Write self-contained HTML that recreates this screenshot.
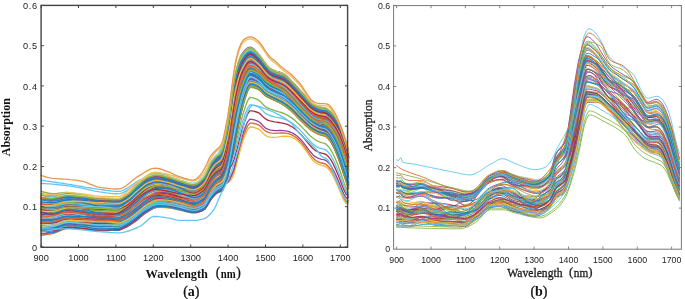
<!DOCTYPE html>
<html><head><meta charset="utf-8">
<style>
html,body{margin:0;padding:0;background:#fff;width:685px;height:299px;overflow:hidden}
svg{display:block}
.sans{font-family:"Liberation Sans",sans-serif}
.serif{font-family:"Liberation Serif",serif}
</style></head>
<body>
<svg width="685" height="299" viewBox="0 0 685 299">
<rect width="685" height="299" fill="#fff"/>
<defs><filter id="bl" x="-2%" y="-2%" width="104%" height="104%"><feGaussianBlur stdDeviation="0.4"/></filter></defs>
<g filter="url(#bl)">
<g fill="none" stroke-width="1.35" stroke-linejoin="round" stroke-linecap="round" opacity="0.88">
<path d="M41.1 180.2l2.2 .3 2.3 .3 2.2 .3 2.3 .4 2.2 .3 2.3 .3 2.2 .4 2.3 .3 2.2 .3 2.2 .4 2.3 .3 2.2 .4 2.3 .3 2.2 .4 2.3 .4 2.2 .4 2.2 .4 2.3 .4 2.2 .4 2.3 .4 2.2 .3 2.3 .4 2.2 .4 2.3 .3 2.2 .4 2.2 .3 2.3 .3 2.2 .3 2.3 .3 2.2 .3 2.3 .3 2.2 .3 2.3 .1 2.2 .1 2.2-.1 2.3-.5 2.2-.9 2.3-1.2 2.2-1.4 2.3-1.5 2.2-1.6 2.2-1.5 2.3-1.3 2.2-1.2 2.3-1.3 2.2-1.4 2.3-1.4 2.2-1.3 2.3-1 2.2-.7 2.2-.2 2.3 .2 2.2 .3 2.3 .5 2.2 .7 2.3 .8 2.2 .8 2.3 .9 2.2 .8 2.2 .9 2.3 .7 2.2 .7 2.3 .6 2.2 .7 2.3 .7 2.2 .6 2.2 .4 2.3 .2 2.2-.5 2.3-1.3 2.2-1.8 2.3-2.2 2.2-2.3 2.3-2.5 2.2-3.2 2.2-3.7 2.3-4 2.2-4.1 2.3-4.1 2.2-4 2.3-4.1 2.2-4.7 2.3-5.4 2.2-6.5 2.2-10.7 2.3-14 2.2-13.8 2.3-10.5 2.2-5.6 2.3-4.7 2.2-3.9 2.2-2.8 2.3-1.2 2.2 .2 2.3 .7 2.2 1.2 2.3 1.4 2.2 1.5 2.3 1.6 2.2 1.4 2.2 1.3 2.3 1.4 2.2 1.4 2.3 1.4 2.2 1.5 2.3 1.5 2.2 1.5 2.3 1.6 2.2 1.6 2.2 1.6 2.3 1.7 2.2 1.6 2.3 1.8 2.2 1.7 2.3 1.8 2.2 1.9 2.2 1.9 2.3 2 2.2 2 2.3 2 2.2 2.1 2.3 2.1 2.2 2.1 2.3 2 2.2 2.1 2.2 2 2.3 1.9 2.2 1.9 2.3 2.1 2.2 2.2 2.3 2.7 2.2 3.3 2.3 4 2.2 4.6 2.2 5.1 2.3 6.1 2.2 7.1" stroke="#4DBEEE"/>
<path d="M41.1 183.4l2.2 .1 2.3 .1 2.2 .2 2.3 .1 2.2 .2 2.3 .2 2.2 .2 2.3 .3 2.2 .2 2.2 .3 2.3 .2 2.2 .3 2.3 .3 2.2 .3 2.3 .4 2.2 .5 2.2 .4 2.3 .5 2.2 .5 2.3 .5 2.2 .5 2.3 .5 2.2 .4 2.3 .5 2.2 .3 2.2 .4 2.3 .3 2.2 .3 2.3 .4 2.2 .3 2.3 .3 2.2 .2 2.3 .2 2.2 0 2.2-.1 2.3-.5 2.2-1 2.3-1.3 2.2-1.4 2.3-1.6 2.2-1.6 2.2-1.5 2.3-1.4 2.2-1.2 2.3-1.3 2.2-1.3 2.3-1.3 2.2-1.2 2.3-1 2.2-.6 2.2-.2 2.3 .2 2.2 .3 2.3 .5 2.2 .5 2.3 .7 2.2 .8 2.3 .7 2.2 .8 2.2 .7 2.3 .7 2.2 .6 2.3 .5 2.2 .6 2.3 .7 2.2 .5 2.2 .3 2.3 .2 2.2-.4 2.3-.9 2.2-1.4 2.3-1.7 2.2-1.8 2.3-2.1 2.2-3 2.2-3.5 2.3-4 2.2-4 2.3-4 2.2-4 2.3-4.1 2.2-4.7 2.3-5.5 2.2-6.5 2.2-10.7 2.3-13.9 2.2-13.9 2.3-10.5 2.2-5.5 2.3-4.8 2.2-3.9 2.2-2.8 2.3-1.2 2.2 .2 2.3 .7 2.2 1.2 2.3 1.4 2.2 1.6 2.3 1.5 2.2 1.4 2.2 1.4 2.3 1.3 2.2 1.4 2.3 1.5 2.2 1.4 2.3 1.5 2.2 1.6 2.3 1.5 2.2 1.6 2.2 1.6 2.3 1.7 2.2 1.7 2.3 1.7 2.2 1.7 2.3 1.9 2.2 1.8 2.2 2 2.3 1.9 2.2 2 2.3 2.1 2.2 2 2.3 2.1 2.2 2.1 2.3 2.1 2.2 2 2.2 2.1 2.3 1.9 2.2 1.9 2.3 2 2.2 2.3 2.3 2.6 2.2 3.4 2.3 4.1 2.2 4.6 2.2 4.8 2.3 5.4 2.2 5.9" stroke="#4DBEEE"/>
<path d="M41.1 233.6l2.2-.2 2.3-.3 2.2-.4 2.3-.4 2.2-.4 2.3-.6 2.2-.8 2.3-.9 2.2-.9 2.2-.8 2.3-.6 2.2-.2 2.3 0 2.2 .1 2.3 .2 2.2 .2 2.2 .3 2.3 .2 2.2 .2 2.3 .3 2.2 .3 2.3 .4 2.2 .3 2.3 .3 2.2 .1 2.2 .1 2.3 0 2.2 0 2.3 .1 2.2 0 2.3 0 2.2 .1 2.3 0 2.2 0 2.2-.2 2.3-.9 2.2-1 2.3-1.1 2.2-1.3 2.3-1.4 2.2-1.4 2.2-1.6 2.3-1.7 2.2-1.9 2.3-2 2.2-1.8 2.3-1.6 2.2-1.3 2.3-1.4 2.2-1.3 2.2-.9 2.3-.4 2.2-.1 2.3-.1 2.2 .1 2.3 0 2.2 .2 2.3 .3 2.2 .5 2.2 .5 2.3 .6 2.2 .5 2.3 .6 2.2 .7 2.3 .6 2.2 .6 2.2 .4 2.3 .2 2.2-.2 2.3-.4 2.2-.7 2.3-1 2.2-1.4 2.3-3.2 2.2-4 2.2-3.3 2.3-2.8 2.2-2.3 2.3-1.4 2.2-.9 2.3-1.9 2.2-4.9 2.3-7.6 2.2-10.8 2.2-13.2 2.3-14.4 2.2-13.7 2.3-12.6 2.2-10.5 2.3-8.5 2.2-6.3 2.2-5.4 2.3-3 2.2 .3 2.3 .8 2.2 1.2 2.3 1.4 2.2 2.1 2.3 2.7 2.2 2.2 2.2 1.7 2.3 1.3 2.2 1.1 2.3 1.1 2.2 1 2.3 1 2.2 1.1 2.3 1.3 2.2 1.5 2.2 1.8 2.3 1.9 2.2 2.1 2.3 2.2 2.2 2.3 2.3 2.4 2.2 2.3 2.2 2.2 2.3 2.2 2.2 2.1 2.3 2 2.2 1.6 2.3 1.5 2.2 1.2 2.3 1 2.2 .7 2.2 .5 2.3 .9 2.2 2 2.3 2.8 2.2 3.7 2.3 4.5 2.2 4.9 2.3 5.6 2.2 6.4 2.2 6.7 2.3 7 2.2 7.3" stroke="#7E2F8E"/>
<path d="M41.1 205.7l2.2 .6 2.3 .4 2.2 .3 2.3 .2 2.2 .2 2.3-.1 2.2-.3 2.3-.5 2.2-.5 2.2-.5 2.3-.4 2.2-.1 2.3 0 2.2 .1 2.3 .1 2.2 .1 2.2 .1 2.3 .1 2.2 .1 2.3 .1 2.2 .2 2.3 .2 2.2 .2 2.3 .2 2.2 .2 2.2 .1 2.3 .1 2.2 .1 2.3 .1 2.2 .2 2.3 .2 2.2 .2 2.3 .2 2.2 .2 2.2 0 2.3-.7 2.2-1 2.3-1.3 2.2-1.3 2.3-1.7 2.2-1.9 2.2-2.1 2.3-2 2.2-2 2.3-2 2.2-1.9 2.3-1.5 2.2-1.2 2.3-1.1 2.2-.9 2.2-.6 2.3-.1 2.2 .1 2.3 .3 2.2 .4 2.3 .4 2.2 .5 2.3 .6 2.2 .7 2.2 .9 2.3 .9 2.2 .8 2.3 .8 2.2 1 2.3 .9 2.2 .8 2.2 .6 2.3 .3 2.2-.2 2.3-.9 2.2-1.4 2.3-1.8 2.2-2.3 2.3-4.3 2.2-4.9 2.2-4 2.3-3 2.2-2.5 2.3-1.6 2.2-1.7 2.3-3.5 2.2-6.4 2.3-6.8 2.2-8.3 2.2-10.7 2.3-10.4 2.2-8 2.3-7.7 2.2-7.3 2.3-7.2 2.2-6.2 2.2-5.2 2.3-3 2.2 0 2.3 .8 2.2 1.1 2.3 1.3 2.2 2 2.3 2.6 2.2 2.2 2.2 1.7 2.3 1.4 2.2 1.2 2.3 1.1 2.2 1.2 2.3 1.1 2.2 1.3 2.3 1.4 2.2 1.7 2.2 2 2.3 2.2 2.2 2.3 2.3 2.4 2.2 2.5 2.3 2.5 2.2 2.4 2.2 2.2 2.3 2.2 2.2 2.1 2.3 2 2.2 1.5 2.3 1.3 2.2 1.1 2.3 .8 2.2 .5 2.2 .3 2.3 .6 2.2 1.8 2.3 2.3 2.2 3.3 2.3 4 2.2 4.4 2.3 5.2 2.2 5.9 2.2 6.3 2.3 6.6 2.2 7" stroke="#4DBEEE"/>
<path d="M41.1 229.1l2.2 0 2.3-.1 2.2-.1 2.3-.2 2.2-.3 2.3-.4 2.2-.7 2.3-.7 2.2-.8 2.2-.7 2.3-.5 2.2-.2 2.3 0 2.2 .2 2.3 .1 2.2 .3 2.2 .2 2.3 .2 2.2 .2 2.3 .3 2.2 .3 2.3 .4 2.2 .3 2.3 .2 2.2 .2 2.2 .1 2.3 0 2.2 0 2.3 0 2.2 0 2.3-.1 2.2 0 2.3-.1 2.2-.1 2.2-.3 2.3-.9 2.2-1.2 2.3-1.2 2.2-1.4 2.3-1.5 2.2-1.5 2.2-1.7 2.3-1.7 2.2-1.9 2.3-1.9 2.2-1.7 2.3-1.5 2.2-1.2 2.3-1.2 2.2-1.1 2.2-.7 2.3-.3 2.2 0 2.3 .1 2.2 .2 2.3 .1 2.2 .2 2.3 .4 2.2 .5 2.2 .5 2.3 .6 2.2 .6 2.3 .5 2.2 .7 2.3 .6 2.2 .6 2.2 .4 2.3 .2 2.2-.2 2.3-.5 2.2-.8 2.3-1.1 2.2-1.5 2.3-3.4 2.2-4 2.2-3.4 2.3-2.7 2.2-2.3 2.3-1.4 2.2-1 2.3-1.8 2.2-4.6 2.3-6.6 2.2-9.3 2.2-11.3 2.3-12.2 2.2-11.9 2.3-11.3 2.2-10 2.3-9 2.2-6.9 2.2-6.1 2.3-3.4 2.2 0 2.3 .6 2.2 .9 2.3 1.1 2.2 1.8 2.3 2.6 2.2 2 2.2 1.5 2.3 1.2 2.2 1 2.3 1.1 2.2 1.1 2.3 1.1 2.2 1.2 2.3 1.4 2.2 1.5 2.2 1.8 2.3 1.9 2.2 2 2.3 2.2 2.2 2.4 2.3 2.3 2.2 2.3 2.2 2.2 2.3 2.1 2.2 2.1 2.3 1.9 2.2 1.7 2.3 1.4 2.2 1.2 2.3 1 2.2 .7 2.2 .5 2.3 .9 2.2 2.1 2.3 2.8 2.2 3.8 2.3 4.7 2.2 5.1 2.3 5.8 2.2 6.6 2.2 6.6 2.3 6.9 2.2 7.1" stroke="#D95319"/>
<path d="M41.1 213.9l2.2-.1 2.3-.1 2.2-.2 2.3-.2 2.2-.2 2.3-.5 2.2-.6 2.3-.7 2.2-.8 2.2-.6 2.3-.5 2.2-.2 2.3 .1 2.2 .3 2.3 .4 2.2 .5 2.2 .5 2.3 .6 2.2 .6 2.3 .6 2.2 .7 2.3 .6 2.2 .7 2.3 .5 2.2 .3 2.2 .2 2.3 0 2.2 0 2.3-.1 2.2-.1 2.3-.2 2.2-.2 2.3-.3 2.2-.2 2.2-.5 2.3-1.2 2.2-1.5 2.3-1.5 2.2-1.6 2.3-1.9 2.2-1.9 2.2-2 2.3-1.9 2.2-1.9 2.3-1.9 2.2-1.7 2.3-1.4 2.2-1 2.3-1 2.2-.8 2.2-.4 2.3-.1 2.2 .3 2.3 .3 2.2 .5 2.3 .4 2.2 .4 2.3 .6 2.2 .6 2.2 .8 2.3 .7 2.2 .7 2.3 .7 2.2 .7 2.3 .7 2.2 .7 2.2 .4 2.3 .2 2.2-.3 2.3-.8 2.2-1.3 2.3-1.6 2.2-2.1 2.3-4.2 2.2-4.9 2.2-3.9 2.3-3.1 2.2-2.7 2.3-1.8 2.2-1.6 2.3-4.1 2.2-8.5 2.3-10.9 2.2-14 2.2-18.1 2.3-18.5 2.2-13.7 2.3-11 2.2-7.6 2.3-4.6 2.2-3.2 2.2-2.5 2.3-1.2 2.2 .5 2.3 1.5 2.2 2.2 2.3 2.2 2.2 2.7 2.3 3.2 2.2 2.8 2.2 2.6 2.3 2 2.2 1.2 2.3 1 2.2 .8 2.3 .7 2.2 .7 2.3 .9 2.2 1.4 2.2 2 2.3 2.2 2.2 2.3 2.3 2.3 2.2 2.4 2.3 2.5 2.2 2.5 2.2 2.4 2.3 2.5 2.2 2.5 2.3 2.2 2.2 1.8 2.3 1.4 2.2 1.2 2.3 .9 2.2 .5 2.2 .3 2.3 .7 2.2 1.6 2.3 2.1 2.2 2.8 2.3 3.3 2.2 3.6 2.3 4.3 2.2 5.4 2.2 6.7 2.3 7.4 2.2 8.4" stroke="#EDB120"/>
<path d="M41.1 211.1l2.2 .2 2.3 .1 2.2 0 2.3-.1 2.2-.1 2.3-.3 2.2-.6 2.3-.6 2.2-.7 2.2-.6 2.3-.5 2.2-.2 2.3 .1 2.2 .1 2.3 .2 2.2 .2 2.2 .2 2.3 .2 2.2 .3 2.3 .2 2.2 .4 2.3 .3 2.2 .3 2.3 .3 2.2 .1 2.2 .1 2.3 0 2.2-.1 2.3 0 2.2-.1 2.3-.1 2.2-.2 2.3-.1 2.2-.2 2.2-.4 2.3-1.1 2.2-1.4 2.3-1.5 2.2-1.6 2.3-1.9 2.2-2 2.2-2 2.3-2 2.2-1.9 2.3-1.9 2.2-1.7 2.3-1.4 2.2-1 2.3-1 2.2-.7 2.2-.4 2.3-.1 2.2 .3 2.3 .4 2.2 .4 2.3 .5 2.2 .4 2.3 .6 2.2 .6 2.2 .7 2.3 .6 2.2 .6 2.3 .6 2.2 .6 2.3 .6 2.2 .6 2.2 .3 2.3 .1 2.2-.4 2.3-1 2.2-1.4 2.3-1.8 2.2-2.2 2.3-4.2 2.2-4.8 2.2-3.8 2.3-2.9 2.2-2.3 2.3-1.5 2.2-1.4 2.3-3.6 2.2-7 2.3-8.1 2.2-10.2 2.2-13.2 2.3-13 2.2-9.7 2.3-8.6 2.2-7.2 2.3-6 2.2-4.9 2.2-4 2.3-2.2 2.2 .4 2.3 1.3 2.2 1.6 2.3 1.8 2.2 2.4 2.3 2.9 2.2 2.5 2.2 2.1 2.3 1.6 2.2 1.2 2.3 .9 2.2 .9 2.3 .8 2.2 .9 2.3 1 2.2 1.4 2.2 1.7 2.3 1.9 2.2 2.1 2.3 2.2 2.2 2.2 2.3 2.4 2.2 2.3 2.2 2.3 2.3 2.3 2.2 2.2 2.3 2.1 2.2 1.6 2.3 1.4 2.2 1.1 2.3 .9 2.2 .5 2.2 .4 2.3 .7 2.2 1.8 2.3 2.4 2.2 3.2 2.3 3.8 2.2 4.3 2.3 5 2.2 5.8 2.2 6.6 2.3 7.1 2.2 7.7" stroke="#D95319"/>
<path d="M41.1 203.4l2.2 .4 2.3 .3 2.2 .2 2.3 .1 2.2 0 2.3-.1 2.2-.4 2.3-.5 2.2-.6 2.2-.5 2.3-.4 2.2-.2 2.3 0 2.2 .1 2.3 .1 2.2 .2 2.2 .2 2.3 .1 2.2 .2 2.3 .2 2.2 .3 2.3 .3 2.2 .3 2.3 .3 2.2 .2 2.2 .1 2.3 0 2.2 .1 2.3 .1 2.2 .1 2.3 .1 2.2 .1 2.3 .1 2.2 .1 2.2-.1 2.3-.8 2.2-1.3 2.3-1.3 2.2-1.5 2.3-1.8 2.2-2.1 2.2-2.1 2.3-2.1 2.2-2.1 2.3-2 2.2-2 2.3-1.6 2.2-1.2 2.3-1.1 2.2-.9 2.2-.6 2.3-.1 2.2 .1 2.3 .3 2.2 .4 2.3 .5 2.2 .5 2.3 .6 2.2 .8 2.2 .8 2.3 .8 2.2 .8 2.3 .7 2.2 .9 2.3 .9 2.2 .7 2.2 .5 2.3 .3 2.2-.3 2.3-1 2.2-1.6 2.3-1.9 2.2-2.4 2.3-4.4 2.2-5 2.2-4 2.3-2.9 2.2-2.4 2.3-1.5 2.2-1.7 2.3-4.2 2.2-8.3 2.3-9.6 2.2-11.7 2.2-15.4 2.3-15.1 2.2-10.1 2.3-8.5 2.2-6.4 2.3-4.7 2.2-3.9 2.2-3.1 2.3-1.6 2.2 .3 2.3 1.2 2.2 1.8 2.3 1.9 2.2 2.5 2.3 2.9 2.2 2.6 2.2 2.3 2.3 1.8 2.2 1.2 2.3 .9 2.2 .8 2.3 .8 2.2 .7 2.3 1 2.2 1.4 2.2 1.9 2.3 2.2 2.2 2.3 2.3 2.3 2.2 2.4 2.3 2.5 2.2 2.5 2.2 2.3 2.3 2.5 2.2 2.5 2.3 2.2 2.2 1.8 2.3 1.5 2.2 1.2 2.3 1 2.2 .6 2.2 .5 2.3 .8 2.2 1.8 2.3 2.3 2.2 3 2.3 3.6 2.2 3.9 2.3 4.6 2.2 5.7 2.2 6.8 2.3 7.5 2.2 8.3" stroke="#77AC30"/>
<path d="M41.1 199.6l2.2 .4 2.3 .3 2.2 .2 2.3 .1 2.2 .1 2.3-.2 2.2-.3 2.3-.5 2.2-.5 2.2-.5 2.3-.3 2.2-.1 2.3 .1 2.2 .1 2.3 .3 2.2 .3 2.2 .3 2.3 .3 2.2 .3 2.3 .4 2.2 .4 2.3 .4 2.2 .4 2.3 .4 2.2 .3 2.2 .2 2.3 .1 2.2 .1 2.3 0 2.2 .1 2.3-.1 2.2 0 2.3-.1 2.2 0 2.2-.3 2.3-1 2.2-1.4 2.3-1.5 2.2-1.6 2.3-1.9 2.2-2.2 2.2-2.2 2.3-2.1 2.2-2 2.3-1.9 2.2-1.8 2.3-1.5 2.2-1 2.3-.8 2.2-.7 2.2-.4 2.3 .1 2.2 .3 2.3 .4 2.2 .6 2.3 .6 2.2 .5 2.3 .6 2.2 .8 2.2 .8 2.3 .7 2.2 .7 2.3 .7 2.2 .8 2.3 .8 2.2 .6 2.2 .5 2.3 .1 2.2-.4 2.3-1.1 2.2-1.7 2.3-2 2.2-2.6 2.3-4.6 2.2-5.2 2.2-4.1 2.3-3.1 2.2-2.4 2.3-1.7 2.2-1.8 2.3-4.6 2.2-8.8 2.3-10 2.2-12.1 2.2-16 2.3-15.5 2.2-10.2 2.3-8.2 2.2-6 2.3-4.1 2.2-3.5 2.2-2.6 2.3-1.2 2.2 .4 2.3 1.6 2.2 2.1 2.3 2.2 2.2 2.6 2.3 3.2 2.2 2.8 2.2 2.5 2.3 2 2.2 1.2 2.3 1 2.2 .8 2.3 .8 2.2 .8 2.3 .9 2.2 1.4 2.2 2 2.3 2.2 2.2 2.4 2.3 2.3 2.2 2.4 2.3 2.5 2.2 2.5 2.2 2.4 2.3 2.5 2.2 2.4 2.3 2.3 2.2 1.7 2.3 1.4 2.2 1.2 2.3 .8 2.2 .5 2.2 .4 2.3 .6 2.2 1.6 2.3 2.1 2.2 2.8 2.3 3.3 2.2 3.7 2.3 4.3 2.2 5.4 2.2 6.6 2.3 7.4 2.2 8.3" stroke="#EDB120"/>
<path d="M41.1 203l2.2 .3 2.3 .2 2.2 .1 2.3 0 2.2-.1 2.3-.3 2.2-.5 2.3-.6 2.2-.6 2.2-.6 2.3-.5 2.2-.2 2.3-.1 2.2 0 2.3 0 2.2 0 2.2 .1 2.3 0 2.2 0 2.3 .1 2.2 .1 2.3 .1 2.2 .2 2.3 .1 2.2 .1 2.2 .1 2.3 0 2.2 0 2.3 .1 2.2 .1 2.3 .1 2.2 .1 2.3 .1 2.2 .1 2.2-.1 2.3-.8 2.2-1.2 2.3-1.4 2.2-1.5 2.3-1.8 2.2-2.2 2.2-2.2 2.3-2.1 2.2-2 2.3-2 2.2-1.9 2.3-1.5 2.2-1 2.3-1 2.2-.7 2.2-.5 2.3 0 2.2 .2 2.3 .4 2.2 .5 2.3 .6 2.2 .5 2.3 .7 2.2 .7 2.2 .8 2.3 .8 2.2 .7 2.3 .7 2.2 .8 2.3 .8 2.2 .7 2.2 .4 2.3 .2 2.2-.4 2.3-1.1 2.2-1.7 2.3-2 2.2-2.6 2.3-4.6 2.2-5.2 2.2-4.1 2.3-3 2.2-2.4 2.3-1.6 2.2-1.8 2.3-4.4 2.2-8.5 2.3-9.5 2.2-11.3 2.2-15.1 2.3-14.5 2.2-9.4 2.3-7.8 2.2-6.1 2.3-4.5 2.2-3.8 2.2-3 2.3-1.6 2.2 .4 2.3 1.4 2.2 1.9 2.3 2.1 2.2 2.5 2.3 3.1 2.2 2.7 2.2 2.3 2.3 2 2.2 1.2 2.3 .9 2.2 .8 2.3 .7 2.2 .8 2.3 .8 2.2 1.4 2.2 1.9 2.3 2.1 2.2 2.2 2.3 2.2 2.2 2.3 2.3 2.5 2.2 2.4 2.2 2.4 2.3 2.5 2.2 2.4 2.3 2.3 2.2 1.7 2.3 1.5 2.2 1.3 2.3 1 2.2 .6 2.2 .5 2.3 .9 2.2 1.8 2.3 2.3 2.2 3 2.3 3.7 2.2 4 2.3 4.7 2.2 5.7 2.2 6.8 2.3 7.6 2.2 8.4" stroke="#D95319"/>
<path d="M41.1 202.3l2.2 .3 2.3 .2 2.2 .1 2.3 0 2.2-.1 2.3-.3 2.2-.4 2.3-.6 2.2-.6 2.2-.6 2.3-.4 2.2-.2 2.3 0 2.2 .1 2.3 .2 2.2 .2 2.2 .3 2.3 .2 2.2 .2 2.3 .3 2.2 .4 2.3 .3 2.2 .4 2.3 .3 2.2 .2 2.2 .1 2.3 .1 2.2 0 2.3 0 2.2-.1 2.3 0 2.2-.1 2.3 0 2.2-.1 2.2-.3 2.3-1 2.2-1.5 2.3-1.5 2.2-1.6 2.3-2 2.2-2.2 2.2-2.2 2.3-2.1 2.2-1.9 2.3-2 2.2-1.9 2.3-1.5 2.2-1 2.3-1 2.2-.7 2.2-.4 2.3 0 2.2 .2 2.3 .4 2.2 .5 2.3 .6 2.2 .5 2.3 .7 2.2 .8 2.2 .8 2.3 .8 2.2 .8 2.3 .8 2.2 .8 2.3 .9 2.2 .7 2.2 .5 2.3 .3 2.2-.4 2.3-1.1 2.2-1.6 2.3-2 2.2-2.5 2.3-4.5 2.2-5.2 2.2-4 2.3-3 2.2-2.4 2.3-1.6 2.2-1.7 2.3-4.6 2.2-9 2.3-10.3 2.2-12.7 2.2-16.8 2.3-16.4 2.2-10.7 2.3-8.5 2.2-6.1 2.3-3.9 2.2-3.1 2.2-2.4 2.3-1.2 2.2 .4 2.3 1.5 2.2 2.1 2.3 2.2 2.2 2.6 2.3 3.1 2.2 2.8 2.2 2.5 2.3 2.1 2.2 1.2 2.3 .9 2.2 .8 2.3 .7 2.2 .7 2.3 .9 2.2 1.4 2.2 2 2.3 2.3 2.2 2.3 2.3 2.3 2.2 2.5 2.3 2.5 2.2 2.5 2.2 2.4 2.3 2.6 2.2 2.5 2.3 2.3 2.2 1.8 2.3 1.4 2.2 1.3 2.3 .9 2.2 .6 2.2 .4 2.3 .8 2.2 1.6 2.3 2.2 2.2 2.8 2.3 3.3 2.2 3.6 2.3 4.3 2.2 5.5 2.2 6.7 2.3 7.6 2.2 8.5" stroke="#A2142F"/>
<path d="M41.1 216.5l2.2 .4 2.3 .3 2.2 .3 2.3 .1 2.2 .1 2.3-.2 2.2-.4 2.3-.5 2.2-.6 2.2-.5 2.3-.4 2.2-.1 2.3 .1 2.2 0 2.3 .2 2.2 .1 2.2 0 2.3 .1 2.2 .1 2.3 .1 2.2 .2 2.3 .2 2.2 .2 2.3 .2 2.2 .2 2.2 .1 2.3 .1 2.2 .2 2.3 .1 2.2 .2 2.3 .1 2.2 .2 2.3 .2 2.2 .2 2.2 0 2.3-.7 2.2-1 2.3-1.1 2.2-1.2 2.3-1.5 2.2-1.7 2.2-1.8 2.3-2 2.2-1.9 2.3-1.9 2.2-1.9 2.3-1.5 2.2-1.3 2.3-1.2 2.2-1 2.2-.7 2.3-.3 2.2 .1 2.3 .1 2.2 .3 2.3 .2 2.2 .4 2.3 .4 2.2 .7 2.2 .7 2.3 .8 2.2 .7 2.3 .7 2.2 .9 2.3 .8 2.2 .7 2.2 .6 2.3 .2 2.2-.1 2.3-.7 2.2-1.1 2.3-1.4 2.2-1.9 2.3-3.8 2.2-4.5 2.2-3.7 2.3-2.8 2.2-2.4 2.3-1.5 2.2-1.3 2.3-2.7 2.2-5.5 2.3-6.8 2.2-8.9 2.2-11.1 2.3-11.3 2.2-10 2.3-9.6 2.2-8.9 2.3-8.2 2.2-6.6 2.2-5.7 2.3-3.3 2.2 0 2.3 .6 2.2 .9 2.3 1.1 2.2 1.9 2.3 2.5 2.2 2.1 2.2 1.5 2.3 1.3 2.2 1.1 2.3 1.1 2.2 1.1 2.3 1 2.2 1.2 2.3 1.3 2.2 1.5 2.2 1.8 2.3 1.9 2.2 2.1 2.3 2.3 2.2 2.3 2.3 2.4 2.2 2.3 2.2 2.2 2.3 2.2 2.2 2.2 2.3 2 2.2 1.7 2.3 1.4 2.2 1.2 2.3 1.1 2.2 .6 2.2 .6 2.3 .9 2.2 2.1 2.3 2.7 2.2 3.8 2.3 4.5 2.2 5 2.3 5.7 2.2 6.5 2.2 6.7 2.3 6.9 2.2 7.3" stroke="#4DBEEE"/>
<path d="M41.1 217.7l2.2 .2 2.3 .2 2.2 0 2.3 0 2.2-.1 2.3-.3 2.2-.5 2.3-.7 2.2-.7 2.2-.6 2.3-.5 2.2-.2 2.3 0 2.2 0 2.3 0 2.2 .1 2.2 0 2.3 0 2.2 0 2.3 0 2.2 .1 2.3 .2 2.2 .1 2.3 0 2.2 .1 2.2 0 2.3-.1 2.2-.1 2.3 0 2.2-.1 2.3 0 2.2-.1 2.3-.1 2.2-.1 2.2-.3 2.3-.9 2.2-1.3 2.3-1.4 2.2-1.5 2.3-1.7 2.2-1.9 2.2-1.9 2.3-1.9 2.2-1.9 2.3-2 2.2-1.7 2.3-1.5 2.2-1.1 2.3-1.1 2.2-.8 2.2-.6 2.3-.1 2.2 .1 2.3 .3 2.2 .4 2.3 .3 2.2 .4 2.3 .5 2.2 .6 2.2 .7 2.3 .7 2.2 .6 2.3 .6 2.2 .7 2.3 .7 2.2 .6 2.2 .5 2.3 .1 2.2-.3 2.3-.9 2.2-1.2 2.3-1.6 2.2-2 2.3-3.9 2.2-4.5 2.2-3.7 2.3-2.7 2.2-2.2 2.3-1.3 2.2-1.2 2.3-3 2.2-6.5 2.3-7.9 2.2-10.3 2.2-13.1 2.3-13.4 2.2-10.6 2.3-9.6 2.2-8.1 2.3-6.8 2.2-5.5 2.2-4.6 2.3-2.6 2.2 .1 2.3 .8 2.2 1.3 2.3 1.5 2.2 2 2.3 2.8 2.2 2.3 2.2 1.8 2.3 1.6 2.2 1.1 2.3 1.1 2.2 1 2.3 .9 2.2 1 2.3 1.2 2.2 1.5 2.2 1.9 2.3 2 2.2 2.2 2.3 2.2 2.2 2.4 2.3 2.4 2.2 2.4 2.2 2.3 2.3 2.2 2.2 2.3 2.3 1.9 2.2 1.6 2.3 1.3 2.2 1.1 2.3 .7 2.2 .5 2.2 .2 2.3 .6 2.2 1.7 2.3 2.3 2.2 3.1 2.3 3.8 2.2 4.2 2.3 5 2.2 5.8 2.2 6.4 2.3 6.8 2.2 7.5" stroke="#77AC30"/>
<path d="M41.1 220.2l2.2 .1 2.3 .1 2.2-.1 2.3-.1 2.2-.1 2.3-.4 2.2-.5 2.3-.7 2.2-.8 2.2-.6 2.3-.5 2.2-.2 2.3 .1 2.2 .1 2.3 .2 2.2 .2 2.2 .3 2.3 .2 2.2 .2 2.3 .3 2.2 .3 2.3 .4 2.2 .3 2.3 .2 2.2 .2 2.2 0 2.3 0 2.2-.1 2.3 0 2.2-.1 2.3-.1 2.2-.1 2.3-.1 2.2-.1 2.2-.4 2.3-1 2.2-1.3 2.3-1.4 2.2-1.4 2.3-1.7 2.2-1.8 2.2-1.9 2.3-1.8 2.2-1.9 2.3-1.9 2.2-1.7 2.3-1.4 2.2-1.1 2.3-1 2.2-.9 2.2-.6 2.3-.1 2.2 .2 2.3 .3 2.2 .3 2.3 .3 2.2 .3 2.3 .5 2.2 .6 2.2 .7 2.3 .6 2.2 .6 2.3 .6 2.2 .7 2.3 .7 2.2 .6 2.2 .4 2.3 .2 2.2-.3 2.3-.7 2.2-1.1 2.3-1.4 2.2-1.9 2.3-3.9 2.2-4.5 2.2-3.7 2.3-2.9 2.2-2.4 2.3-1.5 2.2-1.4 2.3-2.9 2.2-6.5 2.3-8.3 2.2-11 2.2-13.8 2.3-14.4 2.2-11.8 2.3-10.5 2.2-8.5 2.3-6.9 2.2-5.2 2.2-4.4 2.3-2.4 2.2 .4 2.3 1.1 2.2 1.6 2.3 1.7 2.2 2.3 2.3 2.9 2.2 2.4 2.2 2 2.3 1.5 2.2 1.1 2.3 1 2.2 .8 2.3 .8 2.2 .8 2.3 1 2.2 1.3 2.2 1.6 2.3 1.9 2.2 1.9 2.3 2.1 2.2 2.2 2.3 2.4 2.2 2.3 2.2 2.2 2.3 2.3 2.2 2.3 2.3 2 2.2 1.7 2.3 1.4 2.2 1.2 2.3 1 2.2 .6 2.2 .5 2.3 .9 2.2 1.9 2.3 2.5 2.2 3.5 2.3 4.1 2.2 4.6 2.3 5.3 2.2 6.2 2.2 6.8 2.3 7.3 2.2 7.9" stroke="#EDB120"/>
<path d="M41.1 209.2l2.2 .3 2.3 .2 2.2 .1 2.3 .1 2.2 0 2.3-.2 2.2-.4 2.3-.6 2.2-.5 2.2-.5 2.3-.3 2.2-.1 2.3 .1 2.2 .2 2.3 .3 2.2 .4 2.2 .3 2.3 .4 2.2 .3 2.3 .4 2.2 .5 2.3 .5 2.2 .4 2.3 .4 2.2 .3 2.2 .3 2.3 .1 2.2 .1 2.3 .1 2.2 0 2.3 .1 2.2 0 2.3 0 2.2 0 2.2-.3 2.3-.9 2.2-1.2 2.3-1.4 2.2-1.4 2.3-1.8 2.2-1.9 2.2-2 2.3-2 2.2-2 2.3-2 2.2-1.9 2.3-1.5 2.2-1.2 2.3-1.1 2.2-1 2.2-.6 2.3-.2 2.2 .1 2.3 .3 2.2 .3 2.3 .4 2.2 .4 2.3 .6 2.2 .6 2.2 .7 2.3 .8 2.2 .7 2.3 .6 2.2 .8 2.3 .8 2.2 .6 2.2 .5 2.3 .2 2.2-.3 2.3-.9 2.2-1.4 2.3-1.7 2.2-2.2 2.3-4.1 2.2-4.9 2.2-3.9 2.3-2.9 2.2-2.5 2.3-1.7 2.2-1.5 2.3-3.9 2.2-8 2.3-9.9 2.2-12.6 2.2-16.3 2.3-16.5 2.2-12.1 2.3-10.1 2.2-7.4 2.3-5.1 2.2-3.9 2.2-3.1 2.3-1.6 2.2 .4 2.3 1.3 2.2 1.9 2.3 2.1 2.2 2.5 2.3 3 2.2 2.7 2.2 2.4 2.3 1.9 2.2 1.3 2.3 1 2.2 1 2.3 1 2.2 .9 2.3 1.2 2.2 1.6 2.2 2.1 2.3 2.4 2.2 2.4 2.3 2.4 2.2 2.5 2.3 2.6 2.2 2.5 2.2 2.4 2.3 2.4 2.2 2.4 2.3 2.1 2.2 1.7 2.3 1.3 2.2 1.1 2.3 .7 2.2 .4 2.2 .2 2.3 .6 2.2 1.4 2.3 2 2.2 2.7 2.3 3.3 2.2 3.6 2.3 4.2 2.2 5.3 2.2 6.4 2.3 7 2.2 7.8" stroke="#EDB120"/>
<path d="M41.1 210.9l2.2 .2 2.3 0 2.2 0 2.3-.1 2.2-.1 2.3-.4 2.2-.5 2.3-.7 2.2-.7 2.2-.6 2.3-.5 2.2-.2 2.3 0 2.2 .1 2.3 .2 2.2 .2 2.2 .2 2.3 .2 2.2 .2 2.3 .3 2.2 .3 2.3 .4 2.2 .3 2.3 .3 2.2 .2 2.2 .1 2.3 .1 2.2 .1 2.3 .1 2.2 .2 2.3 .1 2.2 .2 2.3 .2 2.2 .2 2.2 0 2.3-.8 2.2-1 2.3-1.3 2.2-1.3 2.3-1.7 2.2-1.9 2.2-2 2.3-2.1 2.2-2 2.3-2.1 2.2-2 2.3-1.7 2.2-1.3 2.3-1.3 2.2-1.1 2.2-.8 2.3-.3 2.2 0 2.3 .2 2.2 .2 2.3 .4 2.2 .4 2.3 .5 2.2 .7 2.2 .7 2.3 .7 2.2 .6 2.3 .7 2.2 .7 2.3 .7 2.2 .6 2.2 .5 2.3 .1 2.2-.3 2.3-1 2.2-1.4 2.3-1.7 2.2-2.2 2.3-4.2 2.2-4.8 2.2-3.9 2.3-2.8 2.2-2.4 2.3-1.5 2.2-1.5 2.3-3.5 2.2-7.2 2.3-8.5 2.2-10.7 2.2-13.8 2.3-13.7 2.2-10.3 2.3-8.9 2.2-7.3 2.3-5.9 2.2-4.8 2.2-3.9 2.3-2.2 2.2 .4 2.3 1.1 2.2 1.7 2.3 1.7 2.2 2.4 2.3 2.9 2.2 2.5 2.2 2.1 2.3 1.6 2.2 1.2 2.3 1 2.2 1 2.3 .9 2.2 .9 2.3 1.2 2.2 1.5 2.2 1.9 2.3 2.1 2.2 2.2 2.3 2.3 2.2 2.4 2.3 2.4 2.2 2.5 2.2 2.3 2.3 2.3 2.2 2.4 2.3 2.1 2.2 1.7 2.3 1.4 2.2 1.2 2.3 1 2.2 .6 2.2 .4 2.3 .8 2.2 1.8 2.3 2.5 2.2 3.2 2.3 3.8 2.2 4.3 2.3 4.9 2.2 5.9 2.2 6.7 2.3 7.2 2.2 7.8" stroke="#7E2F8E"/>
<path d="M41.1 221.3l2.2 .1 2.3 .1 2.2 0 2.3-.1 2.2-.1 2.3-.3 2.2-.6 2.3-.7 2.2-.7 2.2-.6 2.3-.4 2.2-.1 2.3 .1 2.2 .1 2.3 .3 2.2 .2 2.2 .3 2.3 .2 2.2 .3 2.3 .3 2.2 .3 2.3 .4 2.2 .3 2.3 .3 2.2 .3 2.2 .1 2.3 .1 2.2 .1 2.3 .1 2.2 0 2.3 .1 2.2 0 2.3 .1 2.2 0 2.2-.1 2.3-.9 2.2-1.1 2.3-1.2 2.2-1.3 2.3-1.5 2.2-1.7 2.2-1.7 2.3-1.9 2.2-1.9 2.3-2 2.2-1.8 2.3-1.6 2.2-1.3 2.3-1.2 2.2-1.1 2.2-.8 2.3-.3 2.2-.1 2.3 .1 2.2 .2 2.3 .2 2.2 .3 2.3 .4 2.2 .5 2.2 .7 2.3 .6 2.2 .6 2.3 .6 2.2 .6 2.3 .7 2.2 .6 2.2 .4 2.3 .1 2.2-.2 2.3-.7 2.2-1 2.3-1.2 2.2-1.8 2.3-3.6 2.2-4.3 2.2-3.6 2.3-2.7 2.2-2.3 2.3-1.5 2.2-1.1 2.3-2.2 2.2-4.7 2.3-6 2.2-8 2.2-9.9 2.3-10.2 2.2-9.9 2.3-9.7 2.2-9.2 2.3-8.9 2.2-7.2 2.2-6.2 2.3-3.5 2.2 0 2.3 .6 2.2 .9 2.3 1 2.2 1.9 2.3 2.5 2.2 2 2.2 1.4 2.3 1.1 2.2 1.1 2.3 1.1 2.2 1 2.3 1.1 2.2 1.1 2.3 1.3 2.2 1.5 2.2 1.6 2.3 1.8 2.2 2 2.3 2.1 2.2 2.3 2.3 2.3 2.2 2.2 2.2 2.1 2.3 2.2 2.2 2 2.3 2 2.2 1.6 2.3 1.5 2.2 1.3 2.3 1 2.2 .8 2.2 .6 2.3 1 2.2 2.2 2.3 3 2.2 4 2.3 4.9 2.2 5.3 2.3 6.1 2.2 6.7 2.2 6.8 2.3 7 2.2 7.2" stroke="#EDB120"/>
<path d="M41.1 207l2.2 .2 2.3 .2 2.2 0 2.3 0 2.2-.1 2.3-.2 2.2-.5 2.3-.7 2.2-.6 2.2-.6 2.3-.4 2.2-.2 2.3 0 2.2 .1 2.3 .2 2.2 .2 2.2 .2 2.3 .2 2.2 .2 2.3 .3 2.2 .3 2.3 .3 2.2 .4 2.3 .2 2.2 .2 2.2 .2 2.3 0 2.2 0 2.3 0 2.2 0 2.3 0 2.2 0 2.3 0 2.2 0 2.2-.2 2.3-1 2.2-1.3 2.3-1.4 2.2-1.5 2.3-1.8 2.2-2.1 2.2-2 2.3-2.1 2.2-1.8 2.3-2 2.2-1.7 2.3-1.4 2.2-1 2.3-.9 2.2-.7 2.2-.4 2.3 .1 2.2 .3 2.3 .4 2.2 .5 2.3 .5 2.2 .4 2.3 .6 2.2 .7 2.2 .7 2.3 .7 2.2 .7 2.3 .6 2.2 .7 2.3 .7 2.2 .6 2.2 .5 2.3 .1 2.2-.4 2.3-1.1 2.2-1.5 2.3-1.9 2.2-2.3 2.3-4.4 2.2-5 2.2-4 2.3-3 2.2-2.5 2.3-1.6 2.2-1.7 2.3-4.2 2.2-8.6 2.3-10.4 2.2-12.9 2.2-17 2.3-16.9 2.2-11.8 2.3-9.5 2.2-6.8 2.3-4.4 2.2-3.4 2.2-2.6 2.3-1.3 2.2 .5 2.3 1.5 2.2 2 2.3 2.2 2.2 2.6 2.3 3.2 2.2 2.7 2.2 2.6 2.3 2 2.2 1.2 2.3 1 2.2 .9 2.3 .8 2.2 .8 2.3 1 2.2 1.6 2.2 2 2.3 2.3 2.2 2.4 2.3 2.4 2.2 2.4 2.3 2.6 2.2 2.5 2.2 2.4 2.3 2.6 2.2 2.5 2.3 2.2 2.2 1.7 2.3 1.4 2.2 1.2 2.3 .9 2.2 .5 2.2 .4 2.3 .6 2.2 1.6 2.3 2.1 2.2 2.7 2.3 3.3 2.2 3.6 2.3 4.3 2.2 5.3 2.2 6.6 2.3 7.4 2.2 8.2" stroke="#77AC30"/>
<path d="M41.1 222.9l2.2 0 2.3-.1 2.2-.2 2.3-.2 2.2-.3 2.3-.4 2.2-.7 2.3-.8 2.2-.8 2.2-.6 2.3-.5 2.2-.2 2.3 0 2.2 .2 2.3 .2 2.2 .2 2.2 .3 2.3 .2 2.2 .3 2.3 .3 2.2 .3 2.3 .4 2.2 .4 2.3 .3 2.2 .2 2.2 .1 2.3 0 2.2 .1 2.3 0 2.2 0 2.3 0 2.2 0 2.3 0 2.2 0 2.2-.3 2.3-.9 2.2-1.1 2.3-1.2 2.2-1.4 2.3-1.5 2.2-1.6 2.2-1.7 2.3-1.7 2.2-1.8 2.3-1.8 2.2-1.6 2.3-1.3 2.2-1.1 2.3-1 2.2-.9 2.2-.5 2.3-.1 2.2 .2 2.3 .2 2.2 .3 2.3 .3 2.2 .2 2.3 .4 2.2 .4 2.2 .5 2.3 .5 2.2 .4 2.3 .4 2.2 .4 2.3 .5 2.2 .4 2.2 .2 2.3 0 2.2-.4 2.3-.8 2.2-1 2.3-1.3 2.2-1.7 2.3-3.6 2.2-4.3 2.2-3.4 2.3-2.8 2.2-2.2 2.3-1.4 2.2-1.1 2.3-1.7 2.2-3.4 2.3-4.1 2.2-5.6 2.2-6.5 2.3-8.6 2.2-9.7 2.3-10 2.2-9.4 2.3-8.8 2.2-6.8 2.2-5.9 2.3-3.4 2.2 .2 2.3 .6 2.2 .9 2.3 1 2.2 1.9 2.3 2.6 2.2 2 2.2 1.3 2.3 .9 2.2 .8 2.3 .8 2.2 .7 2.3 .7 2.2 .6 2.3 .9 2.2 1 2.2 1.2 2.3 1.3 2.2 1.5 2.3 1.8 2.2 2.1 2.3 2.1 2.2 2.2 2.2 2.3 2.3 2.4 2.2 2.4 2.3 2.2 2.2 1.9 2.3 1.7 2.2 1.3 2.3 1.1 2.2 .7 2.2 .6 2.3 1 2.2 2.2 2.3 2.9 2.2 4 2.3 4.9 2.2 5.3 2.3 6 2.2 6.5 2.2 6.4 2.3 6 2.2 4.9" stroke="#77AC30"/>
<path d="M41.1 207.4l2.2 .3 2.3 .2 2.2 .1 2.3 .1 2.2-.1 2.3-.2 2.2-.4 2.3-.6 2.2-.6 2.2-.6 2.3-.4 2.2-.1 2.3 0 2.2 .1 2.3 .1 2.2 .1 2.2 .2 2.3 .1 2.2 .1 2.3 .2 2.2 .2 2.3 .3 2.2 .3 2.3 .2 2.2 .2 2.2 .2 2.3 .1 2.2 .1 2.3 .1 2.2 .2 2.3 .1 2.2 .2 2.3 .2 2.2 .1 2.2 0 2.3-.8 2.2-1.1 2.3-1.3 2.2-1.3 2.3-1.8 2.2-1.9 2.2-2 2.3-2.1 2.2-1.9 2.3-2 2.2-1.8 2.3-1.6 2.2-1.1 2.3-1 2.2-.9 2.2-.6 2.3-.1 2.2 .1 2.3 .3 2.2 .3 2.3 .4 2.2 .4 2.3 .5 2.2 .5 2.2 .7 2.3 .5 2.2 .5 2.3 .6 2.2 .6 2.3 .5 2.2 .5 2.2 .3 2.3 .1 2.2-.4 2.3-1.1 2.2-1.5 2.3-1.7 2.2-2.3 2.3-4.2 2.2-4.9 2.2-3.9 2.3-2.9 2.2-2.4 2.3-1.5 2.2-1.5 2.3-3.8 2.2-7.7 2.3-9.2 2.2-11.5 2.2-14.9 2.3-14.8 2.2-10.8 2.3-9.1 2.2-7 2.3-5.3 2.2-4.2 2.2-3.3 2.3-1.7 2.2 .5 2.3 1.5 2.2 1.9 2.3 2.1 2.2 2.5 2.3 3.1 2.2 2.7 2.2 2.3 2.3 1.9 2.2 1.2 2.3 1 2.2 .9 2.3 .9 2.2 .9 2.3 1.1 2.2 1.5 2.2 2 2.3 2.2 2.2 2.3 2.3 2.3 2.2 2.4 2.3 2.5 2.2 2.5 2.2 2.4 2.3 2.4 2.2 2.4 2.3 2.2 2.2 1.7 2.3 1.4 2.2 1.3 2.3 .9 2.2 .6 2.2 .4 2.3 .8 2.2 1.8 2.3 2.3 2.2 3 2.3 3.7 2.2 4.1 2.3 4.7 2.2 5.7 2.2 6.7 2.3 7.2 2.2 8.1" stroke="#7E2F8E"/>
<path d="M41.1 198.2l2.2 .3 2.3 .2 2.2 .1 2.3 0 2.2 0 2.3-.3 2.2-.4 2.3-.6 2.2-.6 2.2-.5 2.3-.4 2.2-.2 2.3 0 2.2 .1 2.3 .2 2.2 .2 2.2 .2 2.3 .2 2.2 .2 2.3 .3 2.2 .3 2.3 .4 2.2 .3 2.3 .3 2.2 .2 2.2 .1 2.3 .1 2.2 0 2.3 .1 2.2 0 2.3 .1 2.2 0 2.3 .1 2.2 0 2.2-.2 2.3-.9 2.2-1.3 2.3-1.5 2.2-1.5 2.3-2 2.2-2.2 2.2-2.3 2.3-2.2 2.2-2 2.3-2 2.2-1.9 2.3-1.5 2.2-1.1 2.3-.9 2.2-.8 2.2-.4 2.3 0 2.2 .2 2.3 .5 2.2 .5 2.3 .6 2.2 .6 2.3 .7 2.2 .8 2.2 .9 2.3 .8 2.2 .8 2.3 .8 2.2 .9 2.3 .9 2.2 .7 2.2 .5 2.3 .3 2.2-.4 2.3-1.2 2.2-1.7 2.3-2.2 2.2-2.6 2.3-4.7 2.2-5.4 2.2-4.2 2.3-3 2.2-2.4 2.3-1.7 2.2-1.9 2.3-4.8 2.2-9.3 2.3-10.4 2.2-12.4 2.2-16.6 2.3-16 2.2-10 2.3-7.8 2.2-5.6 2.3-3.6 2.2-3.1 2.2-2.3 2.3-1.1 2.2 .4 2.3 1.5 2.2 2.2 2.3 2.2 2.2 2.7 2.3 3.1 2.2 2.9 2.2 2.6 2.3 2.1 2.2 1.3 2.3 .9 2.2 .9 2.3 .8 2.2 .8 2.3 .9 2.2 1.6 2.2 2 2.3 2.4 2.2 2.4 2.3 2.4 2.2 2.5 2.3 2.5 2.2 2.6 2.2 2.4 2.3 2.6 2.2 2.5 2.3 2.2 2.2 1.7 2.3 1.3 2.2 1.2 2.3 .7 2.2 .4 2.2 .3 2.3 .5 2.2 1.4 2.3 1.9 2.2 2.5 2.3 3 2.2 3.4 2.3 4 2.2 5.1 2.2 6.5 2.3 7.3 2.2 8.2" stroke="#7E2F8E"/>
<path d="M41.1 208.1l2.2 .2 2.3 .2 2.2 .1 2.3 0 2.2 0 2.3-.3 2.2-.5 2.3-.6 2.2-.6 2.2-.6 2.3-.4 2.2-.2 2.3 0 2.2 0 2.3 .1 2.2 .2 2.2 .1 2.3 .2 2.2 .1 2.3 .2 2.2 .3 2.3 .3 2.2 .2 2.3 .3 2.2 .1 2.2 .1 2.3 .1 2.2 0 2.3 .1 2.2 .1 2.3 .1 2.2 .1 2.3 .1 2.2 .1 2.2-.1 2.3-.8 2.2-1.2 2.3-1.3 2.2-1.4 2.3-1.7 2.2-1.9 2.2-2.1 2.3-1.9 2.2-1.9 2.3-1.9 2.2-1.8 2.3-1.4 2.2-1 2.3-.9 2.2-.8 2.2-.5 2.3 0 2.2 .3 2.3 .3 2.2 .5 2.3 .4 2.2 .5 2.3 .5 2.2 .6 2.2 .6 2.3 .6 2.2 .4 2.3 .5 2.2 .5 2.3 .5 2.2 .5 2.2 .2 2.3 0 2.2-.5 2.3-1.1 2.2-1.6 2.3-1.8 2.2-2.3 2.3-4.2 2.2-4.9 2.2-3.9 2.3-2.9 2.2-2.3 2.3-1.5 2.2-1.5 2.3-4.1 2.2-8.4 2.3-10.4 2.2-13 2.2-17.2 2.3-17.2 2.2-12 2.3-9.8 2.2-6.9 2.3-4.4 2.2-3.3 2.2-2.6 2.3-1.3 2.2 .4 2.3 1.4 2.2 2.1 2.3 2.2 2.2 2.6 2.3 3.1 2.2 2.7 2.2 2.5 2.3 2.1 2.2 1.3 2.3 1 2.2 .9 2.3 .9 2.2 .9 2.3 1.1 2.2 1.6 2.2 2.1 2.3 2.4 2.2 2.5 2.3 2.4 2.2 2.5 2.3 2.6 2.2 2.6 2.2 2.4 2.3 2.5 2.2 2.5 2.3 2.1 2.2 1.7 2.3 1.4 2.2 1.1 2.3 .8 2.2 .3 2.2 .3 2.3 .5 2.2 1.5 2.3 1.9 2.2 2.5 2.3 3.1 2.2 3.5 2.3 4 2.2 5.2 2.2 6.3 2.3 7.2 2.2 8.1" stroke="#D95319"/>
<path d="M41.1 199.1l2.2 .4 2.3 .3 2.2 .2 2.3 .1 2.2 0 2.3-.2 2.2-.4 2.3-.5 2.2-.5 2.2-.5 2.3-.4 2.2-.1 2.3 .1 2.2 .1 2.3 .3 2.2 .2 2.2 .3 2.3 .3 2.2 .4 2.3 .3 2.2 .4 2.3 .5 2.2 .4 2.3 .3 2.2 .3 2.2 .2 2.3 .1 2.2 0 2.3 0 2.2 0 2.3 0 2.2 0 2.3-.1 2.2 0 2.2-.3 2.3-1 2.2-1.4 2.3-1.6 2.2-1.6 2.3-2 2.2-2.3 2.2-2.3 2.3-2.2 2.2-2 2.3-2 2.2-1.9 2.3-1.6 2.2-1.1 2.3-.9 2.2-.8 2.2-.4 2.3-.1 2.2 .3 2.3 .4 2.2 .5 2.3 .6 2.2 .5 2.3 .7 2.2 .8 2.2 .8 2.3 .8 2.2 .7 2.3 .7 2.2 .8 2.3 .8 2.2 .7 2.2 .5 2.3 .2 2.2-.4 2.3-1.2 2.2-1.7 2.3-2 2.2-2.6 2.3-4.6 2.2-5.2 2.2-4.1 2.3-2.9 2.2-2.4 2.3-1.6 2.2-1.8 2.3-4.6 2.2-9 2.3-10.2 2.2-12.3 2.2-16.4 2.3-15.8 2.2-10.1 2.3-8.1 2.2-5.8 2.3-3.8 2.2-3.3 2.2-2.4 2.3-1.2 2.2 .4 2.3 1.5 2.2 2.1 2.3 2.2 2.2 2.6 2.3 3.1 2.2 2.8 2.2 2.6 2.3 2 2.2 1.3 2.3 .9 2.2 .8 2.3 .8 2.2 .8 2.3 .9 2.2 1.5 2.2 2 2.3 2.3 2.2 2.4 2.3 2.3 2.2 2.5 2.3 2.5 2.2 2.5 2.2 2.4 2.3 2.6 2.2 2.5 2.3 2.3 2.2 1.7 2.3 1.5 2.2 1.3 2.3 .9 2.2 .5 2.2 .4 2.3 .8 2.2 1.6 2.3 2.1 2.2 2.8 2.3 3.3 2.2 3.6 2.3 4.3 2.2 5.4 2.2 6.6 2.3 7.5 2.2 8.5" stroke="#EDB120"/>
<path d="M41.1 225.9l2.2-.1 2.3-.1 2.2-.2 2.3-.2 2.2-.3 2.3-.5 2.2-.7 2.3-.8 2.2-.8 2.2-.7 2.3-.5 2.2-.2 2.3 .1 2.2 .1 2.3 .2 2.2 .2 2.2 .3 2.3 .2 2.2 .3 2.3 .3 2.2 .3 2.3 .4 2.2 .3 2.3 .3 2.2 .2 2.2 .1 2.3 0 2.2 0 2.3-.1 2.2 0 2.3-.1 2.2-.1 2.3-.1 2.2-.2 2.2-.3 2.3-1 2.2-1.3 2.3-1.3 2.2-1.4 2.3-1.5 2.2-1.7 2.2-1.7 2.3-1.8 2.2-1.8 2.3-1.9 2.2-1.7 2.3-1.4 2.2-1.2 2.3-1.1 2.2-1 2.2-.7 2.3-.2 2.2 .1 2.3 .2 2.2 .2 2.3 .2 2.2 .3 2.3 .4 2.2 .6 2.2 .6 2.3 .6 2.2 .6 2.3 .6 2.2 .7 2.3 .7 2.2 .6 2.2 .4 2.3 .2 2.2-.2 2.3-.6 2.2-.9 2.3-1.2 2.2-1.6 2.3-3.5 2.2-4.2 2.2-3.5 2.3-2.7 2.2-2.3 2.3-1.5 2.2-1 2.3-2.2 2.2-5 2.3-6.8 2.2-9.5 2.2-11.6 2.3-12.4 2.2-11.5 2.3-10.9 2.2-9.7 2.3-8.5 2.2-6.6 2.2-5.8 2.3-3.2 2.2 .1 2.3 .6 2.2 1 2.3 1.2 2.2 1.9 2.3 2.6 2.2 2.1 2.2 1.5 2.3 1.3 2.2 1.1 2.3 1.1 2.2 1.1 2.3 1.1 2.2 1.2 2.3 1.4 2.2 1.5 2.2 1.9 2.3 1.9 2.2 2.1 2.3 2.3 2.2 2.3 2.3 2.4 2.2 2.3 2.2 2.2 2.3 2.2 2.2 2.1 2.3 1.9 2.2 1.6 2.3 1.4 2.2 1.2 2.3 1 2.2 .6 2.2 .5 2.3 .9 2.2 2 2.3 2.7 2.2 3.7 2.3 4.5 2.2 4.8 2.3 5.7 2.2 6.4 2.2 6.6 2.3 6.8 2.2 7.1" stroke="#0072BD"/>
<path d="M41.1 203.4l2.2 .3 2.3 .1 2.2 .1 2.3 0 2.2 0 2.3-.2 2.2-.5 2.3-.5 2.2-.6 2.2-.6 2.3-.3 2.2-.1 2.3 .1 2.2 .2 2.3 .3 2.2 .5 2.2 .4 2.3 .4 2.2 .5 2.3 .5 2.2 .6 2.3 .6 2.2 .5 2.3 .5 2.2 .4 2.2 .2 2.3 .1 2.2 .1 2.3 0 2.2 .1 2.3 0 2.2 0 2.3 0 2.2 0 2.2-.3 2.3-.9 2.2-1.3 2.3-1.4 2.2-1.5 2.3-1.9 2.2-2 2.2-2.2 2.3-2 2.2-1.9 2.3-2 2.2-1.9 2.3-1.5 2.2-1 2.3-1 2.2-.8 2.2-.5 2.3-.1 2.2 .2 2.3 .3 2.2 .5 2.3 .4 2.2 .5 2.3 .5 2.2 .7 2.2 .6 2.3 .7 2.2 .6 2.3 .6 2.2 .6 2.3 .7 2.2 .5 2.2 .4 2.3 0 2.2-.4 2.3-1.1 2.2-1.5 2.3-1.8 2.2-2.4 2.3-4.3 2.2-4.9 2.2-3.8 2.3-2.8 2.2-2.3 2.3-1.5 2.2-1.4 2.3-3.9 2.2-7.8 2.3-9 2.2-11.1 2.2-14.7 2.3-14.4 2.2-10.2 2.3-8.7 2.2-6.9 2.3-5.4 2.2-4.3 2.2-3.6 2.3-2 2.2 .2 2.3 1.1 2.2 1.6 2.3 1.7 2.2 2.3 2.3 2.9 2.2 2.5 2.2 2.2 2.3 1.8 2.2 1.3 2.3 1.1 2.2 1.1 2.3 1.1 2.2 1.1 2.3 1.3 2.2 1.8 2.2 2.2 2.3 2.5 2.2 2.5 2.3 2.5 2.2 2.7 2.3 2.6 2.2 2.5 2.2 2.4 2.3 2.4 2.2 2.3 2.3 2.2 2.2 1.6 2.3 1.4 2.2 1.1 2.3 .9 2.2 .4 2.2 .3 2.3 .6 2.2 1.5 2.3 2.1 2.2 2.8 2.3 3.4 2.2 3.8 2.3 4.4 2.2 5.4 2.2 6.3 2.3 6.9 2.2 7.6" stroke="#EDB120"/>
<path d="M41.1 221.4l2.2-.1 2.3-.1 2.2-.1 2.3-.3 2.2-.2 2.3-.5 2.2-.6 2.3-.8 2.2-.8 2.2-.7 2.3-.5 2.2-.2 2.3 0 2.2 .1 2.3 .2 2.2 .2 2.2 .3 2.3 .2 2.2 .2 2.3 .3 2.2 .4 2.3 .3 2.2 .4 2.3 .2 2.2 .3 2.2 .1 2.3 0 2.2 .1 2.3 .1 2.2 .1 2.3 .2 2.2 .2 2.3 .2 2.2 .2 2.2-.1 2.3-.7 2.2-1 2.3-1.1 2.2-1.2 2.3-1.5 2.2-1.6 2.2-1.8 2.3-1.8 2.2-1.9 2.3-1.9 2.2-1.8 2.3-1.5 2.2-1.2 2.3-1.2 2.2-1 2.2-.7 2.3-.3 2.2 .1 2.3 .1 2.2 .2 2.3 .2 2.2 .3 2.3 .3 2.2 .5 2.2 .5 2.3 .6 2.2 .4 2.3 .5 2.2 .6 2.3 .5 2.2 .5 2.2 .3 2.3 .1 2.2-.3 2.3-.8 2.2-1.1 2.3-1.3 2.2-1.8 2.3-3.6 2.2-4.3 2.2-3.5 2.3-2.8 2.2-2.2 2.3-1.4 2.2-1.1 2.3-2.7 2.2-6.3 2.3-8.6 2.2-11.5 2.2-14.6 2.3-15.3 2.2-12.7 2.3-11.2 2.2-8.8 2.3-6.7 2.2-5 2.2-4.2 2.3-2.3 2.2 .4 2.3 1.2 2.2 1.6 2.3 1.7 2.2 2.3 2.3 2.9 2.2 2.5 2.2 2 2.3 1.6 2.2 1.1 2.3 .8 2.2 .8 2.3 .6 2.2 .7 2.3 .8 2.2 1.1 2.2 1.5 2.3 1.7 2.2 1.8 2.3 2 2.2 2.1 2.3 2.3 2.2 2.3 2.2 2.2 2.3 2.3 2.2 2.3 2.3 2.1 2.2 1.6 2.3 1.4 2.2 1.3 2.3 .9 2.2 .6 2.2 .4 2.3 .9 2.2 1.8 2.3 2.5 2.2 3.4 2.3 4.1 2.2 4.4 2.3 5.2 2.2 6.1 2.2 6.8 2.3 7.4 2.2 7.9" stroke="#4DBEEE"/>
<path d="M41.1 216.8l2.2 .3 2.3 .2 2.2 0 2.3 0 2.2-.1 2.3-.2 2.2-.5 2.3-.7 2.2-.7 2.2-.6 2.3-.4 2.2-.2 2.3 .1 2.2 0 2.3 .1 2.2 .1 2.2 .1 2.3 0 2.2 .1 2.3 .1 2.2 .2 2.3 .1 2.2 .2 2.3 .2 2.2 .1 2.2 .1 2.3 .1 2.2 0 2.3 .1 2.2 .1 2.3 .1 2.2 .2 2.3 .1 2.2 .1 2.2-.1 2.3-.8 2.2-1 2.3-1.2 2.2-1.3 2.3-1.6 2.2-1.8 2.2-1.8 2.3-2 2.2-1.9 2.3-2.1 2.2-1.9 2.3-1.6 2.2-1.3 2.3-1.3 2.2-1.1 2.2-.8 2.3-.3 2.2 0 2.3 .1 2.2 .2 2.3 .3 2.2 .4 2.3 .5 2.2 .7 2.2 .8 2.3 .9 2.2 .8 2.3 .9 2.2 .9 2.3 1 2.2 .8 2.2 .7 2.3 .4 2.2-.1 2.3-.7 2.2-1.1 2.3-1.4 2.2-2 2.3-3.8 2.2-4.6 2.2-3.7 2.3-2.8 2.2-2.4 2.3-1.4 2.2-1.3 2.3-3.2 2.2-6.9 2.3-9.1 2.2-11.8 2.2-15.2 2.3-15.8 2.2-12.5 2.3-10.8 2.2-8.4 2.3-6.3 2.2-4.8 2.2-4 2.3-2.3 2.2 .2 2.3 1 2.2 1.5 2.3 1.6 2.2 2.3 2.3 2.8 2.2 2.4 2.2 2.1 2.3 1.7 2.2 1.2 2.3 1.1 2.2 1 2.3 1 2.2 1.1 2.3 1.2 2.2 1.6 2.2 2.1 2.3 2.2 2.2 2.4 2.3 2.4 2.2 2.5 2.3 2.5 2.2 2.5 2.2 2.3 2.3 2.3 2.2 2.3 2.3 2.1 2.2 1.6 2.3 1.2 2.2 1.1 2.3 .8 2.2 .3 2.2 .3 2.3 .5 2.2 1.5 2.3 2.1 2.2 2.9 2.3 3.5 2.2 3.9 2.3 4.6 2.2 5.5 2.2 6.2 2.3 6.9 2.2 7.5" stroke="#7E2F8E"/>
<path d="M41.1 203.6l2.2 .3 2.3 .3 2.2 .2 2.3 .1 2.2 0 2.3-.2 2.2-.4 2.3-.5 2.2-.6 2.2-.5 2.3-.4 2.2-.1 2.3 0 2.2 .1 2.3 .1 2.2 .2 2.2 .2 2.3 .2 2.2 .1 2.3 .3 2.2 .3 2.3 .3 2.2 .3 2.3 .2 2.2 .2 2.2 .2 2.3 0 2.2 .1 2.3 0 2.2 .1 2.3 0 2.2 .1 2.3 0 2.2 0 2.2-.2 2.3-.9 2.2-1.2 2.3-1.5 2.2-1.5 2.3-1.8 2.2-2.1 2.2-2.2 2.3-2.1 2.2-1.9 2.3-2.1 2.2-1.9 2.3-1.5 2.2-1.2 2.3-1 2.2-.8 2.2-.6 2.3-.1 2.2 .2 2.3 .3 2.2 .5 2.3 .5 2.2 .5 2.3 .6 2.2 .7 2.2 .9 2.3 .8 2.2 .8 2.3 .8 2.2 .8 2.3 .9 2.2 .7 2.2 .6 2.3 .2 2.2-.3 2.3-1.1 2.2-1.5 2.3-1.9 2.2-2.5 2.3-4.4 2.2-5.1 2.2-4 2.3-3 2.2-2.4 2.3-1.6 2.2-1.7 2.3-4.3 2.2-8.5 2.3-10 2.2-12.2 2.2-16 2.3-15.8 2.2-10.7 2.3-8.8 2.2-6.4 2.3-4.5 2.2-3.6 2.2-2.9 2.3-1.5 2.2 .3 2.3 1.4 2.2 1.9 2.3 2 2.2 2.5 2.3 3 2.2 2.6 2.2 2.4 2.3 1.9 2.2 1.2 2.3 .9 2.2 .9 2.3 .8 2.2 .7 2.3 1 2.2 1.4 2.2 2 2.3 2.2 2.2 2.4 2.3 2.3 2.2 2.4 2.3 2.5 2.2 2.5 2.2 2.4 2.3 2.5 2.2 2.4 2.3 2.2 2.2 1.7 2.3 1.4 2.2 1.1 2.3 .9 2.2 .4 2.2 .3 2.3 .6 2.2 1.6 2.3 2 2.2 2.8 2.3 3.3 2.2 3.6 2.3 4.3 2.2 5.4 2.2 6.6 2.3 7.3 2.2 8.2" stroke="#7E2F8E"/>
<path d="M41.1 205.1l2.2 .3 2.3 .2 2.2 .2 2.3 0 2.2 0 2.3-.3 2.2-.4 2.3-.6 2.2-.6 2.2-.5 2.3-.4 2.2-.2 2.3 .1 2.2 .1 2.3 .1 2.2 .2 2.2 .1 2.3 .2 2.2 .1 2.3 .3 2.2 .2 2.3 .3 2.2 .3 2.3 .3 2.2 .2 2.2 .1 2.3 .1 2.2 .1 2.3 .1 2.2 .1 2.3 .1 2.2 .1 2.3 .1 2.2 .1 2.2-.1 2.3-.7 2.2-1.2 2.3-1.3 2.2-1.4 2.3-1.7 2.2-2 2.2-2 2.3-2 2.2-1.8 2.3-1.9 2.2-1.8 2.3-1.4 2.2-1 2.3-.9 2.2-.8 2.2-.4 2.3 0 2.2 .2 2.3 .4 2.2 .5 2.3 .5 2.2 .5 2.3 .5 2.2 .7 2.2 .7 2.3 .7 2.2 .6 2.3 .5 2.2 .7 2.3 .7 2.2 .5 2.2 .4 2.3 0 2.2-.4 2.3-1.1 2.2-1.6 2.3-1.8 2.2-2.4 2.3-4.4 2.2-5 2.2-4 2.3-2.9 2.2-2.4 2.3-1.6 2.2-1.6 2.3-3.9 2.2-7.5 2.3-8.5 2.2-10.4 2.2-13.6 2.3-13.3 2.2-9.4 2.3-8.3 2.2-6.8 2.3-5.6 2.2-4.7 2.2-3.8 2.3-1.9 2.2 .4 2.3 1.3 2.2 1.8 2.3 1.9 2.2 2.5 2.3 3.1 2.2 2.6 2.2 2.2 2.3 1.9 2.2 1.2 2.3 1.1 2.2 1.1 2.3 1 2.2 1.1 2.3 1.2 2.2 1.6 2.2 2 2.3 2.2 2.2 2.3 2.3 2.4 2.2 2.5 2.3 2.5 2.2 2.4 2.2 2.3 2.3 2.4 2.2 2.3 2.3 2.1 2.2 1.6 2.3 1.4 2.2 1.2 2.3 .8 2.2 .5 2.2 .4 2.3 .7 2.2 1.7 2.3 2.2 2.2 3.1 2.3 3.7 2.2 4.1 2.3 4.7 2.2 5.7 2.2 6.5 2.3 7 2.2 7.7" stroke="#A2142F"/>
<path d="M41.1 235.3l2.2-.3 2.3-.3 2.2-.3 2.3-.4 2.2-.4 2.3-.6 2.2-.9 2.3-.9 2.2-1 2.2-.9 2.3-.6 2.2-.3 2.3-.1 2.2 0 2.3 .1 2.2 .1 2.2 .1 2.3 .1 2.2 .1 2.3 .2 2.2 .1 2.3 .2 2.2 .2 2.3 .2 2.2 0 2.2 0 2.3-.2 2.2-.1 2.3-.1 2.2 0 2.3-.1 2.2 0 2.3-.1 2.2-.1 2.2-.4 2.3-.9 2.2-1.2 2.3-1.2 2.2-1.4 2.3-1.4 2.2-1.6 2.2-1.5 2.3-1.8 2.2-1.8 2.3-1.9 2.2-1.7 2.3-1.5 2.2-1.2 2.3-1.3 2.2-1.1 2.2-.7 2.3-.3 2.2 0 2.3 .1 2.2 .1 2.3 .1 2.2 .2 2.3 .3 2.2 .5 2.2 .6 2.3 .6 2.2 .5 2.3 .6 2.2 .7 2.3 .6 2.2 .6 2.2 .4 2.3 .2 2.2-.1 2.3-.5 2.2-.8 2.3-.9 2.2-1.5 2.3-3.3 2.2-4 2.2-3.4 2.3-2.7 2.2-2.3 2.3-1.5 2.2-.9 2.3-1.7 2.2-4.2 2.3-6.3 2.2-8.9 2.2-10.7 2.3-11.7 2.2-11.8 2.3-11.5 2.2-10.4 2.3-9.4 2.2-7.2 2.2-6.3 2.3-3.7 2.2 .2 2.3 .6 2.2 .8 2.3 1.1 2.2 1.8 2.3 2.6 2.2 2 2.2 1.3 2.3 1.1 2.2 1.1 2.3 1.1 2.2 1.1 2.3 1 2.2 1.2 2.3 1.3 2.2 1.6 2.2 1.6 2.3 1.8 2.2 1.9 2.3 2.2 2.2 2.3 2.3 2.3 2.2 2.2 2.2 2.1 2.3 2.1 2.2 2.1 2.3 1.9 2.2 1.6 2.3 1.4 2.2 1.2 2.3 1.1 2.2 .6 2.2 .6 2.3 1 2.2 2.2 2.3 2.9 2.2 4 2.3 4.8 2.2 5.3 2.3 6.1 2.2 6.7 2.2 6.8 2.3 6.8 2.2 7.1" stroke="#D95319"/>
<path d="M41.1 197.3l2.2 .5 2.3 .4 2.2 .3 2.3 .2 2.2 .1 2.3-.1 2.2-.2 2.3-.4 2.2-.5 2.2-.4 2.3-.3 2.2-.1 2.3 .2 2.2 .2 2.3 .3 2.2 .3 2.2 .3 2.3 .4 2.2 .3 2.3 .4 2.2 .4 2.3 .5 2.2 .4 2.3 .4 2.2 .4 2.2 .2 2.3 .1 2.2 .1 2.3 .1 2.2 0 2.3 0 2.2 .1 2.3 0 2.2-.1 2.2-.2 2.3-.9 2.2-1.3 2.3-1.5 2.2-1.6 2.3-1.9 2.2-2.2 2.2-2.3 2.3-2.1 2.2-1.9 2.3-2 2.2-1.9 2.3-1.5 2.2-1 2.3-1 2.2-.7 2.2-.4 2.3 0 2.2 .3 2.3 .4 2.2 .5 2.3 .6 2.2 .5 2.3 .6 2.2 .8 2.2 .7 2.3 .8 2.2 .6 2.3 .7 2.2 .8 2.3 .7 2.2 .6 2.2 .4 2.3 .1 2.2-.4 2.3-1.2 2.2-1.7 2.3-2.1 2.2-2.5 2.3-4.5 2.2-5.2 2.2-4 2.3-2.9 2.2-2.3 2.3-1.5 2.2-1.7 2.3-4.4 2.2-8.3 2.3-9.3 2.2-11.2 2.2-14.8 2.3-14.1 2.2-9.2 2.3-7.6 2.2-5.9 2.3-4.6 2.2-3.8 2.2-3.1 2.3-1.6 2.2 .4 2.3 1.3 2.2 1.9 2.3 2 2.2 2.4 2.3 3.1 2.2 2.6 2.2 2.3 2.3 1.9 2.2 1.2 2.3 1 2.2 .9 2.3 .8 2.2 .8 2.3 1 2.2 1.5 2.2 1.9 2.3 2.3 2.2 2.3 2.3 2.3 2.2 2.4 2.3 2.4 2.2 2.5 2.2 2.3 2.3 2.4 2.2 2.3 2.3 2.1 2.2 1.5 2.3 1.3 2.2 1 2.3 .7 2.2 .2 2.2 .2 2.3 .4 2.2 1.4 2.3 1.9 2.2 2.6 2.3 3.2 2.2 3.5 2.3 4.1 2.2 5.3 2.2 6.3 2.3 7 2.2 7.8" stroke="#77AC30"/>
<path d="M41.1 223.7l2.2 .1 2.3 0 2.2-.1 2.3-.2 2.2-.2 2.3-.4 2.2-.6 2.3-.8 2.2-.7 2.2-.7 2.3-.5 2.2-.2 2.3 0 2.2 .1 2.3 .1 2.2 .2 2.2 .2 2.3 .2 2.2 .2 2.3 .2 2.2 .3 2.3 .2 2.2 .3 2.3 .2 2.2 .1 2.2 0 2.3 0 2.2-.1 2.3-.1 2.2-.1 2.3-.1 2.2-.1 2.3-.2 2.2-.1 2.2-.4 2.3-1.1 2.2-1.3 2.3-1.3 2.2-1.4 2.3-1.6 2.2-1.8 2.2-1.7 2.3-1.8 2.2-1.8 2.3-1.8 2.2-1.6 2.3-1.3 2.2-1 2.3-.9 2.2-.8 2.2-.5 2.3-.1 2.2 .3 2.3 .3 2.2 .3 2.3 .3 2.2 .3 2.3 .4 2.2 .6 2.2 .6 2.3 .6 2.2 .6 2.3 .6 2.2 .6 2.3 .7 2.2 .6 2.2 .4 2.3 .1 2.2-.2 2.3-.7 2.2-1 2.3-1.2 2.2-1.8 2.3-3.6 2.2-4.4 2.2-3.6 2.3-2.9 2.2-2.5 2.3-1.6 2.2-1.2 2.3-2.3 2.2-4.7 2.3-6 2.2-8.1 2.2-9.8 2.3-10.4 2.2-9.9 2.3-9.9 2.2-9.4 2.3-8.9 2.2-7.1 2.2-6.2 2.3-3.6 2.2 .1 2.3 .6 2.2 .9 2.3 1 2.2 1.9 2.3 2.5 2.2 2 2.2 1.4 2.3 1.2 2.2 1 2.3 1.1 2.2 1.1 2.3 1.1 2.2 1.1 2.3 1.4 2.2 1.5 2.2 1.7 2.3 1.8 2.2 2 2.3 2.2 2.2 2.2 2.3 2.4 2.2 2.2 2.2 2.1 2.3 2.2 2.2 2 2.3 1.9 2.2 1.7 2.3 1.4 2.2 1.3 2.3 1 2.2 .7 2.2 .6 2.3 1 2.2 2.2 2.3 2.9 2.2 3.9 2.3 4.9 2.2 5.2 2.3 6.1 2.2 6.6 2.2 6.8 2.3 6.8 2.2 7.2" stroke="#77AC30"/>
<path d="M41.1 205.5l2.2 .3 2.3 .2 2.2 .1 2.3 .1 2.2-.1 2.3-.2 2.2-.4 2.3-.6 2.2-.6 2.2-.5 2.3-.4 2.2-.1 2.3 .1 2.2 .3 2.3 .2 2.2 .4 2.2 .4 2.3 .4 2.2 .3 2.3 .5 2.2 .5 2.3 .5 2.2 .4 2.3 .4 2.2 .4 2.2 .1 2.3 .1 2.2 .1 2.3 0 2.2 0 2.3 0 2.2 0 2.3 0 2.2 0 2.2-.3 2.3-.9 2.2-1.3 2.3-1.4 2.2-1.5 2.3-1.8 2.2-2 2.2-2.1 2.3-1.9 2.2-1.8 2.3-1.8 2.2-1.6 2.3-1.2 2.2-.8 2.3-.7 2.2-.5 2.2-.2 2.3 .1 2.2 .5 2.3 .5 2.2 .6 2.3 .5 2.2 .5 2.3 .5 2.2 .5 2.2 .6 2.3 .5 2.2 .4 2.3 .3 2.2 .5 2.3 .4 2.2 .4 2.2 .1 2.3 0 2.2-.6 2.3-1.1 2.2-1.5 2.3-1.8 2.2-2.2 2.3-4.2 2.2-4.9 2.2-3.8 2.3-2.8 2.2-2.3 2.3-1.5 2.2-1.4 2.3-3.8 2.2-7.6 2.3-9.1 2.2-11.5 2.2-14.9 2.3-14.9 2.2-10.8 2.3-9.2 2.2-7.1 2.3-5.4 2.2-4.4 2.2-3.5 2.3-1.9 2.2 .3 2.3 1.2 2.2 1.7 2.3 1.8 2.2 2.4 2.3 2.9 2.2 2.5 2.2 2.2 2.3 1.8 2.2 1.2 2.3 1 2.2 .9 2.3 .8 2.2 .9 2.3 1 2.2 1.5 2.2 2 2.3 2.1 2.2 2.3 2.3 2.3 2.2 2.4 2.3 2.5 2.2 2.5 2.2 2.3 2.3 2.4 2.2 2.4 2.3 2.2 2.2 1.7 2.3 1.4 2.2 1.3 2.3 .9 2.2 .6 2.2 .4 2.3 .8 2.2 1.7 2.3 2.4 2.2 3 2.3 3.7 2.2 4.1 2.3 4.7 2.2 5.8 2.2 6.6 2.3 7.3 2.2 8.1" stroke="#0072BD"/>
<path d="M41.1 226.7l2.2-.2 2.3-.2 2.2-.3 2.3-.3 2.2-.3 2.3-.6 2.2-.7 2.3-.8 2.2-.9 2.2-.7 2.3-.5 2.2-.2 2.3 0 2.2 .2 2.3 .2 2.2 .3 2.2 .3 2.3 .3 2.2 .3 2.3 .4 2.2 .4 2.3 .4 2.2 .4 2.3 .3 2.2 .2 2.2 .1 2.3 0 2.2 0 2.3 0 2.2 0 2.3-.1 2.2 0 2.3-.1 2.2-.1 2.2-.3 2.3-1 2.2-1.2 2.3-1.3 2.2-1.4 2.3-1.5 2.2-1.7 2.2-1.7 2.3-1.8 2.2-1.8 2.3-1.9 2.2-1.7 2.3-1.4 2.2-1.2 2.3-1.2 2.2-1 2.2-.6 2.3-.3 2.2 .1 2.3 .2 2.2 .2 2.3 .2 2.2 .2 2.3 .4 2.2 .5 2.2 .6 2.3 .6 2.2 .5 2.3 .6 2.2 .6 2.3 .6 2.2 .6 2.2 .4 2.3 .1 2.2-.2 2.3-.7 2.2-.9 2.3-1.1 2.2-1.7 2.3-3.4 2.2-4.2 2.2-3.3 2.3-2.7 2.2-2.2 2.3-1.3 2.2-1 2.3-1.8 2.2-4.4 2.3-6 2.2-8.1 2.2-9.8 2.3-10.4 2.2-10.3 2.3-10.3 2.2-9.8 2.3-9.3 2.2-7.5 2.2-6.5 2.3-3.9 2.2-.1 2.3 .4 2.2 .6 2.3 .8 2.2 1.7 2.3 2.4 2.2 1.9 2.2 1.3 2.3 1 2.2 1.1 2.3 1.1 2.2 1.2 2.3 1.1 2.2 1.2 2.3 1.4 2.2 1.6 2.2 1.7 2.3 1.9 2.2 2 2.3 2.2 2.2 2.3 2.3 2.4 2.2 2.2 2.2 2.1 2.3 2.1 2.2 2.1 2.3 1.8 2.2 1.6 2.3 1.4 2.2 1.2 2.3 1 2.2 .6 2.2 .5 2.3 1 2.2 2.1 2.3 2.8 2.2 3.9 2.3 4.8 2.2 5.2 2.3 6 2.2 6.6 2.2 6.6 2.3 6.7 2.2 7" stroke="#7E2F8E"/>
<path d="M41.1 217.4l2.2 .2 2.3 .1 2.2 0 2.3 0 2.2-.1 2.3-.2 2.2-.5 2.3-.6 2.2-.6 2.2-.5 2.3-.4 2.2 0 2.3 .1 2.2 .3 2.3 .4 2.2 .4 2.2 .4 2.3 .4 2.2 .4 2.3 .5 2.2 .5 2.3 .4 2.2 .5 2.3 .4 2.2 .2 2.2 .2 2.3 0 2.2-.1 2.3 0 2.2-.1 2.3-.1 2.2-.1 2.3-.1 2.2-.2 2.2-.4 2.3-1.1 2.2-1.3 2.3-1.4 2.2-1.5 2.3-1.7 2.2-1.8 2.2-1.9 2.3-1.9 2.2-1.9 2.3-1.8 2.2-1.8 2.3-1.4 2.2-1.1 2.3-1.1 2.2-.9 2.2-.5 2.3-.2 2.2 .2 2.3 .3 2.2 .3 2.3 .3 2.2 .3 2.3 .5 2.2 .5 2.2 .6 2.3 .6 2.2 .6 2.3 .5 2.2 .6 2.3 .6 2.2 .5 2.2 .4 2.3 .1 2.2-.4 2.3-.8 2.2-1.3 2.3-1.5 2.2-1.9 2.3-3.9 2.2-4.6 2.2-3.7 2.3-2.9 2.2-2.4 2.3-1.6 2.2-1.3 2.3-2.7 2.2-5.6 2.3-6.7 2.2-8.8 2.2-11 2.3-11.2 2.2-9.8 2.3-9.3 2.2-8.5 2.3-7.9 2.2-6.4 2.2-5.4 2.3-3 2.2 .2 2.3 .9 2.2 1.2 2.3 1.3 2.2 2.1 2.3 2.8 2.2 2.2 2.2 1.6 2.3 1.3 2.2 1.1 2.3 1 2.2 1 2.3 .9 2.2 1 2.3 1.1 2.2 1.4 2.2 1.6 2.3 1.8 2.2 1.9 2.3 2.1 2.2 2.2 2.3 2.3 2.2 2.3 2.2 2.2 2.3 2.2 2.2 2.1 2.3 2 2.2 1.6 2.3 1.5 2.2 1.3 2.3 1 2.2 .7 2.2 .6 2.3 .9 2.2 2.1 2.3 2.9 2.2 3.8 2.3 4.6 2.2 5 2.3 5.8 2.2 6.6 2.2 6.8 2.3 7.1 2.2 7.5" stroke="#D95319"/>
<path d="M41.1 196.8l2.2 .5 2.3 .3 2.2 .2 2.3 .2 2.2 0 2.3-.1 2.2-.4 2.3-.4 2.2-.6 2.2-.4 2.3-.4 2.2-.1 2.3 .1 2.2 .1 2.3 .2 2.2 .2 2.2 .3 2.3 .3 2.2 .2 2.3 .4 2.2 .3 2.3 .4 2.2 .4 2.3 .3 2.2 .3 2.2 .2 2.3 .1 2.2 0 2.3 .1 2.2 0 2.3 .1 2.2 0 2.3 0 2.2 0 2.2-.2 2.3-.9 2.2-1.4 2.3-1.5 2.2-1.5 2.3-2 2.2-2.2 2.2-2.3 2.3-2.2 2.2-1.9 2.3-2 2.2-1.9 2.3-1.5 2.2-1 2.3-.8 2.2-.7 2.2-.4 2.3 .1 2.2 .3 2.3 .5 2.2 .5 2.3 .6 2.2 .6 2.3 .7 2.2 .8 2.2 .8 2.3 .8 2.2 .7 2.3 .7 2.2 .8 2.3 .8 2.2 .7 2.2 .4 2.3 .2 2.2-.4 2.3-1.3 2.2-1.7 2.3-2.1 2.2-2.7 2.3-4.7 2.2-5.2 2.2-4.2 2.3-2.9 2.2-2.4 2.3-1.6 2.2-1.7 2.3-4.8 2.2-9.3 2.3-10.3 2.2-12.5 2.2-16.7 2.3-16 2.2-10.1 2.3-7.9 2.2-5.6 2.3-3.6 2.2-3 2.2-2.3 2.3-1.1 2.2 .4 2.3 1.5 2.2 2.1 2.3 2.2 2.2 2.6 2.3 3.1 2.2 2.8 2.2 2.6 2.3 2.1 2.2 1.2 2.3 .8 2.2 .8 2.3 .8 2.2 .6 2.3 .9 2.2 1.4 2.2 2 2.3 2.3 2.2 2.4 2.3 2.3 2.2 2.4 2.3 2.6 2.2 2.5 2.2 2.4 2.3 2.5 2.2 2.6 2.3 2.2 2.2 1.7 2.3 1.3 2.2 1.2 2.3 .8 2.2 .4 2.2 .2 2.3 .6 2.2 1.4 2.3 1.9 2.2 2.5 2.3 3.1 2.2 3.3 2.3 4 2.2 5.2 2.2 6.4 2.3 7.4 2.2 8.3" stroke="#0072BD"/>
<path d="M41.1 223.5l2.2 0 2.3-.1 2.2-.1 2.3-.2 2.2-.2 2.3-.4 2.2-.7 2.3-.7 2.2-.8 2.2-.7 2.3-.4 2.2-.2 2.3 .1 2.2 .1 2.3 .3 2.2 .3 2.2 .3 2.3 .3 2.2 .4 2.3 .3 2.2 .4 2.3 .5 2.2 .3 2.3 .4 2.2 .2 2.2 .1 2.3 0 2.2 0 2.3-.1 2.2-.1 2.3-.2 2.2-.2 2.3-.2 2.2-.2 2.2-.5 2.3-1.1 2.2-1.4 2.3-1.4 2.2-1.5 2.3-1.6 2.2-1.7 2.2-1.8 2.3-1.8 2.2-1.8 2.3-1.8 2.2-1.7 2.3-1.3 2.2-1.1 2.3-1 2.2-.9 2.2-.5 2.3-.2 2.2 .2 2.3 .3 2.2 .3 2.3 .2 2.2 .3 2.3 .4 2.2 .5 2.2 .7 2.3 .6 2.2 .5 2.3 .6 2.2 .7 2.3 .6 2.2 .6 2.2 .4 2.3 .2 2.2-.3 2.3-.6 2.2-1 2.3-1.3 2.2-1.7 2.3-3.6 2.2-4.3 2.2-3.5 2.3-2.8 2.2-2.3 2.3-1.4 2.2-1.1 2.3-2.2 2.2-5.1 2.3-6.7 2.2-9.1 2.2-11.2 2.3-11.8 2.2-10.8 2.3-10.4 2.2-9.4 2.3-8.4 2.2-6.7 2.2-5.8 2.3-3.3 2.2 .1 2.3 .7 2.2 1 2.3 1.1 2.2 2 2.3 2.6 2.2 2.1 2.2 1.5 2.3 1.2 2.2 1.1 2.3 1.1 2.2 1.1 2.3 1.1 2.2 1.1 2.3 1.3 2.2 1.6 2.2 1.8 2.3 1.9 2.2 2 2.3 2.2 2.2 2.4 2.3 2.4 2.2 2.3 2.2 2.1 2.3 2.2 2.2 2.1 2.3 1.9 2.2 1.6 2.3 1.4 2.2 1.2 2.3 1 2.2 .6 2.2 .5 2.3 .9 2.2 2 2.3 2.7 2.2 3.7 2.3 4.6 2.2 4.9 2.3 5.7 2.2 6.4 2.2 6.7 2.3 6.8 2.2 7.2" stroke="#D95319"/>
<path d="M41.1 222.9l2.2-.1 2.3-.1 2.2-.3 2.3-.2 2.2-.4 2.3-.5 2.2-.8 2.3-.9 2.2-.9 2.2-.8 2.3-.6 2.2-.3 2.3-.2 2.2-.1 2.3-.1 2.2 0 2.2-.1 2.3-.1 2.2-.1 2.3-.1 2.2 0 2.3 0 2.2 .1 2.3 0 2.2 0 2.2-.1 2.3-.1 2.2 0 2.3 .1 2.2 .2 2.3 .1 2.2 .3 2.3 .2 2.2 .2 2.2 0 2.3-.7 2.2-1 2.3-1.1 2.2-1.2 2.3-1.5 2.2-1.7 2.2-1.7 2.3-1.9 2.2-1.9 2.3-1.8 2.2-1.8 2.3-1.4 2.2-1.2 2.3-1 2.2-1 2.2-.6 2.3-.2 2.2 .2 2.3 .2 2.2 .3 2.3 .3 2.2 .3 2.3 .4 2.2 .5 2.2 .6 2.3 .6 2.2 .5 2.3 .6 2.2 .6 2.3 .5 2.2 .5 2.2 .4 2.3 .1 2.2-.4 2.3-.8 2.2-1.1 2.3-1.5 2.2-1.9 2.3-3.8 2.2-4.4 2.2-3.7 2.3-2.8 2.2-2.4 2.3-1.5 2.2-1.2 2.3-3 2.2-6.6 2.3-8.8 2.2-11.5 2.2-14.7 2.3-15.3 2.2-12.4 2.3-10.9 2.2-8.5 2.3-6.5 2.2-4.8 2.2-3.9 2.3-2.1 2.2 .6 2.3 1.3 2.2 1.8 2.3 2 2.2 2.5 2.3 3 2.2 2.6 2.2 2.1 2.3 1.6 2.2 1.2 2.3 1 2.2 .9 2.3 .9 2.2 .8 2.3 1.1 2.2 1.4 2.2 1.7 2.3 2 2.2 2.1 2.3 2.1 2.2 2.3 2.3 2.3 2.2 2.3 2.2 2.2 2.3 2.2 2.2 2.2 2.3 1.9 2.2 1.6 2.3 1.3 2.2 1 2.3 .8 2.2 .4 2.2 .3 2.3 .6 2.2 1.7 2.3 2.2 2.2 3.1 2.3 3.7 2.2 4.2 2.3 4.8 2.2 5.8 2.2 6.4 2.3 6.9 2.2 7.6" stroke="#7E2F8E"/>
<path d="M41.1 211.7l2.2 .2 2.3 .1 2.2 0 2.3 0 2.2-.1 2.3-.3 2.2-.5 2.3-.7 2.2-.7 2.2-.5 2.3-.5 2.2-.2 2.3 .1 2.2 0 2.3 .1 2.2 .1 2.2 0 2.3 .1 2.2 0 2.3 .1 2.2 .2 2.3 .2 2.2 .2 2.3 .1 2.2 .2 2.2 0 2.3 .1 2.2 .1 2.3 .1 2.2 .2 2.3 .3 2.2 .2 2.3 .3 2.2 .3 2.2 .1 2.3-.7 2.2-.9 2.3-1.2 2.2-1.2 2.3-1.6 2.2-1.8 2.2-2 2.3-2 2.2-1.9 2.3-2.1 2.2-1.8 2.3-1.6 2.2-1.2 2.3-1.1 2.2-1 2.2-.7 2.3-.2 2.2 .1 2.3 .2 2.2 .4 2.3 .3 2.2 .4 2.3 .6 2.2 .6 2.2 .8 2.3 .8 2.2 .7 2.3 .7 2.2 .8 2.3 .8 2.2 .7 2.2 .5 2.3 .2 2.2-.3 2.3-.8 2.2-1.3 2.3-1.7 2.2-2.2 2.3-4.2 2.2-4.9 2.2-4 2.3-3.1 2.2-2.7 2.3-1.8 2.2-1.7 2.3-3.9 2.2-8 2.3-9.8 2.2-12.4 2.2-16.1 2.3-16.2 2.2-12.1 2.3-9.9 2.2-7.4 2.3-5.1 2.2-3.8 2.2-3 2.3-1.4 2.2 .7 2.3 1.6 2.2 2.2 2.3 2.2 2.2 2.8 2.3 3.2 2.2 2.8 2.2 2.4 2.3 1.9 2.2 1.2 2.3 .9 2.2 .9 2.3 .8 2.2 .7 2.3 1 2.2 1.4 2.2 1.8 2.3 2.1 2.2 2.2 2.3 2.2 2.2 2.4 2.3 2.4 2.2 2.4 2.2 2.3 2.3 2.5 2.2 2.3 2.3 2.2 2.2 1.6 2.3 1.4 2.2 1.2 2.3 .8 2.2 .5 2.2 .3 2.3 .6 2.2 1.6 2.3 2.2 2.2 2.9 2.3 3.4 2.2 3.9 2.3 4.5 2.2 5.5 2.2 6.6 2.3 7.2 2.2 7.9" stroke="#7E2F8E"/>
<path d="M41.1 194.8l2.2 .5 2.3 .4 2.2 .3 2.3 .3 2.2 .1 2.3-.1 2.2-.2 2.3-.4 2.2-.5 2.2-.4 2.3-.3 2.2 0 2.3 .1 2.2 .2 2.3 .2 2.2 .3 2.2 .3 2.3 .3 2.2 .3 2.3 .3 2.2 .4 2.3 .4 2.2 .4 2.3 .4 2.2 .3 2.2 .3 2.3 .1 2.2 .2 2.3 .1 2.2 .2 2.3 .1 2.2 .2 2.3 .1 2.2 .2 2.2-.1 2.3-.7 2.2-1.2 2.3-1.4 2.2-1.5 2.3-1.9 2.2-2.1 2.2-2.3 2.3-2.2 2.2-2 2.3-2.1 2.2-1.9 2.3-1.6 2.2-1.1 2.3-1 2.2-.9 2.2-.5 2.3 0 2.2 .1 2.3 .4 2.2 .5 2.3 .6 2.2 .5 2.3 .7 2.2 .8 2.2 .8 2.3 .9 2.2 .7 2.3 .8 2.2 .8 2.3 .8 2.2 .8 2.2 .5 2.3 .2 2.2-.4 2.3-1.2 2.2-1.7 2.3-2.1 2.2-2.7 2.3-4.6 2.2-5.3 2.2-4.1 2.3-3 2.2-2.4 2.3-1.6 2.2-1.8 2.3-4.9 2.2-9.3 2.3-10.6 2.2-12.7 2.2-17 2.3-16.4 2.2-10.3 2.3-8.1 2.2-5.6 2.3-3.6 2.2-2.9 2.2-2.2 2.3-1.1 2.2 .4 2.3 1.6 2.2 2.1 2.3 2.3 2.2 2.7 2.3 3.1 2.2 2.9 2.2 2.6 2.3 2.2 2.2 1.2 2.3 1 2.2 .9 2.3 .8 2.2 .8 2.3 1 2.2 1.6 2.2 2.1 2.3 2.5 2.2 2.5 2.3 2.4 2.2 2.5 2.3 2.7 2.2 2.6 2.2 2.5 2.3 2.6 2.2 2.5 2.3 2.3 2.2 1.7 2.3 1.4 2.2 1.2 2.3 .9 2.2 .4 2.2 .3 2.3 .6 2.2 1.4 2.3 1.9 2.2 2.5 2.3 3.1 2.2 3.3 2.3 4 2.2 5.2 2.2 6.4 2.3 7.4 2.2 8.4" stroke="#0072BD"/>
<path d="M41.1 228.5l2.2 0 2.3-.1 2.2-.2 2.3-.2 2.2-.3 2.3-.4 2.2-.7 2.3-.8 2.2-.8 2.2-.7 2.3-.6 2.2-.2 2.3 0 2.2 .1 2.3 .2 2.2 .2 2.2 .2 2.3 .2 2.2 .2 2.3 .3 2.2 .2 2.3 .3 2.2 .3 2.3 .2 2.2 .2 2.2 0 2.3 0 2.2-.1 2.3 0 2.2-.1 2.3-.1 2.2-.1 2.3-.1 2.2-.1 2.2-.3 2.3-1 2.2-1.3 2.3-1.2 2.2-1.4 2.3-1.5 2.2-1.6 2.2-1.7 2.3-1.8 2.2-1.8 2.3-1.9 2.2-1.7 2.3-1.5 2.2-1.2 2.3-1.1 2.2-1.1 2.2-.7 2.3-.2 2.2 0 2.3 .2 2.2 .1 2.3 .2 2.2 .2 2.3 .4 2.2 .5 2.2 .5 2.3 .5 2.2 .5 2.3 .5 2.2 .6 2.3 .6 2.2 .5 2.2 .3 2.3 .1 2.2-.2 2.3-.6 2.2-.9 2.3-1.2 2.2-1.5 2.3-3.4 2.2-4.2 2.2-3.3 2.3-2.7 2.2-2.3 2.3-1.3 2.2-1 2.3-2.2 2.2-5.7 2.3-8.3 2.2-11.5 2.2-14.3 2.3-15.3 2.2-13.6 2.3-11.9 2.2-9.6 2.3-7.4 2.2-5.4 2.2-4.6 2.3-2.5 2.2 .4 2.3 1 2.2 1.5 2.3 1.6 2.2 2.2 2.3 2.9 2.2 2.4 2.2 1.8 2.3 1.6 2.2 1.1 2.3 1 2.2 .9 2.3 .9 2.2 1 2.3 1.1 2.2 1.4 2.2 1.7 2.3 2 2.2 2.1 2.3 2.1 2.2 2.3 2.3 2.4 2.2 2.3 2.2 2.3 2.3 2.2 2.2 2.3 2.3 2 2.2 1.6 2.3 1.4 2.2 1.2 2.3 1 2.2 .5 2.2 .5 2.3 .8 2.2 1.9 2.3 2.5 2.2 3.4 2.3 4.2 2.2 4.5 2.3 5.3 2.2 6.1 2.2 6.6 2.3 7.1 2.2 7.6" stroke="#EDB120"/>
<path d="M41.1 221.6l2.2-.1 2.3-.2 2.2-.2 2.3-.3 2.2-.3 2.3-.5 2.2-.7 2.3-.8 2.2-.8 2.2-.7 2.3-.5 2.2-.2 2.3 .1 2.2 .2 2.3 .2 2.2 .3 2.2 .3 2.3 .4 2.2 .3 2.3 .4 2.2 .4 2.3 .5 2.2 .4 2.3 .4 2.2 .3 2.2 .2 2.3 .1 2.2 .1 2.3 .1 2.2 .1 2.3 .1 2.2 .1 2.3 .1 2.2 .1 2.2-.2 2.3-.8 2.2-1.2 2.3-1.2 2.2-1.3 2.3-1.6 2.2-1.7 2.2-1.7 2.3-2 2.2-2 2.3-2 2.2-2 2.3-1.7 2.2-1.4 2.3-1.4 2.2-1.2 2.2-.9 2.3-.5 2.2-.1 2.3 0 2.2 .1 2.3 .2 2.2 .3 2.3 .5 2.2 .6 2.2 .6 2.3 .7 2.2 .7 2.3 .6 2.2 .8 2.3 .8 2.2 .6 2.2 .5 2.3 .2 2.2-.2 2.3-.7 2.2-1 2.3-1.3 2.2-1.9 2.3-3.7 2.2-4.4 2.2-3.6 2.3-2.9 2.2-2.4 2.3-1.5 2.2-1.2 2.3-2.5 2.2-5.3 2.3-6.7 2.2-9 2.2-11 2.3-11.5 2.2-10.3 2.3-9.9 2.2-9 2.3-8.2 2.2-6.5 2.2-5.7 2.3-3.2 2.2 .1 2.3 .8 2.2 1 2.3 1.2 2.2 2 2.3 2.6 2.2 2.2 2.2 1.5 2.3 1.3 2.2 1.1 2.3 1 2.2 1.1 2.3 1 2.2 1.1 2.3 1.3 2.2 1.5 2.2 1.7 2.3 1.9 2.2 2 2.3 2.2 2.2 2.3 2.3 2.3 2.2 2.3 2.2 2.2 2.3 2.1 2.2 2.2 2.3 1.9 2.2 1.6 2.3 1.5 2.2 1.2 2.3 1 2.2 .6 2.2 .5 2.3 1 2.2 2 2.3 2.8 2.2 3.7 2.3 4.6 2.2 4.9 2.3 5.8 2.2 6.4 2.2 6.7 2.3 6.9 2.2 7.3" stroke="#77AC30"/>
<path d="M41.1 230.5l2.2 0 2.3-.1 2.2-.2 2.3-.2 2.2-.3 2.3-.4 2.2-.6 2.3-.8 2.2-.8 2.2-.7 2.3-.5 2.2-.1 2.3 .1 2.2 .1 2.3 .3 2.2 .3 2.2 .3 2.3 .2 2.2 .3 2.3 .3 2.2 .4 2.3 .4 2.2 .4 2.3 .3 2.2 .2 2.2 .1 2.3 .1 2.2 0 2.3 0 2.2-.1 2.3 0 2.2-.1 2.3 0 2.2-.1 2.2-.4 2.3-.9 2.2-1.2 2.3-1.2 2.2-1.3 2.3-1.5 2.2-1.5 2.2-1.5 2.3-1.7 2.2-1.8 2.3-1.8 2.2-1.7 2.3-1.3 2.2-1.2 2.3-1.1 2.2-1 2.2-.7 2.3-.2 2.2 .1 2.3 .2 2.2 .1 2.3 .2 2.2 .1 2.3 .3 2.2 .5 2.2 .5 2.3 .5 2.2 .4 2.3 .5 2.2 .6 2.3 .5 2.2 .5 2.2 .3 2.3 .1 2.2-.2 2.3-.5 2.2-.8 2.3-.9 2.2-1.5 2.3-3.2 2.2-4 2.2-3.3 2.3-2.7 2.2-2.3 2.3-1.4 2.2-.9 2.3-1.6 2.2-4.6 2.3-6.8 2.2-9.8 2.2-11.9 2.3-13 2.2-12.7 2.3-12 2.2-10.5 2.3-9 2.2-6.8 2.2-6 2.3-3.4 2.2 0 2.3 .6 2.2 1 2.3 1 2.2 1.9 2.3 2.6 2.2 2.1 2.2 1.4 2.3 1.2 2.2 1.1 2.3 1.1 2.2 1.1 2.3 1.2 2.2 1.2 2.3 1.4 2.2 1.6 2.2 1.8 2.3 1.9 2.2 2.1 2.3 2.3 2.2 2.3 2.3 2.4 2.2 2.3 2.2 2.1 2.3 2.2 2.2 2 2.3 1.9 2.2 1.6 2.3 1.3 2.2 1.1 2.3 .9 2.2 .6 2.2 .3 2.3 .8 2.2 2 2.3 2.6 2.2 3.7 2.3 4.4 2.2 4.9 2.3 5.7 2.2 6.3 2.2 6.5 2.3 6.6 2.2 7" stroke="#EDB120"/>
<path d="M41.1 223l2.2 .1 2.3 .1 2.2-.1 2.3 0 2.2-.2 2.3-.3 2.2-.6 2.3-.7 2.2-.7 2.2-.6 2.3-.4 2.2-.2 2.3 .1 2.2 .2 2.3 .3 2.2 .3 2.2 .2 2.3 .3 2.2 .3 2.3 .4 2.2 .3 2.3 .4 2.2 .4 2.3 .3 2.2 .2 2.2 .1 2.3 0 2.2 0 2.3 0 2.2-.1 2.3-.1 2.2-.1 2.3-.2 2.2-.2 2.2-.4 2.3-1.1 2.2-1.3 2.3-1.3 2.2-1.5 2.3-1.7 2.2-1.7 2.2-1.8 2.3-1.8 2.2-1.9 2.3-1.9 2.2-1.8 2.3-1.5 2.2-1.2 2.3-1.1 2.2-1 2.2-.7 2.3-.2 2.2 .1 2.3 .2 2.2 .2 2.3 .2 2.2 .3 2.3 .4 2.2 .6 2.2 .6 2.3 .7 2.2 .6 2.3 .6 2.2 .8 2.3 .7 2.2 .6 2.2 .4 2.3 .2 2.2-.2 2.3-.6 2.2-1 2.3-1.3 2.2-1.7 2.3-3.7 2.2-4.4 2.2-3.6 2.3-2.8 2.2-2.4 2.3-1.5 2.2-1.2 2.3-2.6 2.2-5.7 2.3-7.6 2.2-10.2 2.2-12.8 2.3-13.4 2.2-11.7 2.3-10.8 2.2-9.2 2.3-7.7 2.2-5.9 2.2-5.1 2.3-2.8 2.2 .2 2.3 .9 2.2 1.3 2.3 1.4 2.2 2.2 2.3 2.7 2.2 2.3 2.2 1.7 2.3 1.4 2.2 1.1 2.3 1 2.2 1 2.3 .9 2.2 1 2.3 1.1 2.2 1.5 2.2 1.6 2.3 1.9 2.2 2 2.3 2.2 2.2 2.2 2.3 2.4 2.2 2.3 2.2 2.2 2.3 2.2 2.2 2.2 2.3 2 2.2 1.7 2.3 1.4 2.2 1.3 2.3 1 2.2 .7 2.2 .5 2.3 1 2.2 2 2.3 2.8 2.2 3.6 2.3 4.4 2.2 4.9 2.3 5.6 2.2 6.3 2.2 6.8 2.3 7.2 2.2 7.6" stroke="#A2142F"/>
<path d="M41.1 216.3l2.2 .1 2.3 0 2.2-.1 2.3-.2 2.2-.2 2.3-.4 2.2-.6 2.3-.8 2.2-.8 2.2-.7 2.3-.5 2.2-.3 2.3 0 2.2 0 2.3 0 2.2 .1 2.2 .1 2.3 .1 2.2 .1 2.3 .2 2.2 .2 2.3 .2 2.2 .3 2.3 .2 2.2 .2 2.2 .1 2.3 .1 2.2 .1 2.3 .3 2.2 .2 2.3 .4 2.2 .4 2.3 .4 2.2 .4 2.2 .2 2.3-.5 2.2-.8 2.3-.9 2.2-1.1 2.3-1.4 2.2-1.7 2.2-1.8 2.3-2 2.2-1.9 2.3-1.9 2.2-1.9 2.3-1.5 2.2-1.2 2.3-1.2 2.2-1 2.2-.6 2.3-.3 2.2 .1 2.3 .2 2.2 .3 2.3 .3 2.2 .3 2.3 .5 2.2 .6 2.2 .7 2.3 .7 2.2 .6 2.3 .7 2.2 .7 2.3 .7 2.2 .7 2.2 .4 2.3 .2 2.2-.2 2.3-.8 2.2-1.1 2.3-1.5 2.2-2 2.3-3.9 2.2-4.7 2.2-3.8 2.3-3 2.2-2.6 2.3-1.7 2.2-1.5 2.3-3.3 2.2-7.3 2.3-9.5 2.2-12.3 2.2-15.7 2.3-16 2.2-12.7 2.3-10.8 2.2-8.2 2.3-5.9 2.2-4.4 2.2-3.6 2.3-1.8 2.2 .6 2.3 1.4 2.2 2 2.3 2 2.2 2.6 2.3 3.1 2.2 2.6 2.2 2.2 2.3 1.8 2.2 1.2 2.3 .9 2.2 1 2.3 .8 2.2 .9 2.3 1 2.2 1.4 2.2 1.9 2.3 2.1 2.2 2.2 2.3 2.2 2.2 2.3 2.3 2.4 2.2 2.4 2.2 2.2 2.3 2.4 2.2 2.3 2.3 2 2.2 1.6 2.3 1.4 2.2 1.1 2.3 .8 2.2 .5 2.2 .3 2.3 .7 2.2 1.7 2.3 2.2 2.2 3 2.3 3.7 2.2 4 2.3 4.7 2.2 5.7 2.2 6.5 2.3 7.2 2.2 7.8" stroke="#77AC30"/>
<path d="M41.1 227.8l2.2 0 2.3-.1 2.2-.2 2.3-.3 2.2-.2 2.3-.5 2.2-.7 2.3-.8 2.2-.8 2.2-.7 2.3-.5 2.2-.2 2.3 0 2.2 .2 2.3 .2 2.2 .2 2.2 .2 2.3 .2 2.2 .2 2.3 .3 2.2 .3 2.3 .3 2.2 .4 2.3 .2 2.2 .2 2.2 .1 2.3 0 2.2 0 2.3 0 2.2 .1 2.3 0 2.2 0 2.3 0 2.2 0 2.2-.2 2.3-.9 2.2-1.1 2.3-1.2 2.2-1.3 2.3-1.4 2.2-1.6 2.2-1.7 2.3-1.8 2.2-1.8 2.3-1.9 2.2-1.8 2.3-1.4 2.2-1.2 2.3-1.3 2.2-1 2.2-.8 2.3-.2 2.2 0 2.3 .1 2.2 .1 2.3 .2 2.2 .2 2.3 .3 2.2 .5 2.2 .6 2.3 .5 2.2 .5 2.3 .5 2.2 .6 2.3 .6 2.2 .6 2.2 .3 2.3 .1 2.2-.2 2.3-.6 2.2-.9 2.3-1.2 2.2-1.6 2.3-3.5 2.2-4.2 2.2-3.4 2.3-2.8 2.2-2.3 2.3-1.5 2.2-1 2.3-1.9 2.2-4.4 2.3-6 2.2-8.3 2.2-10.1 2.3-10.7 2.2-10.7 2.3-10.6 2.2-9.8 2.3-9.3 2.2-7.3 2.2-6.4 2.3-3.7 2.2 .1 2.3 .5 2.2 .8 2.3 1 2.2 1.8 2.3 2.6 2.2 2 2.2 1.3 2.3 1.1 2.2 1.1 2.3 1.1 2.2 1.2 2.3 1.2 2.2 1.2 2.3 1.4 2.2 1.7 2.2 1.7 2.3 1.9 2.2 2 2.3 2.2 2.2 2.4 2.3 2.3 2.2 2.3 2.2 2.1 2.3 2.1 2.2 2 2.3 1.9 2.2 1.6 2.3 1.3 2.2 1.2 2.3 1 2.2 .6 2.2 .5 2.3 .9 2.2 2.1 2.3 2.8 2.2 3.9 2.3 4.8 2.2 5.1 2.3 6 2.2 6.5 2.2 6.6 2.3 6.7 2.2 6.9" stroke="#D95319"/>
<path d="M41.1 208.9l2.2 .3 2.3 .1 2.2 .1 2.3-.1 2.2-.1 2.3-.2 2.2-.5 2.3-.6 2.2-.6 2.2-.6 2.3-.4 2.2-.1 2.3 0 2.2 .2 2.3 .2 2.2 .3 2.2 .3 2.3 .3 2.2 .3 2.3 .3 2.2 .4 2.3 .4 2.2 .4 2.3 .4 2.2 .3 2.2 .2 2.3 .1 2.2 .1 2.3 .1 2.2 .1 2.3 .1 2.2 .1 2.3 0 2.2 .1 2.2-.2 2.3-.8 2.2-1.2 2.3-1.3 2.2-1.5 2.3-1.7 2.2-2 2.2-2 2.3-2 2.2-2 2.3-2.1 2.2-1.9 2.3-1.7 2.2-1.2 2.3-1.2 2.2-1.1 2.2-.7 2.3-.2 2.2 0 2.3 .2 2.2 .3 2.3 .4 2.2 .4 2.3 .6 2.2 .7 2.2 .8 2.3 .8 2.2 .8 2.3 .7 2.2 .9 2.3 .8 2.2 .8 2.2 .6 2.3 .2 2.2-.2 2.3-.8 2.2-1.4 2.3-1.6 2.2-2.2 2.3-4.1 2.2-4.7 2.2-3.8 2.3-2.9 2.2-2.3 2.3-1.5 2.2-1.4 2.3-3.7 2.2-7.7 2.3-9.4 2.2-11.8 2.2-15.4 2.3-15.4 2.2-11.4 2.3-9.5 2.2-7.3 2.3-5.4 2.2-4.2 2.2-3.4 2.3-1.8 2.2 .3 2.3 1.2 2.2 1.8 2.3 1.9 2.2 2.4 2.3 2.9 2.2 2.6 2.2 2.2 2.3 1.8 2.2 1.1 2.3 .9 2.2 .8 2.3 .7 2.2 .6 2.3 .9 2.2 1.3 2.2 1.7 2.3 2 2.2 2.1 2.3 2.1 2.2 2.3 2.3 2.4 2.2 2.4 2.2 2.3 2.3 2.4 2.2 2.4 2.3 2.2 2.2 1.7 2.3 1.4 2.2 1.2 2.3 1 2.2 .5 2.2 .5 2.3 .7 2.2 1.8 2.3 2.3 2.2 3.1 2.3 3.8 2.2 4 2.3 4.9 2.2 5.8 2.2 6.8 2.3 7.5 2.2 8.2" stroke="#0072BD"/>
<path d="M41.1 210.9l2.2 .3 2.3 .3 2.2 .2 2.3 .1 2.2 0 2.3-.2 2.2-.4 2.3-.6 2.2-.6 2.2-.6 2.3-.5 2.2-.1 2.3-.1 2.2 .1 2.3 0 2.2 .1 2.2 0 2.3 .1 2.2 0 2.3 .1 2.2 .2 2.3 .1 2.2 .2 2.3 .2 2.2 .1 2.2 0 2.3 0 2.2 .1 2.3 .1 2.2 .2 2.3 .1 2.2 .2 2.3 .2 2.2 .1 2.2 0 2.3-.7 2.2-1.1 2.3-1.2 2.2-1.4 2.3-1.7 2.2-1.8 2.2-2 2.3-2 2.2-1.9 2.3-2 2.2-1.8 2.3-1.5 2.2-1.2 2.3-1 2.2-.9 2.2-.6 2.3-.2 2.2 .2 2.3 .2 2.2 .3 2.3 .4 2.2 .3 2.3 .5 2.2 .4 2.2 .5 2.3 .4 2.2 .4 2.3 .3 2.2 .4 2.3 .4 2.2 .3 2.2 .1 2.3-.1 2.2-.5 2.3-1.1 2.2-1.5 2.3-1.7 2.2-2.1 2.3-4.1 2.2-4.7 2.2-3.7 2.3-2.7 2.2-2.2 2.3-1.3 2.2-1.3 2.3-3.4 2.2-7.1 2.3-8.5 2.2-10.9 2.2-14.1 2.3-14.2 2.2-10.7 2.3-9.1 2.2-7.4 2.3-5.7 2.2-4.6 2.2-3.7 2.3-1.9 2.2 .4 2.3 1.3 2.2 1.8 2.3 1.9 2.2 2.4 2.3 3 2.2 2.6 2.2 2.1 2.3 1.7 2.2 1.2 2.3 1 2.2 .9 2.3 .9 2.2 .9 2.3 1.1 2.2 1.4 2.2 1.9 2.3 2.1 2.2 2.2 2.3 2.2 2.2 2.4 2.3 2.4 2.2 2.4 2.2 2.3 2.3 2.3 2.2 2.3 2.3 2 2.2 1.6 2.3 1.4 2.2 1.1 2.3 .9 2.2 .4 2.2 .4 2.3 .6 2.2 1.7 2.3 2.3 2.2 3 2.3 3.7 2.2 4.1 2.3 4.8 2.2 5.7 2.2 6.5 2.3 7.1 2.2 7.7" stroke="#4DBEEE"/>
<path d="M41.1 203.7l2.2 .4 2.3 .2 2.2 .2 2.3 .1 2.2-.1 2.3-.1 2.2-.4 2.3-.6 2.2-.5 2.2-.5 2.3-.4 2.2-.1 2.3 0 2.2 .2 2.3 .2 2.2 .3 2.2 .3 2.3 .2 2.2 .3 2.3 .3 2.2 .4 2.3 .4 2.2 .4 2.3 .3 2.2 .2 2.2 .1 2.3 0 2.2 0 2.3 0 2.2 0 2.3-.1 2.2 0 2.3-.1 2.2-.1 2.2-.3 2.3-1 2.2-1.4 2.3-1.5 2.2-1.6 2.3-1.9 2.2-2.2 2.2-2.2 2.3-2.1 2.2-1.9 2.3-2 2.2-1.9 2.3-1.5 2.2-1 2.3-1 2.2-.8 2.2-.4 2.3-.1 2.2 .3 2.3 .3 2.2 .5 2.3 .5 2.2 .5 2.3 .6 2.2 .8 2.2 .7 2.3 .8 2.2 .7 2.3 .6 2.2 .8 2.3 .8 2.2 .6 2.2 .4 2.3 .2 2.2-.4 2.3-1.1 2.2-1.6 2.3-1.9 2.2-2.5 2.3-4.5 2.2-5.1 2.2-4.1 2.3-3 2.2-2.5 2.3-1.7 2.2-1.7 2.3-4.3 2.2-8.3 2.3-9.3 2.2-11.4 2.2-15 2.3-14.6 2.2-9.9 2.3-8.3 2.2-6.4 2.3-4.8 2.2-4 2.2-3.1 2.3-1.7 2.2 .5 2.3 1.4 2.2 2 2.3 2 2.2 2.6 2.3 3 2.2 2.7 2.2 2.4 2.3 1.8 2.2 1.3 2.3 .9 2.2 .9 2.3 .9 2.2 .8 2.3 1 2.2 1.4 2.2 2 2.3 2.1 2.2 2.3 2.3 2.3 2.2 2.4 2.3 2.5 2.2 2.4 2.2 2.4 2.3 2.5 2.2 2.4 2.3 2.2 2.2 1.7 2.3 1.5 2.2 1.3 2.3 1 2.2 .6 2.2 .5 2.3 .8 2.2 1.7 2.3 2.4 2.2 3 2.3 3.7 2.2 4 2.3 4.7 2.2 5.7 2.2 6.7 2.3 7.4 2.2 8.2" stroke="#D95319"/>
<path d="M41.1 193.7l2.2 .5 2.3 .4 2.2 .4 2.3 .2 2.2 .1 2.3 0 2.2-.3 2.3-.3 2.2-.4 2.2-.4 2.3-.2 2.2-.1 2.3 .2 2.2 .3 2.3 .3 2.2 .4 2.2 .5 2.3 .4 2.2 .4 2.3 .5 2.2 .5 2.3 .6 2.2 .5 2.3 .5 2.2 .5 2.2 .3 2.3 .2 2.2 .2 2.3 .1 2.2 .1 2.3 .1 2.2 0 2.3 .1 2.2 0 2.2-.2 2.3-.9 2.2-1.3 2.3-1.5 2.2-1.5 2.3-2 2.2-2.2 2.2-2.2 2.3-2.1 2.2-2 2.3-2 2.2-1.8 2.3-1.5 2.2-1.1 2.3-.9 2.2-.7 2.2-.4 2.3 .1 2.2 .2 2.3 .5 2.2 .5 2.3 .6 2.2 .6 2.3 .6 2.2 .7 2.2 .8 2.3 .7 2.2 .7 2.3 .6 2.2 .7 2.3 .7 2.2 .6 2.2 .4 2.3 .1 2.2-.5 2.3-1.2 2.2-1.8 2.3-2.1 2.2-2.6 2.3-4.6 2.2-5.1 2.2-4.1 2.3-2.8 2.2-2.3 2.3-1.5 2.2-1.7 2.3-4.6 2.2-8.8 2.3-9.8 2.2-11.9 2.2-15.9 2.3-15.2 2.2-9.8 2.3-7.8 2.2-5.8 2.3-4 2.2-3.4 2.2-2.6 2.3-1.3 2.2 .4 2.3 1.4 2.2 2.1 2.3 2.1 2.2 2.6 2.3 3.1 2.2 2.7 2.2 2.5 2.3 2 2.2 1.2 2.3 1 2.2 .9 2.3 .8 2.2 .7 2.3 1 2.2 1.5 2.2 2 2.3 2.3 2.2 2.4 2.3 2.3 2.2 2.5 2.3 2.5 2.2 2.5 2.2 2.4 2.3 2.5 2.2 2.4 2.3 2.2 2.2 1.7 2.3 1.4 2.2 1.1 2.3 .8 2.2 .4 2.2 .3 2.3 .6 2.2 1.5 2.3 2 2.2 2.6 2.3 3.2 2.2 3.5 2.3 4.2 2.2 5.3 2.2 6.4 2.3 7.3 2.2 8.2" stroke="#7E2F8E"/>
<path d="M41.1 218.3l2.2 0 2.3-.1 2.2-.2 2.3-.2 2.2-.3 2.3-.5 2.2-.6 2.3-.8 2.2-.8 2.2-.7 2.3-.5 2.2-.2 2.3 0 2.2 .1 2.3 .3 2.2 .2 2.2 .3 2.3 .3 2.2 .3 2.3 .3 2.2 .4 2.3 .4 2.2 .4 2.3 .3 2.2 .2 2.2 .1 2.3 0 2.2 0 2.3 0 2.2 0 2.3-.1 2.2-.1 2.3 0 2.2-.1 2.2-.4 2.3-1 2.2-1.2 2.3-1.4 2.2-1.5 2.3-1.7 2.2-1.8 2.2-1.9 2.3-1.9 2.2-1.9 2.3-1.9 2.2-1.7 2.3-1.5 2.2-1.1 2.3-1.1 2.2-.9 2.2-.5 2.3-.2 2.2 .2 2.3 .3 2.2 .3 2.3 .4 2.2 .4 2.3 .5 2.2 .7 2.2 .7 2.3 .8 2.2 .7 2.3 .8 2.2 .8 2.3 .8 2.2 .7 2.2 .6 2.3 .2 2.2-.2 2.3-.7 2.2-1.2 2.3-1.4 2.2-2 2.3-3.9 2.2-4.7 2.2-3.7 2.3-3 2.2-2.4 2.3-1.7 2.2-1.4 2.3-3.1 2.2-6.6 2.3-8.3 2.2-10.7 2.2-13.6 2.3-13.9 2.2-11.4 2.3-10.1 2.2-8.5 2.3-7 2.2-5.5 2.2-4.6 2.3-2.6 2.2 .1 2.3 .9 2.2 1.4 2.3 1.4 2.2 2.2 2.3 2.7 2.2 2.4 2.2 1.8 2.3 1.6 2.2 1.2 2.3 1.1 2.2 1.2 2.3 1.1 2.2 1.3 2.3 1.4 2.2 1.7 2.2 2.1 2.3 2.3 2.2 2.4 2.3 2.5 2.2 2.5 2.3 2.6 2.2 2.4 2.2 2.3 2.3 2.3 2.2 2.2 2.3 2.1 2.2 1.6 2.3 1.4 2.2 1.1 2.3 .9 2.2 .5 2.2 .3 2.3 .7 2.2 1.7 2.3 2.4 2.2 3.2 2.3 3.8 2.2 4.2 2.3 5 2.2 5.7 2.2 6.4 2.3 6.7 2.2 7.3" stroke="#EDB120"/>
<path d="M41.1 208.7l2.2 .5 2.3 .4 2.2 .3 2.3 .1 2.2 .1 2.3-.1 2.2-.3 2.3-.5 2.2-.5 2.2-.5 2.3-.4 2.2-.1 2.3 .1 2.2 .1 2.3 .1 2.2 .2 2.2 .2 2.3 .1 2.2 .2 2.3 .2 2.2 .2 2.3 .3 2.2 .3 2.3 .2 2.2 .2 2.2 .1 2.3 .1 2.2 .1 2.3 .2 2.2 .1 2.3 .1 2.2 .1 2.3 .2 2.2 .1 2.2-.1 2.3-.8 2.2-1.1 2.3-1.3 2.2-1.3 2.3-1.7 2.2-1.9 2.2-2 2.3-2.1 2.2-2 2.3-2.1 2.2-1.9 2.3-1.7 2.2-1.3 2.3-1.3 2.2-1.1 2.2-.8 2.3-.3 2.2 0 2.3 .1 2.2 .1 2.3 .3 2.2 .3 2.3 .4 2.2 .5 2.2 .6 2.3 .6 2.2 .5 2.3 .5 2.2 .6 2.3 .6 2.2 .5 2.2 .4 2.3 .1 2.2-.5 2.3-.9 2.2-1.4 2.3-1.7 2.2-2.2 2.3-4.2 2.2-4.8 2.2-3.8 2.3-2.9 2.2-2.4 2.3-1.5 2.2-1.4 2.3-3.5 2.2-6.8 2.3-7.9 2.2-9.9 2.2-12.8 2.3-12.4 2.2-9.3 2.3-8.4 2.2-7.2 2.3-6.3 2.2-5.1 2.2-4.2 2.3-2.3 2.2 .6 2.3 1.3 2.2 1.7 2.3 1.8 2.2 2.4 2.3 3.1 2.2 2.5 2.2 2 2.3 1.5 2.2 1.2 2.3 .9 2.2 1 2.3 .8 2.2 .9 2.3 1 2.2 1.4 2.2 1.8 2.3 1.9 2.2 2.1 2.3 2.1 2.2 2.3 2.3 2.4 2.2 2.3 2.2 2.3 2.3 2.3 2.2 2.2 2.3 2.1 2.2 1.6 2.3 1.5 2.2 1.2 2.3 1 2.2 .6 2.2 .4 2.3 .9 2.2 1.9 2.3 2.5 2.2 3.4 2.3 4.2 2.2 4.5 2.3 5.3 2.2 6.1 2.2 6.7 2.3 7.2 2.2 7.8" stroke="#D95319"/>
<path d="M41.1 212.2l2.2-.1 2.3-.1 2.2-.2 2.3-.2 2.2-.3 2.3-.4 2.2-.6 2.3-.8 2.2-.7 2.2-.7 2.3-.4 2.2-.2 2.3 .1 2.2 .3 2.3 .5 2.2 .5 2.2 .6 2.3 .7 2.2 .6 2.3 .7 2.2 .8 2.3 .7 2.2 .7 2.3 .6 2.2 .4 2.2 .2 2.3 .1 2.2-.1 2.3-.1 2.2-.2 2.3-.3 2.2-.3 2.3-.4 2.2-.4 2.2-.6 2.3-1.2 2.2-1.6 2.3-1.7 2.2-1.6 2.3-2 2.2-2 2.2-1.9 2.3-2 2.2-1.8 2.3-1.8 2.2-1.7 2.3-1.3 2.2-1 2.3-.9 2.2-.7 2.2-.4 2.3 .1 2.2 .3 2.3 .3 2.2 .5 2.3 .4 2.2 .4 2.3 .5 2.2 .5 2.2 .6 2.3 .5 2.2 .4 2.3 .5 2.2 .5 2.3 .5 2.2 .4 2.2 .2 2.3 0 2.2-.5 2.3-1 2.2-1.4 2.3-1.6 2.2-2.1 2.3-3.9 2.2-4.7 2.2-3.6 2.3-2.8 2.2-2.2 2.3-1.4 2.2-1.2 2.3-3.4 2.2-7.5 2.3-9.4 2.2-12.1 2.2-15.8 2.3-16 2.2-12.1 2.3-10.2 2.2-7.6 2.3-5.4 2.2-4.1 2.2-3.3 2.3-1.7 2.2 .5 2.3 1.3 2.2 1.9 2.3 2 2.2 2.5 2.3 3 2.2 2.7 2.2 2.2 2.3 1.9 2.2 1.2 2.3 .9 2.2 .9 2.3 .8 2.2 .8 2.3 1 2.2 1.5 2.2 1.8 2.3 2.1 2.2 2.3 2.3 2.2 2.2 2.3 2.3 2.5 2.2 2.4 2.2 2.3 2.3 2.3 2.2 2.4 2.3 2.1 2.2 1.6 2.3 1.4 2.2 1.1 2.3 .8 2.2 .4 2.2 .4 2.3 .6 2.2 1.6 2.3 2.2 2.2 2.8 2.3 3.5 2.2 3.9 2.3 4.6 2.2 5.5 2.2 6.5 2.3 7.2 2.2 8" stroke="#4DBEEE"/>
<path d="M41.1 206l2.2 .1 2.3 0 2.2 0 2.3-.1 2.2-.2 2.3-.3 2.2-.6 2.3-.7 2.2-.7 2.2-.6 2.3-.5 2.2-.3 2.3 0 2.2 .1 2.3 .1 2.2 .2 2.2 .2 2.3 .2 2.2 .2 2.3 .3 2.2 .3 2.3 .4 2.2 .3 2.3 .3 2.2 .2 2.2 .1 2.3 0 2.2 0 2.3 .1 2.2 .2 2.3 .1 2.2 .1 2.3 .1 2.2 .1 2.2-.2 2.3-.8 2.2-1.2 2.3-1.4 2.2-1.4 2.3-1.9 2.2-2.1 2.2-2.1 2.3-2.1 2.2-2.1 2.3-2.1 2.2-2 2.3-1.6 2.2-1.3 2.3-1.1 2.2-1 2.2-.6 2.3-.2 2.2 .1 2.3 .2 2.2 .4 2.3 .5 2.2 .5 2.3 .6 2.2 .7 2.2 .8 2.3 .7 2.2 .7 2.3 .7 2.2 .8 2.3 .7 2.2 .7 2.2 .4 2.3 .2 2.2-.4 2.3-1 2.2-1.6 2.3-1.9 2.2-2.5 2.3-4.4 2.2-5 2.2-4 2.3-2.9 2.2-2.4 2.3-1.5 2.2-1.7 2.3-4 2.2-7.5 2.3-8.3 2.2-10 2.2-13.1 2.3-12.6 2.2-8.7 2.3-7.7 2.2-6.5 2.3-5.6 2.2-4.7 2.2-4 2.3-2.1 2.2 .3 2.3 1.2 2.2 1.6 2.3 1.8 2.2 2.3 2.3 2.9 2.2 2.5 2.2 2.1 2.3 1.7 2.2 1.1 2.3 1 2.2 .9 2.3 .8 2.2 .8 2.3 1 2.2 1.4 2.2 1.7 2.3 2 2.2 2.1 2.3 2.2 2.2 2.3 2.3 2.4 2.2 2.4 2.2 2.3 2.3 2.4 2.2 2.3 2.3 2.2 2.2 1.7 2.3 1.5 2.2 1.3 2.3 1 2.2 .7 2.2 .5 2.3 1 2.2 1.9 2.3 2.5 2.2 3.4 2.3 4 2.2 4.4 2.3 5.1 2.2 6 2.2 6.9 2.3 7.4 2.2 8.1" stroke="#A2142F"/>
<path d="M41.1 222.3l2.2 0 2.3 0 2.2-.2 2.3-.2 2.2-.2 2.3-.5 2.2-.6 2.3-.8 2.2-.8 2.2-.7 2.3-.5 2.2-.3 2.3 0 2.2 .1 2.3 .1 2.2 .1 2.2 .1 2.3 .2 2.2 .1 2.3 .2 2.2 .2 2.3 .3 2.2 .2 2.3 .2 2.2 .2 2.2 .1 2.3 0 2.2 0 2.3 .2 2.2 .1 2.3 .2 2.2 .1 2.3 .2 2.2 .2 2.2 0 2.3-.7 2.2-1 2.3-1.1 2.2-1.2 2.3-1.5 2.2-1.7 2.2-1.7 2.3-1.9 2.2-2 2.3-2 2.2-2 2.3-1.7 2.2-1.4 2.3-1.3 2.2-1.3 2.2-.9 2.3-.4 2.2-.1 2.3 .1 2.2 .1 2.3 .2 2.2 .2 2.3 .5 2.2 .6 2.2 .7 2.3 .8 2.2 .7 2.3 .7 2.2 .9 2.3 .8 2.2 .7 2.2 .6 2.3 .3 2.2-.1 2.3-.6 2.2-1 2.3-1.2 2.2-1.8 2.3-3.6 2.2-4.3 2.2-3.6 2.3-2.7 2.2-2.3 2.3-1.4 2.2-1.2 2.3-1.2 2.2-1.4 2.3 0 2.2-1.1 2.2-2.6 2.3-4.8 2.2-7.8 2.3-8.7 2.2-8.2 2.3-7.7 2.2-6.1 2.2-5.1 2.3-3 2.2 0 2.3 .4 2.2 .7 2.3 .8 2.2 1.7 2.3 2.5 2.2 1.9 2.2 1.1 2.3 .6 2.2 .3 2.3 .2 2.2-.1 2.3-.1 2.2-.1 2.3 0 2.2 .2 2.2 .4 2.3 .6 2.2 1 2.3 1.3 2.2 1.7 2.3 2.1 2.2 2.3 2.2 2.7 2.3 3.2 2.2 3.2 2.3 3.2 2.2 2.7 2.3 2.2 2.2 1.5 2.3 1 2.2 .7 2.2 .5 2.3 .9 2.2 2 2.3 2.8 2.2 3.8 2.3 4.6 2.2 4.9 2.3 5.4 2.2 5.4 2.2 5.1 2.3 3.4 2.2-1.5" stroke="#D95319"/>
<path d="M41.1 200.6l2.2 .3 2.3 .2 2.2 .1 2.3 0 2.2-.1 2.3-.2 2.2-.5 2.3-.5 2.2-.6 2.2-.6 2.3-.4 2.2-.2 2.3 .1 2.2 .1 2.3 .1 2.2 .2 2.2 .3 2.3 .2 2.2 .2 2.3 .3 2.2 .4 2.3 .3 2.2 .4 2.3 .3 2.2 .2 2.2 .2 2.3 0 2.2 .1 2.3 .1 2.2 .1 2.3 .1 2.2 .1 2.3 0 2.2 .1 2.2-.1 2.3-.8 2.2-1.3 2.3-1.4 2.2-1.5 2.3-1.9 2.2-2.1 2.2-2.2 2.3-2.1 2.2-2 2.3-2 2.2-1.9 2.3-1.5 2.2-1.1 2.3-.9 2.2-.8 2.2-.5 2.3 0 2.2 .2 2.3 .4 2.2 .5 2.3 .5 2.2 .5 2.3 .7 2.2 .7 2.2 .8 2.3 .7 2.2 .7 2.3 .7 2.2 .8 2.3 .7 2.2 .7 2.2 .4 2.3 .2 2.2-.4 2.3-1.2 2.2-1.7 2.3-2 2.2-2.5 2.3-4.6 2.2-5.1 2.2-4 2.3-3 2.2-2.3 2.3-1.5 2.2-1.7 2.3-4.7 2.2-9.3 2.3-10.8 2.2-13.2 2.2-17.7 2.3-17.3 2.2-11.2 2.3-8.8 2.2-6 2.3-3.5 2.2-2.8 2.2-2.1 2.3-1 2.2 .5 2.3 1.5 2.2 2.3 2.3 2.3 2.2 2.7 2.3 3.1 2.2 2.9 2.2 2.7 2.3 2.2 2.2 1.3 2.3 .9 2.2 .9 2.3 .8 2.2 .7 2.3 .9 2.2 1.6 2.2 2.1 2.3 2.4 2.2 2.4 2.3 2.4 2.2 2.5 2.3 2.6 2.2 2.6 2.2 2.5 2.3 2.6 2.2 2.5 2.3 2.3 2.2 1.7 2.3 1.4 2.2 1.1 2.3 .8 2.2 .4 2.2 .3 2.3 .6 2.2 1.4 2.3 1.8 2.2 2.5 2.3 3 2.2 3.2 2.3 4 2.2 5.1 2.2 6.4 2.3 7.4 2.2 8.4" stroke="#4DBEEE"/>
<path d="M41.1 231.8l2.2-.2 2.3-.3 2.2-.3 2.3-.4 2.2-.4 2.3-.5 2.2-.8 2.3-.9 2.2-.9 2.2-.8 2.3-.6 2.2-.3 2.3 0 2.2 .1 2.3 .2 2.2 .2 2.2 .2 2.3 .1 2.2 .2 2.3 .3 2.2 .3 2.3 .3 2.2 .2 2.3 .2 2.2 .2 2.2 0 2.3 0 2.2-.1 2.3 0 2.2 0 2.3 0 2.2 0 2.3-.1 2.2 0 2.2-.3 2.3-1 2.2-1.1 2.3-1.2 2.2-1.3 2.3-1.5 2.2-1.5 2.2-1.6 2.3-1.8 2.2-1.8 2.3-1.9 2.2-1.7 2.3-1.5 2.2-1.2 2.3-1.2 2.2-1.1 2.2-.7 2.3-.3 2.2 .1 2.3 .1 2.2 .1 2.3 .1 2.2 .2 2.3 .3 2.2 .5 2.2 .5 2.3 .5 2.2 .5 2.3 .4 2.2 .6 2.3 .6 2.2 .4 2.2 .4 2.3 0 2.2-.2 2.3-.6 2.2-.8 2.3-1 2.2-1.5 2.3-3.4 2.2-4 2.2-3.3 2.3-2.7 2.2-2.3 2.3-1.3 2.2-1 2.3-1.7 2.2-4.6 2.3-6.6 2.2-9.3 2.2-11.4 2.3-12.4 2.2-12 2.3-11.4 2.2-10.2 2.3-9 2.2-6.9 2.2-6.1 2.3-3.5 2.2 .1 2.3 .6 2.2 .9 2.3 1.1 2.2 1.8 2.3 2.6 2.2 2 2.2 1.4 2.3 1.2 2.2 1 2.3 1.1 2.2 1.1 2.3 1 2.2 1.2 2.3 1.3 2.2 1.5 2.2 1.7 2.3 1.9 2.2 2 2.3 2.1 2.2 2.3 2.3 2.4 2.2 2.3 2.2 2.1 2.3 2.1 2.2 2.1 2.3 1.9 2.2 1.7 2.3 1.4 2.2 1.2 2.3 1 2.2 .7 2.2 .5 2.3 1 2.2 2.1 2.3 2.8 2.2 3.9 2.3 4.7 2.2 5.1 2.3 5.9 2.2 6.5 2.2 6.8 2.3 6.8 2.2 7.2" stroke="#A2142F"/>
<path d="M41.1 226l2.2 .2 2.3 .1 2.2 0 2.3 0 2.2-.1 2.3-.3 2.2-.5 2.3-.7 2.2-.7 2.2-.6 2.3-.4 2.2-.1 2.3 .1 2.2 .2 2.3 .2 2.2 .2 2.2 .3 2.3 .2 2.2 .2 2.3 .3 2.2 .3 2.3 .4 2.2 .3 2.3 .3 2.2 .2 2.2 .2 2.3 .1 2.2 0 2.3 .1 2.2 0 2.3 0 2.2 0 2.3-.1 2.2 0 2.2-.2 2.3-.9 2.2-1.2 2.3-1.1 2.2-1.4 2.3-1.4 2.2-1.6 2.2-1.6 2.3-1.8 2.2-1.9 2.3-1.9 2.2-1.8 2.3-1.6 2.2-1.3 2.3-1.3 2.2-1.1 2.2-.9 2.3-.3 2.2 0 2.3 0 2.2 .1 2.3 .1 2.2 .2 2.3 .4 2.2 .5 2.2 .6 2.3 .5 2.2 .6 2.3 .5 2.2 .7 2.3 .6 2.2 .6 2.2 .4 2.3 .1 2.2-.2 2.3-.5 2.2-.9 2.3-1 2.2-1.5 2.3-3.3 2.2-4 2.2-3.3 2.3-2.6 2.2-2.1 2.3-1.3 2.2-.8 2.3-1.6 2.2-4.1 2.3-5.9 2.2-8.4 2.2-10.1 2.3-11 2.2-11.1 2.3-10.8 2.2-10.1 2.3-9.3 2.2-7.4 2.2-6.4 2.3-3.7 2.2 0 2.3 .5 2.2 .7 2.3 .9 2.2 1.8 2.3 2.5 2.2 1.9 2.2 1.3 2.3 1 2.2 1 2.3 1.1 2.2 1 2.3 1.1 2.2 1.1 2.3 1.3 2.2 1.4 2.2 1.7 2.3 1.7 2.2 1.9 2.3 2.1 2.2 2.3 2.3 2.3 2.2 2.2 2.2 2.1 2.3 2.1 2.2 2 2.3 1.9 2.2 1.6 2.3 1.3 2.2 1.3 2.3 1 2.2 .7 2.2 .5 2.3 1 2.2 2.1 2.3 2.9 2.2 4 2.3 4.8 2.2 5.2 2.3 6.1 2.2 6.6 2.2 6.8 2.3 6.8 2.2 7" stroke="#77AC30"/>
<path d="M41.1 209.5l2.2 .4 2.3 .2 2.2 .2 2.3 0 2.2 0 2.3-.2 2.2-.4 2.3-.6 2.2-.5 2.2-.6 2.3-.4 2.2-.1 2.3 .1 2.2 .1 2.3 .2 2.2 .2 2.2 .2 2.3 .2 2.2 .2 2.3 .3 2.2 .3 2.3 .4 2.2 .3 2.3 .3 2.2 .2 2.2 .1 2.3 0 2.2 .1 2.3 0 2.2 0 2.3 0 2.2-.1 2.3 0 2.2-.1 2.2-.2 2.3-1 2.2-1.2 2.3-1.4 2.2-1.5 2.3-1.8 2.2-1.9 2.2-2 2.3-2 2.2-1.9 2.3-1.8 2.2-1.8 2.3-1.4 2.2-1 2.3-.9 2.2-.8 2.2-.4 2.3 0 2.2 .2 2.3 .4 2.2 .4 2.3 .5 2.2 .4 2.3 .5 2.2 .6 2.2 .6 2.3 .6 2.2 .5 2.3 .5 2.2 .6 2.3 .6 2.2 .4 2.2 .3 2.3 .1 2.2-.5 2.3-.9 2.2-1.5 2.3-1.6 2.2-2.1 2.3-3.9 2.2-4.6 2.2-3.5 2.3-2.5 2.2-1.9 2.3-1.1 2.2-1.1 2.3-3.2 2.2-7.1 2.3-8.8 2.2-11.3 2.2-14.8 2.3-15 2.2-11.3 2.3-9.7 2.2-7.6 2.3-5.9 2.2-4.7 2.2-3.9 2.3-2.3 2.2 0 2.3 .9 2.2 1.3 2.3 1.6 2.2 2.1 2.3 2.7 2.2 2.4 2.2 2.1 2.3 1.7 2.2 1.3 2.3 1.1 2.2 1 2.3 1.1 2.2 1.1 2.3 1.3 2.2 1.7 2.2 2.1 2.3 2.4 2.2 2.5 2.3 2.4 2.2 2.6 2.3 2.5 2.2 2.5 2.2 2.4 2.3 2.4 2.2 2.3 2.3 2 2.2 1.6 2.3 1.3 2.2 1 2.3 .7 2.2 .4 2.2 .1 2.3 .5 2.2 1.4 2.3 2 2.2 2.7 2.3 3.4 2.2 3.7 2.3 4.3 2.2 5.3 2.2 6.2 2.3 6.8 2.2 7.5" stroke="#A2142F"/>
<path d="M41.1 225.8l2.2 0 2.3-.1 2.2-.1 2.3-.2 2.2-.2 2.3-.4 2.2-.6 2.3-.8 2.2-.8 2.2-.7 2.3-.5 2.2-.2 2.3 .1 2.2 .1 2.3 .1 2.2 .2 2.2 .2 2.3 .2 2.2 .1 2.3 .2 2.2 .3 2.3 .3 2.2 .2 2.3 .3 2.2 .1 2.2 .1 2.3 0 2.2 .1 2.3 0 2.2 0 2.3 .1 2.2 0 2.3 0 2.2 0 2.2-.2 2.3-.9 2.2-1.1 2.3-1.2 2.2-1.3 2.3-1.5 2.2-1.6 2.2-1.7 2.3-1.8 2.2-1.9 2.3-1.9 2.2-1.7 2.3-1.4 2.2-1.2 2.3-1.2 2.2-1 2.2-.7 2.3-.2 2.2 0 2.3 .2 2.2 .2 2.3 .2 2.2 .3 2.3 .3 2.2 .6 2.2 .6 2.3 .6 2.2 .6 2.3 .6 2.2 .7 2.3 .7 2.2 .6 2.2 .5 2.3 .1 2.2-.2 2.3-.6 2.2-.9 2.3-1.2 2.2-1.7 2.3-3.5 2.2-4.3 2.2-3.5 2.3-2.9 2.2-2.4 2.3-1.5 2.2-1.2 2.3-.9 2.2-.7 2.3 .2 2.2-1.5 2.2-2.7 2.3-5.1 2.2-8.3 2.3-9 2.2-8.2 2.3-7.7 2.2-5.8 2.2-4.9 2.3-2.8 2.2 .1 2.3 .5 2.2 .8 2.3 .9 2.2 1.8 2.3 2.5 2.2 2 2.2 1.1 2.3 .5 2.2 .2 2.3 0 2.2-.2 2.3-.3 2.2-.4 2.3-.2 2.2 0 2.2 .2 2.3 .4 2.2 .7 2.3 1.2 2.2 1.6 2.3 1.9 2.2 2.3 2.2 2.8 2.3 3.2 2.2 3.4 2.3 3.2 2.2 2.9 2.3 2.2 2.2 1.5 2.3 1 2.2 .7 2.2 .5 2.3 .9 2.2 2 2.3 2.8 2.2 3.8 2.3 4.6 2.2 4.9 2.3 5.3 2.2 5.4 2.2 4.9 2.3 3 2.2-2.4" stroke="#EDB120"/>
<path d="M41.1 227.6l2.2 0 2.3-.1 2.2-.1 2.3-.2 2.2-.3 2.3-.4 2.2-.7 2.3-.7 2.2-.8 2.2-.7 2.3-.5 2.2-.2 2.3 .1 2.2 .1 2.3 .2 2.2 .3 2.2 .2 2.3 .3 2.2 .2 2.3 .3 2.2 .4 2.3 .3 2.2 .4 2.3 .2 2.2 .3 2.2 .1 2.3 0 2.2 0 2.3-.1 2.2 0 2.3-.1 2.2 0 2.3-.1 2.2-.1 2.2-.4 2.3-1 2.2-1.2 2.3-1.2 2.2-1.4 2.3-1.5 2.2-1.6 2.2-1.7 2.3-1.8 2.2-1.9 2.3-1.9 2.2-1.7 2.3-1.5 2.2-1.2 2.3-1.2 2.2-1.1 2.2-.7 2.3-.3 2.2 .1 2.3 .1 2.2 .1 2.3 .2 2.2 .2 2.3 .4 2.2 .5 2.2 .6 2.3 .7 2.2 .6 2.3 .6 2.2 .7 2.3 .7 2.2 .6 2.2 .5 2.3 .2 2.2-.2 2.3-.5 2.2-.9 2.3-1.1 2.2-1.5 2.3-3.4 2.2-4.2 2.2-3.4 2.3-2.8 2.2-2.3 2.3-1.4 2.2-1 2.3-2 2.2-4.8 2.3-6.7 2.2-9.5 2.2-11.5 2.3-12.4 2.2-11.9 2.3-11.2 2.2-9.9 2.3-8.7 2.2-6.8 2.2-5.8 2.3-3.4 2.2 .1 2.3 .7 2.2 .9 2.3 1.2 2.2 1.9 2.3 2.6 2.2 2.1 2.2 1.5 2.3 1.2 2.2 1 2.3 1.1 2.2 1.1 2.3 1 2.2 1.2 2.3 1.3 2.2 1.5 2.2 1.7 2.3 1.9 2.2 2 2.3 2.2 2.2 2.3 2.3 2.3 2.2 2.3 2.2 2.2 2.3 2.1 2.2 2.1 2.3 2 2.2 1.6 2.3 1.4 2.2 1.3 2.3 1 2.2 .7 2.2 .5 2.3 1 2.2 2.1 2.3 2.8 2.2 3.8 2.3 4.6 2.2 5.1 2.3 5.8 2.2 6.5 2.2 6.8 2.3 6.9 2.2 7.2" stroke="#A2142F"/>
<path d="M41.1 211.7l2.2 .4 2.3 .3 2.2 .2 2.3 .2 2.2 0 2.3-.1 2.2-.4 2.3-.5 2.2-.6 2.2-.5 2.3-.4 2.2-.1 2.3 0 2.2 .2 2.3 .1 2.2 .2 2.2 .2 2.3 .1 2.2 .2 2.3 .2 2.2 .2 2.3 .3 2.2 .3 2.3 .2 2.2 .2 2.2 .2 2.3 0 2.2 .1 2.3 .2 2.2 .1 2.3 .2 2.2 .1 2.3 .2 2.2 .1 2.2 0 2.3-.8 2.2-1 2.3-1.2 2.2-1.3 2.3-1.7 2.2-1.8 2.2-1.9 2.3-2 2.2-2 2.3-2 2.2-2 2.3-1.6 2.2-1.3 2.3-1.2 2.2-1.1 2.2-.7 2.3-.3 2.2 0 2.3 .2 2.2 .2 2.3 .3 2.2 .4 2.3 .5 2.2 .6 2.2 .7 2.3 .7 2.2 .6 2.3 .6 2.2 .7 2.3 .7 2.2 .6 2.2 .5 2.3 .1 2.2-.3 2.3-.9 2.2-1.3 2.3-1.5 2.2-2.1 2.3-4 2.2-4.6 2.2-3.6 2.3-2.8 2.2-2.2 2.3-1.4 2.2-1.3 2.3-3.2 2.2-6.7 2.3-8.3 2.2-10.7 2.2-13.7 2.3-14 2.2-10.9 2.3-9.7 2.2-8 2.3-6.6 2.2-5.4 2.2-4.5 2.3-2.7 2.2-.1 2.3 .7 2.2 1.1 2.3 1.3 2.2 2 2.3 2.6 2.2 2.3 2.2 1.8 2.3 1.7 2.2 1.2 2.3 1.1 2.2 1.2 2.3 1.1 2.2 1.2 2.3 1.4 2.2 1.8 2.2 2.1 2.3 2.3 2.2 2.5 2.3 2.5 2.2 2.5 2.3 2.6 2.2 2.5 2.2 2.3 2.3 2.3 2.2 2.2 2.3 2.1 2.2 1.5 2.3 1.3 2.2 1.1 2.3 .8 2.2 .3 2.2 .3 2.3 .5 2.2 1.6 2.3 2.1 2.2 3 2.3 3.6 2.2 3.9 2.3 4.7 2.2 5.5 2.2 6.2 2.3 6.7 2.2 7.3" stroke="#7E2F8E"/>
<path d="M41.1 197.1l2.2 .4 2.3 .4 2.2 .2 2.3 .2 2.2 0 2.3-.1 2.2-.4 2.3-.5 2.2-.5 2.2-.5 2.3-.4 2.2-.1 2.3 0 2.2 .1 2.3 .2 2.2 .2 2.2 .2 2.3 .2 2.2 .2 2.3 .3 2.2 .3 2.3 .4 2.2 .3 2.3 .3 2.2 .2 2.2 .1 2.3 .1 2.2 0 2.3 0 2.2 0 2.3 .1 2.2 0 2.3-.1 2.2 0 2.2-.2 2.3-.9 2.2-1.4 2.3-1.5 2.2-1.6 2.3-2 2.2-2.3 2.2-2.3 2.3-2.1 2.2-2 2.3-2 2.2-1.8 2.3-1.5 2.2-1 2.3-.9 2.2-.7 2.2-.3 2.3 0 2.2 .3 2.3 .5 2.2 .6 2.3 .6 2.2 .6 2.3 .6 2.2 .8 2.2 .8 2.3 .8 2.2 .8 2.3 .7 2.2 .8 2.3 .8 2.2 .6 2.2 .5 2.3 .2 2.2-.5 2.3-1.2 2.2-1.8 2.3-2.1 2.2-2.7 2.3-4.7 2.2-5.4 2.2-4.1 2.3-3 2.2-2.4 2.3-1.7 2.2-1.8 2.3-4.7 2.2-8.9 2.3-9.5 2.2-11.3 2.2-15.2 2.3-14.3 2.2-8.9 2.3-7.3 2.2-5.4 2.3-4.1 2.2-3.5 2.2-2.7 2.3-1.3 2.2 .5 2.3 1.5 2.2 2.1 2.3 2.2 2.2 2.6 2.3 3.2 2.2 2.7 2.2 2.5 2.3 2 2.2 1.2 2.3 1 2.2 .8 2.3 .8 2.2 .7 2.3 .9 2.2 1.4 2.2 1.9 2.3 2.2 2.2 2.3 2.3 2.3 2.2 2.4 2.3 2.4 2.2 2.5 2.2 2.4 2.3 2.5 2.2 2.5 2.3 2.2 2.2 1.7 2.3 1.4 2.2 1.3 2.3 .9 2.2 .5 2.2 .4 2.3 .7 2.2 1.7 2.3 2.1 2.2 2.9 2.3 3.4 2.2 3.8 2.3 4.4 2.2 5.5 2.2 6.7 2.3 7.5 2.2 8.3" stroke="#A2142F"/>
<path d="M41.1 196.2l2.2 .5 2.3 .5 2.2 .3 2.3 .2 2.2 .1 2.3-.1 2.2-.3 2.3-.4 2.2-.4 2.2-.5 2.3-.3 2.2-.1 2.3 .1 2.2 .2 2.3 .2 2.2 .3 2.2 .3 2.3 .3 2.2 .3 2.3 .3 2.2 .4 2.3 .4 2.2 .4 2.3 .4 2.2 .3 2.2 .2 2.3 .1 2.2 .1 2.3 .1 2.2 0 2.3 .1 2.2 0 2.3 0 2.2 0 2.2-.2 2.3-1 2.2-1.3 2.3-1.5 2.2-1.6 2.3-2 2.2-2.2 2.2-2.3 2.3-2.2 2.2-1.9 2.3-2.1 2.2-1.9 2.3-1.5 2.2-1 2.3-.9 2.2-.8 2.2-.4 2.3 0 2.2 .3 2.3 .4 2.2 .6 2.3 .6 2.2 .5 2.3 .7 2.2 .8 2.2 .9 2.3 .8 2.2 .8 2.3 .8 2.2 .9 2.3 .8 2.2 .8 2.2 .5 2.3 .2 2.2-.4 2.3-1.1 2.2-1.7 2.3-2.1 2.2-2.6 2.3-4.7 2.2-5.3 2.2-4.1 2.3-3 2.2-2.4 2.3-1.6 2.2-1.8 2.3-4.7 2.2-8.8 2.3-9.8 2.2-11.6 2.2-15.5 2.3-14.8 2.2-9.3 2.3-7.5 2.2-5.7 2.3-4.1 2.2-3.5 2.2-2.8 2.3-1.4 2.2 .4 2.3 1.4 2.2 2 2.3 2.1 2.2 2.6 2.3 3 2.2 2.8 2.2 2.4 2.3 2 2.2 1.3 2.3 1 2.2 .9 2.3 .9 2.2 .8 2.3 1.1 2.2 1.6 2.2 2 2.3 2.4 2.2 2.4 2.3 2.4 2.2 2.5 2.3 2.6 2.2 2.5 2.2 2.4 2.3 2.5 2.2 2.4 2.3 2.2 2.2 1.7 2.3 1.3 2.2 1.1 2.3 .8 2.2 .4 2.2 .2 2.3 .6 2.2 1.5 2.3 1.9 2.2 2.6 2.3 3.2 2.2 3.5 2.3 4.1 2.2 5.3 2.2 6.4 2.3 7.1 2.2 8.1" stroke="#77AC30"/>
<path d="M41.1 196.2l2.2 .6 2.3 .5 2.2 .4 2.3 .3 2.2 .2 2.3-.1 2.2-.2 2.3-.4 2.2-.4 2.2-.4 2.3-.3 2.2-.1 2.3 .1 2.2 .2 2.3 .2 2.2 .2 2.2 .3 2.3 .2 2.2 .2 2.3 .3 2.2 .4 2.3 .4 2.2 .3 2.3 .4 2.2 .2 2.2 .2 2.3 .2 2.2 .1 2.3 .1 2.2 .1 2.3 .2 2.2 .1 2.3 .1 2.2 .1 2.2-.1 2.3-.8 2.2-1.3 2.3-1.4 2.2-1.5 2.3-1.9 2.2-2.1 2.2-2.3 2.3-2.1 2.2-2 2.3-2.1 2.2-1.9 2.3-1.6 2.2-1.1 2.3-.9 2.2-.8 2.2-.5 2.3-.1 2.2 .2 2.3 .4 2.2 .5 2.3 .6 2.2 .5 2.3 .7 2.2 .8 2.2 .8 2.3 .8 2.2 .7 2.3 .8 2.2 .8 2.3 .8 2.2 .7 2.2 .5 2.3 .2 2.2-.5 2.3-1.1 2.2-1.7 2.3-2.1 2.2-2.6 2.3-4.7 2.2-5.2 2.2-4.2 2.3-2.9 2.2-2.5 2.3-1.6 2.2-1.8 2.3-4.5 2.2-8.5 2.3-9.2 2.2-11 2.2-14.6 2.3-13.9 2.2-8.9 2.3-7.4 2.2-5.8 2.3-4.7 2.2-3.9 2.2-3.2 2.3-1.6 2.2 .3 2.3 1.3 2.2 1.9 2.3 1.9 2.2 2.5 2.3 3 2.2 2.6 2.2 2.3 2.3 1.9 2.2 1.1 2.3 .9 2.2 .9 2.3 .8 2.2 .7 2.3 1 2.2 1.4 2.2 1.9 2.3 2.1 2.2 2.3 2.3 2.2 2.2 2.4 2.3 2.5 2.2 2.5 2.2 2.3 2.3 2.5 2.2 2.4 2.3 2.2 2.2 1.7 2.3 1.5 2.2 1.2 2.3 .9 2.2 .6 2.2 .4 2.3 .8 2.2 1.7 2.3 2.3 2.2 2.9 2.3 3.6 2.2 3.9 2.3 4.7 2.2 5.6 2.2 6.7 2.3 7.4 2.2 8.3" stroke="#4DBEEE"/>
<path d="M41.1 226.2l2.2 .1 2.3 .1 2.2-.1 2.3-.1 2.2-.1 2.3-.4 2.2-.6 2.3-.7 2.2-.7 2.2-.6 2.3-.4 2.2-.2 2.3 .1 2.2 .2 2.3 .2 2.2 .3 2.2 .2 2.3 .3 2.2 .2 2.3 .3 2.2 .3 2.3 .4 2.2 .3 2.3 .3 2.2 .3 2.2 .1 2.3 .1 2.2 .1 2.3 0 2.2 0 2.3 0 2.2 0 2.3-.1 2.2 0 2.2-.3 2.3-.9 2.2-1.1 2.3-1.2 2.2-1.3 2.3-1.5 2.2-1.6 2.2-1.6 2.3-1.8 2.2-1.9 2.3-1.9 2.2-1.8 2.3-1.4 2.2-1.3 2.3-1.2 2.2-1.1 2.2-.8 2.3-.3 2.2 0 2.3 .1 2.2 .1 2.3 .2 2.2 .2 2.3 .4 2.2 .5 2.2 .6 2.3 .6 2.2 .5 2.3 .6 2.2 .7 2.3 .7 2.2 .6 2.2 .4 2.3 .2 2.2-.2 2.3-.5 2.2-.9 2.3-1 2.2-1.6 2.3-3.5 2.2-4.2 2.2-3.4 2.3-2.8 2.2-2.4 2.3-1.5 2.2-1.1 2.3-2 2.2-4.7 2.3-6.6 2.2-9.2 2.2-11.2 2.3-11.9 2.2-11.6 2.3-11.1 2.2-9.8 2.3-8.9 2.2-6.8 2.2-5.9 2.3-3.3 2.2 .3 2.3 .8 2.2 1.1 2.3 1.2 2.2 2 2.3 2.7 2.2 2.2 2.2 1.5 2.3 1.2 2.2 1 2.3 1.1 2.2 1 2.3 1 2.2 1.1 2.3 1.3 2.2 1.5 2.2 1.6 2.3 1.8 2.2 1.9 2.3 2.1 2.2 2.3 2.3 2.3 2.2 2.2 2.2 2.1 2.3 2.1 2.2 2 2.3 1.9 2.2 1.5 2.3 1.4 2.2 1.2 2.3 .9 2.2 .6 2.2 .5 2.3 .9 2.2 2 2.3 2.8 2.2 3.8 2.3 4.7 2.2 5 2.3 5.9 2.2 6.5 2.2 6.6 2.3 6.9 2.2 7" stroke="#7E2F8E"/>
<path d="M41.1 213.2l2.2 .2 2.3 .2 2.2 0 2.3 0 2.2-.1 2.3-.3 2.2-.4 2.3-.7 2.2-.6 2.2-.6 2.3-.5 2.2-.1 2.3 0 2.2 .1 2.3 .1 2.2 .2 2.2 .2 2.3 .2 2.2 .1 2.3 .3 2.2 .2 2.3 .3 2.2 .3 2.3 .3 2.2 .2 2.2 .1 2.3 0 2.2 .1 2.3 .1 2.2 .1 2.3 .1 2.2 .1 2.3 .2 2.2 .1 2.2-.1 2.3-.8 2.2-1.1 2.3-1.2 2.2-1.4 2.3-1.6 2.2-1.9 2.2-2 2.3-2 2.2-1.9 2.3-2 2.2-2 2.3-1.6 2.2-1.2 2.3-1.2 2.2-1.1 2.2-.7 2.3-.3 2.2 0 2.3 .1 2.2 .1 2.3 .3 2.2 .2 2.3 .3 2.2 .4 2.2 .4 2.3 .4 2.2 .3 2.3 .4 2.2 .4 2.3 .4 2.2 .4 2.2 .2 2.3-.1 2.2-.5 2.3-1 2.2-1.4 2.3-1.6 2.2-2.2 2.3-4 2.2-4.6 2.2-3.7 2.3-2.8 2.2-2.2 2.3-1.4 2.2-1.3 2.3-3.3 2.2-7.2 2.3-8.9 2.2-11.4 2.2-14.8 2.3-15 2.2-11.4 2.3-9.6 2.2-7.5 2.3-5.5 2.2-4.3 2.2-3.4 2.3-1.7 2.2 .5 2.3 1.5 2.2 1.9 2.3 2.1 2.2 2.5 2.3 3.1 2.2 2.7 2.2 2.2 2.3 1.8 2.2 1.2 2.3 1 2.2 .9 2.3 .9 2.2 .9 2.3 1.1 2.2 1.5 2.2 1.9 2.3 2.1 2.2 2.3 2.3 2.2 2.2 2.4 2.3 2.5 2.2 2.4 2.2 2.3 2.3 2.3 2.2 2.4 2.3 2 2.2 1.7 2.3 1.3 2.2 1.1 2.3 .9 2.2 .4 2.2 .3 2.3 .7 2.2 1.6 2.3 2.2 2.2 3 2.3 3.6 2.2 4 2.3 4.7 2.2 5.6 2.2 6.5 2.3 7.1 2.2 7.8" stroke="#77AC30"/>
<path d="M41.1 196.4l2.2 .5 2.3 .4 2.2 .3 2.3 .2 2.2 0 2.3-.1 2.2-.3 2.3-.4 2.2-.5 2.2-.5 2.3-.4 2.2-.1 2.3 0 2.2 .2 2.3 .1 2.2 .3 2.2 .2 2.3 .2 2.2 .3 2.3 .3 2.2 .3 2.3 .4 2.2 .4 2.3 .3 2.2 .2 2.2 .2 2.3 0 2.2 .1 2.3 0 2.2 0 2.3 0 2.2 0 2.3-.1 2.2-.1 2.2-.2 2.3-1 2.2-1.4 2.3-1.6 2.2-1.6 2.3-2 2.2-2.3 2.2-2.3 2.3-2.1 2.2-2 2.3-2 2.2-1.9 2.3-1.5 2.2-1 2.3-.8 2.2-.7 2.2-.4 2.3 0 2.2 .3 2.3 .5 2.2 .5 2.3 .6 2.2 .6 2.3 .7 2.2 .8 2.2 .9 2.3 .8 2.2 .8 2.3 .7 2.2 .9 2.3 .8 2.2 .7 2.2 .6 2.3 .2 2.2-.4 2.3-1.2 2.2-1.8 2.3-2.1 2.2-2.6 2.3-4.7 2.2-5.3 2.2-4.2 2.3-2.9 2.2-2.5 2.3-1.6 2.2-1.8 2.3-4.9 2.2-9.5 2.3-10.6 2.2-12.7 2.2-17.1 2.3-16.4 2.2-10.2 2.3-7.9 2.2-5.4 2.3-3.4 2.2-2.8 2.2-2 2.3-.9 2.2 .5 2.3 1.6 2.2 2.3 2.3 2.3 2.2 2.8 2.3 3.2 2.2 2.9 2.2 2.7 2.3 2.2 2.2 1.2 2.3 1 2.2 .8 2.3 .7 2.2 .7 2.3 .9 2.2 1.5 2.2 2 2.3 2.4 2.2 2.4 2.3 2.4 2.2 2.4 2.3 2.6 2.2 2.5 2.2 2.5 2.3 2.5 2.2 2.6 2.3 2.2 2.2 1.8 2.3 1.4 2.2 1.2 2.3 .8 2.2 .4 2.2 .4 2.3 .6 2.2 1.4 2.3 2 2.2 2.5 2.3 3 2.2 3.4 2.3 4 2.2 5.2 2.2 6.5 2.3 7.5 2.2 8.5" stroke="#EDB120"/>
<path d="M41.1 229.2l2.2 0 2.3-.1 2.2-.1 2.3-.2 2.2-.3 2.3-.4 2.2-.7 2.3-.7 2.2-.8 2.2-.7 2.3-.6 2.2-.1 2.3 0 2.2 .1 2.3 .2 2.2 .2 2.2 .3 2.3 .2 2.2 .2 2.3 .2 2.2 .3 2.3 .3 2.2 .3 2.3 .3 2.2 .1 2.2 .1 2.3 0 2.2-.1 2.3-.1 2.2 0 2.3-.1 2.2-.2 2.3-.1 2.2-.1 2.2-.4 2.3-1 2.2-1.2 2.3-1.3 2.2-1.4 2.3-1.5 2.2-1.5 2.2-1.7 2.3-1.7 2.2-1.9 2.3-1.8 2.2-1.7 2.3-1.4 2.2-1.2 2.3-1.2 2.2-1 2.2-.7 2.3-.3 2.2 .1 2.3 .1 2.2 .2 2.3 .2 2.2 .2 2.3 .4 2.2 .6 2.2 .6 2.3 .7 2.2 .6 2.3 .7 2.2 .7 2.3 .7 2.2 .7 2.2 .5 2.3 .2 2.2-.1 2.3-.5 2.2-.8 2.3-1.1 2.2-1.5 2.3-3.4 2.2-4.1 2.2-3.5 2.3-2.8 2.2-2.4 2.3-1.5 2.2-1 2.3-2.1 2.2-5.2 2.3-7.6 2.2-10.5 2.2-13 2.3-14 2.2-13.1 2.3-11.9 2.2-10.1 2.3-8.4 2.2-6.3 2.2-5.5 2.3-3.1 2.2 .2 2.3 .7 2.2 1.1 2.3 1.3 2.2 2 2.3 2.7 2.2 2.2 2.2 1.6 2.3 1.3 2.2 1.1 2.3 1.2 2.2 1.1 2.3 1.1 2.2 1.2 2.3 1.4 2.2 1.7 2.2 1.9 2.3 2 2.2 2.2 2.3 2.4 2.2 2.4 2.3 2.4 2.2 2.4 2.2 2.2 2.3 2.2 2.2 2.2 2.3 2 2.2 1.6 2.3 1.4 2.2 1.2 2.3 1 2.2 .6 2.2 .5 2.3 .9 2.2 2 2.3 2.6 2.2 3.7 2.3 4.4 2.2 4.8 2.3 5.5 2.2 6.3 2.2 6.7 2.3 6.9 2.2 7.3" stroke="#EDB120"/>
<path d="M41.1 227.2l2.2 0 2.3-.1 2.2-.1 2.3-.2 2.2-.3 2.3-.4 2.2-.6 2.3-.8 2.2-.8 2.2-.8 2.3-.5 2.2-.2 2.3 0 2.2 0 2.3 .1 2.2 .1 2.2 .1 2.3 0 2.2 .1 2.3 .1 2.2 .1 2.3 .2 2.2 .1 2.3 .2 2.2 0 2.2 .1 2.3-.1 2.2 .1 2.3 0 2.2 .2 2.3 .1 2.2 .2 2.3 .1 2.2 .2 2.2-.1 2.3-.7 2.2-1 2.3-1 2.2-1.2 2.3-1.5 2.2-1.5 2.2-1.7 2.3-1.8 2.2-1.9 2.3-1.9 2.2-1.8 2.3-1.5 2.2-1.3 2.3-1.2 2.2-1.1 2.2-.8 2.3-.3 2.2 .1 2.3 0 2.2 .2 2.3 .1 2.2 .2 2.3 .4 2.2 .4 2.2 .6 2.3 .5 2.2 .5 2.3 .6 2.2 .6 2.3 .6 2.2 .5 2.2 .4 2.3 .1 2.2-.3 2.3-.6 2.2-.9 2.3-1.2 2.2-1.7 2.3-3.5 2.2-4.2 2.2-3.4 2.3-2.8 2.2-2.3 2.3-1.5 2.2-1 2.3-2.3 2.2-5.3 2.3-7.5 2.2-10.2 2.2-12.7 2.3-13.5 2.2-12.2 2.3-11.2 2.2-9.6 2.3-8.1 2.2-6.2 2.2-5.4 2.3-3 2.2 .1 2.3 .8 2.2 1.1 2.3 1.3 2.2 2 2.3 2.7 2.2 2.2 2.2 1.6 2.3 1.4 2.2 1.1 2.3 1 2.2 1.1 2.3 1 2.2 1 2.3 1.3 2.2 1.5 2.2 1.8 2.3 1.9 2.2 2.1 2.3 2.2 2.2 2.4 2.3 2.4 2.2 2.3 2.2 2.2 2.3 2.2 2.2 2.2 2.3 1.9 2.2 1.7 2.3 1.4 2.2 1.2 2.3 1 2.2 .6 2.2 .5 2.3 .9 2.2 2 2.3 2.7 2.2 3.6 2.3 4.4 2.2 4.8 2.3 5.6 2.2 6.3 2.2 6.7 2.3 6.9 2.2 7.4" stroke="#A2142F"/>
<path d="M41.1 213.2l2.2 .7 2.3 .5 2.2 .4 2.3 .3 2.2 .2 2.3-.1 2.2-.3 2.3-.4 2.2-.6 2.2-.5 2.3-.4 2.2-.2 2.3 0 2.2 0 2.3 0 2.2-.1 2.2 0 2.3-.1 2.2-.1 2.3 0 2.2 0 2.3 .1 2.2 .1 2.3 .1 2.2 0 2.2 0 2.3 .1 2.2 0 2.3 .1 2.2 0 2.3 .1 2.2 .1 2.3 .1 2.2 .1 2.2-.2 2.3-.8 2.2-1.2 2.3-1.3 2.2-1.3 2.3-1.7 2.2-1.9 2.2-2 2.3-1.9 2.2-2 2.3-2 2.2-1.9 2.3-1.6 2.2-1.2 2.3-1.2 2.2-.9 2.2-.7 2.3-.3 2.2 .1 2.3 .2 2.2 .3 2.3 .3 2.2 .4 2.3 .5 2.2 .6 2.2 .7 2.3 .7 2.2 .6 2.3 .6 2.2 .7 2.3 .7 2.2 .6 2.2 .5 2.3 .1 2.2-.3 2.3-.9 2.2-1.3 2.3-1.6 2.2-2.1 2.3-4 2.2-4.6 2.2-3.7 2.3-2.7 2.2-2.2 2.3-1.3 2.2-1.3 2.3-3.3 2.2-6.9 2.3-8.7 2.2-11.1 2.2-14.4 2.3-14.5 2.2-11.2 2.3-9.7 2.2-7.7 2.3-6.1 2.2-4.8 2.2-3.9 2.3-2.2 2.2 .3 2.3 1.1 2.2 1.6 2.3 1.7 2.2 2.3 2.3 2.9 2.2 2.4 2.2 2.1 2.3 1.6 2.2 1.1 2.3 1 2.2 .8 2.3 .7 2.2 .8 2.3 .9 2.2 1.3 2.2 1.7 2.3 2 2.2 2.1 2.3 2.1 2.2 2.3 2.3 2.3 2.2 2.4 2.2 2.3 2.3 2.4 2.2 2.3 2.3 2.1 2.2 1.6 2.3 1.4 2.2 1.2 2.3 1 2.2 .5 2.2 .4 2.3 .8 2.2 1.8 2.3 2.4 2.2 3.2 2.3 3.8 2.2 4.3 2.3 5 2.2 5.9 2.2 6.7 2.3 7.4 2.2 8" stroke="#D95319"/>
<path d="M41.1 204.4l2.2 .2 2.3 .1 2.2-.1 2.3-.1 2.2-.1 2.3-.3 2.2-.6 2.3-.6 2.2-.7 2.2-.6 2.3-.4 2.2-.1 2.3 0 2.2 .2 2.3 .2 2.2 .2 2.2 .3 2.3 .3 2.2 .2 2.3 .4 2.2 .3 2.3 .4 2.2 .4 2.3 .4 2.2 .2 2.2 .2 2.3 .1 2.2 .1 2.3 .2 2.2 .3 2.3 .3 2.2 .3 2.3 .3 2.2 .3 2.2 .1 2.3-.6 2.2-1 2.3-1.1 2.2-1.3 2.3-1.7 2.2-1.9 2.2-2.1 2.3-2.1 2.2-1.9 2.3-2.1 2.2-1.9 2.3-1.6 2.2-1.1 2.3-1.1 2.2-1 2.2-.6 2.3-.2 2.2 .1 2.3 .2 2.2 .3 2.3 .4 2.2 .3 2.3 .5 2.2 .5 2.2 .6 2.3 .6 2.2 .5 2.3 .5 2.2 .5 2.3 .6 2.2 .5 2.2 .3 2.3 0 2.2-.4 2.3-1.1 2.2-1.6 2.3-1.8 2.2-2.4 2.3-4.2 2.2-4.9 2.2-3.9 2.3-2.8 2.2-2.2 2.3-1.4 2.2-1.5 2.3-3.9 2.2-7.9 2.3-9.3 2.2-11.7 2.2-15.3 2.3-15.1 2.2-10.6 2.3-8.9 2.2-6.7 2.3-5 2.2-4 2.2-3.2 2.3-1.6 2.2 .4 2.3 1.4 2.2 1.9 2.3 2 2.2 2.5 2.3 3 2.2 2.7 2.2 2.3 2.3 2 2.2 1.2 2.3 1 2.2 1 2.3 .9 2.2 .8 2.3 1.1 2.2 1.6 2.2 2 2.3 2.2 2.2 2.4 2.3 2.3 2.2 2.5 2.3 2.5 2.2 2.5 2.2 2.4 2.3 2.4 2.2 2.5 2.3 2.1 2.2 1.7 2.3 1.4 2.2 1.2 2.3 .9 2.2 .5 2.2 .3 2.3 .7 2.2 1.6 2.3 2.2 2.2 2.8 2.3 3.5 2.2 3.8 2.3 4.5 2.2 5.6 2.2 6.5 2.3 7.2 2.2 8" stroke="#7E2F8E"/>
<path d="M41.1 227.5l2.2 0 2.3-.1 2.2-.2 2.3-.2 2.2-.3 2.3-.4 2.2-.7 2.3-.8 2.2-.8 2.2-.7 2.3-.5 2.2-.2 2.3 0 2.2 .1 2.3 .2 2.2 .2 2.2 .2 2.3 .2 2.2 .2 2.3 .2 2.2 .3 2.3 .3 2.2 .2 2.3 .3 2.2 .2 2.2 0 2.3 0 2.2 .1 2.3 0 2.2 0 2.3 0 2.2 0 2.3 0 2.2-.1 2.2-.2 2.3-.9 2.2-1.1 2.3-1.2 2.2-1.3 2.3-1.5 2.2-1.6 2.2-1.7 2.3-1.8 2.2-1.8 2.3-1.9 2.2-1.7 2.3-1.5 2.2-1.1 2.3-1.2 2.2-1.1 2.2-.7 2.3-.2 2.2 0 2.3 .2 2.2 .1 2.3 .2 2.2 .3 2.3 .3 2.2 .6 2.2 .6 2.3 .6 2.2 .5 2.3 .6 2.2 .7 2.3 .7 2.2 .6 2.2 .4 2.3 .2 2.2-.2 2.3-.6 2.2-.8 2.3-1.2 2.2-1.6 2.3-3.4 2.2-4.2 2.2-3.5 2.3-2.8 2.2-2.4 2.3-1.4 2.2-1.1 2.3-1 2.2-1.3 2.3-1.2 2.2-3 2.2-4.4 2.3-6.5 2.2-9.1 2.3-9.6 2.2-8.7 2.3-8 2.2-6 2.2-5.2 2.3-2.9 2.2 .1 2.3 .6 2.2 .8 2.3 1 2.2 1.8 2.3 2.6 2.2 2 2.2 1.1 2.3 .7 2.2 .4 2.3 .2 2.2 .1 2.3-.1 2.2 0 2.3 .1 2.2 .2 2.2 .5 2.3 .7 2.2 1 2.3 1.3 2.2 1.7 2.3 2 2.2 2.3 2.2 2.6 2.3 2.9 2.2 3.1 2.3 2.9 2.2 2.6 2.3 2 2.2 1.4 2.3 .9 2.2 .6 2.2 .4 2.3 .9 2.2 1.9 2.3 2.7 2.2 3.8 2.3 4.5 2.2 4.9 2.3 5.4 2.2 5.5 2.2 5.1 2.3 3.7 2.2-.6" stroke="#7E2F8E"/>
<path d="M41.1 198.2l2.2 .4 2.3 .3 2.2 .2 2.3 .1 2.2 0 2.3-.2 2.2-.3 2.3-.5 2.2-.6 2.2-.5 2.3-.3 2.2-.1 2.3 0 2.2 .1 2.3 .3 2.2 .2 2.2 .3 2.3 .2 2.2 .3 2.3 .3 2.2 .4 2.3 .4 2.2 .4 2.3 .3 2.2 .3 2.2 .2 2.3 .1 2.2 0 2.3 .1 2.2 .1 2.3 0 2.2 .1 2.3 0 2.2 0 2.2-.2 2.3-.9 2.2-1.3 2.3-1.5 2.2-1.5 2.3-1.9 2.2-2.2 2.2-2.3 2.3-2.1 2.2-1.9 2.3-2 2.2-1.9 2.3-1.5 2.2-1 2.3-.9 2.2-.7 2.2-.4 2.3 0 2.2 .3 2.3 .4 2.2 .6 2.3 .5 2.2 .6 2.3 .7 2.2 .7 2.2 .8 2.3 .8 2.2 .8 2.3 .7 2.2 .8 2.3 .7 2.2 .7 2.2 .5 2.3 .2 2.2-.5 2.3-1.2 2.2-1.7 2.3-2 2.2-2.7 2.3-4.6 2.2-5.3 2.2-4.1 2.3-3.1 2.2-2.4 2.3-1.7 2.2-1.8 2.3-4.8 2.2-9.2 2.3-10.4 2.2-12.6 2.2-16.7 2.3-16.2 2.2-10.3 2.3-8.2 2.2-5.7 2.3-3.7 2.2-3 2.2-2.3 2.3-1 2.2 .5 2.3 1.7 2.2 2.2 2.3 2.3 2.2 2.8 2.3 3.2 2.2 2.9 2.2 2.6 2.3 2.1 2.2 1.3 2.3 .9 2.2 .8 2.3 .7 2.2 .6 2.3 .9 2.2 1.4 2.2 1.9 2.3 2.3 2.2 2.3 2.3 2.3 2.2 2.4 2.3 2.4 2.2 2.5 2.2 2.5 2.3 2.5 2.2 2.5 2.3 2.3 2.2 1.7 2.3 1.4 2.2 1.1 2.3 .9 2.2 .4 2.2 .3 2.3 .6 2.2 1.6 2.3 2 2.2 2.6 2.3 3.2 2.2 3.5 2.3 4.1 2.2 5.3 2.2 6.6 2.3 7.5 2.2 8.4" stroke="#A2142F"/>
<path d="M41.1 203.9l2.2 .2 2.3 .1 2.2 .1 2.3-.1 2.2-.1 2.3-.3 2.2-.5 2.3-.7 2.2-.6 2.2-.7 2.3-.4 2.2-.3 2.3 0 2.2 .1 2.3 .1 2.2 .2 2.2 .1 2.3 .2 2.2 .2 2.3 .2 2.2 .3 2.3 .3 2.2 .3 2.3 .3 2.2 .2 2.2 0 2.3 0 2.2 0 2.3 0 2.2 0 2.3 0 2.2 0 2.3 0 2.2 0 2.2-.3 2.3-.9 2.2-1.4 2.3-1.5 2.2-1.5 2.3-2 2.2-2.1 2.2-2.2 2.3-2.1 2.2-2 2.3-1.9 2.2-1.8 2.3-1.5 2.2-1 2.3-.9 2.2-.7 2.2-.4 2.3 0 2.2 .3 2.3 .5 2.2 .5 2.3 .6 2.2 .5 2.3 .6 2.2 .7 2.2 .7 2.3 .7 2.2 .6 2.3 .7 2.2 .7 2.3 .6 2.2 .6 2.2 .4 2.3 .1 2.2-.5 2.3-1.2 2.2-1.7 2.3-2 2.2-2.5 2.3-4.5 2.2-5.1 2.2-4 2.3-2.9 2.2-2.3 2.3-1.6 2.2-1.6 2.3-4.2 2.2-8.1 2.3-8.9 2.2-10.8 2.2-14.2 2.3-13.6 2.2-9 2.3-7.6 2.2-6 2.3-4.8 2.2-4 2.2-3.2 2.3-1.7 2.2 .5 2.3 1.4 2.2 2 2.3 2 2.2 2.5 2.3 3.1 2.2 2.7 2.2 2.3 2.3 1.8 2.2 1.2 2.3 .9 2.2 .9 2.3 .7 2.2 .8 2.3 .9 2.2 1.3 2.2 1.8 2.3 2.1 2.2 2.2 2.3 2.2 2.2 2.3 2.3 2.4 2.2 2.4 2.2 2.4 2.3 2.4 2.2 2.4 2.3 2.2 2.2 1.7 2.3 1.4 2.2 1.2 2.3 1 2.2 .5 2.2 .5 2.3 .8 2.2 1.7 2.3 2.3 2.2 3.1 2.3 3.6 2.2 4.1 2.3 4.7 2.2 5.8 2.2 6.8 2.3 7.4 2.2 8.2" stroke="#7E2F8E"/>
<path d="M41.1 214.2l2.2 .1 2.3 0 2.2-.1 2.3-.1 2.2-.2 2.3-.3 2.2-.6 2.3-.6 2.2-.7 2.2-.6 2.3-.4 2.2-.1 2.3 .2 2.2 .2 2.3 .3 2.2 .3 2.2 .4 2.3 .4 2.2 .3 2.3 .5 2.2 .5 2.3 .5 2.2 .4 2.3 .5 2.2 .3 2.2 .3 2.3 .2 2.2 .2 2.3 .2 2.2 .2 2.3 .2 2.2 .2 2.3 .2 2.2 .2 2.2 0 2.3-.7 2.2-1 2.3-1.2 2.2-1.2 2.3-1.6 2.2-1.7 2.2-1.9 2.3-1.9 2.2-1.9 2.3-1.9 2.2-1.8 2.3-1.5 2.2-1.2 2.3-1.2 2.2-.9 2.2-.7 2.3-.2 2.2 0 2.3 .2 2.2 .2 2.3 .3 2.2 .2 2.3 .3 2.2 .4 2.2 .4 2.3 .4 2.2 .3 2.3 .3 2.2 .4 2.3 .4 2.2 .2 2.2 .2 2.3-.1 2.2-.5 2.3-1 2.2-1.2 2.3-1.5 2.2-1.9 2.3-3.8 2.2-4.4 2.2-3.6 2.3-2.6 2.2-2.2 2.3-1.3 2.2-1.1 2.3-2.7 2.2-5.9 2.3-7.3 2.2-9.7 2.2-12.3 2.3-12.6 2.2-10.5 2.3-9.7 2.2-8.4 2.3-7.3 2.2-5.7 2.2-5 2.3-2.7 2.2 .2 2.3 .9 2.2 1.3 2.3 1.5 2.2 2.1 2.3 2.7 2.2 2.3 2.2 1.8 2.3 1.5 2.2 1.1 2.3 1 2.2 1 2.3 .9 2.2 1 2.3 1.1 2.2 1.5 2.2 1.7 2.3 1.9 2.2 2 2.3 2.2 2.2 2.2 2.3 2.3 2.2 2.3 2.2 2.1 2.3 2.2 2.2 2.1 2.3 1.9 2.2 1.6 2.3 1.2 2.2 1.2 2.3 .8 2.2 .5 2.2 .3 2.3 .7 2.2 1.8 2.3 2.5 2.2 3.3 2.3 4.1 2.2 4.5 2.3 5.3 2.2 6 2.2 6.5 2.3 6.8 2.2 7.4" stroke="#A2142F"/>
<path d="M41.1 205.5l2.2 .3 2.3 .3 2.2 .2 2.3 0 2.2 0 2.3-.2 2.2-.4 2.3-.6 2.2-.5 2.2-.6 2.3-.4 2.2-.2 2.3 0 2.2 .2 2.3 .1 2.2 .2 2.2 .2 2.3 .3 2.2 .2 2.3 .2 2.2 .4 2.3 .3 2.2 .3 2.3 .3 2.2 .2 2.2 .1 2.3 0 2.2 .1 2.3 0 2.2 0 2.3 0 2.2 0 2.3 0 2.2-.1 2.2-.2 2.3-1 2.2-1.3 2.3-1.4 2.2-1.5 2.3-1.9 2.2-2 2.2-2.1 2.3-2 2.2-1.9 2.3-2 2.2-1.7 2.3-1.4 2.2-1 2.3-.9 2.2-.7 2.2-.4 2.3 .1 2.2 .3 2.3 .4 2.2 .6 2.3 .5 2.2 .5 2.3 .6 2.2 .8 2.2 .8 2.3 .7 2.2 .7 2.3 .7 2.2 .8 2.3 .8 2.2 .7 2.2 .4 2.3 .2 2.2-.4 2.3-1 2.2-1.5 2.3-1.8 2.2-2.4 2.3-4.4 2.2-5 2.2-4.1 2.3-3 2.2-2.5 2.3-1.6 2.2-1.7 2.3-4.4 2.2-9 2.3-11 2.2-13.6 2.2-18 2.3-17.8 2.2-12.4 2.3-9.7 2.2-6.7 2.3-3.9 2.2-2.9 2.2-2.2 2.3-1 2.2 .5 2.3 1.6 2.2 2.2 2.3 2.4 2.2 2.7 2.3 3.2 2.2 2.9 2.2 2.6 2.3 2.2 2.2 1.2 2.3 1 2.2 .8 2.3 .8 2.2 .7 2.3 .9 2.2 1.5 2.2 2 2.3 2.3 2.2 2.4 2.3 2.3 2.2 2.5 2.3 2.5 2.2 2.5 2.2 2.5 2.3 2.5 2.2 2.5 2.3 2.2 2.2 1.7 2.3 1.4 2.2 1.1 2.3 .8 2.2 .4 2.2 .3 2.3 .5 2.2 1.5 2.3 1.9 2.2 2.5 2.3 3 2.2 3.4 2.3 4 2.2 5.1 2.2 6.5 2.3 7.3 2.2 8.3" stroke="#4DBEEE"/>
<path d="M41.1 228l2.2 .2 2.3 .1 2.2 0 2.3 0 2.2-.1 2.3-.3 2.2-.5 2.3-.7 2.2-.6 2.2-.6 2.3-.5 2.2-.1 2.3 .2 2.2 .2 2.3 .2 2.2 .4 2.2 .3 2.3 .3 2.2 .3 2.3 .3 2.2 .4 2.3 .4 2.2 .4 2.3 .3 2.2 .3 2.2 .2 2.3 0 2.2 .1 2.3 0 2.2 0 2.3-.1 2.2 0 2.3-.1 2.2-.1 2.2-.3 2.3-1 2.2-1.1 2.3-1.2 2.2-1.3 2.3-1.5 2.2-1.5 2.2-1.6 2.3-1.7 2.2-1.9 2.3-1.8 2.2-1.8 2.3-1.4 2.2-1.3 2.3-1.2 2.2-1.1 2.2-.8 2.3-.3 2.2 0 2.3 .1 2.2 .1 2.3 .1 2.2 .1 2.3 .3 2.2 .5 2.2 .5 2.3 .5 2.2 .5 2.3 .5 2.2 .6 2.3 .6 2.2 .5 2.2 .4 2.3 .1 2.2-.2 2.3-.5 2.2-.7 2.3-1 2.2-1.5 2.3-3.2 2.2-4 2.2-3.3 2.3-2.6 2.2-2.3 2.3-1.3 2.2-.8 2.3-1.8 2.2-4.7 2.3-7.2 2.2-10.2 2.2-12.6 2.3-13.7 2.2-13 2.3-12.1 2.2-10.3 2.3-8.6 2.2-6.6 2.2-5.6 2.3-3.2 2.2 .1 2.3 .8 2.2 1 2.3 1.2 2.2 2 2.3 2.6 2.2 2.2 2.2 1.6 2.3 1.3 2.2 1.1 2.3 1.1 2.2 1.1 2.3 1.1 2.2 1.1 2.3 1.3 2.2 1.6 2.2 1.8 2.3 1.9 2.2 2.1 2.3 2.3 2.2 2.3 2.3 2.4 2.2 2.3 2.2 2.2 2.3 2.1 2.2 2.2 2.3 1.9 2.2 1.6 2.3 1.4 2.2 1.2 2.3 .9 2.2 .6 2.2 .5 2.3 .8 2.2 2 2.3 2.7 2.2 3.6 2.3 4.5 2.2 4.8 2.3 5.7 2.2 6.3 2.2 6.6 2.3 6.8 2.2 7.2" stroke="#77AC30"/>
<path d="M41.1 207.9l2.2 .3 2.3 .2 2.2 .1 2.3 .1 2.2 0 2.3-.2 2.2-.5 2.3-.5 2.2-.6 2.2-.5 2.3-.3 2.2-.1 2.3 .1 2.2 .3 2.3 .3 2.2 .4 2.2 .3 2.3 .4 2.2 .4 2.3 .5 2.2 .4 2.3 .5 2.2 .5 2.3 .4 2.2 .3 2.2 .2 2.3 .1 2.2 0 2.3 0 2.2 0 2.3 0 2.2 0 2.3-.1 2.2-.1 2.2-.3 2.3-1 2.2-1.4 2.3-1.4 2.2-1.5 2.3-1.9 2.2-2 2.2-2.1 2.3-2 2.2-2 2.3-2 2.2-1.8 2.3-1.5 2.2-1.1 2.3-1.1 2.2-.8 2.2-.6 2.3-.1 2.2 .2 2.3 .3 2.2 .3 2.3 .4 2.2 .4 2.3 .5 2.2 .7 2.2 .6 2.3 .7 2.2 .6 2.3 .6 2.2 .7 2.3 .7 2.2 .5 2.2 .4 2.3 .2 2.2-.4 2.3-1 2.2-1.4 2.3-1.7 2.2-2.3 2.3-4.1 2.2-4.8 2.2-3.7 2.3-2.8 2.2-2.3 2.3-1.4 2.2-1.4 2.3-3.4 2.2-7.1 2.3-8.3 2.2-10.4 2.2-13.5 2.3-13.4 2.2-10 2.3-8.8 2.2-7.3 2.3-6.1 2.2-4.9 2.2-4.1 2.3-2.3 2.2 .2 2.3 1.1 2.2 1.5 2.3 1.7 2.2 2.2 2.3 2.9 2.2 2.4 2.2 2 2.3 1.7 2.2 1.2 2.3 1.2 2.2 1.1 2.3 1.1 2.2 1.1 2.3 1.4 2.2 1.8 2.2 2.1 2.3 2.4 2.2 2.4 2.3 2.5 2.2 2.5 2.3 2.6 2.2 2.5 2.2 2.3 2.3 2.3 2.2 2.3 2.3 2.1 2.2 1.6 2.3 1.4 2.2 1.1 2.3 .9 2.2 .4 2.2 .3 2.3 .7 2.2 1.6 2.3 2.3 2.2 3 2.3 3.6 2.2 4 2.3 4.7 2.2 5.6 2.2 6.3 2.3 6.9 2.2 7.4" stroke="#EDB120"/>
<path d="M41.1 209.6l2.2 .6 2.3 .6 2.2 .4 2.3 .3 2.2 .2 2.3 0 2.2-.3 2.3-.4 2.2-.5 2.2-.5 2.3-.4 2.2-.2 2.3 0 2.2 .1 2.3 0 2.2 .1 2.2 0 2.3 .1 2.2 0 2.3 .1 2.2 .1 2.3 .2 2.2 .1 2.3 .2 2.2 0 2.2 0 2.3 0 2.2 0 2.3-.1 2.2 0 2.3-.1 2.2 0 2.3-.1 2.2-.1 2.2-.3 2.3-.9 2.2-1.3 2.3-1.5 2.2-1.5 2.3-1.8 2.2-2 2.2-2 2.3-2 2.2-1.9 2.3-1.9 2.2-1.8 2.3-1.4 2.2-1 2.3-1 2.2-.7 2.2-.5 2.3 0 2.2 .2 2.3 .4 2.2 .5 2.3 .4 2.2 .5 2.3 .6 2.2 .7 2.2 .8 2.3 .7 2.2 .7 2.3 .7 2.2 .8 2.3 .8 2.2 .6 2.2 .5 2.3 .2 2.2-.4 2.3-.9 2.2-1.4 2.3-1.7 2.2-2.3 2.3-4.2 2.2-4.9 2.2-3.9 2.3-3 2.2-2.4 2.3-1.6 2.2-1.6 2.3-4.1 2.2-8.5 2.3-10.6 2.2-13.4 2.2-17.6 2.3-17.6 2.2-12.7 2.3-10.2 2.2-7.2 2.3-4.5 2.2-3.4 2.2-2.6 2.3-1.3 2.2 .5 2.3 1.4 2.2 2.1 2.3 2.2 2.2 2.6 2.3 3.1 2.2 2.8 2.2 2.5 2.3 2 2.2 1.3 2.3 .9 2.2 .9 2.3 .9 2.2 .7 2.3 1 2.2 1.6 2.2 2 2.3 2.3 2.2 2.4 2.3 2.3 2.2 2.5 2.3 2.6 2.2 2.5 2.2 2.4 2.3 2.5 2.2 2.5 2.3 2.2 2.2 1.8 2.3 1.4 2.2 1.2 2.3 .9 2.2 .5 2.2 .3 2.3 .7 2.2 1.6 2.3 2 2.2 2.8 2.3 3.2 2.2 3.7 2.3 4.2 2.2 5.4 2.2 6.6 2.3 7.3 2.2 8.3" stroke="#A2142F"/>
<path d="M41.1 233.8l2.2-.1 2.3-.2 2.2-.3 2.3-.3 2.2-.3 2.3-.5 2.2-.8 2.3-.9 2.2-.8 2.2-.8 2.3-.6 2.2-.2 2.3 0 2.2 .1 2.3 .2 2.2 .2 2.2 .2 2.3 .2 2.2 .2 2.3 .3 2.2 .3 2.3 .3 2.2 .3 2.3 .2 2.2 .2 2.2 0 2.3 0 2.2-.1 2.3-.1 2.2 0 2.3-.1 2.2-.1 2.3-.1 2.2-.1 2.2-.4 2.3-1 2.2-1.1 2.3-1.2 2.2-1.4 2.3-1.5 2.2-1.5 2.2-1.5 2.3-1.8 2.2-1.8 2.3-1.9 2.2-1.7 2.3-1.5 2.2-1.2 2.3-1.2 2.2-1.2 2.2-.7 2.3-.3 2.2 0 2.3 0 2.2 .1 2.3 .1 2.2 .2 2.3 .3 2.2 .4 2.2 .5 2.3 .6 2.2 .5 2.3 .5 2.2 .6 2.3 .6 2.2 .5 2.2 .4 2.3 .1 2.2-.1 2.3-.5 2.2-.7 2.3-1 2.2-1.4 2.3-3.2 2.2-3.9 2.2-3.2 2.3-2.7 2.2-2.2 2.3-1.3 2.2-.8 2.3-1.6 2.2-4.6 2.3-7.1 2.2-10.1 2.2-12.3 2.3-13.6 2.2-13.1 2.3-12.3 2.2-10.5 2.3-9 2.2-6.7 2.2-5.8 2.3-3.4 2.2 0 2.3 .6 2.2 1 2.3 1.1 2.2 1.8 2.3 2.6 2.2 2.1 2.2 1.4 2.3 1.3 2.2 1 2.3 1.1 2.2 1.1 2.3 1 2.2 1.1 2.3 1.3 2.2 1.5 2.2 1.8 2.3 1.8 2.2 2.1 2.3 2.2 2.2 2.3 2.3 2.3 2.2 2.3 2.2 2.2 2.3 2.1 2.2 2.1 2.3 2 2.2 1.6 2.3 1.4 2.2 1.2 2.3 1 2.2 .6 2.2 .5 2.3 .9 2.2 2.1 2.3 2.7 2.2 3.8 2.3 4.5 2.2 5 2.3 5.8 2.2 6.4 2.2 6.7 2.3 6.9 2.2 7.2" stroke="#0072BD"/>
<path d="M41.1 195.8l2.2 .6 2.3 .5 2.2 .4 2.3 .2 2.2 .2 2.3 0 2.2-.2 2.3-.3 2.2-.4 2.2-.4 2.3-.3 2.2 0 2.3 .1 2.2 .3 2.3 .3 2.2 .3 2.2 .3 2.3 .4 2.2 .3 2.3 .5 2.2 .4 2.3 .5 2.2 .5 2.3 .4 2.2 .3 2.2 .3 2.3 .2 2.2 .1 2.3 .1 2.2 0 2.3 0 2.2 0 2.3 0 2.2-.1 2.2-.2 2.3-1 2.2-1.4 2.3-1.5 2.2-1.6 2.3-1.9 2.2-2.2 2.2-2.3 2.3-2.1 2.2-1.9 2.3-1.9 2.2-1.8 2.3-1.4 2.2-.9 2.3-.8 2.2-.6 2.2-.3 2.3 .1 2.2 .3 2.3 .5 2.2 .6 2.3 .6 2.2 .5 2.3 .7 2.2 .7 2.2 .7 2.3 .8 2.2 .6 2.3 .7 2.2 .7 2.3 .6 2.2 .6 2.2 .4 2.3 .1 2.2-.5 2.3-1.2 2.2-1.7 2.3-2 2.2-2.6 2.3-4.6 2.2-5.2 2.2-4.1 2.3-2.9 2.2-2.4 2.3-1.6 2.2-1.7 2.3-4.5 2.2-8.7 2.3-9.6 2.2-11.7 2.2-15.5 2.3-14.9 2.2-9.6 2.3-7.8 2.2-5.9 2.3-4.3 2.2-3.6 2.2-2.9 2.3-1.4 2.2 .4 2.3 1.4 2.2 2 2.3 2.1 2.2 2.6 2.3 3 2.2 2.8 2.2 2.4 2.3 2 2.2 1.2 2.3 1 2.2 1 2.3 .9 2.2 .9 2.3 1.1 2.2 1.6 2.2 2.1 2.3 2.4 2.2 2.4 2.3 2.4 2.2 2.5 2.3 2.6 2.2 2.5 2.2 2.4 2.3 2.5 2.2 2.4 2.3 2.2 2.2 1.7 2.3 1.3 2.2 1.2 2.3 .8 2.2 .4 2.2 .2 2.3 .6 2.2 1.5 2.3 2 2.2 2.6 2.3 3.2 2.2 3.6 2.3 4.2 2.2 5.2 2.2 6.4 2.3 7.1 2.2 8.1" stroke="#A2142F"/>
<path d="M41.1 204.1l2.2 .3 2.3 .1 2.2 .1 2.3 0 2.2-.1 2.3-.2 2.2-.5 2.3-.6 2.2-.6 2.2-.5 2.3-.4 2.2-.2 2.3 .1 2.2 .1 2.3 .2 2.2 .2 2.2 .3 2.3 .3 2.2 .2 2.3 .3 2.2 .4 2.3 .4 2.2 .4 2.3 .3 2.2 .2 2.2 .2 2.3 .1 2.2 .1 2.3 0 2.2 .1 2.3 .1 2.2 .1 2.3 .1 2.2 0 2.2-.1 2.3-.8 2.2-1.3 2.3-1.3 2.2-1.5 2.3-1.8 2.2-2 2.2-2.1 2.3-2.1 2.2-1.9 2.3-2 2.2-1.8 2.3-1.5 2.2-1 2.3-1 2.2-.8 2.2-.4 2.3-.1 2.2 .3 2.3 .3 2.2 .5 2.3 .5 2.2 .5 2.3 .6 2.2 .7 2.2 .8 2.3 .8 2.2 .7 2.3 .8 2.2 .8 2.3 .8 2.2 .6 2.2 .5 2.3 .2 2.2-.3 2.3-1.1 2.2-1.5 2.3-1.8 2.2-2.5 2.3-4.4 2.2-5.1 2.2-4 2.3-3 2.2-2.5 2.3-1.7 2.2-1.7 2.3-4.1 2.2-7.7 2.3-8.7 2.2-10.7 2.2-14 2.3-13.5 2.2-9.5 2.3-8.2 2.2-6.7 2.3-5.5 2.2-4.5 2.2-3.6 2.3-2 2.2 .4 2.3 1.3 2.2 1.8 2.3 1.9 2.2 2.4 2.3 3 2.2 2.6 2.2 2.2 2.3 1.7 2.2 1.2 2.3 1 2.2 .9 2.3 .8 2.2 .9 2.3 1 2.2 1.4 2.2 1.9 2.3 2 2.2 2.2 2.3 2.2 2.2 2.3 2.3 2.4 2.2 2.3 2.2 2.2 2.3 2.3 2.2 2.3 2.3 2 2.2 1.6 2.3 1.3 2.2 1 2.3 .8 2.2 .4 2.2 .3 2.3 .6 2.2 1.6 2.3 2.1 2.2 2.9 2.3 3.6 2.2 3.9 2.3 4.7 2.2 5.6 2.2 6.4 2.3 7 2.2 7.7" stroke="#D95319"/>
<path d="M41.1 194.5l2.2 .5 2.3 .5 2.2 .4 2.3 .2 2.2 .2 2.3-.1 2.2-.2 2.3-.4 2.2-.4 2.2-.4 2.3-.3 2.2-.1 2.3 .1 2.2 .1 2.3 .2 2.2 .3 2.2 .3 2.3 .2 2.2 .3 2.3 .3 2.2 .4 2.3 .4 2.2 .4 2.3 .4 2.2 .3 2.2 .2 2.3 .1 2.2 .1 2.3 .1 2.2 .1 2.3 .1 2.2 0 2.3 .1 2.2 0 2.2-.1 2.3-.9 2.2-1.3 2.3-1.5 2.2-1.6 2.3-1.9 2.2-2.3 2.2-2.3 2.3-2.2 2.2-1.9 2.3-2 2.2-1.9 2.3-1.5 2.2-1 2.3-.9 2.2-.7 2.2-.4 2.3 0 2.2 .3 2.3 .5 2.2 .5 2.3 .6 2.2 .6 2.3 .6 2.2 .8 2.2 .7 2.3 .7 2.2 .6 2.3 .7 2.2 .7 2.3 .6 2.2 .6 2.2 .3 2.3 .1 2.2-.5 2.3-1.3 2.2-1.9 2.3-2.1 2.2-2.7 2.3-4.8 2.2-5.3 2.2-4.2 2.3-2.9 2.2-2.4 2.3-1.6 2.2-1.9 2.3-4.8 2.2-9 2.3-9.8 2.2-11.7 2.2-15.6 2.3-14.9 2.2-9.1 2.3-7.3 2.2-5.4 2.3-3.8 2.2-3.2 2.2-2.5 2.3-1.2 2.2 .5 2.3 1.6 2.2 2.1 2.3 2.3 2.2 2.7 2.3 3.1 2.2 2.9 2.2 2.5 2.3 2 2.2 1.3 2.3 .9 2.2 .8 2.3 .8 2.2 .7 2.3 .9 2.2 1.4 2.2 1.9 2.3 2.3 2.2 2.3 2.3 2.2 2.2 2.4 2.3 2.5 2.2 2.5 2.2 2.3 2.3 2.5 2.2 2.5 2.3 2.1 2.2 1.7 2.3 1.3 2.2 1.2 2.3 .8 2.2 .4 2.2 .2 2.3 .6 2.2 1.5 2.3 2 2.2 2.6 2.3 3.1 2.2 3.5 2.3 4.2 2.2 5.3 2.2 6.5 2.3 7.3 2.2 8.2" stroke="#4DBEEE"/>
<path d="M41.1 213.1l2.2 .1 2.3 0 2.2 0 2.3-.1 2.2-.2 2.3-.4 2.2-.6 2.3-.7 2.2-.7 2.2-.7 2.3-.5 2.2-.3 2.3 0 2.2 0 2.3 .1 2.2 .1 2.2 .2 2.3 .1 2.2 .1 2.3 .2 2.2 .3 2.3 .2 2.2 .2 2.3 .2 2.2 .1 2.2 0 2.3 0 2.2-.1 2.3-.1 2.2 0 2.3 0 2.2-.1 2.3-.1 2.2-.1 2.2-.2 2.3-1 2.2-1.4 2.3-1.4 2.2-1.5 2.3-1.9 2.2-2 2.2-2 2.3-2.1 2.2-1.9 2.3-2 2.2-1.8 2.3-1.5 2.2-1.1 2.3-1.1 2.2-.8 2.2-.6 2.3-.1 2.2 .2 2.3 .2 2.2 .4 2.3 .4 2.2 .4 2.3 .5 2.2 .6 2.2 .7 2.3 .6 2.2 .6 2.3 .6 2.2 .7 2.3 .7 2.2 .5 2.2 .4 2.3 .1 2.2-.4 2.3-.9 2.2-1.4 2.3-1.8 2.2-2.2 2.3-4.2 2.2-4.8 2.2-3.9 2.3-2.8 2.2-2.4 2.3-1.6 2.2-1.5 2.3-3.5 2.2-6.8 2.3-7.9 2.2-9.9 2.2-12.7 2.3-12.5 2.2-9.3 2.3-8.5 2.2-7.4 2.3-6.4 2.2-5.4 2.2-4.4 2.3-2.5 2.2 .2 2.3 1 2.2 1.5 2.3 1.5 2.2 2.3 2.3 2.8 2.2 2.4 2.2 1.9 2.3 1.6 2.2 1.1 2.3 1 2.2 1 2.3 .9 2.2 1 2.3 1.2 2.2 1.5 2.2 1.8 2.3 2 2.2 2.2 2.3 2.2 2.2 2.4 2.3 2.4 2.2 2.4 2.2 2.2 2.3 2.4 2.2 2.2 2.3 2.1 2.2 1.7 2.3 1.4 2.2 1.3 2.3 1 2.2 .6 2.2 .5 2.3 .8 2.2 1.9 2.3 2.6 2.2 3.4 2.3 4.1 2.2 4.5 2.3 5.2 2.2 6.1 2.2 6.6 2.3 7.2 2.2 7.7" stroke="#77AC30"/>
<path d="M41.1 219.4l2.2-.1 2.3-.1 2.2-.2 2.3-.2 2.2-.3 2.3-.5 2.2-.7 2.3-.8 2.2-.8 2.2-.7 2.3-.6 2.2-.2 2.3 0 2.2 .1 2.3 .1 2.2 .2 2.2 .2 2.3 .2 2.2 .2 2.3 .3 2.2 .3 2.3 .3 2.2 .3 2.3 .3 2.2 .2 2.2 .1 2.3 .1 2.2 0 2.3 .1 2.2 0 2.3 .1 2.2 0 2.3 .1 2.2 0 2.2-.2 2.3-.8 2.2-1.2 2.3-1.2 2.2-1.4 2.3-1.6 2.2-1.8 2.2-1.8 2.3-1.9 2.2-2 2.3-2 2.2-1.9 2.3-1.6 2.2-1.3 2.3-1.3 2.2-1.1 2.2-.7 2.3-.4 2.2 0 2.3 .2 2.2 .2 2.3 .2 2.2 .4 2.3 .4 2.2 .7 2.2 .7 2.3 .8 2.2 .7 2.3 .7 2.2 .9 2.3 .8 2.2 .7 2.2 .6 2.3 .3 2.2-.2 2.3-.6 2.2-1.1 2.3-1.3 2.2-1.9 2.3-3.8 2.2-4.4 2.2-3.6 2.3-2.8 2.2-2.3 2.3-1.4 2.2-1.2 2.3-1.7 2.2-2.7 2.3-1.9 2.2-2 2.2-3.4 2.3-5.6 2.2-7.9 2.3-8.8 2.2-8.4 2.3-8.2 2.2-6.5 2.2-5.6 2.3-3.3 2.2 0 2.3 .4 2.2 .7 2.3 .9 2.2 1.7 2.3 2.4 2.2 1.9 2.2 1.2 2.3 .8 2.2 .5 2.3 .5 2.2 .3 2.3 .3 2.2 .3 2.3 .5 2.2 .6 2.2 .8 2.3 1.1 2.2 1.2 2.3 1.7 2.2 1.9 2.3 2.1 2.2 2.3 2.2 2.5 2.3 2.8 2.2 2.8 2.3 2.7 2.2 2.4 2.3 1.9 2.2 1.4 2.3 1 2.2 .6 2.2 .5 2.3 .9 2.2 2.1 2.3 2.8 2.2 3.8 2.3 4.7 2.2 5 2.3 5.6 2.2 5.9 2.2 5.5 2.3 4.6 2.2 1.3" stroke="#A2142F"/>
<path d="M41.1 202.8l2.2 .3 2.3 .2 2.2 .1 2.3 0 2.2 0 2.3-.2 2.2-.5 2.3-.6 2.2-.6 2.2-.5 2.3-.4 2.2-.2 2.3 0 2.2 .2 2.3 .2 2.2 .2 2.2 .3 2.3 .2 2.2 .3 2.3 .3 2.2 .4 2.3 .4 2.2 .4 2.3 .4 2.2 .2 2.2 .2 2.3 .1 2.2 .1 2.3 .2 2.2 .1 2.3 .2 2.2 .2 2.3 .2 2.2 .1 2.2 0 2.3-.8 2.2-1.2 2.3-1.3 2.2-1.4 2.3-1.8 2.2-2.1 2.2-2.1 2.3-2.1 2.2-2 2.3-2 2.2-2 2.3-1.5 2.2-1.2 2.3-1 2.2-.9 2.2-.6 2.3-.1 2.2 .1 2.3 .3 2.2 .5 2.3 .4 2.2 .5 2.3 .6 2.2 .7 2.2 .8 2.3 .7 2.2 .7 2.3 .7 2.2 .7 2.3 .8 2.2 .6 2.2 .4 2.3 .2 2.2-.4 2.3-1.1 2.2-1.6 2.3-1.9 2.2-2.5 2.3-4.4 2.2-5.1 2.2-4 2.3-2.9 2.2-2.4 2.3-1.5 2.2-1.6 2.3-4.3 2.2-8.5 2.3-9.8 2.2-12.1 2.2-16 2.3-15.6 2.2-10.6 2.3-8.6 2.2-6.4 2.3-4.5 2.2-3.7 2.2-2.9 2.3-1.5 2.2 .4 2.3 1.3 2.2 2 2.3 2 2.2 2.5 2.3 3 2.2 2.7 2.2 2.4 2.3 1.9 2.2 1.2 2.3 .9 2.2 .8 2.3 .8 2.2 .8 2.3 .9 2.2 1.5 2.2 1.9 2.3 2.3 2.2 2.3 2.3 2.3 2.2 2.4 2.3 2.5 2.2 2.5 2.2 2.4 2.3 2.5 2.2 2.5 2.3 2.2 2.2 1.7 2.3 1.4 2.2 1.3 2.3 .9 2.2 .5 2.2 .4 2.3 .7 2.2 1.6 2.3 2.2 2.2 2.8 2.3 3.4 2.2 3.8 2.3 4.4 2.2 5.5 2.2 6.7 2.3 7.4 2.2 8.3" stroke="#4DBEEE"/>
<path d="M41.1 212.8l2.2-.4 2.3-.3 2.2-.4 2.3-.4 2.2-.5 2.3-.6 2.2-.8 2.3-.8 2.2-.8 2.2-.8 2.3-.5 2.2-.1 2.3 .1 2.2 .2 2.3 .4 2.2 .4 2.2 .6 2.3 .5 2.2 .5 2.3 .7 2.2 .6 2.3 .7 2.2 .6 2.3 .6 2.2 .4 2.2 .3 2.3 .2 2.2 .1 2.3 .1 2.2 .2 2.3 .1 2.2 .1 2.3 .1 2.2 0 2.2-.2 2.3-.8 2.2-1.2 2.3-1.3 2.2-1.4 2.3-1.8 2.2-1.9 2.2-1.9 2.3-2 2.2-2 2.3-2.1 2.2-1.9 2.3-1.7 2.2-1.3 2.3-1.2 2.2-1.1 2.2-.7 2.3-.3 2.2 0 2.3 .1 2.2 .2 2.3 .4 2.2 .3 2.3 .5 2.2 .6 2.2 .7 2.3 .6 2.2 .6 2.3 .7 2.2 .7 2.3 .7 2.2 .5 2.2 .5 2.3 .1 2.2-.3 2.3-.9 2.2-1.4 2.3-1.6 2.2-2.1 2.3-4 2.2-4.6 2.2-3.7 2.3-2.7 2.2-2.2 2.3-1.4 2.2-1.2 2.3-3.1 2.2-6.2 2.3-7.3 2.2-9.3 2.2-12 2.3-12 2.2-9.6 2.3-8.9 2.2-7.9 2.3-7 2.2-5.9 2.2-4.9 2.3-2.9 2.2 0 2.3 .8 2.2 1.1 2.3 1.3 2.2 2 2.3 2.7 2.2 2.2 2.2 1.8 2.3 1.5 2.2 1.1 2.3 1.1 2.2 1.1 2.3 1.1 2.2 1.1 2.3 1.4 2.2 1.6 2.2 2 2.3 2.1 2.2 2.3 2.3 2.4 2.2 2.4 2.3 2.5 2.2 2.5 2.2 2.2 2.3 2.4 2.2 2.2 2.3 2.1 2.2 1.7 2.3 1.4 2.2 1.2 2.3 1 2.2 .6 2.2 .5 2.3 .8 2.2 1.9 2.3 2.6 2.2 3.4 2.3 4.2 2.2 4.5 2.3 5.3 2.2 6.1 2.2 6.5 2.3 7 2.2 7.5" stroke="#0072BD"/>
<path d="M41.1 228.6l2.2 .1 2.3-.1 2.2-.1 2.3-.2 2.2-.2 2.3-.4 2.2-.6 2.3-.7 2.2-.8 2.2-.6 2.3-.4 2.2-.1 2.3 .1 2.2 .3 2.3 .3 2.2 .4 2.2 .4 2.3 .4 2.2 .4 2.3 .5 2.2 .5 2.3 .5 2.2 .5 2.3 .4 2.2 .3 2.2 .2 2.3 .1 2.2 .1 2.3 0 2.2-.1 2.3-.1 2.2-.1 2.3-.1 2.2-.1 2.2-.4 2.3-1 2.2-1.2 2.3-1.2 2.2-1.4 2.3-1.5 2.2-1.5 2.2-1.6 2.3-1.7 2.2-1.8 2.3-1.9 2.2-1.7 2.3-1.4 2.2-1.2 2.3-1.2 2.2-1.1 2.2-.7 2.3-.3 2.2 .1 2.3 .1 2.2 .1 2.3 .1 2.2 .2 2.3 .3 2.2 .4 2.2 .4 2.3 .5 2.2 .4 2.3 .4 2.2 .5 2.3 .4 2.2 .4 2.2 .3 2.3 0 2.2-.2 2.3-.6 2.2-.8 2.3-1 2.2-1.4 2.3-3.1 2.2-3.9 2.2-3.2 2.3-2.6 2.2-2.1 2.3-1.2 2.2-.8 2.3-1.5 2.2-4.3 2.3-6.5 2.2-9.4 2.2-11.5 2.3-12.6 2.2-12.5 2.3-11.8 2.2-10.5 2.3-9.2 2.2-7 2.2-6.2 2.3-3.6 2.2 0 2.3 .5 2.2 .8 2.3 1 2.2 1.8 2.3 2.5 2.2 2 2.2 1.4 2.3 1.2 2.2 1.1 2.3 1.1 2.2 1.1 2.3 1.1 2.2 1.2 2.3 1.4 2.2 1.6 2.2 1.8 2.3 1.9 2.2 2.1 2.3 2.2 2.2 2.4 2.3 2.4 2.2 2.3 2.2 2.1 2.3 2.1 2.2 2.1 2.3 1.9 2.2 1.6 2.3 1.4 2.2 1.3 2.3 1 2.2 .6 2.2 .5 2.3 1 2.2 2.1 2.3 2.8 2.2 3.8 2.3 4.7 2.2 5.1 2.3 5.9 2.2 6.5 2.2 6.7 2.3 6.8 2.2 7.2" stroke="#4DBEEE"/>
<path d="M41.1 229.2l2.2-.1 2.3-.1 2.2-.2 2.3-.3 2.2-.3 2.3-.4 2.2-.7 2.3-.9 2.2-.8 2.2-.7 2.3-.5 2.2-.2 2.3 0 2.2 .2 2.3 .2 2.2 .2 2.2 .3 2.3 .2 2.2 .2 2.3 .3 2.2 .4 2.3 .3 2.2 .3 2.3 .3 2.2 .2 2.2 .1 2.3 0 2.2 0 2.3 0 2.2 0 2.3 0 2.2 0 2.3-.1 2.2 0 2.2-.3 2.3-.9 2.2-1.1 2.3-1.2 2.2-1.3 2.3-1.5 2.2-1.5 2.2-1.5 2.3-1.8 2.2-1.8 2.3-1.8 2.2-1.7 2.3-1.4 2.2-1.1 2.3-1.2 2.2-1 2.2-.8 2.3-.2 2.2 .1 2.3 .1 2.2 .2 2.3 .1 2.2 .2 2.3 .4 2.2 .4 2.2 .6 2.3 .6 2.2 .5 2.3 .5 2.2 .7 2.3 .6 2.2 .5 2.2 .4 2.3 .2 2.2-.2 2.3-.6 2.2-.8 2.3-1 2.2-1.6 2.3-3.3 2.2-4.1 2.2-3.4 2.3-2.8 2.2-2.3 2.3-1.5 2.2-1 2.3-1.9 2.2-5 2.3-7.1 2.2-10.1 2.2-12.3 2.3-13.3 2.2-12.7 2.3-11.7 2.2-10.2 2.3-8.6 2.2-6.6 2.2-5.7 2.3-3.2 2.2 .1 2.3 .7 2.2 1.1 2.3 1.2 2.2 1.9 2.3 2.7 2.2 2.1 2.2 1.5 2.3 1.3 2.2 1.1 2.3 1 2.2 1 2.3 1.1 2.2 1 2.3 1.3 2.2 1.5 2.2 1.7 2.3 1.9 2.2 2 2.3 2.1 2.2 2.3 2.3 2.4 2.2 2.2 2.2 2.2 2.3 2.2 2.2 2.1 2.3 2 2.2 1.6 2.3 1.4 2.2 1.3 2.3 1 2.2 .6 2.2 .6 2.3 .9 2.2 2.1 2.3 2.8 2.2 3.7 2.3 4.6 2.2 5 2.3 5.8 2.2 6.4 2.2 6.8 2.3 6.9 2.2 7.3" stroke="#7E2F8E"/>
<path d="M41.1 228.8l2.2-.1 2.3-.2 2.2-.3 2.3-.3 2.2-.3 2.3-.5 2.2-.7 2.3-.9 2.2-.8 2.2-.8 2.3-.5 2.2-.3 2.3 .1 2.2 .1 2.3 .2 2.2 .2 2.2 .3 2.3 .3 2.2 .2 2.3 .4 2.2 .3 2.3 .4 2.2 .4 2.3 .3 2.2 .2 2.2 .1 2.3 .1 2.2 0 2.3 0 2.2 .1 2.3 0 2.2 0 2.3 0 2.2 0 2.2-.2 2.3-.9 2.2-1.2 2.3-1.1 2.2-1.3 2.3-1.5 2.2-1.6 2.2-1.6 2.3-1.8 2.2-1.8 2.3-1.9 2.2-1.7 2.3-1.5 2.2-1.2 2.3-1.2 2.2-1.1 2.2-.7 2.3-.3 2.2 0 2.3 .1 2.2 .2 2.3 .2 2.2 .2 2.3 .3 2.2 .5 2.2 .6 2.3 .6 2.2 .5 2.3 .6 2.2 .6 2.3 .7 2.2 .6 2.2 .4 2.3 .1 2.2-.2 2.3-.5 2.2-.9 2.3-1.1 2.2-1.5 2.3-3.5 2.2-4.2 2.2-3.5 2.3-2.9 2.2-2.4 2.3-1.6 2.2-1.1 2.3-2.2 2.2-5.2 2.3-7.5 2.2-10.3 2.2-12.8 2.3-13.6 2.2-12.7 2.3-11.7 2.2-9.9 2.3-8.3 2.2-6.2 2.2-5.4 2.3-2.9 2.2 .3 2.3 .9 2.2 1.3 2.3 1.4 2.2 2.1 2.3 2.8 2.2 2.2 2.2 1.7 2.3 1.3 2.2 1.1 2.3 1 2.2 .9 2.3 1 2.2 .9 2.3 1.2 2.2 1.4 2.2 1.6 2.3 1.8 2.2 1.9 2.3 2.1 2.2 2.3 2.3 2.3 2.2 2.2 2.2 2.2 2.3 2.2 2.2 2.2 2.3 1.9 2.2 1.6 2.3 1.4 2.2 1.3 2.3 1 2.2 .6 2.2 .5 2.3 .9 2.2 2 2.3 2.8 2.2 3.7 2.3 4.5 2.2 4.9 2.3 5.7 2.2 6.4 2.2 6.8 2.3 7.1 2.2 7.4" stroke="#0072BD"/>
<path d="M41.1 191.3l2.2 .7 2.3 .5 2.2 .5 2.3 .3 2.2 .3 2.3 .1 2.2-.2 2.3-.3 2.2-.3 2.2-.3 2.3-.2 2.2 .1 2.3 .2 2.2 .3 2.3 .4 2.2 .4 2.2 .5 2.3 .4 2.2 .4 2.3 .5 2.2 .6 2.3 .6 2.2 .5 2.3 .5 2.2 .4 2.2 .4 2.3 .2 2.2 .2 2.3 .1 2.2 .1 2.3 0 2.2 .1 2.3 0 2.2 0 2.2-.2 2.3-.9 2.2-1.3 2.3-1.5 2.2-1.6 2.3-1.9 2.2-2.3 2.2-2.3 2.3-2.1 2.2-2 2.3-2 2.2-1.9 2.3-1.5 2.2-1 2.3-.9 2.2-.7 2.2-.4 2.3 0 2.2 .3 2.3 .4 2.2 .6 2.3 .6 2.2 .5 2.3 .7 2.2 .8 2.2 .8 2.3 .8 2.2 .7 2.3 .7 2.2 .8 2.3 .8 2.2 .6 2.2 .5 2.3 .2 2.2-.5 2.3-1.2 2.2-1.8 2.3-2.1 2.2-2.7 2.3-4.7 2.2-5.3 2.2-4.1 2.3-3 2.2-2.4 2.3-1.6 2.2-1.8 2.3-4.8 2.2-9.1 2.3-10.2 2.2-12.2 2.2-16.3 2.3-15.6 2.2-9.7 2.3-7.8 2.2-5.5 2.3-3.7 2.2-3.2 2.2-2.3 2.3-1.2 2.2 .4 2.3 1.6 2.2 2.1 2.3 2.2 2.2 2.6 2.3 3.2 2.2 2.8 2.2 2.5 2.3 2.1 2.2 1.2 2.3 .9 2.2 .9 2.3 .7 2.2 .7 2.3 .9 2.2 1.4 2.2 2 2.3 2.3 2.2 2.3 2.3 2.3 2.2 2.5 2.3 2.5 2.2 2.5 2.2 2.4 2.3 2.6 2.2 2.5 2.3 2.3 2.2 1.7 2.3 1.5 2.2 1.2 2.3 .9 2.2 .5 2.2 .5 2.3 .7 2.2 1.6 2.3 2.1 2.2 2.7 2.3 3.3 2.2 3.6 2.3 4.2 2.2 5.4 2.2 6.7 2.3 7.5 2.2 8.5" stroke="#77AC30"/>
<path d="M41.1 211l2.2 .2 2.3 .2 2.2 .1 2.3-.1 2.2-.1 2.3-.3 2.2-.5 2.3-.7 2.2-.7 2.2-.6 2.3-.5 2.2-.3 2.3-.1 2.2 0 2.3 .1 2.2 0 2.2 .1 2.3 0 2.2 .1 2.3 .1 2.2 .1 2.3 .2 2.2 .2 2.3 .1 2.2 0 2.2 0 2.3-.1 2.2-.1 2.3 0 2.2-.1 2.3 0 2.2-.1 2.3 0 2.2-.1 2.2-.3 2.3-1 2.2-1.3 2.3-1.4 2.2-1.6 2.3-1.8 2.2-2 2.2-2.1 2.3-2 2.2-1.8 2.3-1.9 2.2-1.8 2.3-1.4 2.2-1 2.3-.9 2.2-.7 2.2-.4 2.3 0 2.2 .3 2.3 .4 2.2 .4 2.3 .5 2.2 .5 2.3 .5 2.2 .7 2.2 .6 2.3 .7 2.2 .6 2.3 .6 2.2 .6 2.3 .6 2.2 .6 2.2 .3 2.3 .1 2.2-.4 2.3-1 2.2-1.5 2.3-1.8 2.2-2.2 2.3-4.1 2.2-4.8 2.2-3.7 2.3-2.7 2.2-2.1 2.3-1.3 2.2-1.3 2.3-3.8 2.2-8 2.3-9.7 2.2-12.4 2.2-16.3 2.3-16.3 2.2-11.7 2.3-9.6 2.2-7.2 2.3-4.9 2.2-3.9 2.2-3.2 2.3-1.7 2.2 .2 2.3 1.2 2.2 1.8 2.3 1.9 2.2 2.3 2.3 3 2.2 2.6 2.2 2.3 2.3 1.9 2.2 1.3 2.3 1 2.2 1 2.3 1 2.2 .9 2.3 1.1 2.2 1.7 2.2 2.1 2.3 2.4 2.2 2.5 2.3 2.4 2.2 2.5 2.3 2.6 2.2 2.5 2.2 2.4 2.3 2.5 2.2 2.4 2.3 2.2 2.2 1.6 2.3 1.4 2.2 1.1 2.3 .8 2.2 .3 2.2 .3 2.3 .5 2.2 1.5 2.3 2 2.2 2.6 2.3 3.3 2.2 3.5 2.3 4.2 2.2 5.3 2.2 6.3 2.3 7.1 2.2 7.9" stroke="#EDB120"/>
<path d="M41.1 230.8l2.2 .1 2.3 0 2.2 0 2.3-.1 2.2-.2 2.3-.3 2.2-.6 2.3-.8 2.2-.7 2.2-.6 2.3-.5 2.2-.1 2.3 0 2.2 .2 2.3 .2 2.2 .3 2.2 .2 2.3 .2 2.2 .3 2.3 .2 2.2 .3 2.3 .4 2.2 .3 2.3 .2 2.2 .2 2.2 .1 2.3 0 2.2 0 2.3 0 2.2-.1 2.3-.1 2.2-.1 2.3-.1 2.2-.1 2.2-.3 2.3-1 2.2-1.2 2.3-1.2 2.2-1.4 2.3-1.5 2.2-1.5 2.2-1.6 2.3-1.8 2.2-1.9 2.3-1.9 2.2-1.7 2.3-1.5 2.2-1.3 2.3-1.3 2.2-1.1 2.2-.8 2.3-.4 2.2 0 2.3 0 2.2 .1 2.3 .1 2.2 .2 2.3 .3 2.2 .5 2.2 .6 2.3 .6 2.2 .6 2.3 .6 2.2 .6 2.3 .7 2.2 .6 2.2 .4 2.3 .2 2.2-.1 2.3-.4 2.2-.8 2.3-.9 2.2-1.4 2.3-3.3 2.2-4 2.2-3.3 2.3-2.7 2.2-2.3 2.3-1.4 2.2-.9 2.3-1.6 2.2-4.2 2.3-6.3 2.2-9.1 2.2-11 2.3-12 2.2-12.1 2.3-11.7 2.2-10.4 2.3-9.4 2.2-7.1 2.2-6.2 2.3-3.6 2.2 .1 2.3 .7 2.2 .9 2.3 1 2.2 1.9 2.3 2.6 2.2 2 2.2 1.4 2.3 1.1 2.2 1 2.3 1.1 2.2 1 2.3 1 2.2 1.1 2.3 1.2 2.2 1.4 2.2 1.6 2.3 1.7 2.2 1.8 2.3 2.1 2.2 2.2 2.3 2.2 2.2 2.2 2.2 2.1 2.3 2.1 2.2 2 2.3 1.9 2.2 1.6 2.3 1.3 2.2 1.3 2.3 .9 2.2 .7 2.2 .5 2.3 1 2.2 2.1 2.3 2.9 2.2 3.9 2.3 4.8 2.2 5.2 2.3 6 2.2 6.6 2.2 6.7 2.3 6.8 2.2 7.1" stroke="#A2142F"/>
<path d="M41.1 216.7l2.2 .1 2.3 .1 2.2-.1 2.3-.1 2.2-.1 2.3-.3 2.2-.6 2.3-.6 2.2-.7 2.2-.6 2.3-.5 2.2-.1 2.3 .1 2.2 .2 2.3 .4 2.2 .4 2.2 .4 2.3 .4 2.2 .4 2.3 .5 2.2 .5 2.3 .6 2.2 .4 2.3 .5 2.2 .3 2.2 .1 2.3 .1 2.2-.1 2.3-.1 2.2-.1 2.3-.2 2.2-.3 2.3-.3 2.2-.4 2.2-.5 2.3-1.3 2.2-1.5 2.3-1.7 2.2-1.7 2.3-1.9 2.2-2.1 2.2-2.1 2.3-2.1 2.2-2.2 2.3-2.1 2.2-2 2.3-1.7 2.2-1.4 2.3-1.2 2.2-1.2 2.2-.8 2.3-.3 2.2 0 2.3 .2 2.2 .2 2.3 .3 2.2 .3 2.3 .6 2.2 .7 2.2 .8 2.3 .9 2.2 .8 2.3 .9 2.2 1 2.3 1 2.2 .8 2.2 .7 2.3 .4 2.2-.1 2.3-.7 2.2-1.1 2.3-1.5 2.2-2 2.3-3.9 2.2-4.6 2.2-3.8 2.3-2.9 2.2-2.4 2.3-1.6 2.2-1.4 2.3-3 2.2-6.2 2.3-7.7 2.2-10 2.2-12.6 2.3-12.9 2.2-10.6 2.3-9.6 2.2-8.3 2.3-7.1 2.2-5.6 2.2-4.8 2.3-2.6 2.2 .2 2.3 1 2.2 1.4 2.3 1.5 2.2 2.2 2.3 2.9 2.2 2.4 2.2 1.9 2.3 1.5 2.2 1.2 2.3 1.2 2.2 1.2 2.3 1.1 2.2 1.2 2.3 1.3 2.2 1.7 2.2 2 2.3 2.2 2.2 2.2 2.3 2.4 2.2 2.4 2.3 2.5 2.2 2.4 2.2 2.3 2.3 2.2 2.2 2.2 2.3 1.9 2.2 1.5 2.3 1.3 2.2 1.1 2.3 .7 2.2 .4 2.2 .2 2.3 .6 2.2 1.6 2.3 2.3 2.2 3.1 2.3 3.8 2.2 4.3 2.3 4.9 2.2 5.8 2.2 6.2 2.3 6.6 2.2 7.1" stroke="#4DBEEE"/>
<path d="M41.1 205.5l2.2 .3 2.3 .1 2.2 0 2.3 0 2.2-.1 2.3-.3 2.2-.5 2.3-.6 2.2-.7 2.2-.6 2.3-.4 2.2-.2 2.3 0 2.2 .1 2.3 .2 2.2 .2 2.2 .2 2.3 .2 2.2 .2 2.3 .3 2.2 .3 2.3 .4 2.2 .3 2.3 .3 2.2 .2 2.2 .1 2.3 0 2.2 0 2.3 0 2.2 0 2.3 0 2.2 0 2.3 0 2.2-.1 2.2-.3 2.3-.9 2.2-1.3 2.3-1.5 2.2-1.5 2.3-1.9 2.2-2.1 2.2-2.1 2.3-2.1 2.2-1.9 2.3-1.9 2.2-1.8 2.3-1.5 2.2-1 2.3-1 2.2-.7 2.2-.4 2.3 0 2.2 .2 2.3 .4 2.2 .5 2.3 .5 2.2 .5 2.3 .6 2.2 .7 2.2 .8 2.3 .7 2.2 .7 2.3 .7 2.2 .7 2.3 .8 2.2 .6 2.2 .4 2.3 .2 2.2-.4 2.3-1 2.2-1.6 2.3-1.8 2.2-2.4 2.3-4.4 2.2-5 2.2-3.9 2.3-2.9 2.2-2.3 2.3-1.5 2.2-1.5 2.3-3.8 2.2-7.3 2.3-8.1 2.2-9.7 2.2-12.8 2.3-12.4 2.2-8.7 2.3-7.7 2.2-6.5 2.3-5.8 2.2-4.8 2.2-4 2.3-2.1 2.2 .3 2.3 1.2 2.2 1.6 2.3 1.8 2.2 2.3 2.3 2.9 2.2 2.5 2.2 2.1 2.3 1.6 2.2 1.2 2.3 .9 2.2 .8 2.3 .8 2.2 .8 2.3 .9 2.2 1.3 2.2 1.7 2.3 1.9 2.2 2.1 2.3 2.1 2.2 2.2 2.3 2.4 2.2 2.3 2.2 2.3 2.3 2.4 2.2 2.3 2.3 2.1 2.2 1.7 2.3 1.4 2.2 1.2 2.3 1 2.2 .6 2.2 .5 2.3 .8 2.2 1.9 2.3 2.4 2.2 3.3 2.3 4 2.2 4.4 2.3 5.1 2.2 6.1 2.2 6.8 2.3 7.3 2.2 8.1" stroke="#77AC30"/>
<path d="M41.1 220.7l2.2 0 2.3 0 2.2-.1 2.3-.2 2.2-.3 2.3-.4 2.2-.6 2.3-.8 2.2-.8 2.2-.7 2.3-.5 2.2-.2 2.3 0 2.2 0 2.3 .1 2.2 .1 2.2 .2 2.3 .1 2.2 .1 2.3 .1 2.2 .2 2.3 .3 2.2 .2 2.3 .2 2.2 .1 2.2 0 2.3 0 2.2 0 2.3 .1 2.2 .1 2.3 .1 2.2 .2 2.3 .1 2.2 .1 2.2-.1 2.3-.7 2.2-1.1 2.3-1.2 2.2-1.3 2.3-1.5 2.2-1.8 2.2-1.8 2.3-2 2.2-1.9 2.3-1.9 2.2-1.9 2.3-1.5 2.2-1.2 2.3-1.1 2.2-1 2.2-.7 2.3-.2 2.2 .1 2.3 .2 2.2 .2 2.3 .3 2.2 .4 2.3 .4 2.2 .6 2.2 .7 2.3 .7 2.2 .6 2.3 .7 2.2 .7 2.3 .7 2.2 .6 2.2 .5 2.3 .2 2.2-.3 2.3-.7 2.2-1.2 2.3-1.4 2.2-2 2.3-4 2.2-4.7 2.2-3.8 2.3-3 2.2-2.6 2.3-1.7 2.2-1.5 2.3-3.2 2.2-6.5 2.3-8.2 2.2-10.6 2.2-13.3 2.3-13.7 2.2-11.2 2.3-10.1 2.2-8.5 2.3-7 2.2-5.5 2.2-4.7 2.3-2.6 2.2 .2 2.3 1 2.2 1.3 2.3 1.5 2.2 2.2 2.3 2.8 2.2 2.3 2.2 1.8 2.3 1.5 2.2 1.1 2.3 .9 2.2 .9 2.3 .8 2.2 .8 2.3 1 2.2 1.4 2.2 1.6 2.3 1.9 2.2 2 2.3 2.1 2.2 2.2 2.3 2.3 2.2 2.4 2.2 2.2 2.3 2.3 2.2 2.3 2.3 2.2 2.2 1.8 2.3 1.6 2.2 1.5 2.3 1.2 2.2 .9 2.2 .7 2.3 1.2 2.2 2.3 2.3 2.9 2.2 3.8 2.3 4.6 2.2 4.9 2.3 5.8 2.2 6.5 2.2 7.2 2.3 7.6 2.2 8.1" stroke="#0072BD"/>
<path d="M41.1 215.2l2.2-.1 2.3-.3 2.2-.2 2.3-.4 2.2-.3 2.3-.5 2.2-.8 2.3-.8 2.2-.8 2.2-.7 2.3-.6 2.2-.2 2.3 0 2.2 .2 2.3 .2 2.2 .4 2.2 .3 2.3 .4 2.2 .4 2.3 .4 2.2 .5 2.3 .4 2.2 .5 2.3 .4 2.2 .2 2.2 .2 2.3 0 2.2 0 2.3 0 2.2 .1 2.3 0 2.2 0 2.3 0 2.2 0 2.2-.3 2.3-.9 2.2-1.3 2.3-1.3 2.2-1.4 2.3-1.8 2.2-1.9 2.2-1.9 2.3-2 2.2-2.1 2.3-2.1 2.2-2 2.3-1.8 2.2-1.4 2.3-1.3 2.2-1.2 2.2-.9 2.3-.4 2.2-.1 2.3 .1 2.2 .2 2.3 .3 2.2 .3 2.3 .6 2.2 .7 2.2 .9 2.3 .8 2.2 .9 2.3 .9 2.2 1 2.3 1 2.2 .9 2.2 .7 2.3 .4 2.2-.1 2.3-.6 2.2-1.1 2.3-1.5 2.2-1.9 2.3-3.9 2.2-4.6 2.2-3.6 2.3-2.8 2.2-2.3 2.3-1.4 2.2-1.3 2.3-3.3 2.2-6.9 2.3-8.6 2.2-11.1 2.2-14.3 2.3-14.5 2.2-11.2 2.3-9.8 2.2-7.8 2.3-6.2 2.2-4.8 2.2-4 2.3-2.2 2.2 .3 2.3 1.2 2.2 1.6 2.3 1.7 2.2 2.3 2.3 2.9 2.2 2.5 2.2 2.1 2.3 1.7 2.2 1.1 2.3 .9 2.2 .8 2.3 .7 2.2 .8 2.3 .9 2.2 1.2 2.2 1.7 2.3 1.9 2.2 2 2.3 2 2.2 2.3 2.3 2.3 2.2 2.4 2.2 2.2 2.3 2.4 2.2 2.3 2.3 2.1 2.2 1.6 2.3 1.4 2.2 1.2 2.3 .9 2.2 .5 2.2 .4 2.3 .7 2.2 1.8 2.3 2.3 2.2 3.2 2.3 3.8 2.2 4.2 2.3 4.8 2.2 5.9 2.2 6.5 2.3 7.2 2.2 7.7" stroke="#0072BD"/>
<path d="M41.1 199.8l2.2 .4 2.3 .4 2.2 .2 2.3 .2 2.2 0 2.3-.1 2.2-.3 2.3-.5 2.2-.5 2.2-.4 2.3-.4 2.2-.1 2.3 .1 2.2 .2 2.3 .2 2.2 .2 2.2 .3 2.3 .2 2.2 .3 2.3 .3 2.2 .4 2.3 .3 2.2 .4 2.3 .4 2.2 .2 2.2 .2 2.3 .2 2.2 .1 2.3 .1 2.2 0 2.3 0 2.2 .1 2.3 0 2.2 0 2.2-.3 2.3-.9 2.2-1.3 2.3-1.4 2.2-1.6 2.3-1.9 2.2-2.1 2.2-2.2 2.3-2.1 2.2-1.9 2.3-2 2.2-1.8 2.3-1.4 2.2-1 2.3-.9 2.2-.7 2.2-.3 2.3 0 2.2 .3 2.3 .5 2.2 .5 2.3 .6 2.2 .5 2.3 .6 2.2 .7 2.2 .7 2.3 .8 2.2 .6 2.3 .6 2.2 .8 2.3 .7 2.2 .5 2.2 .4 2.3 .2 2.2-.5 2.3-1.2 2.2-1.6 2.3-2 2.2-2.5 2.3-4.5 2.2-5.2 2.2-4 2.3-3 2.2-2.4 2.3-1.6 2.2-1.7 2.3-4.5 2.2-8.8 2.3-10.2 2.2-12.4 2.2-16.5 2.3-16 2.2-10.6 2.3-8.6 2.2-6 2.3-4.1 2.2-3.2 2.2-2.5 2.3-1.1 2.2 .5 2.3 1.6 2.2 2.2 2.3 2.3 2.2 2.7 2.3 3.2 2.2 2.9 2.2 2.5 2.3 2.1 2.2 1.2 2.3 1 2.2 .8 2.3 .8 2.2 .7 2.3 .9 2.2 1.5 2.2 2 2.3 2.2 2.2 2.4 2.3 2.2 2.2 2.5 2.3 2.4 2.2 2.5 2.2 2.4 2.3 2.5 2.2 2.4 2.3 2.2 2.2 1.7 2.3 1.3 2.2 1.1 2.3 .8 2.2 .4 2.2 .3 2.3 .5 2.2 1.5 2.3 2 2.2 2.6 2.3 3.1 2.2 3.5 2.3 4.2 2.2 5.3 2.2 6.4 2.3 7.3 2.2 8.2" stroke="#0072BD"/>
<path d="M41.1 207.1l2.2 .4 2.3 .3 2.2 .2 2.3 .1 2.2 .1 2.3-.2 2.2-.4 2.3-.5 2.2-.6 2.2-.5 2.3-.4 2.2-.2 2.3 0 2.2 .1 2.3 .1 2.2 .2 2.2 .1 2.3 .1 2.2 .1 2.3 .2 2.2 .2 2.3 .2 2.2 .2 2.3 .2 2.2 .1 2.2 .1 2.3-.1 2.2 0 2.3 0 2.2-.1 2.3 0 2.2-.1 2.3 0 2.2-.1 2.2-.3 2.3-1 2.2-1.3 2.3-1.5 2.2-1.5 2.3-1.9 2.2-2.1 2.2-2.2 2.3-2.1 2.2-2 2.3-2 2.2-1.9 2.3-1.6 2.2-1.1 2.3-1 2.2-.9 2.2-.5 2.3-.1 2.2 .2 2.3 .3 2.2 .4 2.3 .5 2.2 .4 2.3 .7 2.2 .8 2.2 1 2.3 1 2.2 .9 2.3 1 2.2 1.1 2.3 1.1 2.2 .9 2.2 .8 2.3 .4 2.2-.1 2.3-.9 2.2-1.4 2.3-1.8 2.2-2.5 2.3-4.5 2.2-5.2 2.2-4.3 2.3-3.3 2.2-2.8 2.3-2 2.2-2 2.3-4.5 2.2-8.8 2.3-10.3 2.2-12.8 2.2-16.5 2.3-16.4 2.2-11.3 2.3-9.2 2.2-6.6 2.3-4.4 2.2-3.4 2.2-2.6 2.3-1.2 2.2 .6 2.3 1.7 2.2 2.2 2.3 2.3 2.2 2.8 2.3 3.2 2.2 2.9 2.2 2.5 2.3 2 2.2 1.2 2.3 .9 2.2 .9 2.3 .7 2.2 .7 2.3 .9 2.2 1.4 2.2 1.9 2.3 2.1 2.2 2.3 2.3 2.2 2.2 2.4 2.3 2.5 2.2 2.4 2.2 2.4 2.3 2.4 2.2 2.5 2.3 2.1 2.2 1.7 2.3 1.4 2.2 1.1 2.3 .8 2.2 .4 2.2 .3 2.3 .6 2.2 1.5 2.3 2.1 2.2 2.7 2.3 3.3 2.2 3.6 2.3 4.2 2.2 5.4 2.2 6.5 2.3 7.3 2.2 8.1" stroke="#0072BD"/>
<path d="M41.1 198.7l2.2 .4 2.3 .2 2.2 .3 2.3 .1 2.2 0 2.3-.2 2.2-.3 2.3-.5 2.2-.6 2.2-.4 2.3-.4 2.2-.1 2.3 .1 2.2 .1 2.3 .3 2.2 .3 2.2 .3 2.3 .2 2.2 .3 2.3 .4 2.2 .4 2.3 .4 2.2 .4 2.3 .4 2.2 .2 2.2 .2 2.3 .1 2.2 0 2.3 0 2.2 0 2.3 0 2.2 0 2.3-.1 2.2-.1 2.2-.3 2.3-1 2.2-1.4 2.3-1.5 2.2-1.6 2.3-2 2.2-2.2 2.2-2.3 2.3-2.1 2.2-1.9 2.3-2 2.2-1.9 2.3-1.4 2.2-1 2.3-.8 2.2-.7 2.2-.4 2.3 .1 2.2 .3 2.3 .5 2.2 .6 2.3 .7 2.2 .6 2.3 .7 2.2 .8 2.2 .9 2.3 .8 2.2 .8 2.3 .8 2.2 .9 2.3 .8 2.2 .7 2.2 .6 2.3 .2 2.2-.4 2.3-1.2 2.2-1.7 2.3-2 2.2-2.7 2.3-4.7 2.2-5.4 2.2-4.3 2.3-3.2 2.2-2.7 2.3-1.9 2.2-2 2.3-5.1 2.2-9.7 2.3-11.1 2.2-13.4 2.2-17.7 2.3-17.3 2.2-11 2.3-8.5 2.2-5.7 2.3-3.3 2.2-2.6 2.2-1.9 2.3-.8 2.2 .6 2.3 1.7 2.2 2.4 2.3 2.5 2.2 2.8 2.3 3.3 2.2 3 2.2 2.7 2.3 2.2 2.2 1.3 2.3 .9 2.2 .8 2.3 .7 2.2 .7 2.3 .9 2.2 1.5 2.2 2 2.3 2.3 2.2 2.5 2.3 2.3 2.2 2.4 2.3 2.6 2.2 2.5 2.2 2.5 2.3 2.6 2.2 2.6 2.3 2.2 2.2 1.8 2.3 1.4 2.2 1.3 2.3 .8 2.2 .5 2.2 .4 2.3 .6 2.2 1.5 2.3 2 2.2 2.5 2.3 3.1 2.2 3.4 2.3 4 2.2 5.2 2.2 6.6 2.3 7.6 2.2 8.5" stroke="#7E2F8E"/>
<path d="M41.1 219.6l2.2 .1 2.3 .1 2.2-.1 2.3-.1 2.2-.1 2.3-.4 2.2-.5 2.3-.7 2.2-.7 2.2-.6 2.3-.4 2.2-.1 2.3 .1 2.2 .2 2.3 .3 2.2 .3 2.2 .3 2.3 .3 2.2 .3 2.3 .4 2.2 .4 2.3 .4 2.2 .4 2.3 .4 2.2 .2 2.2 .2 2.3 .1 2.2 .1 2.3 .1 2.2 0 2.3 .1 2.2 0 2.3 .1 2.2 0 2.2-.1 2.3-.9 2.2-1.1 2.3-1.1 2.2-1.3 2.3-1.5 2.2-1.6 2.2-1.6 2.3-1.8 2.2-1.8 2.3-1.8 2.2-1.6 2.3-1.4 2.2-1.1 2.3-1 2.2-.9 2.2-.6 2.3-.2 2.2 .2 2.3 .2 2.2 .3 2.3 .2 2.2 .3 2.3 .4 2.2 .5 2.2 .5 2.3 .6 2.2 .5 2.3 .5 2.2 .6 2.3 .5 2.2 .5 2.2 .3 2.3 .1 2.2-.3 2.3-.7 2.2-1 2.3-1.3 2.2-1.7 2.3-3.6 2.2-4.2 2.2-3.4 2.3-2.6 2.2-2.2 2.3-1.3 2.2-.9 2.3-2.3 2.2-5.3 2.3-7.2 2.2-9.7 2.2-12.1 2.3-12.8 2.2-11.5 2.3-10.6 2.2-9.2 2.3-8 2.2-6.2 2.2-5.4 2.3-3 2.2 .1 2.3 .8 2.2 1.1 2.3 1.2 2.2 2 2.3 2.7 2.2 2.1 2.2 1.6 2.3 1.4 2.2 1 2.3 1 2.2 .9 2.3 1 2.2 .9 2.3 1.1 2.2 1.4 2.2 1.7 2.3 1.8 2.2 2 2.3 2.1 2.2 2.3 2.3 2.3 2.2 2.3 2.2 2.2 2.3 2.2 2.2 2.2 2.3 1.9 2.2 1.7 2.3 1.4 2.2 1.2 2.3 1 2.2 .7 2.2 .5 2.3 1 2.2 2 2.3 2.8 2.2 3.7 2.3 4.4 2.2 4.9 2.3 5.7 2.2 6.4 2.2 6.8 2.3 7.1 2.2 7.6" stroke="#7E2F8E"/>
<path d="M41.1 198.1l2.2 .4 2.3 .3 2.2 .2 2.3 .1 2.2 0 2.3-.2 2.2-.4 2.3-.5 2.2-.6 2.2-.5 2.3-.3 2.2-.2 2.3 0 2.2 .1 2.3 .1 2.2 .1 2.2 .2 2.3 .1 2.2 .2 2.3 .2 2.2 .2 2.3 .3 2.2 .3 2.3 .2 2.2 .2 2.2 .2 2.3 0 2.2 .1 2.3 0 2.2 .1 2.3 .1 2.2 0 2.3 .1 2.2 0 2.2-.2 2.3-.9 2.2-1.3 2.3-1.4 2.2-1.6 2.3-1.9 2.2-2.2 2.2-2.2 2.3-2.1 2.2-1.9 2.3-2 2.2-1.8 2.3-1.5 2.2-.9 2.3-.8 2.2-.7 2.2-.3 2.3 0 2.2 .4 2.3 .4 2.2 .6 2.3 .6 2.2 .6 2.3 .6 2.2 .8 2.2 .8 2.3 .7 2.2 .7 2.3 .6 2.2 .8 2.3 .7 2.2 .6 2.2 .4 2.3 .1 2.2-.5 2.3-1.2 2.2-1.8 2.3-2.1 2.2-2.6 2.3-4.6 2.2-5.3 2.2-4 2.3-2.9 2.2-2.4 2.3-1.5 2.2-1.7 2.3-4.7 2.2-9.1 2.3-10.1 2.2-12.2 2.2-16.4 2.3-15.7 2.2-10 2.3-7.9 2.2-5.6 2.3-3.8 2.2-3.2 2.2-2.3 2.3-1.2 2.2 .4 2.3 1.5 2.2 2.2 2.3 2.2 2.2 2.6 2.3 3.1 2.2 2.8 2.2 2.6 2.3 2.1 2.2 1.2 2.3 .9 2.2 .9 2.3 .7 2.2 .7 2.3 .9 2.2 1.5 2.2 2 2.3 2.3 2.2 2.4 2.3 2.3 2.2 2.4 2.3 2.5 2.2 2.6 2.2 2.4 2.3 2.5 2.2 2.5 2.3 2.3 2.2 1.7 2.3 1.4 2.2 1.2 2.3 .9 2.2 .5 2.2 .4 2.3 .6 2.2 1.6 2.3 2 2.2 2.7 2.3 3.2 2.2 3.6 2.3 4.2 2.2 5.3 2.2 6.6 2.3 7.5 2.2 8.4" stroke="#D95319"/>
<path d="M41.1 226.9l2.2 0 2.3 0 2.2-.1 2.3-.2 2.2-.2 2.3-.4 2.2-.6 2.3-.8 2.2-.8 2.2-.7 2.3-.4 2.2-.2 2.3 0 2.2 .2 2.3 .1 2.2 .2 2.2 .3 2.3 .2 2.2 .2 2.3 .2 2.2 .3 2.3 .3 2.2 .3 2.3 .2 2.2 .2 2.2 0 2.3 0 2.2-.1 2.3 0 2.2-.1 2.3-.1 2.2-.1 2.3-.2 2.2-.1 2.2-.4 2.3-1 2.2-1.2 2.3-1.3 2.2-1.4 2.3-1.6 2.2-1.6 2.2-1.7 2.3-1.7 2.2-1.8 2.3-1.8 2.2-1.7 2.3-1.3 2.2-1.1 2.3-1 2.2-.9 2.2-.6 2.3-.2 2.2 .2 2.3 .2 2.2 .2 2.3 .3 2.2 .2 2.3 .4 2.2 .5 2.2 .5 2.3 .6 2.2 .5 2.3 .5 2.2 .6 2.3 .6 2.2 .5 2.2 .3 2.3 .1 2.2-.2 2.3-.6 2.2-1 2.3-1.1 2.2-1.6 2.3-3.4 2.2-4.2 2.2-3.4 2.3-2.7 2.2-2.3 2.3-1.3 2.2-1 2.3-1.9 2.2-4.4 2.3-6.1 2.2-8.5 2.2-10.2 2.3-11 2.2-10.8 2.3-10.6 2.2-9.8 2.3-9.1 2.2-7.2 2.2-6.2 2.3-3.6 2.2 0 2.3 .6 2.2 .8 2.3 1 2.2 1.9 2.3 2.5 2.2 2 2.2 1.4 2.3 1.1 2.2 1.1 2.3 1.1 2.2 1.1 2.3 1.1 2.2 1.2 2.3 1.3 2.2 1.5 2.2 1.7 2.3 1.9 2.2 1.9 2.3 2.2 2.2 2.3 2.3 2.3 2.2 2.3 2.2 2.1 2.3 2.1 2.2 2 2.3 1.9 2.2 1.5 2.3 1.3 2.2 1.2 2.3 .9 2.2 .6 2.2 .4 2.3 .8 2.2 2 2.3 2.8 2.2 3.8 2.3 4.6 2.2 5.1 2.3 5.9 2.2 6.4 2.2 6.6 2.3 6.7 2.2 6.9" stroke="#77AC30"/>
<path d="M41.1 217.7l2.2 .2 2.3 .1 2.2 .1 2.3 0 2.2 0 2.3-.3 2.2-.4 2.3-.6 2.2-.6 2.2-.6 2.3-.3 2.2-.1 2.3 .2 2.2 .2 2.3 .3 2.2 .4 2.2 .4 2.3 .3 2.2 .4 2.3 .4 2.2 .5 2.3 .4 2.2 .4 2.3 .4 2.2 .2 2.2 .2 2.3 0 2.2 0 2.3-.1 2.2-.1 2.3-.1 2.2-.2 2.3-.2 2.2-.2 2.2-.4 2.3-1.1 2.2-1.4 2.3-1.4 2.2-1.5 2.3-1.7 2.2-1.9 2.2-1.8 2.3-1.8 2.2-1.9 2.3-1.8 2.2-1.7 2.3-1.3 2.2-1 2.3-1 2.2-.9 2.2-.5 2.3-.1 2.2 .2 2.3 .3 2.2 .3 2.3 .4 2.2 .3 2.3 .4 2.2 .5 2.2 .6 2.3 .5 2.2 .5 2.3 .5 2.2 .5 2.3 .6 2.2 .4 2.2 .3 2.3 .1 2.2-.4 2.3-.8 2.2-1.1 2.3-1.4 2.2-1.9 2.3-3.7 2.2-4.4 2.2-3.6 2.3-2.7 2.2-2.3 2.3-1.4 2.2-1.2 2.3-1.7 2.2-2.8 2.3-2.5 2.2-3.5 2.2-4.5 2.3-6.8 2.2-8.6 2.3-9.3 2.2-8.8 2.3-8.4 2.2-6.6 2.2-5.7 2.3-3.3 2.2 .1 2.3 .5 2.2 .8 2.3 .9 2.2 1.8 2.3 2.5 2.2 2 2.2 1.2 2.3 .9 2.2 .6 2.3 .7 2.2 .5 2.3 .4 2.2 .5 2.3 .7 2.2 .8 2.2 1 2.3 1.2 2.2 1.4 2.3 1.7 2.2 2 2.3 2.1 2.2 2.3 2.2 2.4 2.3 2.6 2.2 2.6 2.3 2.5 2.2 2.2 2.3 1.8 2.2 1.4 2.3 1 2.2 .7 2.2 .5 2.3 1 2.2 2.1 2.3 2.9 2.2 3.9 2.3 4.8 2.2 5.1 2.3 5.8 2.2 6.1 2.2 5.9 2.3 5.2 2.2 2.8" stroke="#4DBEEE"/>
<path d="M41.1 222.8l2.2 .1 2.3 0 2.2-.1 2.3-.2 2.2-.2 2.3-.4 2.2-.6 2.3-.8 2.2-.8 2.2-.7 2.3-.5 2.2-.3 2.3-.1 2.2 0 2.3 .1 2.2 0 2.2 .1 2.3 0 2.2 .1 2.3 0 2.2 .2 2.3 .1 2.2 .1 2.3 .2 2.2 0 2.2 0 2.3-.1 2.2 0 2.3 0 2.2 .1 2.3 .1 2.2 0 2.3 .1 2.2 .1 2.2-.2 2.3-.8 2.2-1.1 2.3-1.2 2.2-1.4 2.3-1.6 2.2-1.7 2.2-1.8 2.3-1.9 2.2-2 2.3-2 2.2-1.9 2.3-1.6 2.2-1.3 2.3-1.2 2.2-1.1 2.2-.8 2.3-.3 2.2 0 2.3 .1 2.2 .2 2.3 .3 2.2 .3 2.3 .5 2.2 .6 2.2 .7 2.3 .7 2.2 .7 2.3 .7 2.2 .8 2.3 .7 2.2 .7 2.2 .5 2.3 .2 2.2-.2 2.3-.7 2.2-1.1 2.3-1.4 2.2-1.9 2.3-3.8 2.2-4.6 2.2-3.7 2.3-2.9 2.2-2.4 2.3-1.6 2.2-1.4 2.3-2.8 2.2-5.9 2.3-7.3 2.2-9.7 2.2-12.1 2.3-12.4 2.2-10.6 2.3-9.9 2.2-8.7 2.3-7.7 2.2-6.1 2.2-5.3 2.3-2.9 2.2 .1 2.3 .8 2.2 1.2 2.3 1.3 2.2 2.1 2.3 2.7 2.2 2.2 2.2 1.7 2.3 1.3 2.2 1.2 2.3 1.1 2.2 1.2 2.3 1.1 2.2 1.2 2.3 1.4 2.2 1.7 2.2 1.9 2.3 2.2 2.2 2.2 2.3 2.4 2.2 2.4 2.3 2.5 2.2 2.4 2.2 2.2 2.3 2.2 2.2 2.2 2.3 1.9 2.2 1.7 2.3 1.3 2.2 1.2 2.3 1 2.2 .5 2.2 .4 2.3 .8 2.2 1.9 2.3 2.6 2.2 3.5 2.3 4.2 2.2 4.6 2.3 5.3 2.2 6.1 2.2 6.5 2.3 6.8 2.2 7.2" stroke="#A2142F"/>
<path d="M41.1 226.3l2.2-.2 2.3-.2 2.2-.3 2.3-.3 2.2-.4 2.3-.6 2.2-.7 2.3-.9 2.2-.9 2.2-.8 2.3-.6 2.2-.3 2.3-.1 2.2 .1 2.3 .1 2.2 .1 2.2 .1 2.3 .2 2.2 .1 2.3 .2 2.2 .2 2.3 .3 2.2 .2 2.3 .3 2.2 .1 2.2 0 2.3 0 2.2 0 2.3-.1 2.2 .1 2.3 0 2.2 0 2.3-.1 2.2 0 2.2-.2 2.3-.9 2.2-1.2 2.3-1.2 2.2-1.3 2.3-1.5 2.2-1.6 2.2-1.7 2.3-1.7 2.2-1.8 2.3-1.8 2.2-1.7 2.3-1.4 2.2-1.1 2.3-1.1 2.2-.9 2.2-.6 2.3-.2 2.2 .2 2.3 .2 2.2 .2 2.3 .3 2.2 .2 2.3 .4 2.2 .5 2.2 .5 2.3 .5 2.2 .4 2.3 .5 2.2 .5 2.3 .5 2.2 .5 2.2 .2 2.3 .1 2.2-.3 2.3-.7 2.2-1 2.3-1.3 2.2-1.6 2.3-3.5 2.2-4.1 2.2-3.4 2.3-2.6 2.2-2.1 2.3-1.2 2.2-.9 2.3-2 2.2-4.9 2.3-6.7 2.2-9.2 2.2-11.4 2.3-12.1 2.2-11.2 2.3-10.6 2.2-9.6 2.3-8.5 2.2-6.7 2.2-5.8 2.3-3.4 2.2-.1 2.3 .6 2.2 .9 2.3 1 2.2 1.8 2.3 2.6 2.2 2 2.2 1.5 2.3 1.2 2.2 1.1 2.3 1.2 2.2 1.1 2.3 1.1 2.2 1.2 2.3 1.3 2.2 1.7 2.2 1.8 2.3 2 2.2 2.1 2.3 2.3 2.2 2.4 2.3 2.5 2.2 2.4 2.2 2.2 2.3 2.2 2.2 2.2 2.3 2 2.2 1.7 2.3 1.5 2.2 1.3 2.3 1 2.2 .7 2.2 .6 2.3 1 2.2 2.1 2.3 2.8 2.2 3.8 2.3 4.6 2.2 5 2.3 5.8 2.2 6.4 2.2 6.8 2.3 6.9 2.2 7.3" stroke="#4DBEEE"/>
<path d="M41.1 201.7l2.2 .4 2.3 .3 2.2 .2 2.3 .1 2.2 0 2.3-.2 2.2-.3 2.3-.5 2.2-.5 2.2-.5 2.3-.3 2.2 0 2.3 .1 2.2 .3 2.3 .3 2.2 .4 2.2 .4 2.3 .5 2.2 .4 2.3 .5 2.2 .5 2.3 .6 2.2 .5 2.3 .4 2.2 .3 2.2 .2 2.3 .1 2.2 .1 2.3 0 2.2 0 2.3-.1 2.2 0 2.3-.1 2.2-.1 2.2-.3 2.3-1 2.2-1.4 2.3-1.5 2.2-1.6 2.3-1.9 2.2-2.1 2.2-2.1 2.3-2.1 2.2-1.9 2.3-2 2.2-1.8 2.3-1.5 2.2-1 2.3-.9 2.2-.8 2.2-.4 2.3 0 2.2 .2 2.3 .4 2.2 .5 2.3 .5 2.2 .5 2.3 .6 2.2 .7 2.2 .8 2.3 .7 2.2 .7 2.3 .6 2.2 .8 2.3 .7 2.2 .6 2.2 .4 2.3 .2 2.2-.4 2.3-1.1 2.2-1.6 2.3-1.9 2.2-2.4 2.3-4.3 2.2-5 2.2-3.9 2.3-2.9 2.2-2.3 2.3-1.4 2.2-1.6 2.3-4.1 2.2-8.4 2.3-9.8 2.2-12.1 2.2-16 2.3-15.8 2.2-10.8 2.3-8.8 2.2-6.5 2.3-4.6 2.2-3.6 2.2-2.9 2.3-1.5 2.2 .4 2.3 1.3 2.2 2 2.3 2 2.2 2.5 2.3 3.1 2.2 2.6 2.2 2.4 2.3 2 2.2 1.2 2.3 .9 2.2 .8 2.3 .8 2.2 .7 2.3 1 2.2 1.4 2.2 2 2.3 2.2 2.2 2.3 2.3 2.3 2.2 2.4 2.3 2.5 2.2 2.5 2.2 2.4 2.3 2.5 2.2 2.4 2.3 2.2 2.2 1.7 2.3 1.3 2.2 1.2 2.3 .8 2.2 .5 2.2 .3 2.3 .6 2.2 1.6 2.3 2.1 2.2 2.7 2.3 3.3 2.2 3.7 2.3 4.3 2.2 5.5 2.2 6.5 2.3 7.3 2.2 8.2" stroke="#0072BD"/>
<path d="M41.1 208l2.2 .4 2.3 .3 2.2 .2 2.3 0 2.2 0 2.3-.2 2.2-.4 2.3-.6 2.2-.6 2.2-.5 2.3-.4 2.2-.2 2.3 0 2.2 0 2.3 .1 2.2 0 2.2 .1 2.3 0 2.2 0 2.3 0 2.2 .1 2.3 .2 2.2 .1 2.3 .2 2.2 .1 2.2 0 2.3 .1 2.2 .1 2.3 .2 2.2 .2 2.3 .3 2.2 .3 2.3 .4 2.2 .3 2.2 .1 2.3-.6 2.2-.9 2.3-1.1 2.2-1.3 2.3-1.6 2.2-1.9 2.2-2 2.3-2 2.2-2 2.3-2 2.2-1.9 2.3-1.6 2.2-1.2 2.3-1.1 2.2-.9 2.2-.7 2.3-.1 2.2 .1 2.3 .2 2.2 .4 2.3 .4 2.2 .4 2.3 .6 2.2 .8 2.2 .8 2.3 .9 2.2 .9 2.3 .9 2.2 1 2.3 1 2.2 .8 2.2 .7 2.3 .4 2.2-.2 2.3-.8 2.2-1.4 2.3-1.7 2.2-2.3 2.3-4.2 2.2-4.8 2.2-3.9 2.3-3 2.2-2.4 2.3-1.6 2.2-1.6 2.3-3.7 2.2-7.4 2.3-8.7 2.2-11 2.2-14.1 2.3-14.1 2.2-10.5 2.3-9.1 2.2-7.5 2.3-6 2.2-5 2.2-4.2 2.3-2.4 2.2 0 2.3 .8 2.2 1.4 2.3 1.4 2.2 2.1 2.3 2.7 2.2 2.4 2.2 2 2.3 1.7 2.2 1.3 2.3 1.1 2.2 1.2 2.3 1.1 2.2 1.2 2.3 1.4 2.2 1.9 2.2 2.2 2.3 2.5 2.2 2.5 2.3 2.5 2.2 2.6 2.3 2.7 2.2 2.5 2.2 2.3 2.3 2.4 2.2 2.3 2.3 2 2.2 1.6 2.3 1.3 2.2 1.1 2.3 .8 2.2 .4 2.2 .2 2.3 .5 2.2 1.5 2.3 2.1 2.2 2.8 2.3 3.5 2.2 3.8 2.3 4.4 2.2 5.4 2.2 6.2 2.3 6.7 2.2 7.3" stroke="#4DBEEE"/>
<path d="M41.1 208.6l2.2 .3 2.3 .3 2.2 .2 2.3 0 2.2 0 2.3-.2 2.2-.4 2.3-.6 2.2-.6 2.2-.5 2.3-.4 2.2-.2 2.3 .1 2.2 .1 2.3 .1 2.2 .2 2.2 .2 2.3 .2 2.2 .2 2.3 .2 2.2 .3 2.3 .3 2.2 .3 2.3 .2 2.2 .2 2.2 .2 2.3 0 2.2 .1 2.3 0 2.2 0 2.3 .1 2.2 0 2.3 0 2.2 0 2.2-.2 2.3-.9 2.2-1.3 2.3-1.4 2.2-1.5 2.3-1.7 2.2-2 2.2-2.1 2.3-2 2.2-1.9 2.3-2 2.2-1.8 2.3-1.5 2.2-1.1 2.3-1 2.2-.8 2.2-.5 2.3-.1 2.2 .2 2.3 .3 2.2 .5 2.3 .4 2.2 .4 2.3 .6 2.2 .6 2.2 .6 2.3 .6 2.2 .6 2.3 .5 2.2 .6 2.3 .6 2.2 .5 2.2 .3 2.3 .1 2.2-.5 2.3-1 2.2-1.5 2.3-1.8 2.2-2.2 2.3-4.3 2.2-4.9 2.2-3.8 2.3-2.9 2.2-2.4 2.3-1.6 2.2-1.5 2.3-4 2.2-8.4 2.3-10.3 2.2-13 2.2-17.1 2.3-17.2 2.2-12.1 2.3-9.9 2.2-7 2.3-4.4 2.2-3.4 2.2-2.6 2.3-1.3 2.2 .5 2.3 1.5 2.2 2.1 2.3 2.2 2.2 2.7 2.3 3.1 2.2 2.8 2.2 2.6 2.3 2 2.2 1.3 2.3 1 2.2 .9 2.3 .8 2.2 .8 2.3 1 2.2 1.6 2.2 2 2.3 2.3 2.2 2.4 2.3 2.4 2.2 2.4 2.3 2.6 2.2 2.5 2.2 2.4 2.3 2.5 2.2 2.4 2.3 2.2 2.2 1.7 2.3 1.3 2.2 1.1 2.3 .8 2.2 .4 2.2 .2 2.3 .6 2.2 1.4 2.3 2 2.2 2.5 2.3 3.2 2.2 3.5 2.3 4.1 2.2 5.3 2.2 6.4 2.3 7.2 2.2 8.1" stroke="#A2142F"/>
<path d="M41.1 205.6l2.2 .1 2.3 .1 2.2-.1 2.3-.1 2.2-.2 2.3-.4 2.2-.6 2.3-.7 2.2-.8 2.2-.6 2.3-.6 2.2-.3 2.3-.1 2.2 0 2.3 0 2.2 .1 2.2 .1 2.3 0 2.2 .1 2.3 .2 2.2 .2 2.3 .2 2.2 .2 2.3 .2 2.2 .2 2.2 0 2.3 0 2.2 0 2.3 .1 2.2 .1 2.3 .1 2.2 .1 2.3 .1 2.2 .1 2.2-.1 2.3-.8 2.2-1.2 2.3-1.3 2.2-1.5 2.3-1.8 2.2-2 2.2-2.1 2.3-2 2.2-1.9 2.3-2 2.2-1.8 2.3-1.4 2.2-1 2.3-.9 2.2-.7 2.2-.4 2.3 0 2.2 .2 2.3 .4 2.2 .6 2.3 .5 2.2 .5 2.3 .6 2.2 .7 2.2 .8 2.3 .8 2.2 .7 2.3 .7 2.2 .7 2.3 .8 2.2 .6 2.2 .5 2.3 .2 2.2-.4 2.3-1.1 2.2-1.6 2.3-1.9 2.2-2.5 2.3-4.4 2.2-5 2.2-4 2.3-2.9 2.2-2.4 2.3-1.5 2.2-1.7 2.3-4.2 2.2-8.2 2.3-9.5 2.2-11.5 2.2-15.3 2.3-14.9 2.2-10.2 2.3-8.4 2.2-6.4 2.3-4.7 2.2-3.9 2.2-3.1 2.3-1.5 2.2 .3 2.3 1.4 2.2 1.9 2.3 2 2.2 2.5 2.3 3.1 2.2 2.7 2.2 2.3 2.3 1.9 2.2 1.3 2.3 1 2.2 .9 2.3 .8 2.2 .9 2.3 1 2.2 1.6 2.2 1.9 2.3 2.3 2.2 2.3 2.3 2.4 2.2 2.4 2.3 2.5 2.2 2.5 2.2 2.4 2.3 2.4 2.2 2.4 2.3 2.2 2.2 1.6 2.3 1.4 2.2 1.1 2.3 .8 2.2 .5 2.2 .2 2.3 .6 2.2 1.6 2.3 2 2.2 2.8 2.3 3.3 2.2 3.7 2.3 4.4 2.2 5.4 2.2 6.4 2.3 7.2 2.2 8" stroke="#EDB120"/>
<path d="M41.1 223.4l2.2-.1 2.3-.1 2.2-.3 2.3-.2 2.2-.3 2.3-.5 2.2-.7 2.3-.7 2.2-.8 2.2-.7 2.3-.5 2.2-.2 2.3 0 2.2 .2 2.3 .3 2.2 .3 2.2 .3 2.3 .3 2.2 .4 2.3 .4 2.2 .4 2.3 .4 2.2 .5 2.3 .3 2.2 .3 2.2 .1 2.3 0 2.2 0 2.3 0 2.2 0 2.3 0 2.2-.1 2.3-.1 2.2 0 2.2-.4 2.3-.9 2.2-1.2 2.3-1.3 2.2-1.4 2.3-1.6 2.2-1.7 2.2-1.7 2.3-1.8 2.2-1.9 2.3-1.8 2.2-1.7 2.3-1.4 2.2-1.1 2.3-1 2.2-.9 2.2-.6 2.3-.2 2.2 .2 2.3 .2 2.2 .3 2.3 .3 2.2 .2 2.3 .4 2.2 .4 2.2 .5 2.3 .4 2.2 .4 2.3 .3 2.2 .5 2.3 .4 2.2 .3 2.2 .2 2.3 0 2.2-.4 2.3-.8 2.2-1.1 2.3-1.2 2.2-1.7 2.3-3.6 2.2-4.3 2.2-3.4 2.3-2.7 2.2-2.3 2.3-1.3 2.2-1 2.3-2.2 2.2-4.8 2.3-6.4 2.2-8.7 2.2-10.8 2.3-11.3 2.2-10.5 2.3-10.2 2.2-9.3 2.3-8.7 2.2-6.8 2.2-5.9 2.3-3.5 2.2 .1 2.3 .6 2.2 .9 2.3 1 2.2 1.9 2.3 2.5 2.2 2.1 2.2 1.4 2.3 1.3 2.2 1.1 2.3 1.1 2.2 1.1 2.3 1.1 2.2 1.1 2.3 1.4 2.2 1.6 2.2 1.8 2.3 1.9 2.2 2 2.3 2.3 2.2 2.3 2.3 2.4 2.2 2.3 2.2 2.1 2.3 2.2 2.2 2.1 2.3 1.9 2.2 1.6 2.3 1.4 2.2 1.2 2.3 .9 2.2 .7 2.2 .4 2.3 .9 2.2 2.1 2.3 2.7 2.2 3.7 2.3 4.6 2.2 5 2.3 5.7 2.2 6.4 2.2 6.7 2.3 6.8 2.2 7" stroke="#0072BD"/>
<path d="M41.1 226.6l2.2-.1 2.3-.2 2.2-.3 2.3-.3 2.2-.4 2.3-.5 2.2-.7 2.3-.9 2.2-.9 2.2-.8 2.3-.6 2.2-.3 2.3-.1 2.2 0 2.3 .1 2.2 .1 2.2 0 2.3 .1 2.2 .1 2.3 .1 2.2 .2 2.3 .2 2.2 .2 2.3 .1 2.2 .1 2.2 0 2.3 0 2.2 0 2.3 .1 2.2 .1 2.3 .2 2.2 .2 2.3 .2 2.2 .2 2.2 0 2.3-.7 2.2-1 2.3-1 2.2-1.2 2.3-1.4 2.2-1.6 2.2-1.7 2.3-1.8 2.2-2 2.3-1.9 2.2-1.9 2.3-1.6 2.2-1.3 2.3-1.3 2.2-1.2 2.2-.8 2.3-.4 2.2 0 2.3 0 2.2 .1 2.3 .1 2.2 .2 2.3 .4 2.2 .5 2.2 .5 2.3 .6 2.2 .5 2.3 .6 2.2 .6 2.3 .6 2.2 .6 2.2 .3 2.3 .2 2.2-.3 2.3-.6 2.2-1 2.3-1.2 2.2-1.6 2.3-3.5 2.2-4.2 2.2-3.4 2.3-2.8 2.2-2.2 2.3-1.3 2.2-1 2.3-2.1 2.2-4.8 2.3-6.4 2.2-8.9 2.2-11 2.3-11.6 2.2-10.9 2.3-10.5 2.2-9.5 2.3-8.7 2.2-6.8 2.2-5.9 2.3-3.4 2.2 .1 2.3 .6 2.2 1 2.3 1.1 2.2 1.8 2.3 2.6 2.2 2.1 2.2 1.4 2.3 1.3 2.2 1 2.3 1.1 2.2 1 2.3 1.1 2.2 1.1 2.3 1.3 2.2 1.5 2.2 1.7 2.3 1.9 2.2 2 2.3 2.1 2.2 2.3 2.3 2.4 2.2 2.2 2.2 2.2 2.3 2.1 2.2 2.2 2.3 1.9 2.2 1.7 2.3 1.4 2.2 1.3 2.3 1 2.2 .7 2.2 .6 2.3 1 2.2 2.2 2.3 2.8 2.2 3.9 2.3 4.7 2.2 5.2 2.3 5.9 2.2 6.6 2.2 6.8 2.3 6.9 2.2 7.3" stroke="#EDB120"/>
<path d="M41.1 231.3l2.2-.1 2.3-.2 2.2-.3 2.3-.3 2.2-.3 2.3-.5 2.2-.7 2.3-.9 2.2-.9 2.2-.8 2.3-.5 2.2-.3 2.3 0 2.2 .1 2.3 .1 2.2 .2 2.2 .2 2.3 .1 2.2 .2 2.3 .2 2.2 .3 2.3 .3 2.2 .2 2.3 .2 2.2 .2 2.2 0 2.3 0 2.2-.1 2.3-.1 2.2 0 2.3 0 2.2-.1 2.3-.1 2.2 0 2.2-.3 2.3-1 2.2-1.2 2.3-1.2 2.2-1.3 2.3-1.5 2.2-1.6 2.2-1.6 2.3-1.8 2.2-1.9 2.3-1.8 2.2-1.8 2.3-1.4 2.2-1.2 2.3-1.3 2.2-1 2.2-.8 2.3-.3 2.2 0 2.3 .1 2.2 .2 2.3 .1 2.2 .2 2.3 .3 2.2 .5 2.2 .6 2.3 .5 2.2 .5 2.3 .6 2.2 .6 2.3 .6 2.2 .6 2.2 .4 2.3 .1 2.2-.2 2.3-.6 2.2-.8 2.3-1.1 2.2-1.5 2.3-3.4 2.2-4.1 2.2-3.4 2.3-2.7 2.2-2.4 2.3-1.4 2.2-1 2.3-2 2.2-5.3 2.3-7.8 2.2-10.9 2.2-13.5 2.3-14.5 2.2-13.3 2.3-12.1 2.2-10 2.3-8 2.2-5.9 2.2-5.1 2.3-2.8 2.2 .4 2.3 1 2.2 1.3 2.3 1.5 2.2 2.2 2.3 2.8 2.2 2.3 2.2 1.8 2.3 1.4 2.2 1 2.3 1 2.2 .8 2.3 .8 2.2 .8 2.3 .9 2.2 1.3 2.2 1.5 2.3 1.6 2.2 1.9 2.3 2 2.2 2.1 2.3 2.2 2.2 2.3 2.2 2.2 2.3 2.2 2.2 2.2 2.3 2 2.2 1.6 2.3 1.4 2.2 1.2 2.3 1 2.2 .6 2.2 .5 2.3 1 2.2 2 2.3 2.7 2.2 3.6 2.3 4.5 2.2 4.8 2.3 5.7 2.2 6.4 2.2 6.8 2.3 7.2 2.2 7.6" stroke="#4DBEEE"/>
<path d="M41.1 222.1l2.2 .1 2.3 0 2.2 0 2.3-.2 2.2-.2 2.3-.3 2.2-.6 2.3-.7 2.2-.8 2.2-.7 2.3-.5 2.2-.2 2.3 0 2.2 .1 2.3 .2 2.2 .2 2.2 .2 2.3 .2 2.2 .2 2.3 .2 2.2 .3 2.3 .3 2.2 .3 2.3 .3 2.2 .1 2.2 .1 2.3-.1 2.2 0 2.3-.1 2.2 0 2.3-.1 2.2-.1 2.3-.1 2.2-.1 2.2-.3 2.3-1 2.2-1.3 2.3-1.3 2.2-1.5 2.3-1.6 2.2-1.7 2.2-1.8 2.3-1.9 2.2-1.9 2.3-1.8 2.2-1.8 2.3-1.4 2.2-1.2 2.3-1.1 2.2-1 2.2-.6 2.3-.2 2.2 .1 2.3 .2 2.2 .3 2.3 .3 2.2 .3 2.3 .5 2.2 .6 2.2 .8 2.3 .8 2.2 .7 2.3 .8 2.2 .9 2.3 .9 2.2 .7 2.2 .6 2.3 .4 2.2-.2 2.3-.6 2.2-1 2.3-1.3 2.2-1.8 2.3-3.8 2.2-4.5 2.2-3.7 2.3-2.9 2.2-2.6 2.3-1.6 2.2-1.4 2.3-2.9 2.2-6.3 2.3-8.3 2.2-11.1 2.2-14 2.3-14.5 2.2-12.3 2.3-11.1 2.2-9.2 2.3-7.5 2.2-5.8 2.2-4.9 2.3-2.9 2.2 0 2.3 .7 2.2 1.2 2.3 1.3 2.2 2 2.3 2.7 2.2 2.2 2.2 1.8 2.3 1.6 2.2 1.2 2.3 1.3 2.2 1.4 2.3 1.4 2.2 1.6 2.3 1.7 2.2 2.2 2.2 2.4 2.3 2.6 2.2 2.7 2.3 2.7 2.2 2.8 2.3 2.7 2.2 2.6 2.2 2.2 2.3 2.3 2.2 2.2 2.3 1.9 2.2 1.6 2.3 1.2 2.2 1.1 2.3 .7 2.2 .3 2.2 .2 2.3 .5 2.2 1.5 2.3 2.1 2.2 2.9 2.3 3.6 2.2 3.9 2.3 4.6 2.2 5.4 2.2 5.9 2.3 6.2 2.2 6.7" stroke="#D95319"/>
<path d="M41.1 227.3l2.2 0 2.3-.1 2.2-.2 2.3-.2 2.2-.3 2.3-.4 2.2-.7 2.3-.8 2.2-.8 2.2-.7 2.3-.5 2.2-.2 2.3 0 2.2 .1 2.3 .2 2.2 .2 2.2 .2 2.3 .1 2.2 .2 2.3 .2 2.2 .3 2.3 .3 2.2 .2 2.3 .3 2.2 .1 2.2 .1 2.3 0 2.2 0 2.3 .1 2.2 0 2.3 .1 2.2 .1 2.3 0 2.2 .1 2.2-.2 2.3-.8 2.2-1.1 2.3-1.1 2.2-1.3 2.3-1.5 2.2-1.5 2.2-1.7 2.3-1.8 2.2-1.9 2.3-1.9 2.2-1.7 2.3-1.5 2.2-1.3 2.3-1.2 2.2-1.1 2.2-.8 2.3-.3 2.2 0 2.3 .1 2.2 .1 2.3 .2 2.2 .1 2.3 .4 2.2 .4 2.2 .5 2.3 .6 2.2 .5 2.3 .5 2.2 .5 2.3 .6 2.2 .5 2.2 .4 2.3 .1 2.2-.2 2.3-.7 2.2-.9 2.3-1.1 2.2-1.6 2.3-3.4 2.2-4.1 2.2-3.4 2.3-2.7 2.2-2.2 2.3-1.3 2.2-1 2.3-2.1 2.2-5.2 2.3-7.5 2.2-10.4 2.2-12.9 2.3-13.9 2.2-12.6 2.3-11.5 2.2-9.8 2.3-8 2.2-6.2 2.2-5.2 2.3-3 2.2 .2 2.3 .8 2.2 1.2 2.3 1.3 2.2 2.1 2.3 2.7 2.2 2.2 2.2 1.7 2.3 1.3 2.2 1.1 2.3 1.1 2.2 1 2.3 1 2.2 1 2.3 1.2 2.2 1.5 2.2 1.7 2.3 2 2.2 2 2.3 2.2 2.2 2.3 2.3 2.4 2.2 2.3 2.2 2.2 2.3 2.2 2.2 2.2 2.3 2 2.2 1.6 2.3 1.4 2.2 1.2 2.3 1 2.2 .7 2.2 .4 2.3 .9 2.2 2 2.3 2.7 2.2 3.6 2.3 4.4 2.2 4.8 2.3 5.6 2.2 6.3 2.2 6.7 2.3 7.1 2.2 7.4" stroke="#4DBEEE"/>
<path d="M41.1 208.2l2.2 .5 2.3 .4 2.2 .3 2.3 .2 2.2 .1 2.3-.1 2.2-.3 2.3-.5 2.2-.6 2.2-.5 2.3-.4 2.2-.1 2.3 0 2.2 0 2.3 .1 2.2 .1 2.2 0 2.3 .1 2.2 0 2.3 .1 2.2 .2 2.3 .2 2.2 .1 2.3 .2 2.2 .2 2.2 0 2.3 .1 2.2 .1 2.3 .1 2.2 .2 2.3 .2 2.2 .2 2.3 .2 2.2 .3 2.2 0 2.3-.7 2.2-1 2.3-1.2 2.2-1.3 2.3-1.7 2.2-1.9 2.2-2.1 2.3-2 2.2-2 2.3-2.1 2.2-2 2.3-1.7 2.2-1.3 2.3-1.2 2.2-1.1 2.2-.7 2.3-.3 2.2 0 2.3 .2 2.2 .3 2.3 .4 2.2 .4 2.3 .5 2.2 .7 2.2 .8 2.3 .7 2.2 .7 2.3 .8 2.2 .8 2.3 .7 2.2 .7 2.2 .6 2.3 .2 2.2-.3 2.3-.8 2.2-1.4 2.3-1.6 2.2-2.1 2.3-4 2.2-4.7 2.2-3.6 2.3-2.6 2.2-2.2 2.3-1.2 2.2-1.3 2.3-3.3 2.2-6.6 2.3-7.8 2.2-9.7 2.2-12.6 2.3-12.6 2.2-9.4 2.3-8.7 2.2-7.5 2.3-6.6 2.2-5.4 2.2-4.6 2.3-2.7 2.2-.2 2.3 .7 2.2 1.1 2.3 1.3 2.2 1.9 2.3 2.6 2.2 2.2 2.2 1.9 2.3 1.6 2.2 1.1 2.3 1.2 2.2 1 2.3 1.1 2.2 1.1 2.3 1.3 2.2 1.7 2.2 2.1 2.3 2.2 2.2 2.4 2.3 2.4 2.2 2.5 2.3 2.5 2.2 2.4 2.2 2.3 2.3 2.3 2.2 2.3 2.3 2 2.2 1.7 2.3 1.3 2.2 1.2 2.3 .8 2.2 .5 2.2 .3 2.3 .7 2.2 1.7 2.3 2.2 2.2 3.1 2.3 3.8 2.2 4.2 2.3 4.8 2.2 5.7 2.2 6.4 2.3 6.9 2.2 7.4" stroke="#77AC30"/>
<path d="M41.1 212.4l2.2 .5 2.3 .5 2.2 .4 2.3 .2 2.2 .2 2.3 0 2.2-.3 2.3-.5 2.2-.5 2.2-.5 2.3-.4 2.2-.1 2.3 0 2.2 .2 2.3 .2 2.2 .2 2.2 .3 2.3 .2 2.2 .2 2.3 .3 2.2 .4 2.3 .3 2.2 .4 2.3 .3 2.2 .2 2.2 .1 2.3 .1 2.2-.1 2.3-.2 2.2-.2 2.3-.3 2.2-.4 2.3-.4 2.2-.4 2.2-.6 2.3-1.3 2.2-1.7 2.3-1.6 2.2-1.7 2.3-1.9 2.2-2.1 2.2-1.9 2.3-1.9 2.2-1.8 2.3-1.8 2.2-1.7 2.3-1.3 2.2-.9 2.3-.8 2.2-.7 2.2-.3 2.3 0 2.2 .4 2.3 .4 2.2 .4 2.3 .5 2.2 .4 2.3 .4 2.2 .5 2.2 .6 2.3 .5 2.2 .4 2.3 .4 2.2 .5 2.3 .5 2.2 .4 2.2 .2 2.3 0 2.2-.5 2.3-1 2.2-1.3 2.3-1.6 2.2-2.1 2.3-3.9 2.2-4.6 2.2-3.7 2.3-2.7 2.2-2.2 2.3-1.4 2.2-1.2 2.3-3.4 2.2-7.3 2.3-9.3 2.2-12.1 2.2-15.7 2.3-16 2.2-12.2 2.3-10.2 2.2-7.7 2.3-5.4 2.2-4.1 2.2-3.3 2.3-1.7 2.2 .4 2.3 1.4 2.2 1.9 2.3 2 2.2 2.5 2.3 3.1 2.2 2.6 2.2 2.3 2.3 1.8 2.2 1.2 2.3 1 2.2 .9 2.3 .8 2.2 .8 2.3 1.1 2.2 1.4 2.2 1.9 2.3 2.1 2.2 2.2 2.3 2.3 2.2 2.3 2.3 2.4 2.2 2.4 2.2 2.3 2.3 2.3 2.2 2.3 2.3 2 2.2 1.6 2.3 1.3 2.2 1.1 2.3 .8 2.2 .3 2.2 .3 2.3 .5 2.2 1.6 2.3 2.1 2.2 2.8 2.3 3.4 2.2 3.8 2.3 4.5 2.2 5.5 2.2 6.4 2.3 7 2.2 7.8" stroke="#A2142F"/>
<path d="M41.1 196.7l2.2 .6 2.3 .4 2.2 .3 2.3 .3 2.2 .1 2.3 0 2.2-.3 2.3-.4 2.2-.5 2.2-.4 2.3-.2 2.2-.1 2.3 .1 2.2 .2 2.3 .3 2.2 .3 2.2 .3 2.3 .3 2.2 .4 2.3 .4 2.2 .4 2.3 .4 2.2 .5 2.3 .4 2.2 .3 2.2 .2 2.3 .2 2.2 .1 2.3 .1 2.2 .1 2.3 0 2.2 0 2.3 .1 2.2 0 2.2-.2 2.3-.9 2.2-1.3 2.3-1.5 2.2-1.5 2.3-2 2.2-2.1 2.2-2.3 2.3-2.1 2.2-1.9 2.3-2 2.2-1.8 2.3-1.5 2.2-1 2.3-.9 2.2-.7 2.2-.4 2.3 0 2.2 .3 2.3 .4 2.2 .6 2.3 .5 2.2 .6 2.3 .6 2.2 .7 2.2 .7 2.3 .7 2.2 .6 2.3 .6 2.2 .7 2.3 .6 2.2 .5 2.2 .4 2.3 0 2.2-.5 2.3-1.2 2.2-1.7 2.3-2.1 2.2-2.5 2.3-4.6 2.2-5.2 2.2-4 2.3-2.9 2.2-2.4 2.3-1.5 2.2-1.7 2.3-4.6 2.2-8.9 2.3-10.3 2.2-12.4 2.2-16.5 2.3-16.1 2.2-10.4 2.3-8.3 2.2-5.8 2.3-3.8 2.2-3.1 2.2-2.3 2.3-1.1 2.2 .5 2.3 1.5 2.2 2.2 2.3 2.3 2.2 2.7 2.3 3.2 2.2 2.8 2.2 2.6 2.3 2.1 2.2 1.2 2.3 1 2.2 .9 2.3 .7 2.2 .8 2.3 .9 2.2 1.5 2.2 2 2.3 2.4 2.2 2.4 2.3 2.3 2.2 2.4 2.3 2.5 2.2 2.5 2.2 2.4 2.3 2.5 2.2 2.5 2.3 2.2 2.2 1.7 2.3 1.3 2.2 1.1 2.3 .8 2.2 .3 2.2 .3 2.3 .5 2.2 1.4 2.3 1.9 2.2 2.5 2.3 3.1 2.2 3.4 2.3 4 2.2 5.2 2.2 6.4 2.3 7.2 2.2 8.2" stroke="#0072BD"/>
<path d="M41.1 229.6l2.2 0 2.3-.1 2.2-.2 2.3-.2 2.2-.2 2.3-.4 2.2-.7 2.3-.8 2.2-.7 2.2-.7 2.3-.5 2.2-.2 2.3 .1 2.2 .2 2.3 .3 2.2 .3 2.2 .3 2.3 .3 2.2 .3 2.3 .3 2.2 .4 2.3 .4 2.2 .4 2.3 .3 2.2 .2 2.2 .1 2.3 .1 2.2 0 2.3-.1 2.2 0 2.3-.1 2.2-.1 2.3-.1 2.2-.1 2.2-.3 2.3-1 2.2-1.2 2.3-1.3 2.2-1.3 2.3-1.5 2.2-1.6 2.2-1.5 2.3-1.8 2.2-1.8 2.3-1.8 2.2-1.6 2.3-1.4 2.2-1.1 2.3-1.2 2.2-1 2.2-.6 2.3-.2 2.2 .1 2.3 .1 2.2 .2 2.3 .2 2.2 .2 2.3 .3 2.2 .5 2.2 .5 2.3 .6 2.2 .5 2.3 .5 2.2 .6 2.3 .6 2.2 .6 2.2 .3 2.3 .1 2.2-.2 2.3-.5 2.2-.8 2.3-1 2.2-1.5 2.3-3.4 2.2-4.1 2.2-3.4 2.3-2.9 2.2-2.4 2.3-1.4 2.2-1.1 2.3-1.8 2.2-4.6 2.3-6.6 2.2-9.4 2.2-11.4 2.3-12.3 2.2-12.1 2.3-11.5 2.2-10.3 2.3-9.1 2.2-6.9 2.2-6 2.3-3.5 2.2 .2 2.3 .6 2.2 1 2.3 1.1 2.2 1.9 2.3 2.6 2.2 2.1 2.2 1.4 2.3 1.2 2.2 1 2.3 1.1 2.2 1.1 2.3 1.1 2.2 1.1 2.3 1.3 2.2 1.5 2.2 1.7 2.3 1.8 2.2 1.9 2.3 2.2 2.2 2.2 2.3 2.3 2.2 2.3 2.2 2.1 2.3 2.1 2.2 2 2.3 1.9 2.2 1.6 2.3 1.3 2.2 1.2 2.3 1 2.2 .6 2.2 .5 2.3 .9 2.2 2.1 2.3 2.8 2.2 3.8 2.3 4.7 2.2 5.1 2.3 5.9 2.2 6.5 2.2 6.6 2.3 6.8 2.2 7.1" stroke="#0072BD"/>
<path d="M41.1 219.6l2.2 .2 2.3 .1 2.2 0 2.3-.1 2.2-.1 2.3-.4 2.2-.5 2.3-.7 2.2-.7 2.2-.6 2.3-.5 2.2-.1 2.3 0 2.2 .1 2.3 0 2.2 .1 2.2 .1 2.3 .1 2.2 0 2.3 .1 2.2 .2 2.3 .2 2.2 .1 2.3 .2 2.2 .2 2.2 0 2.3 .1 2.2 .1 2.3 0 2.2 .1 2.3 .1 2.2 0 2.3 .1 2.2 .1 2.2-.2 2.3-.8 2.2-1 2.3-1.2 2.2-1.3 2.3-1.5 2.2-1.6 2.2-1.7 2.3-1.8 2.2-1.8 2.3-1.8 2.2-1.6 2.3-1.4 2.2-1 2.3-1.1 2.2-.8 2.2-.6 2.3-.1 2.2 .1 2.3 .3 2.2 .3 2.3 .3 2.2 .3 2.3 .4 2.2 .5 2.2 .5 2.3 .6 2.2 .5 2.3 .5 2.2 .5 2.3 .6 2.2 .4 2.2 .3 2.3 .1 2.2-.3 2.3-.8 2.2-1.1 2.3-1.4 2.2-1.8 2.3-3.7 2.2-4.4 2.2-3.6 2.3-2.7 2.2-2.4 2.3-1.4 2.2-1.2 2.3-2.6 2.2-5.8 2.3-7.7 2.2-10.2 2.2-12.9 2.3-13.3 2.2-11.5 2.3-10.4 2.2-8.9 2.3-7.4 2.2-5.7 2.2-4.8 2.3-2.7 2.2 .3 2.3 1 2.2 1.4 2.3 1.6 2.2 2.2 2.3 2.8 2.2 2.3 2.2 1.8 2.3 1.5 2.2 1.1 2.3 1 2.2 .9 2.3 1 2.2 .9 2.3 1.1 2.2 1.5 2.2 1.7 2.3 1.9 2.2 2 2.3 2.2 2.2 2.3 2.3 2.3 2.2 2.3 2.2 2.3 2.3 2.2 2.2 2.2 2.3 2 2.2 1.6 2.3 1.4 2.2 1.3 2.3 .9 2.2 .6 2.2 .5 2.3 .8 2.2 1.9 2.3 2.6 2.2 3.5 2.3 4.3 2.2 4.6 2.3 5.4 2.2 6.2 2.2 6.7 2.3 7.1 2.2 7.5" stroke="#0072BD"/>
<path d="M41.1 217l2.2-.1 2.3-.1 2.2-.3 2.3-.3 2.2-.3 2.3-.5 2.2-.7 2.3-.8 2.2-.8 2.2-.7 2.3-.4 2.2-.2 2.3 .1 2.2 .1 2.3 .3 2.2 .2 2.2 .3 2.3 .3 2.2 .3 2.3 .3 2.2 .4 2.3 .4 2.2 .4 2.3 .3 2.2 .3 2.2 .1 2.3 .1 2.2 0 2.3 .1 2.2 0 2.3 0 2.2 0 2.3 0 2.2-.1 2.2-.2 2.3-.9 2.2-1.2 2.3-1.4 2.2-1.4 2.3-1.7 2.2-1.8 2.2-1.9 2.3-1.8 2.2-1.8 2.3-1.8 2.2-1.7 2.3-1.3 2.2-.9 2.3-.9 2.2-.7 2.2-.4 2.3 0 2.2 .3 2.3 .3 2.2 .5 2.3 .4 2.2 .3 2.3 .5 2.2 .5 2.2 .6 2.3 .5 2.2 .5 2.3 .4 2.2 .5 2.3 .5 2.2 .4 2.2 .3 2.3 0 2.2-.5 2.3-.9 2.2-1.4 2.3-1.5 2.2-2.1 2.3-4 2.2-4.6 2.2-3.8 2.3-2.9 2.2-2.4 2.3-1.5 2.2-1.4 2.3-3.2 2.2-7 2.3-8.9 2.2-11.5 2.2-14.7 2.3-15.1 2.2-11.8 2.3-10.3 2.2-8.1 2.3-6.2 2.2-4.9 2.2-4 2.3-2.1 2.2 .2 2.3 1.2 2.2 1.5 2.3 1.8 2.2 2.3 2.3 2.9 2.2 2.4 2.2 2.1 2.3 1.7 2.2 1.2 2.3 1.1 2.2 1.1 2.3 1.1 2.2 1.1 2.3 1.3 2.2 1.7 2.2 2.1 2.3 2.3 2.2 2.4 2.3 2.4 2.2 2.6 2.3 2.5 2.2 2.5 2.2 2.3 2.3 2.3 2.2 2.3 2.3 2 2.2 1.5 2.3 1.3 2.2 1 2.3 .8 2.2 .3 2.2 .1 2.3 .5 2.2 1.5 2.3 2.1 2.2 2.8 2.3 3.5 2.2 3.8 2.3 4.5 2.2 5.4 2.2 6.2 2.3 6.7 2.2 7.4" stroke="#D95319"/>
<path d="M41.1 196.3l2.2 .4 2.3 .4 2.2 .2 2.3 .1 2.2 0 2.3-.2 2.2-.4 2.3-.5 2.2-.6 2.2-.5 2.3-.4 2.2-.1 2.3 0 2.2 .1 2.3 .1 2.2 .2 2.2 .2 2.3 .1 2.2 .2 2.3 .3 2.2 .3 2.3 .3 2.2 .4 2.3 .3 2.2 .2 2.2 .1 2.3 .1 2.2 .1 2.3 .1 2.2 .1 2.3 .2 2.2 .1 2.3 .1 2.2 .1 2.2-.1 2.3-.8 2.2-1.2 2.3-1.5 2.2-1.5 2.3-1.9 2.2-2.2 2.2-2.3 2.3-2.2 2.2-1.9 2.3-2.1 2.2-1.8 2.3-1.5 2.2-1.1 2.3-.8 2.2-.7 2.2-.4 2.3 0 2.2 .3 2.3 .5 2.2 .5 2.3 .6 2.2 .6 2.3 .6 2.2 .8 2.2 .8 2.3 .7 2.2 .7 2.3 .6 2.2 .7 2.3 .7 2.2 .6 2.2 .4 2.3 .1 2.2-.5 2.3-1.2 2.2-1.8 2.3-2.2 2.2-2.7 2.3-4.7 2.2-5.3 2.2-4.1 2.3-3 2.2-2.3 2.3-1.6 2.2-1.8 2.3-4.9 2.2-9.6 2.3-10.7 2.2-12.9 2.2-17.4 2.3-16.7 2.2-10.3 2.3-8 2.2-5.4 2.3-3.2 2.2-2.7 2.2-1.9 2.3-.8 2.2 .5 2.3 1.6 2.2 2.3 2.3 2.4 2.2 2.7 2.3 3.2 2.2 3 2.2 2.7 2.3 2.2 2.2 1.3 2.3 .9 2.2 .8 2.3 .8 2.2 .7 2.3 .9 2.2 1.5 2.2 2.1 2.3 2.3 2.2 2.5 2.3 2.4 2.2 2.4 2.3 2.6 2.2 2.5 2.2 2.5 2.3 2.5 2.2 2.6 2.3 2.2 2.2 1.7 2.3 1.3 2.2 1.1 2.3 .8 2.2 .3 2.2 .3 2.3 .4 2.2 1.4 2.3 1.8 2.2 2.4 2.3 2.8 2.2 3.2 2.3 3.8 2.2 5 2.2 6.4 2.3 7.4 2.2 8.4" stroke="#C9D36A"/>
<path d="M41.1 197.4l2.2 .4 2.3 .3 2.2 .1 2.3 .1 2.2 0 2.3-.2 2.2-.4 2.3-.5 2.2-.6 2.2-.5 2.3-.3 2.2-.2 2.3 .1 2.2 .1 2.3 .2 2.2 .3 2.2 .2 2.3 .3 2.2 .3 2.3 .3 2.2 .4 2.3 .4 2.2 .4 2.3 .3 2.2 .3 2.2 .1 2.3 .1 2.2 .1 2.3 .1 2.2 0 2.3 .1 2.2 0 2.3 0 2.2 .1 2.2-.2 2.3-.9 2.2-1.4 2.3-1.5 2.2-1.5 2.3-2 2.2-2.2 2.2-2.3 2.3-2.2 2.2-1.9 2.3-2.1 2.2-1.8 2.3-1.6 2.2-1 2.3-.9 2.2-.7 2.2-.4 2.3 0 2.2 .3 2.3 .5 2.2 .5 2.3 .6 2.2 .6 2.3 .7 2.2 .7 2.2 .9 2.3 .8 2.2 .7 2.3 .7 2.2 .8 2.3 .8 2.2 .6 2.2 .5 2.3 .2 2.2-.5 2.3-1.2 2.2-1.8 2.3-2.1 2.2-2.7 2.3-4.7 2.2-5.4 2.2-4.2 2.3-3 2.2-2.5 2.3-1.7 2.2-1.9 2.3-5 2.2-9.6 2.3-10.8 2.2-12.9 2.2-17.4 2.3-16.7 2.2-10.4 2.3-8.1 2.2-5.4 2.3-3.3 2.2-2.7 2.2-1.9 2.3-.9 2.2 .6 2.3 1.7 2.2 2.3 2.3 2.4 2.2 2.8 2.3 3.3 2.2 2.9 2.2 2.7 2.3 2.2 2.2 1.3 2.3 .9 2.2 .9 2.3 .7 2.2 .7 2.3 .9 2.2 1.4 2.2 2.1 2.3 2.3 2.2 2.4 2.3 2.4 2.2 2.4 2.3 2.6 2.2 2.5 2.2 2.4 2.3 2.6 2.2 2.5 2.3 2.3 2.2 1.7 2.3 1.3 2.2 1.1 2.3 .8 2.2 .4 2.2 .2 2.3 .6 2.2 1.3 2.3 1.9 2.2 2.4 2.3 2.9 2.2 3.3 2.3 3.9 2.2 5 2.2 6.5 2.3 7.3 2.2 8.4" stroke="#77AC30"/>
<path d="M41.1 193.8l2.2 .5 2.3 .2 2.2 .3 2.3 .1 2.2 0 2.3 .1 2.2-.3 2.3-.4 2.2-.6 2.2-.5 2.3-.4 2.2-.2 2.3 .1 2.2 .1 2.3 .2 2.2 .3 2.2 .2 2.3 .3 2.2 .2 2.3 .3 2.2 .4 2.3 .4 2.2 .4 2.3 .3 2.2 .3 2.2 .1 2.3 .1 2.2 .1 2.3 .1 2.2 0 2.3 .1 2.2 0 2.3 0 2.2 .1 2.2-.2 2.3-.8 2.2-1.3 2.3-1.8 2.2-2.1 2.3-2.2 2.2-2.2 2.2-2.1 2.3-1.8 2.2-1.6 2.3-1.6 2.2-1.6 2.3-1.6 2.2-1.5 2.3-1.2 2.2-.7 2.2-.2 2.3 .1 2.2 .3 2.3 .5 2.2 .4 2.3 .5 2.2 .6 2.3 .7 2.2 .7 2.2 .8 2.3 .7 2.2 .6 2.3 .6 2.2 .6 2.3 .6 2.2 .5 2.2 .4 2.3 .1 2.2-.6 2.3-1.5 2.2-1.7 2.3-2.3 2.2-3 2.3-4.6 2.2-5.8 2.2-4.2 2.3-3.1 2.2-2.6 2.3-1.8 2.2-2 2.3-5.1 2.2-9.8 2.3-12.1 2.2-14.3 2.2-17.1 2.3-16.9 2.2-12 2.3-8.6 2.2-5.6 2.3-3.9 2.2-1.7 2.2-1.2 2.3-.6 2.2 .3 2.3 1.1 2.2 1.6 2.3 1.8 2.2 2.6 2.3 3.5 2.2 3.3 2.2 3.2 2.3 2.7 2.2 2 2.3 1.8 2.2 1.9 2.3 2.1 2.2 2 2.3 1.9 2.2 1.7 2.2 1.5 2.3 1.7 2.2 2.1 2.3 2.3 2.2 2.4 2.3 2.3 2.2 2.8 2.2 3.4 2.3 3.5 2.2 3.3 2.3 3.3 2.2 2.2 2.3 1.3 2.2 .8 2.3 .3 2.2 .1 2.2 .1 2.3 .2 2.2 .6 2.3 2.1 2.2 3.1 2.3 3.6 2.2 4.4 2.3 5.7 2.2 6.3 2.2 6.4 2.3 6.9 2.2 7.4" stroke="#F0B84A"/>
<path d="M41.1 175.3l2.2 .8 2.3 .7 2.2 .6 2.3 .5 2.2 .4 2.3 .3 2.2 .1 2.3 .2 2.2 .1 2.2 .1 2.3 .1 2.2 .1 2.3 .3 2.2 .2 2.3 .3 2.2 .3 2.2 .4 2.3 .4 2.2 .5 2.3 .7 2.2 .9 2.3 1 2.2 .9 2.3 .9 2.2 .7 2.2 .5 2.3 .4 2.2 .3 2.3 .2 2.2 .3 2.3 .2 2.2 .1 2.3 .2 2.2 0 2.2-.1 2.3-.7 2.2-1.2 2.3-1.5 2.2-1.7 2.3-1.9 2.2-1.9 2.2-1.8 2.3-1.6 2.2-1.3 2.3-1.3 2.2-1.5 2.3-1.4 2.2-1.2 2.3-1 2.2-.6 2.2-.2 2.3 .3 2.2 .6 2.3 .7 2.2 .8 2.3 .8 2.2 .9 2.3 1 2.2 1 2.2 1.1 2.3 .9 2.2 .7 2.3 .7 2.2 .8 2.3 .6 2.2 .6 2.2 .4 2.3 .2 2.2-.9 2.3-2 2.2-2.4 2.3-3.1 2.2-3.9 2.3-4.7 2.2-5.2 2.2-3.5 2.3-2.3 2.2-2.2 2.3-1.9 2.2-2.3 2.3-5.4 2.2-10.2 2.3-11.9 2.2-13.9 2.2-17.1 2.3-16.9 2.2-12 2.3-8.6 2.2-5.6 2.3-3.9 2.2-1.7 2.2-1.2 2.3-.6 2.2 .3 2.3 1.1 2.2 1.6 2.3 1.8 2.2 2.6 2.3 3.5 2.2 3.3 2.2 3.2 2.3 2.7 2.2 2 2.3 1.7 2.2 2 2.3 2.1 2.2 2 2.3 1.9 2.2 1.7 2.2 1.5 2.3 1.7 2.2 2.1 2.3 2.3 2.2 2.4 2.3 2.3 2.2 2.8 2.2 3.4 2.3 3.5 2.2 3.3 2.3 3.3 2.2 2.2 2.3 1.3 2.2 .8 2.3 .3 2.2 .1 2.2 .1 2.3 .2 2.2 .6 2.3 2 2.2 3.2 2.3 3.6 2.2 4.4 2.3 5.7 2.2 6.3 2.2 6.4 2.3 6.9 2.2 7.4" stroke="#E5883C"/>
<path d="M41.1 228.9l2.2 0 2.3 0 2.2 0 2.3 0 2.2 0 2.3 0 2.2 0 2.3 0 2.2 0 2.2 0 2.3 0 2.2 0 2.3 0 2.2 .1 2.3 .1 2.2 .2 2.2 .2 2.3 .2 2.2 .3 2.3 .2 2.2 .3 2.3 .3 2.2 .2 2.3 .3 2.2 .2 2.2 .2 2.3 .1 2.2 .2 2.3 .2 2.2 .2 2.3 .2 2.2 .1 2.3 .1 2.2 .1 2.2 0 2.3-.3 2.2-.4 2.3-.5 2.2-.7 2.3-.8 2.2-.9 2.2-.9 2.3-.9 2.2-1 2.3-1.5 2.2-1.9 2.3-2.1 2.2-2 2.3-1.6 2.2-.9 2.2-.1 2.3 .1 2.2 .3 2.3 .3 2.2 .3 2.3 .4 2.2 .3 2.3 .5 2.2 .6 2.2 .6 2.3 .4 2.2 .2 2.3 0 2.2 0 2.3 0 2.2 0 2.2 0 2.3 0 2.2-.1 2.3-.2 2.2-.5 2.3-.5 2.2-.7 2.3-1.4 2.2-2 2.2-2.4 2.3-2.9 2.2-4.5 2.3-5.4 2.2-5.1 2.3-4.5 2.2-4.4 2.3-4.6 2.2-5.2 2.2-5.9 2.3-6.6 2.2-7.2 2.3-7.7 2.2-9.8 2.3-10.8 2.2-9.5 2.2-6.1 2.3-4.6 2.2-2.5 2.3 .1 2.2 .4 2.3 .6 2.2 .8 2.3 .8 2.2 .9 2.2 .8 2.3 .9 2.2 .9 2.3 1 2.2 1.1 2.3 1.2 2.2 1.3 2.3 1.3 2.2 1.5 2.2 1.6 2.3 1.7 2.2 2.1 2.3 2.8 2.2 3 2.3 2.9 2.2 2.4 2.2 2.2 2.3 2 2.2 2 2.3 2 2.2 2.1 2.3 2.2 2.2 2.5 2.3 3.3 2.2 2.7 2.2 1.2 2.3 .9 2.2 2.1 2.3 4.8 2.2 6.3 2.3 6 2.2 5.1 2.3 5.1 2.2 4.8 2.2 4.2 2.3 3.3 2.2 2.5" stroke="#4DBEEE"/>
</g>
<g fill="none" stroke-width="0.9" stroke-linejoin="round" stroke-linecap="round" opacity="0.9">
<path d="M396.6 219.4l2.1 .7 2 .2 2.1 .9 2.1 .4 2 .2 2.1 .1 2 0 2.1-.3 2.1-.6 2-.6 2.1-.6 2.1-.3 2-.1 2.1 .3 2.1 .5 2 .5 2.1 .5 2.1 .3 2 .3 2.1 .3 2 .3 2.1 .4 2.1 .3 2 .4 2.1 .2 2.1 .3 2 .1 2.1 0 2.1 0 2-.1 2.1 0 2-.1 2.1-.1 2.1-.6 2-1 2.1-1.3 2.1-1.3 2-1.3 2.1-1.4 2.1-1.6 2-1.9 2.1-2 2.1-2 2-2.1 2.1-1.7 2-1.4 2.1-1.3 2.1-1 2-.6 2.1-.2 2.1 .3 2 .7 2.1 1 2.1 1.1 2 1 2.1 .8 2 .8 2.1 .8 2.1 .8 2 .8 2.1 .6 2.1 .6 2 .6 2.1 .5 2.1 .4 2 .4 2.1 .2 2.1-.1 2-.4 2.1-.7 2-.8 2.1-1 2.1-1.6 2-2.1 2.1-3 2.1-4.3 2-3.9 2.1-2.3 2.1-1.2 2-1 2.1-1.2 2-2.7 2.1-6.6 2.1-7.7 2-7 2.1-7.6 2.1-9.4 2-11.1 2.1-10.6 2.1-11.9 2-11.3 2.1-5.9 2.1-.1 2 .1 2.1 .2 2 .1 2.1 .2 2.1 .7 2 1.3 2.1 1.6 2.1 1.9 2 2.1 2.1 2.1 2.1 1.9 2 2.1 2.1 2.4 2 2.5 2.1 2.5 2.1 2.6 2 2.5 2.1 2.2 2.1 2.1 2 2.2 2.1 2.1 2.1 2 2 1.9 2.1 2 2.1 2 2 1.9 2.1 1.9 2 1.8 2.1 1.3 2.1 1 2 .4 2.1 0 2.1-.1 2 .2 2.1 1.9 2.1 2.8 2 4 2.1 4.8 2 5.6 2.1 6 2.1 6.4 2 5.9 2.1 5.2 2.1 4.6" stroke="#77AC30"/>
<path d="M396.6 222.2l2.1-.2 2-.8 2.1 .7 2.1 .3 2 0 2.1 .2 2 .3 2.1 0 2.1-.2 2-.3 2.1-.4 2.1-.5 2-.1 2.1 .2 2.1 .3 2 .4 2.1 .3 2.1 .2 2 0 2.1 .1 2 0 2.1-.1 2.1 0 2-.2 2.1-.1 2.1-.1 2-.1 2.1-.2 2.1 0 2 0 2.1-.1 2 0 2.1-.1 2.1-.5 2-.9 2.1-1 2.1-1 2-.9 2.1-1 2.1-1.3 2-1.7 2.1-1.9 2.1-1.9 2-1.8 2.1-1.3 2-1 2.1-.9 2.1-.8 2-.5 2.1-.1 2.1 .3 2 .9 2.1 1.1 2.1 1.2 2 1 2.1 .8 2 .7 2.1 .6 2.1 .4 2 .3 2.1 .2 2.1 .1 2 .2 2.1 .3 2.1 .4 2 .2 2.1 .2 2.1-.1 2-.5 2.1-.7 2-.8 2.1-1 2.1-1.3 2-1.7 2.1-2.5 2.1-3.9 2-3.5 2.1-1.9 2.1-1.1 2-1 2.1-1.4 2-3.2 2.1-7.3 2.1-8.6 2-8.1 2.1-8.8 2.1-10.2 2-11.7 2.1-10.9 2.1-11.8 2-11 2.1-5.8 2.1-.2 2 .2 2.1 .3 2 .4 2.1 .4 2.1 1.1 2 1.5 2.1 1.9 2.1 2.1 2 2.2 2.1 2 2.1 1.8 2 1.9 2.1 2 2 2.2 2.1 2.2 2.1 2.3 2 2.2 2.1 2.1 2.1 2 2 2.2 2.1 2.1 2.1 2 2 2.1 2.1 2.1 2.1 2.3 2 2.4 2.1 2.5 2 2.3 2.1 1.8 2.1 1.1 2 .5 2.1 0 2.1-.1 2 .2 2.1 1.9 2.1 2.8 2 4.1 2.1 4.8 2 5.6 2.1 6.1 2.1 6.3 2 5.8 2.1 5 2.1 4.3" stroke="#0072BD"/>
<path d="M396.6 216l2.1 .1 2-.9 2.1 1.8 2.1 .7 2 .3 2.1 .3 2 .2 2.1 0 2.1-.2 2-.4 2.1-.3 2.1-.3 2-.1 2.1 .1 2.1 .3 2 .3 2.1 .2 2.1 .1 2 .3 2.1 .3 2 .4 2.1 .4 2.1 .4 2 .4 2.1 .4 2.1 .2 2 .3 2.1 .1 2.1 .2 2 .1 2.1 .1 2 .1 2.1 0 2.1-.6 2-1 2.1-1.3 2.1-1.4 2-1.6 2.1-1.6 2.1-1.8 2-2 2.1-2.1 2.1-1.8 2-1.6 2.1-1.2 2-.7 2.1-.6 2.1-.5 2-.4 2.1 0 2.1 .4 2 .8 2.1 1.2 2.1 1.2 2 1 2.1 .8 2 .8 2.1 .5 2.1 .3 2 .1 2.1 .1 2.1 .1 2 .1 2.1 .2 2.1 .4 2 .3 2.1 .1 2.1-.1 2-.4 2.1-.7 2-.8 2.1-1 2.1-1.3 2-1.7 2.1-2.5 2.1-4 2-3.6 2.1-1.9 2.1-1.2 2-1.1 2.1-1.6 2-3 2.1-6.9 2.1-7.9 2-7 2.1-7.3 2.1-8.8 2-10.5 2.1-10.4 2.1-11.9 2-11.5 2.1-6.1 2.1-.1 2 .1 2.1 .2 2 .5 2.1 .6 2.1 1.2 2 1.8 2.1 2.1 2.1 2.2 2 2.1 2.1 2.1 2.1 1.9 2 2.1 2.1 2.3 2 2.5 2.1 2.5 2.1 2.5 2 2.4 2.1 2 2.1 2 2 1.9 2.1 1.9 2.1 1.8 2 1.8 2.1 1.9 2.1 1.8 2 1.7 2.1 1.6 2 1.4 2.1 1.1 2.1 .8 2 .4 2.1 .2 2.1 .4 2 1 2.1 2.7 2.1 3.7 2 4.8 2.1 5.3 2 5.8 2.1 6 2.1 6.2 2 5.6 2.1 4.8 2.1 4" stroke="#4DBEEE"/>
<path d="M396.6 225.9l2.1 .3 2-.6 2.1 1.1 2.1 .4 2-.1 2.1-.2 2-.5 2.1-.7 2.1-1 2-1.1 2.1-.8 2.1-.5 2-.1 2.1 .4 2.1 .7 2 .7 2.1 .6 2.1 .4 2 .2 2.1 .2 2 .1 2.1 .1 2.1 0 2 .1 2.1 0 2.1 0 2-.1 2.1-.3 2.1-.3 2-.4 2.1-.5 2-.4 2.1-.3 2.1-.8 2-.9 2.1-1.1 2.1-1.2 2-1.1 2.1-1.1 2.1-1.4 2-1.7 2.1-2 2.1-1.9 2-1.6 2.1-1.3 2-.9 2.1-.9 2.1-.7 2-.6 2.1-.3 2.1 .1 2 .6 2.1 .8 2.1 .8 2 .7 2.1 .6 2 .7 2.1 .6 2.1 .6 2 .6 2.1 .5 2.1 .4 2 .4 2.1 .4 2.1 .4 2 .4 2.1 .3 2.1 .1 2-.2 2.1-.5 2-.8 2.1-1 2.1-1.3 2-1.9 2.1-2.5 2.1-3.9 2-3.5 2.1-1.9 2.1-1.1 2-1 2.1-1.4 2-2.8 2.1-6.9 2.1-7.9 2-7.4 2.1-7.9 2.1-9.7 2-11.6 2.1-11.3 2.1-12.5 2-11.8 2.1-6.5 2.1-.5 2-.1 2.1 .2 2 .3 2.1 .4 2.1 .9 2 1.6 2.1 1.9 2.1 2.2 2 2.3 2.1 2.3 2.1 2.3 2 2.5 2.1 2.7 2 2.7 2.1 2.8 2.1 2.6 2 2.5 2.1 2.3 2.1 2.1 2 2.2 2.1 2.1 2.1 2 2 1.9 2.1 1.8 2.1 1.8 2 1.6 2.1 1.5 2 1.3 2.1 1 2.1 .6 2 .3 2.1 .1 2.1 .2 2 .6 2.1 2.4 2.1 3.3 2 4.4 2.1 5.1 2 5.7 2.1 5.8 2.1 6 2 5.5 2.1 4.5 2.1 3.8" stroke="#D95319"/>
<path d="M396.6 215.2l2.1 .4 2 0 2.1 .8 2.1 .5 2 .2 2.1 .3 2 .3 2.1 0 2.1-.1 2-.3 2.1-.4 2.1-.2 2-.2 2.1 .1 2.1 .2 2 .2 2.1 .1 2.1 .1 2 .2 2.1 .3 2 .3 2.1 .3 2.1 .3 2 .3 2.1 .2 2.1 .2 2 .1 2.1-.2 2.1-.3 2-.6 2.1-.5 2-.6 2.1-.4 2.1-.8 2-.8 2.1-.9 2.1-.9 2-.9 2.1-.9 2.1-1.2 2-1.5 2.1-1.6 2.1-1.4 2-1.2 2.1-.8 2-.3 2.1-.4 2.1-.4 2-.4 2.1-.3 2.1 0 2 .4 2.1 .5 2.1 .6 2 .6 2.1 .5 2 .5 2.1 .5 2.1 .5 2 .4 2.1 .4 2.1 .4 2 .3 2.1 .4 2.1 .4 2 .5 2.1 .4 2.1 .2 2-.1 2.1-.5 2-.8 2.1-1 2.1-1.4 2-1.9 2.1-2.7 2.1-4.3 2-4 2.1-2.1 2.1-1.3 2-1.3 2.1-1.7 2-3.4 2.1-7.7 2.1-9.2 2-8.9 2.1-9.5 2.1-10.5 2-11.7 2.1-10.8 2.1-11.5 2-10.7 2.1-5.7 2.1-.1 2 .2 2.1 .5 2 .6 2.1 .6 2.1 1.3 2 1.8 2.1 2.1 2.1 2.3 2 2.4 2.1 2.3 2.1 2.2 2 2.3 2.1 2.4 2 2.5 2.1 2.5 2.1 2.4 2 2.2 2.1 1.8 2.1 1.7 2 1.6 2.1 1.7 2.1 1.6 2 2 2.1 2.2 2.1 2.3 2 2.4 2.1 2.4 2 2.1 2.1 1.4 2.1 .9 2 .2 2.1 0 2.1 .1 2 .6 2.1 2.2 2.1 3.2 2 4.3 2.1 5 2 5.7 2.1 6.3 2.1 6.6 2 6.3 2.1 5.5 2.1 4.7" stroke="#0072BD"/>
<path d="M396.6 214.2l2.1 .4 2-1 2.1 2.3 2.1 .9 2 0 2.1-.3 2-.6 2.1-.9 2.1-1.2 2-1.2 2.1-1.1 2.1-.9 2-.4 2.1-.2 2.1 .1 2 .2 2.1 .1 2.1 .1 2 .1 2.1 .2 2 .4 2.1 .6 2.1 .7 2 .6 2.1 .6 2.1 .3 2 .1 2.1-.1 2.1-.1 2-.1 2.1-.1 2-.2 2.1-.2 2.1-.5 2-.7 2.1-.6 2.1-.6 2-.6 2.1-.9 2.1-1.3 2-1.8 2.1-2.1 2.1-2.5 2-2.7 2.1-2.5 2-2.2 2.1-1.9 2.1-1.6 2-.9 2.1-.3 2.1 .1 2 .5 2.1 .8 2.1 1.1 2 1 2.1 .9 2 .8 2.1 .9 2.1 .9 2 1 2.1 .9 2.1 .9 2 .9 2.1 .9 2.1 .9 2 1 2.1 1.1 2.1 .8 2 .4 2.1-.1 2-.6 2.1-1 2.1-1.6 2-2 2.1-3.1 2.1-5.2 2-4.9 2.1-2.8 2.1-1.8 2-1.9 2.1-2.7 2-4.7 2.1-9.8 2.1-12.2 2-12.4 2.1-13.1 2.1-12.9 2-13 2.1-11.1 2.1-10.5 2-9.3 2.1-5 2.1-.1 2 .6 2.1 1.1 2 1.7 2.1 2 2.1 2.8 2 3.2 2.1 3.2 2.1 3.1 2 2.6 2.1 2.1 2.1 1.5 2 1.3 2.1 1.3 2 1.3 2.1 1.6 2.1 1.8 2 2.1 2.1 2.5 2.1 2.9 2 3.2 2.1 3.3 2.1 3.2 2 3.2 2.1 2.9 2.1 2.6 2 2.4 2.1 2.5 2 1.8 2.1 .5 2.1-.1 2-.4 2.1-.4 2.1-.1 2 .6 2.1 2 2.1 2.9 2 4.2 2.1 4.9 2 5.7 2.1 6.5 2.1 7 2 6.8 2.1 6.1 2.1 5.1" stroke="#D95319"/>
<path d="M396.6 202.5l2.1 .2 2-1.1 2.1 2.4 2.1 1.1 2 .6 2.1 1.1 2 1.2 2.1 1.1 2.1 .9 2 .7 2.1 .4 2.1 .1 2 .2 2.1 .5 2.1 .8 2 .8 2.1 .8 2.1 .5 2 .4 2.1 .3 2 0 2.1-.2 2.1-.4 2-.4 2.1-.2 2.1-.1 2 .2 2.1 .4 2.1 .4 2 .4 2.1 .5 2 .5 2.1 .4 2.1-.1 2-.4 2.1-.5 2.1-.6 2-.7 2.1-.9 2.1-1.4 2-1.8 2.1-2.1 2.1-2.5 2-2.7 2.1-2.6 2-2.2 2.1-2 2.1-1.7 2-.9 2.1-.3 2.1 .3 2 .6 2.1 1.1 2.1 1.2 2 1.1 2.1 1 2 .9 2.1 .9 2.1 .9 2 .9 2.1 .9 2.1 .7 2 .6 2.1 .5 2.1 .2 2-.4 2.1-.8 2.1-1.3 2-1.5 2.1-1.7 2-1.6 2.1-1.2 2.1-1.2 2-1.3 2.1-2.1 2.1-3.9 2-3.6 2.1-1.6 2.1-.9 2-.9 2.1-1.4 2-2.8 2.1-7 2.1-8.8 2-8.2 2.1-8.7 2.1-9.4 2-10.8 2.1-10.2 2.1-11.3 2-10.7 2.1-5.7 2.1-.3 2 .3 2.1 .5 2 .8 2.1 1 2.1 1.5 2 2.1 2.1 2.4 2.1 2.3 2 2.4 2.1 2.1 2.1 2 2 2 2.1 2.1 2 2.2 2.1 2.2 2.1 2.3 2 2.1 2.1 1.8 2.1 1.8 2 1.7 2.1 1.8 2.1 1.9 2 2 2.1 2.3 2.1 2.3 2 2.3 2.1 2.4 2 2.1 2.1 1.2 2.1 .8 2 .2 2.1-.1 2.1 .1 2 .6 2.1 2.2 2.1 3.1 2 4.4 2.1 4.9 2 5.7 2.1 6 2.1 6.2 2 5.7 2.1 4.8 2.1 3.8" stroke="#EDB120"/>
<path d="M396.6 209.6l2.1 0 2-.9 2.1 1.4 2.1 .5 2-.1 2.1-.1 2-.3 2.1-.5 2.1-.7 2-.8 2.1-.7 2.1-.6 2-.5 2.1-.3 2.1-.1 2-.2 2.1-.2 2.1-.3 2-.1 2.1 .2 2 .6 2.1 .8 2.1 .9 2 1 2.1 .8 2.1 .5 2 0 2.1-.4 2.1-.8 2-.9 2.1-1 2-1 2.1-.8 2.1-.7 2-.4 2.1 .1 2.1 .5 2 .4 2.1 .2 2.1-.4 2-1.2 2.1-2.1 2.1-2.2 2-2.2 2.1-1.7 2-1.4 2.1-1.2 2.1-1.1 2-.7 2.1-.2 2.1 .5 2 1 2.1 1.5 2.1 1.6 2 1.6 2.1 1.2 2 .8 2.1 .5 2.1 .3 2 .2 2.1 .1 2.1-.1 2 0 2.1 0 2.1 0 2-.1 2.1-.3 2.1-.5 2-.9 2.1-1.1 2-1.4 2.1-1.6 2.1-2.1 2-2.4 2.1-3.5 2.1-5.8 2-5.3 2.1-2.9 2.1-1.6 2-1.4 2.1-1.3 2-2.6 2.1-7.2 2.1-9.6 2-9.8 2.1-10.8 2.1-11.2 2-11.7 2.1-10.3 2.1-10.3 2-9.4 2.1-5 2.1-.3 2 .5 2.1 1 2 1.3 2.1 1.3 2.1 1.9 2 2.5 2.1 2.6 2.1 2.7 2 2.8 2.1 2.6 2.1 2.1 2 2.2 2.1 2.1 2 2.1 2.1 2.2 2.1 2.2 2 2.1 2.1 2 2.1 2.1 2 2.1 2.1 2.2 2.1 2.3 2 2.6 2.1 2.8 2.1 2.4 2 1.9 2.1 1.9 2 1.3 2.1-.1 2.1-.5 2-.5 2.1 0 2.1 .7 2 1.8 2.1 3.2 2.1 4.3 2 5.4 2.1 5.6 2 6 2.1 6.4 2.1 6.8 2 6.3 2.1 5.5 2.1 4.1" stroke="#77AC30"/>
<path d="M396.6 189.9l2.1 .7 2-.3 2.1 1.9 2.1 1 2 .5 2.1 .4 2 .1 2.1 0 2.1-.2 2-.3 2.1-.3 2.1-.2 2-.4 2.1-.3 2.1-.4 2-.3 2.1-.2 2.1-.2 2 .1 2.1 .7 2 1.2 2.1 1.4 2.1 1.6 2 1.5 2.1 1.4 2.1 1 2 .4 2.1 0 2.1-.3 2-.5 2.1-.7 2-.6 2.1-.6 2.1-.5 2-.5 2.1-.5 2.1-.6 2-1 2.1-1.5 2.1-1.8 2-2.1 2.1-2.2 2.1-2 2-1.7 2.1-1.3 2-.7 2.1-.6 2.1-.6 2-.5 2.1-.2 2.1 .1 2 .4 2.1 .9 2.1 1.1 2 1.2 2.1 1 2 .8 2.1 .5 2.1 .2 2 .2 2.1 0 2.1 0 2 0 2.1 .1 2.1 .2 2 .1 2.1-.1 2.1-.4 2-.6 2.1-1 2-1.2 2.1-1.4 2.1-1.3 2-1.3 2.1-2.5 2.1-5.5 2-5.2 2.1-2.4 2.1-1.6 2-2 2.1-2.9 2-4.6 2.1-10.5 2.1-14 2-14.9 2.1-15.5 2.1-13.6 2-12.5 2.1-9.7 2.1-8.4 2-6.8 2.1-3.6 2.1 .1 2 1.1 2.1 1.7 2 2.1 2.1 2.1 2.1 2.8 2 3.2 2.1 3.2 2.1 3 2 3 2.1 2.6 2.1 1.8 2 1.4 2.1 1.2 2 1.2 2.1 1.2 2.1 1.4 2 1.4 2.1 1.5 2.1 1.8 2 1.9 2.1 2.1 2.1 2.4 2 3.2 2.1 3.6 2.1 3.5 2 3.1 2.1 3.5 2 2.6 2.1 .2 2.1-.5 2-.8 2.1-.6 2.1 .1 2 1.1 2.1 2.1 2.1 3.2 2 4.5 2.1 5.1 2 6 2.1 7.3 2.1 7.9 2 7.9 2.1 7.2 2.1 5.9" stroke="#4DBEEE"/>
<path d="M396.6 192.5l2.1-.5 2-2.1 2.1 2.7 2.1 1.1 2 .4 2.1 .2 2 0 2.1-.2 2.1-.3 2-.4 2.1-.4 2.1-.2 2-.3 2.1-.2 2.1-.1 2 0 2.1-.1 2.1 0 2 .2 2.1 .7 2 .9 2.1 1.3 2.1 1.3 2 1.2 2.1 1.2 2.1 .8 2 .5 2.1 .3 2.1 .3 2 .3 2.1 .3 2 .1 2.1 0 2.1-.3 2-.6 2.1-.9 2.1-1 2-1.4 2.1-1.9 2.1-2.3 2-2.5 2.1-2.6 2.1-2.5 2-2.3 2.1-1.8 2-1.3 2.1-1.2 2.1-1 2-.7 2.1-.3 2.1 .2 2 .8 2.1 1.3 2.1 1.5 2 1.6 2.1 1.2 2 .8 2.1 .6 2.1 .4 2 .4 2.1 .3 2.1 .2 2 .4 2.1 .4 2.1 .4 2 .4 2.1 .2 2.1 0 2-.3 2.1-.7 2-.9 2.1-1.2 2.1-1.5 2-1.7 2.1-3 2.1-6 2-5.8 2.1-2.8 2.1-1.8 2-2 2.1-2.4 2-3.3 2.1-8.3 2.1-10.8 2-10.5 2.1-10.5 2.1-9.3 2-9.5 2.1-8.4 2.1-9 2-8.6 2.1-4.3 2.1 .1 2 .8 2.1 1.2 2 1.6 2.1 1.8 2.1 2.5 2 2.9 2.1 3 2.1 2.8 2 2.7 2.1 1.9 2.1 1 2 .7 2.1 .5 2 .7 2.1 1 2.1 1.5 2 2 2.1 2.7 2.1 3.1 2 3.4 2.1 3.5 2.1 3.4 2 3.4 2.1 3 2.1 2.3 2 1.4 2.1 1.4 2 .6 2.1-.7 2.1-1.1 2-.8 2.1-.3 2.1 0 2 .8 2.1 2 2.1 3.1 2 4.4 2.1 5.1 2 6 2.1 7 2.1 7.7 2 7.6 2.1 7 2.1 6.1" stroke="#A2142F"/>
<path d="M396.6 175l2.1 .6 2-.8 2.1 2.9 2.1 1.5 2 .7 2.1 .4 2 .3 2.1 .1 2.1-.1 2 0 2.1-.1 2.1 .1 2 .3 2.1 .8 2.1 1.1 2 1.2 2.1 1.2 2.1 .9 2 .8 2.1 .8 2 .7 2.1 .7 2.1 .6 2 .6 2.1 .5 2.1 .7 2 .6 2.1 .8 2.1 .8 2 .8 2.1 .8 2 .6 2.1 .4 2.1 0 2-.4 2.1-.7 2.1-.8 2-1.4 2.1-2 2.1-2.4 2-2.5 2.1-2.5 2.1-2.2 2-1.7 2.1-1.2 2-.6 2.1-.5 2.1-.6 2-.6 2.1-.5 2.1-.6 2-.3 2.1 .1 2.1 .4 2 .7 2.1 .7 2 .7 2.1 .8 2.1 .8 2 .9 2.1 .9 2.1 .8 2 .8 2.1 .7 2.1 .5 2 .4 2.1 .3 2.1-.1 2-.4 2.1-.8 2-1.1 2.1-1.5 2.1-1.9 2-2.3 2.1-3.8 2.1-7.3 2-6.9 2.1-3.5 2.1-2.1 2-2.2 2.1-2.9 2-4.2 2.1-9.9 2.1-13.5 2-14.3 2.1-14.5 2.1-12.3 2-10.9 2.1-8.2 2.1-6.9 2-5.8 2.1-2.6 2.1 .8 2 1.4 2.1 1.7 2 1.7 2.1 1.5 2.1 2.1 2 2.5 2.1 2.5 2.1 2.7 2 3 2.1 2.8 2.1 2.4 2 2 2.1 1.9 2 1.7 2.1 1.7 2.1 1.6 2 1.2 2.1 .9 2.1 .8 2 .9 2.1 1.1 2.1 1.4 2 2.5 2.1 3.3 2.1 3.4 2 3.1 2.1 3.5 2 2.6 2.1 .3 2.1-.6 2-.8 2.1-.5 2.1 .2 2 1.4 2.1 2.2 2.1 3.5 2 4.7 2.1 5.2 2 6.1 2.1 7.4 2.1 8.3 2 8.3 2.1 7.8 2.1 6.5" stroke="#D95319"/>
<path d="M396.6 204.1l2.1 .4 2 0 2.1 .8 2.1 .3 2 0 2.1-.1 2-.4 2.1-.6 2.1-.8 2-.8 2.1-.6 2.1-.3 2 .5 2.1 1.3 2.1 1.8 2 2 2.1 1.9 2.1 1.3 2 .8 2.1 .1 2-.6 2.1-.9 2.1-1.3 2-1.2 2.1-1 2.1-.6 2 .1 2.1 .8 2.1 1.3 2 1.6 2.1 1.7 2 1.6 2.1 1.1 2.1 .1 2-.9 2.1-1.3 2.1-1.6 2-1.9 2.1-2.3 2.1-2.6 2-2.7 2.1-2.6 2.1-2.5 2-2.3 2.1-1.8 2-1.3 2.1-1.2 2.1-.9 2-.7 2.1-.3 2.1 .1 2 .6 2.1 .9 2.1 1.2 2 1.2 2.1 1 2 1.1 2.1 1.2 2.1 1.5 2 1.6 2.1 1.6 2.1 1.4 2 1.1 2.1 .8 2.1 .3 2 .2 2.1 .1 2.1-.3 2-.6 2.1-.9 2-1.2 2.1-1.2 2.1-1.7 2-1.9 2.1-3.1 2.1-5.2 2-4.9 2.1-2.5 2.1-1.6 2-1.7 2.1-2.1 2-3.3 2.1-8 2.1-9.8 2-9.5 2.1-9.9 2.1-9.9 2-11 2.1-10.1 2.1-10.9 2-10.3 2.1-5.6 2.1-.4 2 .3 2.1 1 2 1.5 2.1 2 2.1 2.7 2 3.2 2.1 3.2 2.1 3 2 2.5 2.1 1.9 2.1 1.4 2 1.1 2.1 1.2 2 1.3 2.1 1.5 2.1 1.8 2 2 2.1 1.9 2.1 1.9 2 2 2.1 2 2.1 2.1 2 2.3 2.1 2.5 2.1 2.5 2 2.3 2.1 2.4 2 1.9 2.1 .9 2.1 .4 2-.1 2.1-.1 2.1 .1 2 .7 2.1 2.1 2.1 3.2 2 4.3 2.1 5 2 5.8 2.1 6.3 2.1 6.6 2 6.2 2.1 5.4 2.1 4.4" stroke="#4DBEEE"/>
<path d="M396.6 187.5l2.1 .3 2-1.4 2.1 2.9 2.1 1.2 2 .3 2.1 0 2-.4 2.1-.5 2.1-.8 2-.7 2.1-.5 2.1-.3 2 .5 2.1 1.3 2.1 1.8 2 2 2.1 1.8 2.1 1.3 2 .9 2.1 .4 2-.2 2.1-.4 2.1-.5 2-.6 2.1-.4 2.1-.1 2 .3 2.1 .5 2.1 .8 2 .9 2.1 .8 2 .8 2.1 .4 2.1 0 2-.4 2.1-.7 2.1-.8 2-1.3 2.1-1.7 2.1-2.2 2-2.3 2.1-2.4 2.1-2.3 2-1.8 2.1-1.3 2-.8 2.1-.7 2.1-.6 2-.5 2.1-.3 2.1 .1 2 .4 2.1 .9 2.1 1.2 2 1.2 2.1 1 2 .8 2.1 .5 2.1 .5 2 .3 2.1 .2 2.1 .3 2 .3 2.1 .4 2.1 .4 2 .4 2.1 .2 2.1 0 2-.5 2.1-.7 2-1.1 2.1-1.4 2.1-1.9 2-2.3 2.1-3.7 2.1-6.9 2-6.5 2.1-3.3 2.1-2 2-2 2.1-2 2-2.9 2.1-7.9 2.1-10.5 2-10.5 2.1-10.7 2.1-9.7 2-10.3 2.1-9.3 2.1-10.1 2-9.5 2.1-5.5 2.1-.9 2 .4 2.1 1.3 2 1.7 2.1 1.9 2.1 2.6 2 3.1 2.1 3.1 2.1 3.1 2 3 2.1 2.8 2.1 2.2 2 2 2.1 2 2 1.9 2.1 2 2.1 2 2 1.8 2.1 1.8 2.1 1.7 2 1.9 2.1 2 2.1 2.2 2 2.7 2.1 3.1 2.1 3.1 2 2.9 2.1 3.1 2 2.4 2.1 .7 2.1-.1 2-.3 2.1-.4 2.1 .1 2 .9 2.1 2 2.1 3.2 2 4.3 2.1 5 2 5.9 2.1 6.9 2.1 7.5 2 7.3 2.1 6.7 2.1 5.5" stroke="#77AC30"/>
<path d="M396.6 183.9l2.1 1 2 .6 2.1 1.4 2.1 .9 2 .5 2.1 .2 2-.1 2.1-.4 2.1-.4 2-.5 2.1-.3 2.1-.1 2 .2 2.1 .6 2.1 .9 2 1.1 2.1 .9 2.1 .8 2 .7 2.1 .6 2 .5 2.1 .4 2.1 .4 2 .4 2.1 .3 2.1 .3 2 .3 2.1 .2 2.1 .2 2 .1 2.1 0 2 .1 2.1-.1 2.1-.3 2-.3 2.1-.5 2.1-.6 2-1 2.1-1.5 2.1-2 2-2.2 2.1-2.2 2.1-2.2 2-1.9 2.1-1.3 2-.8 2.1-.8 2.1-.7 2-.5 2.1-.3 2.1 0 2 .4 2.1 .9 2.1 1.2 2 1.2 2.1 1.1 2 .8 2.1 .7 2.1 .8 2 .7 2.1 .7 2.1 .7 2 .6 2.1 .5 2.1 .5 2 .3 2.1 .2 2.1-.1 2-.5 2.1-.8 2-1.1 2.1-1.4 2.1-2 2-2.4 2.1-4 2.1-7.3 2-6.9 2.1-3.5 2.1-2.1 2-2.2 2.1-2.4 2-3.6 2.1-9 2.1-12.2 2-12.6 2.1-12.9 2.1-11.2 2-10.7 2.1-8.7 2.1-8.4 2-7.5 2.1-3.8 2.1 0 2 1 2.1 1.5 2 1.9 2.1 2 2.1 2.6 2 3 2.1 3.1 2.1 2.9 2 2.9 2.1 2.6 2.1 2 2 1.6 2.1 1.5 2 1.4 2.1 1.5 2.1 1.4 2 1.2 2.1 1.1 2.1 1 2 1.2 2.1 1.3 2.1 1.7 2 2.7 2.1 3.3 2.1 3.6 2 3.6 2.1 4.1 2 3.2 2.1 1.1 2.1 .2 2-.4 2.1-.5 2.1-.2 2 .7 2.1 1.6 2.1 2.8 2 4.1 2.1 4.9 2 5.9 2.1 7.2 2.1 8 2 8.1 2.1 7.5 2.1 6.3" stroke="#D95319"/>
<path d="M396.6 202.5l2.1 .7 2-.1 2.1 1.6 2.1 .9 2 .5 2.1 .4 2 .3 2.1 .1 2.1-.2 2-.2 2.1-.2 2.1-.1 2 .1 2.1 .5 2.1 .8 2 .8 2.1 .8 2.1 .5 2 .6 2.1 .3 2-.1 2.1-.4 2.1-.6 2-.8 2.1-.8 2.1-.7 2-.7 2.1-.8 2.1-1 2-1 2.1-1 2-.9 2.1-.6 2.1-.7 2-.3 2.1 .5 2.1 1.1 2 1.1 2.1 .8 2.1 .1 2-.9 2.1-2 2.1-2.7 2-2.8 2.1-2.6 2-2.3 2.1-2 2.1-1.7 2-1 2.1-.3 2.1 .2 2 .6 2.1 1.1 2.1 1.4 2 1.4 2.1 1.2 2 1.2 2.1 1.4 2.1 1.5 2 1.5 2.1 1.5 2.1 1.3 2 1.1 2.1 .7 2.1 .3 2-.1 2.1-.3 2.1-.7 2-1.1 2.1-1.2 2-1.4 2.1-1.3 2.1-1.6 2-2 2.1-3 2.1-5.4 2-5 2.1-2.6 2.1-1.6 2-1.5 2.1-1.8 2-2.9 2.1-7.5 2.1-9.5 2-9.1 2.1-9.4 2.1-9.5 2-10.9 2.1-10.4 2.1-11.5 2-11.1 2.1-6.3 2.1-1 2 0 2.1 1.1 2 2.1 2.1 2.8 2.1 3.6 2 4.1 2.1 4 2.1 3.5 2 2.6 2.1 1.8 2.1 1 2 .8 2.1 .8 2 .9 2.1 1.3 2.1 1.7 2 2.1 2.1 1.9 2.1 2 2 2 2.1 2.1 2.1 2.1 2 2.4 2.1 2.6 2.1 2.7 2 2.7 2.1 3 2 2.4 2.1 1.3 2.1 .7 2 0 2.1-.2 2.1-.1 2 .4 2.1 1.8 2.1 2.7 2 3.9 2.1 4.7 2 5.5 2.1 6.2 2.1 6.6 2 6.3 2.1 5.6 2.1 4.7" stroke="#7E2F8E"/>
<path d="M396.6 183.1l2.1 .5 2-.2 2.1 1.4 2.1 .7 2 .4 2.1 .5 2 .4 2.1 .3 2.1 .1 2 0 2.1-.1 2.1-.3 2-.3 2.1-.2 2.1-.1 2 0 2.1-.1 2.1-.1 2 .1 2.1 .2 2 .3 2.1 .2 2.1 .3 2 .3 2.1 .3 2.1 .3 2 .3 2.1 .5 2.1 .7 2 .8 2.1 .7 2 .6 2.1 .4 2.1 0 2-.3 2.1-.5 2.1-.6 2-1.3 2.1-1.8 2.1-2.3 2-2.5 2.1-2.5 2.1-2.2 2-1.7 2.1-1 2-.5 2.1-.4 2.1-.5 2-.6 2.1-.6 2.1-.4 2-.2 2.1 .3 2.1 .7 2 .8 2.1 .9 2 .7 2.1 .8 2.1 .9 2 1 2.1 .9 2.1 .9 2 .8 2.1 .6 2.1 .5 2 .3 2.1 .1 2.1-.2 2-.5 2.1-1 2-1.2 2.1-1.6 2.1-2 2-2.3 2.1-3.9 2.1-7.6 2-7.1 2.1-3.6 2.1-2.3 2-2.2 2.1-2.4 2-2.9 2.1-8 2.1-10.9 2-10.7 2.1-10.4 2.1-8.5 2-8.6 2.1-7.4 2.1-8.4 2-8 2.1-4.1 2.1-.1 2 .9 2.1 1.5 2 2 2.1 2.2 2.1 3 2 3.4 2.1 3.3 2.1 3.1 2 2.9 2.1 2.3 2.1 1.5 2 1.2 2.1 1.1 2 1 2.1 1.2 2.1 1.4 2 1.5 2.1 1.3 2.1 1.4 2 1.5 2.1 1.7 2.1 2 2 2.7 2.1 3.2 2.1 3.3 2 3.2 2.1 3.6 2 2.8 2.1 .9 2.1 .1 2-.4 2.1-.4 2.1-.1 2 .8 2.1 1.8 2.1 2.9 2 4.2 2.1 5 2 5.9 2.1 6.8 2.1 7.2 2 7 2.1 6.3 2.1 5" stroke="#A2142F"/>
<path d="M396.6 209.5l2.1 .6 2 .3 2.1 .4 2.1 .2 2-.1 2.1-.5 2-.9 2.1-1.2 2.1-1.4 2-1.5 2.1-1.3 2.1-.9 2-.5 2.1-.2 2.1 .1 2 .2 2.1 .2 2.1 .1 2 .2 2.1 .5 2 .7 2.1 1 2.1 1.1 2 1.1 2.1 1.2 2.1 .9 2 .8 2.1 .6 2.1 .8 2 .8 2.1 .6 2 .6 2.1 .3 2.1-.3 2-.7 2.1-1.1 2.1-1.2 2-1.5 2.1-1.7 2.1-2.1 2-2.3 2.1-2.4 2.1-2.5 2-2.5 2.1-2.1 2-1.7 2.1-1.6 2.1-1.3 2-.8 2.1-.1 2.1 .7 2 1.5 2.1 1.9 2.1 2.1 2 1.8 2.1 1.5 2 .8 2.1 .1 2.1-.3 2-.6 2.1-.8 2.1-.7 2-.4 2.1 0 2.1 .4 2 .2 2.1 .2 2.1-.2 2-.4 2.1-.8 2-1 2.1-1.1 2.1-1.2 2-1.3 2.1-2.2 2.1-4.3 2-4 2.1-1.9 2.1-1.3 2-1.5 2.1-2.1 2-3.4 2.1-7.9 2.1-9.8 2-9.2 2.1-9.5 2.1-9.6 2-10.4 2.1-9.6 2.1-10.5 2-9.9 2.1-5.1 2.1-.1 2 .4 2.1 .6 2 .5 2.1 .4 2.1 1 2 1.5 2.1 1.8 2.1 2.1 2 2.4 2.1 2.7 2.1 3 2 3.2 2.1 3.4 2 3.3 2.1 3.2 2.1 2.6 2 1.9 2.1 1.4 2.1 1.1 2 .9 2.1 1.1 2.1 1.2 2 1.7 2.1 2.4 2.1 2.7 2 2.7 2.1 2.9 2 2.6 2.1 1.6 2.1 1 2 .3 2.1 .1 2.1 .2 2 .9 2.1 2.3 2.1 3.2 2 4.4 2.1 5.1 2 5.8 2.1 6.2 2.1 6.6 2 6.3 2.1 5.3 2.1 4.5" stroke="#7E2F8E"/>
<path d="M396.6 205.5l2.1 1.1 2 .8 2.1 1.1 2.1 .7 2 .4 2.1 .1 2-.1 2.1-.5 2.1-.6 2-.8 2.1-.8 2.1-.6 2-.7 2.1-.7 2.1-.6 2-.5 2.1-.5 2.1-.4 2-.1 2.1 .2 2 .2 2.1 .2 2.1 .3 2 .3 2.1 .3 2.1 .4 2 .4 2.1 .7 2.1 .8 2 1 2.1 .9 2 .9 2.1 .6 2.1-.2 2-.8 2.1-1.2 2.1-1.3 2-1.7 2.1-1.9 2.1-2.2 2-2.3 2.1-2.2 2.1-1.7 2-1 2.1-.4 2 .1 2.1 .1 2.1 0 2-.2 2.1-.3 2.1-.1 2 .2 2.1 .6 2.1 .7 2 .7 2.1 .6 2 .6 2.1 .5 2.1 .5 2 .5 2.1 .4 2.1 .5 2 .4 2.1 .4 2.1 .5 2 .8 2.1 .8 2.1 .7 2 .2 2.1-.1 2-.6 2.1-1.1 2.1-1.5 2-1.9 2.1-3 2.1-5.1 2-4.8 2.1-2.5 2.1-1.6 2-1.7 2.1-2.7 2-4.9 2.1-10.3 2.1-13.2 2-13.9 2.1-14.6 2.1-13.8 2-13.3 2.1-10.6 2.1-9.4 2-7.9 2.1-3.9 2.1 .3 2 1.1 2.1 1.5 2 1.7 2.1 1.8 2.1 2.4 2 2.9 2.1 2.9 2.1 2.8 2 2.8 2.1 2.2 2.1 1.5 2 1.2 2.1 1 2 1.2 2.1 1.3 2.1 1.5 2 1.7 2.1 1.8 2.1 1.8 2 2 2.1 2.1 2.1 2.3 2 2.9 2.1 3 2.1 2.9 2 2.3 2.1 2.6 2 1.7 2.1 .1 2.1-.5 2-.7 2.1-.3 2.1 .2 2 1.1 2.1 2.4 2.1 3.4 2 4.7 2.1 5.2 2 6.1 2.1 7.1 2.1 7.8 2 7.6 2.1 7 2.1 5.8" stroke="#A2142F"/>
<path d="M396.6 185.2l2.1 .4 2-1.3 2.1 2.8 2.1 1.2 2 .4 2.1 .2 2-.1 2.1-.2 2.1-.4 2-.4 2.1-.4 2.1-.3 2-.2 2.1 .2 2.1 .5 2 .5 2.1 .5 2.1 .4 2 .5 2.1 .5 2 .5 2.1 .5 2.1 .5 2 .5 2.1 .4 2.1 .4 2 .4 2.1 .4 2.1 .3 2 .4 2.1 .2 2 .2 2.1 .1 2.1-.2 2-.2 2.1-.2 2.1-.2 2-.6 2.1-1.2 2.1-1.6 2-2.1 2.1-2.5 2.1-2.4 2-2.2 2.1-1.8 2-1.3 2.1-1.1 2.1-1.1 2-.8 2.1-.5 2.1-.2 2 .1 2.1 .7 2.1 .9 2 1 2.1 1 2 .8 2.1 .7 2.1 .7 2 .6 2.1 .7 2.1 .6 2 .5 2.1 .5 2.1 .5 2 .4 2.1 .2 2.1 0 2-.4 2.1-.7 2-1.1 2.1-1.4 2.1-1.8 2-2 2.1-3.5 2.1-6.9 2-6.5 2.1-3.2 2.1-2.1 2-2.2 2.1-2.7 2-3.7 2.1-8.8 2.1-11.9 2-11.8 2.1-11.7 2.1-9.8 2-9.4 2.1-7.9 2.1-8.2 2-7.5 2.1-3.8 2.1 .5 2 1.1 2.1 1.7 2 2 2.1 2.1 2.1 2.7 2 3.1 2.1 3.1 2.1 3 2 2.8 2.1 2.2 2.1 1.2 2 .8 2.1 .7 2 .7 2.1 1 2.1 1.4 2 1.6 2.1 1.5 2.1 1.6 2 1.7 2.1 1.9 2.1 2.2 2 2.8 2.1 3.3 2.1 3.6 2 3.4 2.1 3.9 2 3.1 2.1 1.2 2.1 .3 2-.3 2.1-.5 2.1-.5 2 .3 2.1 1.2 2.1 2.4 2 3.6 2.1 4.7 2 5.8 2.1 7.1 2.1 8 2 8 2.1 7.5 2.1 6.5" stroke="#A2142F"/>
<path d="M396.6 214.5l2.1 .4 2-1 2.1 2.4 2.1 1 2 .3 2.1 .2 2 .1 2.1-.3 2.1-.4 2-.5 2.1-.4 2.1-.1 2 .2 2.1 .5 2.1 .8 2 .9 2.1 .7 2.1 .6 2 .5 2.1 .4 2 .3 2.1 .2 2.1 .2 2 .2 2.1 .1 2.1 .2 2 .2 2.1 .2 2.1 .1 2 .1 2.1 0 2 0 2.1 0 2.1-.6 2-.9 2.1-1.3 2.1-1.4 2-1.4 2.1-1.4 2.1-1.8 2-1.9 2.1-1.9 2.1-1.9 2-1.5 2.1-1.2 2-.7 2.1-.6 2.1-.6 2-.3 2.1 .1 2.1 .6 2 1.2 2.1 1.6 2.1 1.5 2 1.4 2.1 1 2 .7 2.1 .4 2.1 .1 2-.2 2.1-.3 2.1-.3 2-.1 2.1 .1 2.1 .5 2 .5 2.1 .4 2.1 .3 2 0 2.1-.4 2-.7 2.1-1 2.1-1.5 2-2 2.1-3 2.1-4.3 2-4 2.1-2.3 2.1-1.4 2-1.3 2.1-1.6 2-3.3 2.1-7.2 2.1-8.4 2-7.8 2.1-8.2 2.1-9.7 2-11.2 2.1-10.6 2.1-11.7 2-11 2.1-5.7 2.1 .1 2 .3 2.1 .3 2 .4 2.1 .4 2.1 1 2 1.5 2.1 1.8 2.1 2.1 2 2.1 2.1 2.1 2.1 1.9 2 2.1 2.1 2.3 2 2.4 2.1 2.5 2.1 2.5 2 2.4 2.1 2.3 2.1 2.3 2 2.4 2.1 2.3 2.1 2.1 2 2.1 2.1 2.1 2.1 2 2 1.8 2.1 1.8 2 1.5 2.1 1.2 2.1 .8 2 .2 2.1 .1 2.1 .2 2 .6 2.1 2.3 2.1 3.2 2 4.4 2.1 5 2 5.7 2.1 6 2.1 6.2 2 5.8 2.1 4.9 2.1 4.2" stroke="#7E2F8E"/>
<path d="M396.6 183.2l2.1 .6 2-.2 2.1 1.7 2.1 1 2 .5 2.1 .5 2 .3 2.1 .2 2.1 0 2-.1 2.1-.1 2.1-.1 2 .1 2.1 .5 2.1 .7 2 .8 2.1 .7 2.1 .6 2 .6 2.1 .6 2 .6 2.1 .7 2.1 .6 2 .6 2.1 .5 2.1 .5 2 .5 2.1 .4 2.1 .4 2 .3 2.1 .3 2 .1 2.1 0 2.1-.2 2-.5 2.1-.7 2.1-.9 2-1.3 2.1-1.8 2.1-2.3 2-2.4 2.1-2.4 2.1-2.3 2-1.9 2.1-1.4 2-.9 2.1-.7 2.1-.7 2-.6 2.1-.3 2.1 0 2 .3 2.1 .8 2.1 1.1 2 1.2 2.1 1.1 2 .8 2.1 .7 2.1 .9 2 .7 2.1 .8 2.1 .7 2 .7 2.1 .5 2.1 .4 2-.1 2.1-.4 2.1-.7 2-1.1 2.1-1.4 2-1.5 2.1-1.4 2.1-1.6 2-1.6 2.1-3 2.1-6.2 2-5.9 2.1-2.8 2.1-1.8 2-2.1 2.1-2.3 2-3 2.1-7.8 2.1-10.2 2-9.8 2.1-9.6 2.1-8.3 2-8.9 2.1-8.6 2.1-9.9 2-9.6 2.1-5.4 2.1-.7 2 .4 2.1 1.1 2 1.3 2.1 1.5 2.1 2 2 2.6 2.1 2.7 2.1 2.8 2 2.8 2.1 2.6 2.1 2.2 2 2.2 2.1 2.1 2 2.1 2.1 2.2 2.1 2.2 2 2.2 2.1 2.1 2.1 2.2 2 2.3 2.1 2.4 2.1 2.5 2 2.7 2.1 2.9 2.1 2.2 2 1.4 2.1 1.3 2 .5 2.1-.9 2.1-1.1 2-.9 2.1-.1 2.1 .7 2 1.8 2.1 3.1 2.1 4.2 2 5.3 2.1 5.6 2 6 2.1 6.8 2.1 7.3 2 7.2 2.1 6.5 2.1 5.4" stroke="#A2142F"/>
<path d="M396.6 211.3l2.1 .1 2-1.4 2.1 2.6 2.1 1.1 2 .2 2.1-.2 2-.6 2.1-.8 2.1-1.1 2-.9 2.1-.7 2.1-.2 2 .2 2.1 .5 2.1 .7 2 .9 2.1 .7 2.1 .6 2 .5 2.1 .5 2 .6 2.1 .6 2.1 .6 2 .6 2.1 .6 2.1 .5 2 .4 2.1 .5 2.1 .4 2 .4 2.1 .3 2 .3 2.1 .2 2.1-.3 2-.8 2.1-1.1 2.1-1.2 2-1.3 2.1-1.5 2.1-1.8 2-2 2.1-2 2.1-2.1 2-2 2.1-1.6 2-1.2 2.1-1.2 2.1-.9 2-.6 2.1-.2 2.1 .4 2 .8 2.1 1.3 2.1 1.3 2 1.1 2.1 1 2 .7 2.1 .4 2.1 .2 2-.1 2.1-.2 2.1-.2 2-.1 2.1 .1 2.1 .3 2 .2 2.1 0 2.1-.1 2-.6 2.1-.8 2-1 2.1-1.2 2.1-1.7 2-2.2 2.1-3.3 2.1-4.9 2-4.6 2.1-2.5 2.1-1.5 2-1.1 2.1-1.5 2-3 2.1-7.2 2.1-8.9 2-8.4 2.1-9.1 2.1-9.9 2-11 2.1-10 2.1-10.6 2-9.8 2.1-5 2.1 .3 2 .5 2.1 .7 2 .7 2.1 .7 2.1 1.2 2 1.8 2.1 2.1 2.1 2.2 2 2.5 2.1 2.7 2.1 2.7 2 3 2.1 3.2 2 3.1 2.1 3 2.1 2.6 2 2.1 2.1 1.5 2.1 1.2 2 1.1 2.1 1.1 2.1 1.2 2 1.5 2.1 2.1 2.1 2.1 2 2 2.1 2 2 1.6 2.1 .9 2.1 .4 2-.1 2.1-.3 2.1-.2 2 .2 2.1 1.8 2.1 2.8 2 4 2.1 4.8 2 5.7 2.1 6.2 2.1 6.6 2 6.3 2.1 5.5 2.1 4.7" stroke="#4DBEEE"/>
<path d="M396.6 222.6l2.1 .1 2-.7 2.1 1.2 2.1 .4 2 0 2.1-.1 2-.2 2.1-.5 2.1-.7 2-.8 2.1-.6 2.1-.4 2 .2 2.1 .7 2.1 1 2 1.1 2.1 .9 2.1 .6 2 .4 2.1 .2 2 .1 2.1 .1 2.1 .1 2 0 2.1 0 2.1 0 2 0 2.1 0 2.1 .2 2 .2 2.1 .2 2 .2 2.1 .1 2.1-.6 2-1.1 2.1-1.7 2.1-2 2-2.1 2.1-2.1 2.1-2.3 2-2.2 2.1-2 2.1-1.8 2-1.6 2.1-1.1 2-.8 2.1-.7 2.1-.5 2-.4 2.1-.1 2.1 .3 2 .8 2.1 1 2.1 1 2 .9 2.1 .8 2 .8 2.1 .9 2.1 1 2 1 2.1 .9 2.1 .8 2 .6 2.1 .5 2.1 .3 2 .1 2.1-.1 2.1-.5 2-.7 2.1-1 2-1.1 2.1-1 2.1-1.3 2-1.6 2.1-2.4 2.1-3.6 2-3.2 2.1-1.8 2.1-1 2-1 2.1-1.3 2-2.9 2.1-6.6 2.1-7.5 2-6.6 2.1-7 2.1-8.9 2-10.9 2.1-10.6 2.1-12.3 2-11.7 2.1-6.2 2.1-.1 2 0 2.1 0 2-.1 2.1 0 2.1 .4 2 1 2.1 1.5 2.1 1.8 2 2 2.1 2 2.1 2.1 2 2.4 2.1 2.6 2 2.8 2.1 2.8 2.1 2.7 2 2.6 2.1 2.3 2.1 2.2 2 2.2 2.1 2.2 2.1 2 2 1.8 2.1 1.8 2.1 1.8 2 1.6 2.1 1.5 2 1.4 2.1 1.3 2.1 1 2 .4 2.1 .3 2.1 .3 2 .6 2.1 2.5 2.1 3.4 2 4.5 2.1 5.1 2 5.6 2.1 5.8 2.1 5.9 2 5.4 2.1 4.4 2.1 3.7" stroke="#A2142F"/>
<path d="M396.6 180.9l2.1 .6 2-1 2.1 3.2 2.1 1.5 2 .5 2.1 .4 2 .1 2.1-.1 2.1-.3 2-.3 2.1-.2 2.1 0 2 .2 2.1 .7 2.1 .9 2 1.1 2.1 1.1 2.1 .9 2 .8 2.1 .8 2 .9 2.1 .8 2.1 .9 2 .8 2.1 .8 2.1 .7 2 .6 2.1 .3 2.1 .1 2-.1 2.1-.2 2-.2 2.1-.2 2.1-.4 2-.3 2.1-.4 2.1-.3 2-.8 2.1-1.3 2.1-1.8 2-2.2 2.1-2.4 2.1-2.5 2-2.2 2.1-1.9 2-1.4 2.1-1.3 2.1-1.1 2-.8 2.1-.5 2.1-.2 2 .2 2.1 .7 2.1 1 2 1 2.1 1 2 .9 2.1 1 2.1 1.1 2 1.3 2.1 1.2 2.1 1.1 2 1 2.1 .7 2.1 .4 2 .2 2.1 .1 2.1-.3 2-.7 2.1-1 2-1.3 2.1-1.5 2.1-1.8 2-2.1 2.1-3.6 2.1-6.7 2-6.5 2.1-3.2 2.1-2 2-2.1 2.1-2.8 2-4.3 2.1-10.1 2.1-13.7 2-14.5 2.1-14.9 2.1-12.9 2-11.7 2.1-9 2.1-7.8 2-6.4 2.1-3.2 2.1 .3 2 1.2 2.1 1.7 2 1.7 2.1 1.7 2.1 2.3 2 2.7 2.1 2.7 2.1 2.7 2 3 2.1 2.8 2.1 2.2 2 2 2.1 1.8 2 1.6 2.1 1.6 2.1 1.6 2 1.2 2.1 1.1 2.1 1.1 2 1.3 2.1 1.4 2.1 1.8 2 2.9 2.1 3.5 2.1 3.7 2 3.5 2.1 4 2 3 2.1 .6 2.1-.3 2-.7 2.1-.6 2.1-.3 2 .7 2.1 1.5 2.1 2.7 2 3.9 2.1 4.9 2 6 2.1 7.4 2.1 8.3 2 8.5 2.1 8 2.1 6.8" stroke="#EDB120"/>
<path d="M396.6 193.1l2.1 .2 2-1 2.1 2.4 2.1 1 2 .3 2.1 .2 2 0 2.1-.3 2.1-.4 2-.4 2.1-.4 2.1-.3 2 .1 2.1 .4 2.1 .7 2 .8 2.1 .7 2.1 .4 2 .4 2.1 .2 2 0 2.1-.1 2.1-.1 2-.2 2.1-.1 2.1 0 2 .1 2.1 .1 2.1 .4 2 .3 2.1 .4 2 .2 2.1 .1 2.1-.2 2-.4 2.1-.6 2.1-.7 2-1.1 2.1-1.6 2.1-1.9 2-2.3 2.1-2.3 2.1-2.1 2-1.8 2.1-1.3 2-.9 2.1-.7 2.1-.8 2-.6 2.1-.5 2.1-.3 2-.1 2.1 .3 2.1 .6 2 .6 2.1 .6 2 .4 2.1 .3 2.1 .2 2 .2 2.1 .2 2.1 .3 2 .2 2.1 .4 2.1 .6 2 .8 2.1 .9 2.1 .8 2 .4 2.1-.2 2-.6 2.1-1.3 2.1-1.8 2-2.2 2.1-3.5 2.1-6.7 2-6.3 2.1-3.3 2.1-1.9 2-2.1 2.1-2.6 2-4 2.1-9.3 2.1-12.5 2-12.8 2.1-13.2 2.1-11.5 2-10.5 2.1-8.1 2.1-7.5 2-6.3 2.1-2.9 2.1 .9 2 1.4 2.1 1.3 2 1.1 2.1 1 2.1 1.4 2 1.9 2.1 2 2.1 2.4 2 2.7 2.1 2.7 2.1 2.3 2 2.1 2.1 2 2 1.9 2.1 1.8 2.1 1.8 2 1.3 2.1 1 2.1 .8 2 .9 2.1 1 2.1 1.4 2 2.4 2.1 3.2 2.1 3.5 2 3.4 2.1 3.9 2 3.1 2.1 1 2.1 .2 2-.2 2.1-.3 2.1 0 2 1 2.1 1.9 2.1 3.1 2 4.2 2.1 5 2 5.9 2.1 7.1 2.1 7.9 2 7.7 2.1 7.2 2.1 5.9" stroke="#D95319"/>
<path d="M396.6 211.8l2.1 .4 2-.9 2.1 2.2 2.1 1 2 .2 2.1 .1 2 0 2.1-.4 2.1-.5 2-.6 2.1-.5 2.1-.2 2 .3 2.1 .7 2.1 1.1 2 1.2 2.1 1 2.1 .7 2 .5 2.1 .4 2 .2 2.1 .1 2.1 .1 2 0 2.1 0 2.1-.1 2 0 2.1 0 2.1 0 2-.1 2.1-.1 2-.1 2.1-.3 2.1-.7 2-1.1 2.1-1.5 2.1-1.6 2-1.7 2.1-1.8 2.1-2 2-2.1 2.1-2.1 2.1-1.8 2-1.5 2.1-.9 2-.5 2.1-.5 2.1-.3 2-.3 2.1-.1 2.1 .2 2 .7 2.1 1 2.1 1 2 .9 2.1 .8 2 .7 2.1 .6 2.1 .5 2 .4 2.1 .3 2.1 .2 2 .3 2.1 .3 2.1 .4 2 .3 2.1 .1 2.1-.1 2-.4 2.1-.7 2-.9 2.1-1.1 2.1-1.5 2-1.9 2.1-2.9 2.1-4.5 2-4.2 2.1-2.2 2.1-1.3 2-1.2 2.1-1.7 2-3.3 2.1-7.6 2.1-9.2 2-8.9 2.1-9.4 2.1-10.3 2-11.4 2.1-10.1 2.1-10.8 2-10 2.1-5.1 2.1 .3 2 .4 2.1 .5 2 .5 2.1 .4 2.1 1.1 2 1.5 2.1 1.9 2.1 2.1 2 2.3 2.1 2.2 2.1 2 2 2.1 2.1 2.2 2 2.3 2.1 2.3 2.1 2.4 2 2.2 2.1 2.1 2.1 2.1 2 2.1 2.1 2.2 2.1 2.1 2 2.2 2.1 2.3 2.1 2.2 2 2.1 2.1 2.1 2 1.7 2.1 1 2.1 .6 2 .1 2.1 0 2.1 .2 2 .9 2.1 2.5 2.1 3.4 2 4.7 2.1 5.3 2 6 2.1 6.5 2.1 6.9 2 6.5 2.1 5.7 2.1 4.9" stroke="#EDB120"/>
<path d="M396.6 210.7l2.1-.6 2-2 2.1 2.1 2.1 .9 2 .3 2.1 .2 2 0 2.1-.2 2.1-.3 2-.5 2.1-.4 2.1-.2 2 .4 2.1 1 2.1 1.3 2 1.4 2.1 1.2 2.1 .9 2 .6 2.1 .2 2-.2 2.1-.4 2.1-.7 2-.6 2.1-.5 2.1-.3 2 0 2.1 .1 2.1 .1 2 .1 2.1 .1 2 0 2.1 0 2.1-.4 2-.8 2.1-1 2.1-.9 2-1.1 2.1-1.2 2.1-1.6 2-1.9 2.1-2.1 2.1-2.2 2-2.2 2.1-1.9 2-1.4 2.1-1.4 2.1-1.2 2-.7 2.1-.4 2.1 0 2 .5 2.1 .7 2.1 .9 2 .9 2.1 .7 2 .7 2.1 1.2 2.1 1.6 2 1.9 2.1 1.8 2.1 1.7 2 1.3 2.1 .9 2.1 .2 2-.3 2.1-.6 2.1-1.1 2-1.4 2.1-1.5 2-1.4 2.1-1.2 2.1-1.4 2-1.7 2.1-2.5 2.1-4.4 2-4.1 2.1-2 2.1-1.3 2-1.3 2.1-2 2-4 2.1-8.9 2.1-11.1 2-11.4 2.1-12.2 2.1-12.5 2-12.9 2.1-11.1 2.1-10.8 2-9.5 2.1-5.1 2.1-.1 2 .4 2.1 1.1 2 1.7 2.1 2 2.1 2.7 2 3.2 2.1 3.2 2.1 3.1 2 2.6 2.1 2.3 2.1 2 2 1.8 2.1 1.9 2 2 2.1 2 2.1 2 2 2 2.1 1.9 2.1 2 2 2.1 2.1 2.1 2.1 2.2 2 2.6 2.1 2.7 2.1 2.6 2 2.5 2.1 2.6 2 2 2.1 .7 2.1 .2 2-.2 2.1-.4 2.1-.3 2 .3 2.1 1.7 2.1 2.6 2 3.9 2.1 4.8 2 5.8 2.1 6.7 2.1 7.5 2 7.3 2.1 6.8 2.1 6" stroke="#A2142F"/>
<path d="M396.6 182.7l2.1 .9 2 .4 2.1 1.3 2.1 .8 2 .4 2.1 .2 2 0 2.1-.3 2.1-.3 2-.4 2.1-.4 2.1-.1 2 .2 2.1 .8 2.1 1.2 2 1.4 2.1 1.2 2.1 1 2 .7 2.1 .5 2 .4 2.1 .4 2.1 .3 2 .3 2.1 .2 2.1 .4 2 .3 2.1 .4 2.1 .5 2 .4 2.1 .4 2 .3 2.1 .1 2.1-.1 2-.5 2.1-.6 2.1-.8 2-1.4 2.1-1.9 2.1-2.3 2-2.5 2.1-2.5 2.1-2.3 2-1.9 2.1-1.4 2-.8 2.1-.8 2.1-.8 2-.6 2.1-.6 2.1-.4 2-.2 2.1 .3 2.1 .6 2 .8 2.1 .8 2 .7 2.1 .8 2.1 1 2 1 2.1 1 2.1 .9 2 .8 2.1 .6 2.1 .5 2 .3 2.1 .1 2.1-.2 2-.5 2.1-.9 2-1.2 2.1-1.4 2.1-1.8 2-2 2.1-3.5 2.1-6.9 2-6.6 2.1-3.3 2.1-2 2-2.2 2.1-2.8 2-4 2.1-9.6 2.1-12.8 2-13.1 2.1-13.3 2.1-11.3 2-10.3 2.1-8.2 2.1-7.7 2-6.7 2.1-3.3 2.1 .5 2 1.1 2.1 1.6 2 1.5 2.1 1.5 2.1 2.1 2 2.5 2.1 2.6 2.1 2.6 2 2.9 2.1 2.7 2.1 2.2 2 1.9 2.1 1.8 2 1.7 2.1 1.7 2.1 1.7 2 1.5 2.1 1.4 2.1 1.4 2 1.5 2.1 1.7 2.1 2 2 2.9 2.1 3.4 2.1 3.5 2 3.2 2.1 3.6 2 2.7 2.1 .5 2.1-.3 2-.6 2.1-.6 2.1-.2 2 .8 2.1 1.6 2.1 2.8 2 4 2.1 4.8 2 5.9 2.1 7.1 2.1 8 2 8 2.1 7.4 2.1 6.2" stroke="#EDB120"/>
<path d="M396.6 190l2.1 .4 2-.1 2.1 1.3 2.1 .7 2 .4 2.1 .3 2 .3 2.1 .1 2.1-.1 2-.2 2.1-.2 2.1-.2 2-.2 2.1 0 2.1 .2 2 .3 2.1 .3 2.1 .2 2 .3 2.1 .5 2 .6 2.1 .8 2.1 .7 2 .9 2.1 .8 2.1 .8 2 .8 2.1 .8 2.1 1.1 2 1.1 2.1 1 2 .9 2.1 .5 2.1 0 2-.7 2.1-1.5 2.1-2 2-2.5 2.1-3.1 2.1-3.2 2-3 2.1-2.5 2.1-2.2 2-1.7 2.1-1.1 2-.5 2.1-.5 2.1-.3 2-.3 2.1-.1 2.1 .3 2 .6 2.1 1.1 2.1 1.3 2 1.3 2.1 1.1 2 .8 2.1 .6 2.1 .5 2 .4 2.1 .3 2.1 .3 2 .4 2.1 .4 2.1 .5 2 .4 2.1 .4 2.1 .1 2-.2 2.1-.7 2-1 2.1-1.3 2.1-2.2 2-2.8 2.1-4.4 2.1-7.5 2-7 2.1-3.8 2.1-2.2 2-2 2.1-2.1 2-3.1 2.1-8 2.1-10.4 2-10.2 2.1-10.1 2.1-9 2-8.9 2.1-7.4 2.1-7.9 2-7.4 2.1-3.4 2.1 .8 2 1 2.1 .9 2 .6 2.1 .3 2.1 .7 2 1.1 2.1 1.5 2.1 2 2 2.5 2.1 2.7 2.1 2.4 2 2.4 2.1 2.5 2 2.3 2.1 2.3 2.1 2.1 2 1.5 2.1 .9 2.1 .4 2 .4 2.1 .6 2.1 .9 2 1.8 2.1 2.9 2.1 3.5 2 3.8 2.1 4.4 2 3.9 2.1 2.3 2.1 1.4 2 .7 2.1 .3 2.1 .7 2 1.3 2.1 2.5 2.1 3.5 2 4.6 2.1 5.2 2 5.9 2.1 6.6 2.1 6.9 2 6.5 2.1 5.6 2.1 4.4" stroke="#EDB120"/>
<path d="M396.6 210.1l2.1 1.1 2-.1 2.1 2 2.1 1 2 .1 2.1-.4 2-.9 2.1-1.4 2.1-1.6 2-1.5 2.1-1.3 2.1-.8 2-.5 2.1-.1 2.1 .2 2 .3 2.1 .4 2.1 .3 2 .4 2.1 .8 2 1.5 2.1 2 2.1 2.1 2 2 2.1 1.7 2.1 1.2 2 .4 2.1-.3 2.1-.9 2-1.1 2.1-1.2 2-1.2 2.1-.9 2.1-.9 2-.7 2.1-.6 2.1-.6 2-.6 2.1-.8 2.1-1.2 2-1.7 2.1-2.1 2.1-2.5 2-2.7 2.1-2.5 2-2.2 2.1-1.9 2.1-1.6 2-1 2.1-.1 2.1 .5 2 1.1 2.1 1.6 2.1 1.7 2 1.7 2.1 1.3 2 1.1 2.1 .9 2.1 1 2 .9 2.1 .8 2.1 .7 2 .6 2.1 .5 2.1 .3 2-.1 2.1-.4 2.1-.7 2-1.1 2.1-1.2 2-1.3 2.1-1.2 2.1-1.4 2-1.7 2.1-2.6 2.1-4.6 2-4.1 2.1-2.1 2.1-1.1 2-1.1 2.1-1.7 2-3.5 2.1-8.3 2.1-10.6 2-10.8 2.1-11.8 2.1-12.2 2-12.8 2.1-11.3 2.1-11.1 2-10 2.1-5.5 2.1-.6 2 .3 2.1 1 2 1.4 2.1 1.6 2.1 2.4 2 2.9 2.1 3 2.1 3.2 2 3.1 2.1 3.1 2.1 2.7 2 2.8 2.1 2.7 2 2.6 2.1 2.5 2.1 2.2 2 1.5 2.1 .3 2.1-.4 2-.7 2.1-.6 2.1 0 2 1 2.1 2.5 2.1 3.3 2 3.6 2.1 4.1 2 3.7 2.1 2.3 2.1 1.3 2 .5 2.1 0 2.1 .2 2 .8 2.1 2.2 2.1 3.2 2 4.3 2.1 5 2 5.9 2.1 6.4 2.1 6.9 2 6.5 2.1 5.7 2.1 4.7" stroke="#D95319"/>
<path d="M396.6 185.7l2.1 .5 2-.4 2.1 1.9 2.1 .9 2 .5 2.1 .3 2 .1 2.1-.2 2.1-.2 2-.3 2.1-.2 2.1-.2 2 .1 2.1 .4 2.1 .7 2 .7 2.1 .7 2.1 .5 2 .5 2.1 .4 2 .3 2.1 .4 2.1 .3 2 .2 2.1 .3 2.1 .4 2 .4 2.1 .6 2.1 .8 2 .8 2.1 .8 2 .7 2.1 .4 2.1 0 2-.5 2.1-.8 2.1-.9 2-1.5 2.1-2 2.1-2.4 2-2.6 2.1-2.5 2.1-2.3 2-2 2.1-1.5 2-1 2.1-.9 2.1-.8 2-.7 2.1-.4 2.1 0 2 .6 2.1 1 2.1 1.4 2 1.4 2.1 1.2 2 .7 2.1 .7 2.1 .5 2 .4 2.1 .4 2.1 .4 2 .4 2.1 .5 2.1 .5 2 .4 2.1 .4 2.1 .2 2-.2 2.1-.6 2-1 2.1-1.4 2.1-2 2-2.4 2.1-3.9 2.1-7.1 2-6.8 2.1-3.5 2.1-2.1 2-2.1 2.1-2.6 2-4 2.1-9.4 2.1-12.7 2-13.3 2.1-13.5 2.1-11.8 2-10.9 2.1-8.8 2.1-8 2-7 2.1-3.5 2.1 .3 2 1.2 2.1 1.7 2 2.1 2.1 2.1 2.1 2.8 2 3.2 2.1 3.2 2.1 3 2 3 2.1 2.4 2.1 1.8 2 1.5 2.1 1.2 2 1.2 2.1 1.4 2.1 1.4 2 1.5 2.1 1.4 2.1 1.6 2 1.7 2.1 1.9 2.1 2.1 2 3 2.1 3.4 2.1 3.2 2 2.9 2.1 3.2 2 2.3 2.1 .2 2.1-.6 2-.7 2.1-.6 2.1 0 2 .9 2.1 1.9 2.1 3.1 2 4.4 2.1 5.1 2 6.1 2.1 7.3 2.1 8.2 2 8.1 2.1 7.7 2.1 6.4" stroke="#7E2F8E"/>
<path d="M396.6 202.3l2.1 1 2-.2 2.1 2.4 2.1 1.2 2 .3 2.1-.4 2-.8 2.1-1.1 2.1-1.3 2-1.2 2.1-.8 2.1-.1 2 .6 2.1 1.3 2.1 1.6 2 1.8 2.1 1.5 2.1 1.2 2 .9 2.1 .5 2 .6 2.1 .5 2.1 .5 2 .5 2.1 .4 2.1 .4 2 .4 2.1 .2 2.1 .1 2 0 2.1-.1 2-.1 2.1-.1 2.1-.5 2-.7 2.1-.8 2.1-.8 2-.9 2.1-1.2 2.1-1.5 2-1.9 2.1-2.1 2.1-2 2-1.9 2.1-1.4 2-1 2.1-.9 2.1-.9 2-.6 2.1-.4 2.1 0 2 .4 2.1 .7 2.1 .9 2 .8 2.1 .6 2 .6 2.1 .2 2.1 .1 2-.1 2.1-.2 2.1-.2 2-.1 2.1 .2 2.1 .4 2 .3 2.1 .1 2.1-.1 2-.5 2.1-.8 2-.9 2.1-1.2 2.1-1.1 2-1.2 2.1-2 2.1-4 2-3.7 2.1-1.8 2.1-1.1 2-1.6 2.1-2.8 2-5.1 2.1-10.6 2.1-13.4 2-14 2.1-14.6 2.1-13.2 2-12.5 2.1-10 2.1-8.9 2-7.4 2.1-3.4 2.1 .8 2 1 2.1 1.1 2 1.2 2.1 1.2 2.1 1.7 2 2.2 2.1 2.3 2.1 2.4 2 2.5 2.1 2.2 2.1 1.7 2 1.7 2.1 1.6 2 1.6 2.1 1.8 2.1 1.8 2 1.8 2.1 1.9 2.1 2 2 2.1 2.1 2.2 2.1 2.3 2 2.8 2.1 2.9 2.1 2.5 2 1.7 2.1 1.8 2 1 2.1-.5 2.1-.9 2-.7 2.1-.2 2.1 .6 2 1.6 2.1 3 2.1 4.2 2 5.3 2.1 6 2 6.6 2.1 7.5 2.1 8.1 2 7.9 2.1 7.2 2.1 6.1" stroke="#EDB120"/>
<path d="M396.6 219.3l2.1-.1 2-1 2.1 1.2 2.1 .4 2 0 2.1 .1 2 .2 2.1 .1 2.1-.2 2-.2 2.1-.3 2.1-.4 2-.6 2.1-.6 2.1-.6 2-.8 2.1-.8 2.1-.7 2-.4 2.1 0 2 .1 2.1 0 2.1 0 2 .1 2.1 0 2.1-.1 2-.1 2.1-.1 2.1 0 2 .2 2.1 .1 2 .1 2.1 0 2.1-.4 2-.9 2.1-1.1 2.1-1.3 2-1.4 2.1-1.6 2.1-1.9 2-2.2 2.1-2.2 2.1-2.1 2-1.9 2.1-1.6 2-1.1 2.1-1 2.1-.9 2-.6 2.1-.1 2.1 .5 2 1.1 2.1 1.5 2.1 1.6 2 1.5 2.1 1.1 2 .8 2.1 .6 2.1 .4 2 .2 2.1 .2 2.1 .2 2 .2 2.1 .3 2.1 .5 2 .6 2.1 .7 2.1 .6 2 .1 2.1-.2 2-.6 2.1-1 2.1-1.5 2-1.9 2.1-2.9 2.1-4.7 2-4.4 2.1-2.4 2.1-1.5 2-1.6 2.1-2.3 2-4 2.1-8.6 2.1-10.6 2-10.4 2.1-10.9 2.1-11.1 2-11.7 2.1-10.3 2.1-10.5 2-9.5 2.1-4.9 2.1 .4 2 .8 2.1 1.1 2 1.4 2.1 1.6 2.1 2.2 2 2.6 2.1 2.8 2.1 2.7 2 2.4 2.1 2 2.1 1.3 2 1.2 2.1 1.2 2 1.4 2.1 1.6 2.1 1.9 2 2.2 2.1 2.1 2.1 2.1 2 2.3 2.1 2.3 2.1 2.4 2 2.6 2.1 2.7 2.1 2.6 2 2.6 2.1 2.6 2 2.1 2.1 1.2 2.1 .5 2 0 2.1-.2 2.1-.4 2 .2 2.1 1.4 2.1 2.5 2 3.8 2.1 4.7 2 5.7 2.1 6.4 2.1 6.9 2 6.7 2.1 6.1 2.1 5.1" stroke="#7E2F8E"/>
<path d="M396.6 218.5l2.1 .1 2-.3 2.1 .5 2.1 .2 2 .2 2.1 .5 2 .5 2.1 .4 2.1 .1 2 0 2.1-.2 2.1-.4 2-.1 2.1 0 2.1 .1 2 .2 2.1 .1 2.1 0 2 .1 2.1 .1 2 .1 2.1 .2 2.1 .1 2 .1 2.1 0 2.1 .1 2 0 2.1 0 2.1 .1 2 0 2.1 .1 2 0 2.1 0 2.1-.6 2-.9 2.1-1 2.1-1 2-1 2.1-1.1 2.1-1.4 2-1.8 2.1-1.9 2.1-2 2-1.8 2.1-1.3 2-1 2.1-1 2.1-.8 2-.5 2.1-.3 2.1 .1 2 .6 2.1 .8 2.1 .9 2 .7 2.1 .7 2 .6 2.1 .6 2.1 .5 2 .5 2.1 .4 2.1 .4 2 .3 2.1 .4 2.1 .4 2 .4 2.1 .4 2.1 .1 2-.2 2.1-.5 2-.7 2.1-.8 2.1-1.3 2-1.7 2.1-2.5 2.1-3.9 2-3.6 2.1-1.9 2.1-1.1 2-1.2 2.1-1.6 2-3 2.1-6.8 2.1-7.7 2-6.5 2.1-6.8 2.1-8.1 2-10.2 2.1-10.1 2.1-12.1 2-11.8 2.1-6.2 2.1-.2 2 0 2.1 .1 2 .1 2.1 .2 2.1 .7 2 1.3 2.1 1.8 2.1 2 2 2.2 2.1 2.1 2.1 2.1 2 2.4 2.1 2.6 2 2.7 2.1 2.8 2.1 2.7 2 2.6 2.1 2.3 2.1 2.2 2 2.3 2.1 2.2 2.1 2 2 1.9 2.1 1.8 2.1 1.8 2 1.6 2.1 1.5 2 1.3 2.1 1.3 2.1 .9 2 .3 2.1 .2 2.1 0 2 .5 2.1 2.2 2.1 3.2 2 4.3 2.1 4.9 2 5.6 2.1 5.9 2.1 6.1 2 5.7 2.1 4.8 2.1 4.2" stroke="#EDB120"/>
<path d="M396.6 207l2.1 1.2 2 .8 2.1 .9 2.1 .6 2 .2 2.1-.2 2-.5 2.1-.9 2.1-1.1 2-1 2.1-.7 2.1-.2 2 .2 2.1 .5 2.1 .8 2 .8 2.1 .8 2.1 .7 2 .5 2.1 .6 2 .7 2.1 .6 2.1 .6 2 .6 2.1 .5 2.1 .4 2 .3 2.1 .1 2.1 0 2-.2 2.1-.2 2-.3 2.1-.2 2.1-.6 2-.7 2.1-.5 2.1-.4 2-.5 2.1-.7 2.1-1.2 2-1.6 2.1-2.1 2.1-2.2 2-2.2 2.1-1.9 2-1.4 2.1-1.4 2.1-1.2 2-.9 2.1-.6 2.1-.1 2 .3 2.1 .6 2.1 .8 2 .7 2.1 .8 2 .7 2.1 .7 2.1 .7 2 .8 2.1 .7 2.1 .5 2 .6 2.1 .5 2.1 .3 2 0 2.1-.2 2.1-.5 2-.9 2.1-1.1 2-1.1 2.1-1.2 2.1-1.1 2-1.1 2.1-1.8 2.1-3.8 2-3.5 2.1-1.5 2.1-.9 2-1.3 2.1-1.7 2-3.2 2.1-7.8 2.1-9.6 2-9.4 2.1-9.9 2.1-10.3 2-11.5 2.1-10.6 2.1-11.4 2-10.7 2.1-5.9 2.1-.7 2 .1 2.1 .6 2 .6 2.1 .8 2.1 1.3 2 1.9 2.1 2 2.1 2.2 2 2.3 2.1 1.8 2.1 1.4 2 1.2 2.1 1.3 2 1.5 2.1 1.6 2.1 2 2 2.2 2.1 2.3 2.1 2.5 2 2.6 2.1 2.8 2.1 2.8 2 2.9 2.1 3.1 2.1 3 2 2.9 2.1 3 2 2.4 2.1 1.4 2.1 .8 2 .1 2.1-.3 2.1-.4 2-.1 2.1 1.3 2.1 2.3 2 3.6 2.1 4.6 2 5.7 2.1 6.5 2.1 7 2 6.9 2.1 6.3 2.1 5.5" stroke="#7E2F8E"/>
<path d="M396.6 218.9l2.1 .5 2-.8 2.1 2.2 2.1 .9 2 .2 2.1 .1 2 0 2.1-.3 2.1-.5 2-.6 2.1-.5 2.1-.3 2 .1 2.1 .4 2.1 .6 2 .7 2.1 .6 2.1 .3 2 .4 2.1 .3 2 .1 2.1 .1 2.1 0 2-.1 2.1 0 2.1 0 2 .1 2.1 .2 2.1 .3 2 .3 2.1 .4 2 .3 2.1 .1 2.1-.5 2-1 2.1-1.5 2.1-1.6 2-1.7 2.1-1.6 2.1-1.9 2-2 2.1-1.9 2.1-1.7 2-1.2 2.1-.8 2-.3 2.1-.3 2.1-.3 2-.2 2.1-.1 2.1 .4 2 .7 2.1 1 2.1 1 2 .9 2.1 .7 2 .6 2.1 .5 2.1 .2 2 0 2.1-.1 2.1-.1 2-.1 2.1 .2 2.1 .3 2 .3 2.1 .1 2.1-.2 2-.5 2.1-.7 2-.9 2.1-.9 2.1-1.3 2-1.6 2.1-2.3 2.1-3.4 2-3.1 2.1-1.6 2.1-1 2-.8 2.1-2 2-4.5 2.1-9.6 2.1-12 2-12.8 2.1-14.3 2.1-15.1 2-15.3 2.1-12.6 2.1-11 2-9.1 2.1-4.7 2.1 .1 2 .6 2.1 1 2 1.4 2.1 1.6 2.1 2.2 2 2.6 2.1 2.8 2.1 2.7 2 2.6 2.1 1.7 2.1 .9 2 .6 2.1 .5 2 .6 2.1 1.1 2.1 1.6 2 2 2.1 2.1 2.1 2.3 2 2.5 2.1 2.5 2.1 2.6 2 2.8 2.1 2.9 2.1 2.8 2 2.5 2.1 2.7 2 2.1 2.1 .9 2.1 .2 2-.1 2.1-.2 2.1 .1 2 .8 2.1 2.1 2.1 3.1 2 4.3 2.1 5.1 2 5.8 2.1 6.5 2.1 6.9 2 6.6 2.1 5.8 2.1 4.8" stroke="#7E2F8E"/>
<path d="M396.6 190.6l2.1 .8 2-.2 2.1 1.6 2.1 .7 2 0 2.1-.3 2-.5 2.1-.8 2.1-1 2-1 2.1-1 2.1-.7 2-.5 2.1-.1 2.1 .1 2 .3 2.1 .4 2.1 .2 2 .3 2.1 .5 2 .6 2.1 .8 2.1 .9 2 .9 2.1 .7 2.1 .6 2 .3 2.1 .2 2.1 .4 2 .4 2.1 .4 2 .2 2.1 .1 2.1-.2 2-.5 2.1-.7 2.1-.9 2-1.4 2.1-2 2.1-2.4 2-2.5 2.1-2.5 2.1-2.4 2-2.1 2.1-1.5 2-1 2.1-.9 2.1-.8 2-.7 2.1-.5 2.1-.3 2 .2 2.1 .6 2.1 1 2 1.1 2.1 1.1 2 .8 2.1 1 2.1 1.2 2 1.3 2.1 1.2 2.1 1.1 2 1 2.1 .7 2.1 .4 2 0 2.1-.3 2.1-.5 2-1 2.1-1.2 2-1.5 2.1-1.5 2.1-1.6 2-1.8 2.1-3.1 2.1-6.6 2-6.3 2.1-3 2.1-1.9 2-2.3 2.1-2.8 2-4.3 2.1-10.1 2.1-13.8 2-14.5 2.1-14.8 2.1-12.6 2-11.5 2.1-8.9 2.1-8 2-6.7 2.1-3.4 2.1 .1 2 1.1 2.1 1.8 2 2.2 2.1 2.2 2.1 2.9 2 3.3 2.1 3.2 2.1 3.1 2 3.1 2.1 2.7 2.1 1.9 2 1.6 2.1 1.4 2 1.2 2.1 1.2 2.1 1.2 2 1 2.1 .8 2.1 .8 2 .8 2.1 1.2 2.1 1.6 2 2.7 2.1 3.5 2.1 3.9 2 3.7 2.1 4.4 2 3.3 2.1 .9 2.1-.1 2-.5 2.1-.6 2.1-.2 2 .8 2.1 1.6 2.1 2.9 2 4.1 2.1 4.9 2 6.1 2.1 7.5 2.1 8.4 2 8.6 2.1 8.2 2.1 6.9" stroke="#77AC30"/>
<path d="M396.6 201l2.1 .5 2 0 2.1 1.1 2.1 .7 2 .4 2.1 .5 2 .4 2.1 .2 2.1 0 2 0 2.1-.1 2.1-.2 2 0 2.1 .3 2.1 .5 2 .6 2.1 .4 2.1 .3 2 .2 2.1 .3 2 .2 2.1 .1 2.1 .2 2 .2 2.1 .1 2.1 .3 2 .3 2.1 .5 2.1 .6 2 .7 2.1 .8 2 .7 2.1 .5 2.1 0 2-.4 2.1-.6 2.1-.8 2-1.1 2.1-1.4 2.1-1.8 2-2.1 2.1-2.3 2.1-2.1 2-1.8 2.1-1.4 2-.9 2.1-.9 2.1-.8 2-.6 2.1-.6 2.1-.8 2-.8 2.1-.5 2.1-.4 2-.1 2.1 .2 2 .6 2.1 .8 2.1 .9 2 1 2.1 .9 2.1 .9 2 .7 2.1 .6 2.1 .3 2-.1 2.1-.5 2.1-.8 2-1.2 2.1-1.4 2-1.4 2.1-1.3 2.1-1.6 2-1.9 2.1-3.1 2.1-5.4 2-5.2 2.1-2.6 2.1-1.6 2-1.4 2.1-1.8 2-3.1 2.1-8.2 2.1-11 2-11.6 2.1-12.6 2.1-12.3 2-12.4 2.1-10.5 2.1-9.9 2-8.8 2.1-4.8 2.1-.2 2 .6 2.1 1.4 2 2.1 2.1 2.4 2.1 3.1 2 3.6 2.1 3.6 2.1 3.2 2 2.8 2.1 1.7 2.1 .5 2-.1 2.1-.2 2 0 2.1 .4 2.1 1.2 2 1.7 2.1 1.9 2.1 2 2 2.1 2.1 2.4 2.1 2.6 2 3.1 2.1 3.5 2.1 3.5 2 3.3 2.1 3.6 2 2.9 2.1 1.2 2.1 .5 2 .1 2.1 .1 2.1 .4 2 1.2 2.1 2.3 2.1 3.4 2 4.5 2.1 5.1 2 5.9 2.1 6.8 2.1 7.1 2 7 2.1 6.1 2.1 4.9" stroke="#EDB120"/>
<path d="M396.6 202.3l2.1-.7 2-2.1 2.1 2.5 2.1 1 2 .3 2.1 .4 2 .4 2.1 .1 2.1 0 2 0 2.1-.1 2.1 .1 2 .3 2.1 .7 2.1 1 2 1 2.1 .9 2.1 .6 2 .5 2.1 .3 2-.1 2.1-.4 2.1-.5 2-.6 2.1-.4 2.1-.2 2 .2 2.1 .8 2.1 1.1 2 1.4 2.1 1.4 2 1.3 2.1 .9 2.1 0 2-.8 2.1-1.5 2.1-1.8 2-2.2 2.1-2.4 2.1-2.6 2-2.6 2.1-2.2 2.1-2 2-1.5 2.1-.9 2-.5 2.1-.3 2.1-.4 2-.2 2.1-.2 2.1 .3 2 .6 2.1 .9 2.1 1.1 2 1.1 2.1 .8 2 .8 2.1 .4 2.1 .1 2-.1 2.1-.2 2.1-.2 2 0 2.1 .2 2.1 .5 2 .8 2.1 .9 2.1 .8 2 .4 2.1-.1 2-.5 2.1-1.2 2.1-2.2 2-3.2 2.1-4.6 2.1-7 2-6.5 2.1-3.7 2.1-2.1 2-1.3 2.1-1.5 2-3 2.1-8 2.1-10.7 2-11.4 2.1-13 2.1-13.2 2-13.6 2.1-11.7 2.1-10.9 2-9.5 2.1-5.4 2.1-.9 2 .4 2.1 1.5 2 2.4 2.1 2.8 2.1 3.7 2 4.1 2.1 3.9 2.1 3.6 2 2.8 2.1 2.2 2.1 1.3 2 1 2.1 1 2 .9 2.1 1.2 2.1 1.6 2 1.8 2.1 2.2 2.1 2.4 2 2.6 2.1 2.7 2.1 2.9 2 3.2 2.1 3.2 2.1 3.1 2 2.8 2.1 3.2 2 2.4 2.1 .7 2.1 0 2-.4 2.1-.5 2.1-.5 2 .2 2.1 1.2 2.1 2.2 2 3.5 2.1 4.4 2 5.6 2.1 6.6 2.1 7.3 2 7.2 2.1 6.6 2.1 5.5" stroke="#D95319"/>
<path d="M396.6 193l2.1 .9 2-.8 2.1 2.9 2.1 1.1 2 .3 2.1-.1 2-.4 2.1-.6 2.1-.8 2-.8 2.1-.7 2.1-.4 2-.1 2.1 .3 2.1 .5 2 .7 2.1 .6 2.1 .4 2 .4 2.1 .3 2 .4 2.1 .3 2.1 .3 2 .3 2.1 .3 2.1 .3 2 .4 2.1 .7 2.1 1.1 2 1.3 2.1 1.3 2 1.2 2.1 .8 2.1 .1 2-.8 2.1-1.5 2.1-2.1 2-2.7 2.1-3.1 2.1-3.3 2-3 2.1-2.6 2.1-2.1 2-1.7 2.1-1.1 2-.6 2.1-.5 2.1-.4 2-.3 2.1-.1 2.1 .1 2 .6 2.1 .9 2.1 1.3 2 1.2 2.1 1.2 2 .9 2.1 .9 2.1 1 2 .9 2.1 .9 2.1 .8 2 .7 2.1 .7 2.1 .7 2 .5 2.1 .3 2.1 .2 2-.3 2.1-.7 2-1 2.1-1.4 2.1-1.7 2-2 2.1-3.4 2.1-6.3 2-6 2.1-3.1 2.1-2 2-2.2 2.1-2.9 2-4.2 2.1-9.4 2.1-12.1 2-12 2.1-11.9 2.1-10.5 2-10.1 2.1-8.5 2.1-8.6 2-7.8 2.1-3.8 2.1 .6 2 1.1 2.1 1.6 2 1.7 2.1 1.8 2.1 2.4 2 2.8 2.1 2.9 2.1 2.8 2 2.7 2.1 2.4 2.1 1.9 2 1.7 2.1 1.6 2 1.5 2.1 1.5 2.1 1.5 2 1.3 2.1 .8 2.1 .6 2 .6 2.1 .9 2.1 1.2 2 2.1 2.1 2.9 2.1 3.4 2 3.5 2.1 4 2 3.3 2.1 1.6 2.1 .7 2 .1 2.1-.2 2.1 .1 2 .8 2.1 2 2.1 3.1 2 4.3 2.1 5 2 5.8 2.1 6.7 2.1 7.1 2 6.8 2.1 6 2.1 4.7" stroke="#7E2F8E"/>
<path d="M396.6 211.7l2.1 .2 2-1 2.1 2.2 2.1 .9 2 .3 2.1 .3 2 .3 2.1 0 2.1-.2 2-.4 2.1-.4 2.1-.3 2-.1 2.1 .2 2.1 .3 2 .5 2.1 .3 2.1 .1 2 .2 2.1 0 2 .1 2.1 0 2.1-.1 2 0 2.1-.1 2.1-.1 2 0 2.1 0 2.1 0 2 .1 2.1 .1 2 .1 2.1-.1 2.1-.5 2-1 2.1-1.2 2.1-1.4 2-1.6 2.1-1.8 2.1-2.1 2-2.3 2.1-2.2 2.1-2.1 2-1.9 2.1-1.4 2-.9 2.1-.9 2.1-.7 2-.5 2.1-.3 2.1 .2 2 .6 2.1 .9 2.1 1.2 2 1 2.1 .9 2 .7 2.1 .7 2.1 .7 2 .7 2.1 .6 2.1 .5 2 .5 2.1 .5 2.1 .4 2 .5 2.1 .5 2.1 .4 2 0 2.1-.2 2-.5 2.1-.7 2.1-1.1 2-1.3 2.1-2.4 2.1-4.3 2-4.2 2.1-2 2.1-1.3 2-1.6 2.1-2.2 2-3.7 2.1-8 2.1-9.4 2-8.6 2.1-8.5 2.1-8.8 2-10 2.1-9.4 2.1-10.8 2-10.4 2.1-5.4 2.1 .1 2 .3 2.1 .5 2 .4 2.1 .5 2.1 1 2 1.6 2.1 1.9 2.1 2 2 2.2 2.1 2.1 2.1 1.8 2 2 2.1 2.1 2 2.2 2.1 2.3 2.1 2.4 2 2.3 2.1 2.3 2.1 2.5 2 2.5 2.1 2.5 2.1 2.4 2 2.4 2.1 2.3 2.1 2.2 2 2 2.1 2 2 1.6 2.1 .9 2.1 .5 2 .1 2.1-.2 2.1-.1 2 .4 2.1 1.9 2.1 2.9 2 4.1 2.1 4.8 2 5.6 2.1 6.1 2.1 6.4 2 6.1 2.1 5.2 2.1 4.4" stroke="#A2142F"/>
<path d="M396.6 220.6l2.1 .3 2-.9 2.1 1.9 2.1 .8 2 .3 2.1 .2 2 .2 2.1-.2 2.1-.3 2-.5 2.1-.5 2.1-.3 2 0 2.1 .2 2.1 .4 2 .4 2.1 .3 2.1 .1 2 .1 2.1 0 2 0 2.1-.2 2.1-.1 2-.1 2.1-.1 2.1-.1 2 .1 2.1 .2 2.1 .5 2 .5 2.1 .6 2 .5 2.1 .3 2.1-.4 2-1.1 2.1-1.5 2.1-1.8 2-1.8 2.1-1.8 2.1-2.1 2-2.1 2.1-2.1 2.1-1.9 2-1.6 2.1-1.2 2-.9 2.1-.7 2.1-.7 2-.4 2.1-.2 2.1 .2 2 .6 2.1 .9 2.1 1 2 .8 2.1 .6 2 .7 2.1 .9 2.1 1 2 1.1 2.1 1 2.1 .9 2 .8 2.1 .6 2.1 .2 2-.1 2.1-.4 2.1-.8 2-1.1 2.1-1.2 2-1.2 2.1-1.1 2.1-1.2 2-1.4 2.1-2.2 2.1-3.3 2-3 2.1-1.5 2.1-.9 2-.9 2.1-1.3 2-3 2.1-7 2.1-8.1 2-7.5 2.1-8.1 2.1-9.8 2-11.5 2.1-10.9 2.1-12 2-11.4 2.1-6 2.1-.1 2 .1 2.1 .1 2 .1 2.1 .1 2.1 .6 2 1.2 2.1 1.5 2.1 1.9 2 2.1 2.1 2.1 2.1 2 2 2.2 2.1 2.5 2 2.6 2.1 2.6 2.1 2.7 2 2.5 2.1 2.4 2.1 2.4 2 2.4 2.1 2.4 2.1 2.2 2 2.1 2.1 2 2.1 1.7 2 1.5 2.1 1.4 2 1 2.1 .9 2.1 .5 2 .2 2.1 .1 2.1 .4 2 .9 2.1 2.8 2.1 3.6 2 4.8 2.1 5.3 2 5.8 2.1 6 2.1 6.2 2 5.7 2.1 4.8 2.1 4" stroke="#EDB120"/>
<path d="M396.6 224.4l2.1-.1 2-1.1 2.1 1.6 2.1 .5 2 .1 2.1 .2 2 .3 2.1 .1 2.1-.2 2-.3 2.1-.4 2.1-.4 2-.3 2.1-.1 2.1-.1 2 0 2.1 0 2.1-.2 2 0 2.1 .2 2 .2 2.1 .2 2.1 .3 2 .2 2.1 .1 2.1 .1 2 0 2.1-.2 2.1-.2 2-.3 2.1-.3 2-.2 2.1-.3 2.1-.7 2-.9 2.1-1 2.1-.9 2-.8 2.1-.8 2.1-1.2 2-1.5 2.1-1.9 2.1-1.9 2-1.9 2.1-1.4 2-1.2 2.1-1 2.1-.8 2-.5 2.1-.2 2.1 .3 2 .7 2.1 1 2.1 1.1 2 .9 2.1 .8 2 .8 2.1 .8 2.1 .9 2 .8 2.1 .8 2.1 .7 2 .5 2.1 .5 2.1 .3 2 .2 2.1 0 2.1-.3 2-.6 2.1-.9 2-1.1 2.1-1.1 2.1-1.6 2-2.1 2.1-2.8 2.1-3.9 2-3.6 2.1-2 2.1-1.2 2-.8 2.1-1.4 2-3 2.1-7.2 2.1-8.4 2-8 2.1-9 2.1-10.7 2-12.1 2.1-11.3 2.1-11.9 2-11 2.1-5.8 2.1-.1 2 .2 2.1 .2 2 .2 2.1 0 2.1 .6 2 1.1 2.1 1.5 2.1 1.8 2 2.1 2.1 2.1 2.1 1.9 2 2.1 2.1 2.3 2 2.4 2.1 2.5 2.1 2.5 2 2.4 2.1 2.3 2.1 2.3 2 2.3 2.1 2.3 2.1 2.2 2 2.1 2.1 2.1 2.1 2.1 2 2.1 2.1 2.1 2 1.9 2.1 1.4 2.1 1 2 .3 2.1 0 2.1 .1 2 .5 2.1 2.2 2.1 3.1 2 4.2 2.1 4.9 2 5.6 2.1 5.8 2.1 6.1 2 5.7 2.1 4.7 2.1 4" stroke="#0072BD"/>
<path d="M396.6 192.9l2.1-.2 2-1.7 2.1 2.4 2.1 .9 2 .1 2.1 0 2-.2 2.1-.5 2.1-.5 2-.5 2.1-.4 2.1-.2 2 .6 2.1 1.4 2.1 1.9 2 2.1 2.1 2.1 2.1 1.9 2 1.5 2.1 1.3 2 1.4 2.1 1.3 2.1 1.2 2 1.1 2.1 1 2.1 .8 2 .5 2.1 .2 2.1-.1 2-.2 2.1-.4 2-.4 2.1-.4 2.1-.7 2-.8 2.1-1.1 2.1-1.1 2-1.4 2.1-1.9 2.1-2.1 2-2.5 2.1-2.5 2.1-2.5 2-2.2 2.1-1.7 2-1.3 2.1-1.3 2.1-1.1 2-1 2.1-.7 2.1-.5 2 0 2.1 .3 2.1 .6 2 .7 2.1 .7 2 .7 2.1 .9 2.1 1 2 1 2.1 1.1 2.1 1 2 1 2.1 .8 2.1 .7 2 .6 2.1 .4 2.1 .1 2-.2 2.1-.7 2-.9 2.1-1.3 2.1-1.8 2-2.3 2.1-3.7 2.1-6.3 2-5.9 2.1-3.1 2.1-1.8 2-1.7 2.1-2 2-3.4 2.1-8.6 2.1-11.4 2-12 2.1-12.6 2.1-12 2-11.9 2.1-10.1 2.1-9.5 2-8.5 2.1-4.5 2.1-.2 2 .8 2.1 1.3 2 1.6 2.1 1.7 2.1 2.4 2 2.9 2.1 2.9 2.1 2.8 2 2.7 2.1 1.9 2.1 .8 2 .3 2.1 .2 2 .2 2.1 .7 2.1 1.3 2 1.7 2.1 2 2.1 2.1 2 2.4 2.1 2.7 2.1 2.8 2 3.4 2.1 3.7 2.1 3.7 2 3.6 2.1 3.8 2 3.1 2.1 1.2 2.1 .3 2-.2 2.1-.3 2.1 0 2 .9 2.1 1.9 2.1 3 2 4.2 2.1 5 2 5.9 2.1 6.9 2.1 7.5 2 7.3 2.1 6.7 2.1 5.6" stroke="#77AC30"/>
<path d="M396.6 181.1l2.1 .3 2-1.2 2.1 2.7 2.1 1.2 2 .3 2.1 0 2-.3 2.1-.5 2.1-.7 2-.6 2.1-.6 2.1-.2 2 .1 2.1 .6 2.1 .9 2 1.1 2.1 1 2.1 .8 2 .6 2.1 .7 2 .5 2.1 .6 2.1 .5 2 .6 2.1 .5 2.1 .5 2 .5 2.1 .5 2.1 .6 2 .6 2.1 .6 2 .5 2.1 .2 2.1 0 2-.3 2.1-.5 2.1-.7 2-1.2 2.1-1.9 2.1-2.3 2-2.5 2.1-2.6 2.1-2.5 2-2.3 2.1-1.8 2-1.2 2.1-1.1 2.1-1.1 2-.8 2.1-.5 2.1-.3 2 .1 2.1 .6 2.1 1 2 1.1 2.1 1 2 .7 2.1 .7 2.1 .6 2 .5 2.1 .5 2.1 .5 2 .5 2.1 .5 2.1 .5 2 .5 2.1 .5 2.1 .2 2-.1 2.1-.6 2-1 2.1-1.5 2.1-1.9 2-2.4 2.1-3.9 2.1-7.7 2-7.3 2.1-3.6 2.1-2.3 2-2.4 2.1-2.6 2-3.5 2.1-9 2.1-12.3 2-12.5 2.1-12.4 2.1-10.3 2-9.5 2.1-7.7 2.1-7.7 2-7 2.1-3.4 2.1 .2 2 1.2 2.1 1.7 2 2.2 2.1 2.3 2.1 2.9 2 3.4 2.1 3.3 2.1 3.2 2 3 2.1 2.6 2.1 1.9 2 1.7 2.1 1.5 2 1.4 2.1 1.4 2.1 1.4 2 1.2 2.1 1 2.1 .9 2 1.1 2.1 1.2 2.1 1.6 2 2.6 2.1 3.2 2.1 3.2 2 3.1 2.1 3.5 2 2.5 2.1 .5 2.1-.4 2-.7 2.1-.5 2.1 0 2 1.1 2.1 2 2.1 3.2 2 4.3 2.1 5.1 2 6 2.1 7.2 2.1 8.1 2 8 2.1 7.5 2.1 6.2" stroke="#4DBEEE"/>
<path d="M396.6 182.1l2.1 .6 2-.1 2.1 1.6 2.1 .8 2 .3 2.1-.1 2-.3 2.1-.6 2.1-.7 2-.7 2.1-.6 2.1-.2 2-.1 2.1 .5 2.1 .7 2 .9 2.1 .9 2.1 .6 2 .6 2.1 .6 2 .6 2.1 .6 2.1 .5 2 .6 2.1 .5 2.1 .5 2 .4 2.1 .4 2.1 .5 2 .6 2.1 .5 2 .3 2.1 .2 2.1 0 2-.4 2.1-.6 2.1-.7 2-1.5 2.1-2 2.1-2.4 2-2.6 2.1-2.6 2.1-2.4 2-2 2.1-1.5 2-1 2.1-.9 2.1-.8 2-.7 2.1-.4 2.1-.2 2 .3 2.1 .8 2.1 1.2 2 1.2 2.1 1.2 2 .7 2.1 .6 2.1 .4 2 .3 2.1 .2 2.1 .3 2 .3 2.1 .4 2.1 .5 2 .4 2.1 .4 2.1 .2 2-.2 2.1-.6 2-1.1 2.1-1.4 2.1-1.7 2-2.1 2.1-3.5 2.1-7.3 2-6.9 2.1-3.4 2.1-2.1 2-2.4 2.1-2.9 2-3.9 2.1-9.3 2.1-12.6 2-12.7 2.1-12.5 2.1-10.2 2-9.5 2.1-7.8 2.1-7.8 2-7 2.1-3.5 2.1 .4 2 1.2 2.1 1.7 2 2 2.1 2.1 2.1 2.7 2 3.2 2.1 3.1 2.1 3 2 2.9 2.1 2.6 2.1 1.9 2 1.7 2.1 1.4 2 1.5 2.1 1.4 2.1 1.6 2 1.5 2.1 1.6 2.1 1.7 2 1.9 2.1 2.1 2.1 2.3 2 3 2.1 3.5 2.1 3.3 2 3.1 2.1 3.4 2 2.6 2.1 .4 2.1-.4 2-.6 2.1-.5 2.1 .1 2 1.2 2.1 2.2 2.1 3.3 2 4.5 2.1 5.1 2 6.1 2.1 7 2.1 7.6 2 7.5 2.1 6.9 2.1 5.4" stroke="#EDB120"/>
<path d="M396.6 177.6l2.1 .8 2-1.1 2.1 3.7 2.1 1.7 2 .8 2.1 .5 2 .3 2.1 .2 2.1 0 2-.1 2.1 0 2.1 .1 2 .2 2.1 .6 2.1 .9 2 .9 2.1 .9 2.1 .7 2 .7 2.1 .7 2 .7 2.1 .7 2.1 .7 2 .6 2.1 .7 2.1 .6 2 .6 2.1 .6 2.1 .4 2 .4 2.1 .4 2 .3 2.1 .1 2.1-.3 2-.5 2.1-.8 2.1-.9 2-1.5 2.1-2 2.1-2.4 2-2.5 2.1-2.5 2.1-2.2 2-1.8 2.1-1.2 2-.6 2.1-.7 2.1-.6 2-.5 2.1-.5 2.1-.3 2 0 2.1 .5 2.1 .8 2 1 2.1 .9 2 .7 2.1 .9 2.1 1 2 1.1 2.1 1.1 2.1 1 2 .9 2.1 .6 2.1 .4 2 .2 2.1-.2 2.1-.4 2-.8 2.1-1.1 2-1.3 2.1-1.5 2.1-1.7 2-1.9 2.1-3.4 2.1-6.6 2-6.3 2.1-3.1 2.1-1.9 2-2 2.1-2.5 2-3.4 2.1-8.7 2.1-11.7 2-11.8 2.1-11.8 2.1-10.2 2-10 2.1-8.3 2.1-8.5 2-7.7 2.1-4 2.1 0 2 .9 2.1 1.4 2 1.6 2.1 1.6 2.1 2.2 2 2.7 2.1 2.8 2.1 2.7 2 2.8 2.1 2.6 2.1 1.9 2 1.8 2.1 1.7 2 1.6 2.1 1.6 2.1 1.6 2 1.5 2.1 1.4 2.1 1.4 2 1.5 2.1 1.7 2.1 2 2 2.7 2.1 3.2 2.1 3.3 2 3.2 2.1 3.7 2 2.8 2.1 .9 2.1 .1 2-.3 2.1-.3 2.1-.1 2 .9 2.1 1.9 2.1 3 2 4.2 2.1 5 2 5.9 2.1 6.9 2.1 7.6 2 7.3 2.1 6.7 2.1 5.5" stroke="#77AC30"/>
<path d="M396.6 216.2l2.1 .2 2 .3 2.1 .2 2.1 .2 2 .3 2.1 .5 2 .8 2.1 .6 2.1 .3 2 .2 2.1-.1 2.1-.3 2-.1 2.1 0 2.1 .2 2 .1 2.1 .1 2.1-.1 2 0 2.1 0 2 0 2.1-.1 2.1-.1 2 0 2.1-.1 2.1 0 2 .1 2.1 .2 2.1 .5 2 .6 2.1 .6 2 .6 2.1 .3 2.1-.3 2-1.1 2.1-1.8 2.1-2.2 2-2.4 2.1-2.4 2.1-2.7 2-2.5 2.1-2.1 2.1-1.4 2-.8 2.1-.1 2 .4 2.1 .4 2.1 .2 2-.1 2.1-.4 2.1-.4 2-.2 2.1 0 2.1 0 2 .1 2.1 .2 2 .6 2.1 .6 2.1 .6 2 .6 2.1 .6 2.1 .4 2 .5 2.1 .4 2.1 .4 2 .3 2.1 .2 2.1 0 2-.4 2.1-.6 2-.8 2.1-.9 2.1-1.2 2-1.6 2.1-2.4 2.1-3.9 2-3.7 2.1-1.9 2.1-1.1 2-1.2 2.1-1.7 2-3.3 2.1-7.5 2.1-8.9 2-8.4 2.1-8.9 2.1-10 2-11.1 2.1-10.3 2.1-11.1 2-10.4 2.1-5.4 2.1 .2 2 .4 2.1 .3 2 .1 2.1 .1 2.1 .5 2 1.1 2.1 1.5 2.1 1.9 2 2.1 2.1 2.4 2.1 2.3 2 2.6 2.1 2.8 2 2.8 2.1 2.8 2.1 2.6 2 2.4 2.1 2.1 2.1 2.1 2 2 2.1 2.1 2.1 1.9 2 2 2.1 2 2.1 1.8 2 1.7 2.1 1.5 2 1.3 2.1 .8 2.1 .4 2 0 2.1 .1 2.1 .5 2 1.1 2.1 2.9 2.1 3.7 2 4.9 2.1 5.3 2 5.8 2.1 6.1 2.1 6.3 2 5.9 2.1 5 2.1 4.2" stroke="#D95319"/>
<path d="M396.6 181.8l2.1 .1 2-.7 2.1 1.6 2.1 .8 2 .4 2.1 .2 2 .1 2.1-.1 2.1-.2 2-.3 2.1-.2 2.1 0 2 .2 2.1 .7 2.1 1 2 1.1 2.1 1.1 2.1 .7 2 .6 2.1 .5 2 .3 2.1 .2 2.1 .1 2 .1 2.1 .2 2.1 .2 2 .4 2.1 .5 2.1 .6 2 .6 2.1 .7 2 .5 2.1 .3 2.1-.1 2-.3 2.1-.5 2.1-.6 2-1.3 2.1-1.8 2.1-2.3 2-2.5 2.1-2.6 2.1-2.5 2-2.2 2.1-1.6 2-1.2 2.1-1.1 2.1-.9 2-.8 2.1-.5 2.1-.2 2 .2 2.1 .8 2.1 1.1 2 1.2 2.1 1.1 2 .7 2.1 .7 2.1 .5 2 .5 2.1 .4 2.1 .4 2 .4 2.1 .5 2.1 .5 2 .5 2.1 .5 2.1 .2 2-.2 2.1-.6 2-1 2.1-1.4 2.1-2 2-2.3 2.1-4 2.1-7.6 2-7.2 2.1-3.6 2.1-2.2 2-2.3 2.1-2.9 2-4.1 2.1-10 2.1-13.9 2-14.6 2.1-15.1 2.1-12.6 2-11.3 2.1-8.6 2.1-7.5 2-6.3 2.1-3.2 2.1 .2 2 1.2 2.1 2 2 2.3 2.1 2.5 2.1 3.2 2 3.5 2.1 3.4 2.1 3.3 2 3.1 2.1 2.8 2.1 2.1 2 1.7 2.1 1.5 2 1.3 2.1 1.4 2.1 1.3 2 1.2 2.1 1.2 2.1 1.2 2 1.4 2.1 1.7 2.1 2 2 3.1 2.1 3.7 2.1 3.6 2 3.3 2.1 3.7 2 2.6 2.1 0 2.1-.8 2-1 2.1-.8 2.1-.3 2 .8 2.1 1.6 2.1 2.8 2 4 2.1 4.9 2 5.9 2.1 7.4 2.1 8.4 2 8.4 2.1 8 2.1 6.6" stroke="#7E2F8E"/>
<path d="M396.6 189.5l2.1 .9 2 .4 2.1 1.5 2.1 .8 2 .5 2.1 .2 2 0 2.1-.3 2.1-.4 2-.5 2.1-.3 2.1-.2 2 .3 2.1 .6 2.1 1 2 1.1 2.1 1 2.1 .7 2 .7 2.1 .5 2 .2 2.1 0 2.1-.2 2-.1 2.1-.1 2.1 .1 2 .3 2.1 .5 2.1 .4 2 .6 2.1 .5 2 .4 2.1 .4 2.1 0 2-.2 2.1-.2 2.1-.1 2-.5 2.1-.9 2.1-1.5 2-1.9 2.1-2.3 2.1-2.2 2-1.9 2.1-1.5 2-1 2.1-.9 2.1-.9 2-.7 2.1-.6 2.1-.8 2-.6 2.1-.2 2.1 0 2 .1 2.1 .4 2 .7 2.1 .9 2.1 1 2 1.2 2.1 1.1 2.1 1.1 2 1.1 2.1 .8 2.1 .7 2 .5 2.1 .4 2.1 0 2-.3 2.1-.7 2-1 2.1-1.3 2.1-2 2-2.4 2.1-3.9 2.1-6.8 2-6.3 2.1-3.4 2.1-2 2-1.7 2.1-1.6 2-1.8 2.1-6 2.1-7.5 2-6.6 2.1-6.5 2.1-6.6 2-8 2.1-7.9 2.1-10.1 2-10 2.1-5.3 2.1 0 2 .4 2.1 .6 2 .7 2.1 .8 2.1 1.4 2 1.9 2.1 2.2 2.1 2.3 2 2.5 2.1 2.6 2.1 2.5 2 2.6 2.1 2.8 2 2.8 2.1 2.7 2.1 2.5 2 1.9 2.1 1.3 2.1 .9 2 .8 2.1 .9 2.1 1 2 1.6 2.1 2.3 2.1 2.8 2 2.9 2.1 3.1 2 2.8 2.1 1.8 2.1 1 2 .3 2.1-.1 2.1-.1 2 .4 2.1 1.8 2.1 2.9 2 4.1 2.1 4.8 2 5.7 2.1 6.4 2.1 6.7 2 6.4 2.1 5.7 2.1 4.8" stroke="#0072BD"/>
<path d="M396.6 217.6l2.1 .2 2 0 2.1 .3 2.1 .1 2 0 2.1 0 2 .1 2.1-.1 2.1-.2 2-.4 2.1-.5 2.1-.4 2-.4 2.1-.2 2.1-.1 2-.1 2.1-.1 2.1-.3 2 0 2.1 .1 2 .4 2.1 .5 2.1 .6 2 .6 2.1 .5 2.1 .3 2 .1 2.1-.3 2.1-.5 2-.5 2.1-.6 2-.6 2.1-.6 2.1-.7 2-.9 2.1-1.1 2.1-1.2 2-1.4 2.1-1.6 2.1-1.9 2-2 2.1-2.2 2.1-1.9 2-1.6 2.1-1.1 2-.7 2.1-.7 2.1-.5 2-.5 2.1-.4 2.1-.4 2-.3 2.1-.1 2.1 .1 2 .2 2.1 .3 2 .6 2.1 1 2.1 1.1 2 1.3 2.1 1.3 2.1 1.1 2 .9 2.1 .7 2.1 .4 2 .2 2.1 .1 2.1-.2 2-.5 2.1-.8 2-1 2.1-1.1 2.1-1.4 2-1.7 2.1-2.7 2.1-4.5 2-4.2 2.1-2.1 2.1-1.2 2-1.2 2.1-1.4 2-2.3 2.1-6.1 2.1-7.2 2-6.1 2.1-6.2 2.1-7.1 2-9.1 2.1-9.4 2.1-11.7 2-11.6 2.1-6.3 2.1-.3 2 0 2.1 .2 2 .1 2.1 .2 2.1 .8 2 1.3 2.1 1.7 2.1 1.9 2 2.1 2.1 2.3 2.1 2.3 2 2.6 2.1 2.9 2 3 2.1 2.9 2.1 2.8 2 2.4 2.1 2 2.1 2 2 1.8 2.1 1.9 2.1 1.8 2 1.7 2.1 2 2.1 1.9 2 1.8 2.1 1.7 2 1.5 2.1 1.2 2.1 .9 2 .3 2.1 .1 2.1 .1 2 .5 2.1 2.2 2.1 3.2 2 4.3 2.1 5 2 5.6 2.1 6 2.1 6.1 2 5.7 2.1 4.8 2.1 4" stroke="#4DBEEE"/>
<path d="M396.6 209.7l2.1-.3 2-.8 2.1 .8 2.1 .4 2 .3 2.1 .4 2 .4 2.1 .2 2.1 .1 2 .1 2.1 0 2.1 .2 2 .5 2.1 .9 2.1 1.1 2 1.2 2.1 1 2.1 .7 2 .5 2.1 .2 2 0 2.1-.2 2.1-.4 2-.3 2.1-.3 2.1-.1 2 .1 2.1 .2 2.1 .2 2 .3 2.1 .3 2 .4 2.1 .2 2.1-.3 2-.6 2.1-.7 2.1-.9 2-.9 2.1-1.1 2.1-1.5 2-1.7 2.1-1.9 2.1-1.8 2-1.6 2.1-1.1 2-.8 2.1-.6 2.1-.7 2-.4 2.1-.3 2.1 0 2 .4 2.1 .7 2.1 .7 2 .7 2.1 .5 2 .5 2.1 .2 2.1 .2 2 0 2.1 0 2.1-.1 2 .1 2.1 .3 2.1 .4 2 .3 2.1 .2 2.1-.1 2-.4 2.1-.6 2-.9 2.1-1 2.1-1.4 2-1.8 2.1-2.6 2.1-4.5 2-4.1 2.1-2.1 2.1-1.3 2-1.3 2.1-1.6 2-2.6 2.1-6.5 2.1-7.5 2-6.3 2.1-6.4 2.1-7.6 2-9.5 2.1-9.6 2.1-11.7 2-11.4 2.1-6.1 2.1-.2 2 .1 2.1 .3 2 .5 2.1 .7 2.1 1.3 2 1.9 2.1 2.2 2.1 2.2 2 2.2 2.1 1.9 2.1 1.6 2 1.8 2.1 2 2 2.1 2.1 2.3 2.1 2.5 2 2.5 2.1 2.4 2.1 2.5 2 2.5 2.1 2.4 2.1 2.3 2 2.2 2.1 2 2.1 1.9 2 1.8 2.1 1.7 2 1.4 2.1 1.2 2.1 .8 2 .3 2.1 .1 2.1 .1 2 .5 2.1 2.2 2.1 3.1 2 4.3 2.1 4.9 2 5.6 2.1 5.8 2.1 6 2 5.5 2.1 4.7 2.1 3.8" stroke="#D95319"/>
<path d="M396.6 226.6l2.1 .1 2-.2 2.1 .2 2.1-.1 2-.3 2.1-.5 2-.6 2.1-.9 2.1-1.2 2-1.1 2.1-1 2.1-.5 2 .1 2.1 .6 2.1 .9 2 1.1 2.1 .9 2.1 .7 2 .4 2.1 .2 2 .3 2.1 .2 2.1 .2 2 .1 2.1 .1 2.1 0 2-.1 2.1-.3 2.1-.3 2-.3 2.1-.4 2-.4 2.1-.4 2.1-.7 2-1.1 2.1-1.4 2.1-1.5 2-1.5 2.1-1.5 2.1-1.7 2-2 2.1-1.9 2.1-1.9 2-1.6 2.1-1.2 2-.8 2.1-.7 2.1-.6 2-.4 2.1-.1 2.1 .5 2 1 2.1 1.2 2.1 1.3 2 1.1 2.1 .8 2 .7 2.1 .5 2.1 .3 2 .2 2.1 .1 2.1 0 2 .1 2.1 .2 2.1 .4 2 .5 2.1 .4 2.1 .2 2-.1 2.1-.4 2-.6 2.1-.9 2.1-1.3 2-1.7 2.1-2.4 2.1-3.7 2-3.4 2.1-1.8 2.1-1.1 2-1 2.1-1.5 2-3.2 2.1-7.3 2.1-8.4 2-7.9 2.1-8.5 2.1-10.1 2-11.6 2.1-11 2.1-12 2-11.3 2.1-6 2.1-.2 2 .1 2.1 .1 2 .1 2.1 .1 2.1 .7 2 1.3 2.1 1.6 2.1 1.9 2 2.1 2.1 2.1 2.1 2 2 2.1 2.1 2.3 2 2.5 2.1 2.5 2.1 2.6 2 2.5 2.1 2.4 2.1 2.5 2 2.5 2.1 2.4 2.1 2.3 2 2.2 2.1 2 2.1 1.8 2 1.7 2.1 1.4 2 1.3 2.1 .9 2.1 .5 2 .2 2.1 .1 2.1 .3 2 .7 2.1 2.5 2.1 3.5 2 4.5 2.1 5.1 2 5.7 2.1 6 2.1 6.1 2 5.6 2.1 4.7 2.1 3.9" stroke="#4DBEEE"/>
<path d="M396.6 180.4l2.1 .8 2 .4 2.1 1.2 2.1 .9 2 .8 2.1 .7 2 .7 2.1 .5 2.1 .4 2 .3 2.1 .1 2.1 .1 2 .2 2.1 .5 2.1 .7 2 .8 2.1 .8 2.1 .6 2 .6 2.1 .7 2 .7 2.1 .7 2.1 .6 2 .7 2.1 .6 2.1 .6 2 .6 2.1 .6 2.1 .6 2 .5 2.1 .5 2 .4 2.1 .2 2.1-.1 2-.5 2.1-.6 2.1-.8 2-1.3 2.1-1.7 2.1-2.2 2-2.4 2.1-2.5 2.1-2.5 2-2.3 2.1-2 2-1.5 2.1-1.3 2.1-1.2 2-.9 2.1-.2 2.1 .4 2 1.1 2.1 1.8 2.1 2 2 1.9 2.1 1.5 2 .9 2.1 .4 2.1 .2 2 0 2.1-.1 2.1-.2 2-.2 2.1 0 2.1 .1 2-.1 2.1-.2 2.1-.5 2-.8 2.1-1 2-1.3 2.1-1.4 2.1-1.5 2-1.5 2.1-2.8 2.1-6 2-5.6 2.1-2.7 2.1-1.7 2-2.1 2.1-2.5 2-3.8 2.1-9 2.1-12.1 2-12.2 2.1-12.5 2.1-10.8 2-10.5 2.1-8.7 2.1-8.6 2-7.8 2.1-4.1 2.1-.1 2 .7 2.1 1.2 2 1.3 2.1 1.2 2.1 1.9 2 2.4 2.1 2.5 2.1 2.6 2 2.8 2.1 3 2.1 3 2 2.9 2.1 2.9 2 2.7 2.1 2.5 2.1 2.1 2 1.5 2.1 1.1 2.1 1.1 2 1.1 2.1 1.2 2.1 1.6 2 2.5 2.1 3.1 2.1 3.3 2 3.1 2.1 3.5 2 2.6 2.1 .7 2.1-.2 2-.4 2.1-.5 2.1-.3 2 .5 2.1 1.5 2.1 2.7 2 3.9 2.1 4.8 2 5.9 2.1 7.1 2.1 7.8 2 7.8 2.1 7.3 2.1 6.2" stroke="#0072BD"/>
<path d="M396.6 211.2l2.1-.1 2-1.3 2.1 1.8 2.1 .6 2 .1 2.1 .1 2 .1 2.1-.1 2.1-.3 2-.4 2.1-.4 2.1-.4 2-.2 2.1 .2 2.1 .5 2 .5 2.1 .4 2.1 .2 2 .3 2.1 .1 2 .1 2.1-.1 2.1-.1 2-.1 2.1-.1 2.1-.1 2 .1 2.1 0 2.1 .2 2 .2 2.1 .2 2 .1 2.1 0 2.1-.4 2-.6 2.1-.7 2.1-.7 2-.7 2.1-1.1 2.1-1.4 2-1.8 2.1-2.2 2.1-2.6 2-2.9 2.1-2.8 2-2.4 2.1-2.2 2.1-1.8 2-1.1 2.1-.1 2.1 .4 2 1.1 2.1 1.6 2.1 1.8 2 1.7 2.1 1.6 2 1.3 2.1 1.3 2.1 1.3 2 1.3 2.1 1.2 2.1 1 2 .8 2.1 .6 2.1 .2 2-.5 2.1-1.1 2.1-1.5 2-1.9 2.1-1.9 2-1.8 2.1-1.3 2.1-1.1 2-1.1 2.1-1.9 2.1-4 2-3.7 2.1-1.7 2.1-1.1 2-1.6 2.1-2.6 2-4.4 2.1-9.5 2.1-12 2-12 2.1-12.6 2.1-12.2 2-12 2.1-10.1 2.1-9.7 2-8.5 2.1-4.2 2.1 .3 2 .8 2.1 .9 2 1 2.1 1 2.1 1.6 2 2.1 2.1 2.2 2.1 2.4 2 2.5 2.1 2.4 2.1 2.1 2 1.9 2.1 2 2 2 2.1 2.1 2.1 2.1 2 2 2.1 2.1 2.1 2.2 2 2.4 2.1 2.4 2.1 2.5 2 2.8 2.1 2.8 2.1 2.7 2 2.3 2.1 2.5 2 1.8 2.1 .4 2.1-.3 2-.7 2.1-.9 2.1-1 2-.5 2.1 .7 2.1 1.8 2 3.2 2.1 4.3 2 5.8 2.1 7.2 2.1 8.4 2 8.7 2.1 8.5 2.1 8" stroke="#0072BD"/>
<path d="M396.6 183.4l2.1 1.2 2 1 2.1 1 2.1 .7 2 .6 2.1 .3 2 .2 2.1-.1 2.1-.2 2-.3 2.1-.2 2.1-.2 2-.2 2.1-.1 2.1 0 2 .1 2.1 .1 2.1 .1 2 .4 2.1 .6 2 .9 2.1 1 2.1 1.1 2 1.1 2.1 .9 2.1 .8 2 .5 2.1 .2 2.1 .1 2 0 2.1-.1 2-.2 2.1-.2 2.1-.3 2-.4 2.1-.4 2.1-.4 2-1 2.1-1.5 2.1-1.9 2-2.2 2.1-2.3 2.1-2.3 2-1.9 2.1-1.4 2-.9 2.1-.9 2.1-.8 2-.6 2.1-.5 2.1-.3 2 .1 2.1 .5 2.1 .8 2 1 2.1 .9 2 .7 2.1 .8 2.1 .7 2 .8 2.1 .7 2.1 .7 2 .6 2.1 .6 2.1 .4 2 .2 2.1 0 2.1-.2 2-.6 2.1-1 2-1.2 2.1-1.5 2.1-1.7 2-1.9 2.1-3.4 2.1-6.7 2-6.3 2.1-3.1 2.1-1.9 2-2.2 2.1-2.3 2-3.1 2.1-8.2 2.1-10.9 2-10.6 2.1-10.5 2.1-8.8 2-8.9 2.1-7.8 2.1-8.6 2-8.1 2.1-4.2 2.1 .2 2 .8 2.1 1.1 2 1 2.1 .9 2.1 1.4 2 2 2.1 2.1 2.1 2.3 2 2.7 2.1 2.5 2.1 2.1 2 2.1 2.1 2 2 2.1 2.1 2.1 2.1 2.1 2 2.1 2.1 2.2 2.1 2.5 2 2.6 2.1 2.6 2.1 2.8 2 3 2.1 3.1 2.1 3 2 2.8 2.1 2.9 2 2.2 2.1 .5 2.1-.2 2-.6 2.1-.6 2.1-.4 2 .3 2.1 1.4 2.1 2.5 2 3.9 2.1 4.7 2 5.8 2.1 7 2.1 7.7 2 7.7 2.1 7.2 2.1 6.1" stroke="#7E2F8E"/>
<path d="M396.6 213.9l2.1-.3 2-2 2.1 2.4 2.1 .7 2-.1 2.1-.2 2-.3 2.1-.5 2.1-.8 2-.8 2.1-.8 2.1-.6 2-.3 2.1 0 2.1 .3 2 .3 2.1 .2 2.1 .2 2 .1 2.1 .3 2 .4 2.1 .6 2.1 .6 2 .5 2.1 .5 2.1 .4 2 .1 2.1-.4 2.1-.5 2-.7 2.1-.8 2-.8 2.1-.6 2.1-.7 2-.7 2.1-.5 2.1-.4 2-.4 2.1-.6 2.1-1.1 2-1.6 2.1-2 2.1-2.6 2-2.8 2.1-2.7 2-2.4 2.1-2.1 2.1-1.7 2-1 2.1-.2 2.1 .6 2 1.3 2.1 1.7 2.1 1.9 2 1.7 2.1 1.4 2 1.1 2.1 .9 2.1 .8 2 .8 2.1 .7 2.1 .7 2 .6 2.1 .6 2.1 .6 2 .5 2.1 .4 2.1 .2 2-.2 2.1-.5 2-.6 2.1-.7 2.1-.8 2-.9 2.1-1.9 2.1-3.8 2-3.6 2.1-1.6 2.1-1.2 2-1.5 2.1-2.3 2-3.4 2.1-7.3 2.1-7.9 2-6.3 2.1-5.7 2.1-6.5 2-8.6 2.1-9 2.1-11.6 2-11.6 2.1-6.2 2.1-.2 2 0 2.1-.1 2-.2 2.1-.2 2.1 .3 2 .9 2.1 1.4 2.1 1.7 2 2 2.1 2.3 2.1 2.5 2 2.8 2.1 3.1 2 3.2 2.1 3.2 2.1 2.8 2 2.5 2.1 2 2.1 1.8 2 1.7 2.1 1.7 2.1 1.7 2 1.6 2.1 1.8 2.1 2 2 1.9 2.1 2 2 1.8 2.1 1.5 2.1 1.2 2 .5 2.1 .1 2.1 0 2 .4 2.1 2.2 2.1 3 2 4.3 2.1 4.9 2 5.7 2.1 5.9 2.1 6.3 2 5.9 2.1 5 2.1 4.5" stroke="#77AC30"/>
<path d="M396.6 208.7l2.1 .2 2 0 2.1 .5 2.1 .3 2 .2 2.1 .2 2 .1 2.1-.1 2.1-.2 2-.3 2.1-.3 2.1-.1 2 .4 2.1 .8 2.1 1.1 2 1.1 2.1 1 2.1 .7 2 .4 2.1 .2 2-.3 2.1-.5 2.1-.7 2-.8 2.1-.6 2.1-.3 2 0 2.1 .2 2.1 .2 2 .3 2.1 .3 2 .2 2.1 .1 2.1-.3 2-.8 2.1-1 2.1-1.2 2-1.3 2.1-1.5 2.1-1.9 2-2.1 2.1-2.1 2.1-2.1 2-1.9 2.1-1.5 2-1 2.1-1 2.1-.8 2-.6 2.1-.4 2.1 .1 2 .4 2.1 .8 2.1 .9 2 .9 2.1 .7 2 .7 2.1 .9 2.1 1 2 1 2.1 1.1 2.1 1 2 .9 2.1 .9 2.1 .9 2 .7 2.1 .7 2.1 .4 2 .1 2.1-.4 2-.8 2.1-1 2.1-1.5 2-1.8 2.1-2.9 2.1-4.8 2-4.4 2.1-2.4 2.1-1.4 2-1.6 2.1-3 2-5.6 2.1-11.3 2.1-14.5 2-15.3 2.1-15.5 2.1-14.1 2-13.5 2.1-10.8 2.1-9.5 2-7.8 2.1-3.8 2.1 .4 2 1.1 2.1 1.4 2 1.7 2.1 1.7 2.1 2.2 2 2.8 2.1 2.8 2.1 2.9 2 2.9 2.1 2.7 2.1 2.3 2 2.1 2.1 2 2 2 2.1 2 2.1 1.9 2 1.6 2.1 1.4 2.1 1.4 2 1.4 2.1 1.6 2.1 1.9 2 2.5 2.1 3 2.1 3 2 2.9 2.1 3.1 2 2.3 2.1 .7 2.1 0 2-.4 2.1-.4 2.1 0 2 .9 2.1 2 2.1 3.1 2 4.4 2.1 5.1 2 6 2.1 7.1 2.1 7.7 2 7.5 2.1 7 2.1 5.9" stroke="#0072BD"/>
<path d="M396.6 206l2.1 .3 2-1.2 2.1 2.6 2.1 1.2 2 .4 2.1 .4 2 .2 2.1 0 2.1-.2 2-.3 2.1-.4 2.1-.4 2-.2 2.1 .1 2.1 .3 2 .3 2.1 .1 2.1 0 2-.1 2.1-.2 2-.5 2.1-.6 2.1-.7 2-.6 2.1-.6 2.1-.3 2 0 2.1 0 2.1 .2 2 .2 2.1 .3 2 .1 2.1 .1 2.1-.4 2-.5 2.1-.5 2.1-.5 2-.6 2.1-1 2.1-1.4 2-1.8 2.1-2.2 2.1-2.2 2-1.9 2.1-1.6 2-1.1 2.1-1 2.1-.8 2-.7 2.1-.3 2.1 .1 2 .5 2.1 .9 2.1 1.2 2 1.1 2.1 1.1 2 1 2.1 1.1 2.1 1.2 2 1.2 2.1 1.2 2.1 1 2 .9 2.1 .6 2.1 .1 2-.7 2.1-1.4 2.1-1.8 2-2.2 2.1-2.2 2-2 2.1-1.4 2.1-1.3 2-1.4 2.1-2.4 2.1-4.8 2-4.5 2.1-2.1 2.1-1.4 2-1.9 2.1-2.5 2-3.2 2.1-7.1 2.1-7.9 2-6.1 2.1-5.2 2.1-5.2 2-6.8 2.1-7.2 2.1-10.1 2-10.2 2.1-5.2 2.1 .4 2 .4 2.1 .3 2 .3 2.1 .3 2.1 .8 2 1.4 2.1 1.7 2.1 1.9 2 2 2.1 2 2.1 1.8 2 1.9 2.1 2.1 2 2.2 2.1 2.4 2.1 2.4 2 2.4 2.1 2.4 2.1 2.4 2 2.5 2.1 2.5 2.1 2.4 2 2.3 2.1 2.3 2.1 2.2 2 2.1 2.1 2 2 1.7 2.1 1.2 2.1 .8 2 .3 2.1 0 2.1 .1 2 .6 2.1 2.2 2.1 3.1 2 4.3 2.1 4.9 2 5.6 2.1 6 2.1 6.1 2 5.7 2.1 4.8 2.1 4" stroke="#A2142F"/>
<path d="M396.6 207l2.1-.1 2-1.2 2.1 1.6 2.1 .6 2 .2 2.1 .1 2 0 2.1-.3 2.1-.5 2-.5 2.1-.5 2.1-.3 2 0 2.1 .6 2.1 .8 2 .9 2.1 .8 2.1 .7 2 .5 2.1 .4 2 .5 2.1 .4 2.1 .3 2 .4 2.1 .3 2.1 .3 2 .2 2.1 .3 2.1 .3 2 .3 2.1 .3 2 .2 2.1 .1 2.1-.4 2-.8 2.1-1.3 2.1-1.4 2-1.8 2.1-1.9 2.1-2.2 2-2.4 2.1-2.4 2.1-2.2 2-1.9 2.1-1.5 2-1 2.1-.9 2.1-.8 2-.6 2.1-.2 2.1 .3 2 .9 2.1 1.2 2.1 1.4 2 1.2 2.1 1 2 .8 2.1 .6 2.1 .6 2 .5 2.1 .4 2.1 .3 2 .4 2.1 .4 2.1 .4 2 .4 2.1 .4 2.1 .2 2-.2 2.1-.4 2-.7 2.1-.8 2.1-1.1 2-1.4 2.1-2.3 2.1-4.5 2-4.1 2.1-2.1 2.1-1.3 2-1.4 2.1-1.8 2-3 2.1-7.2 2.1-8.7 2-7.9 2.1-8 2.1-8.6 2-10.1 2.1-9.9 2.1-11.5 2-11.1 2.1-6.1 2.1-.3 2 .1 2.1 .4 2 .5 2.1 .6 2.1 1.2 2 1.7 2.1 2 2.1 2.1 2 2.3 2.1 2 2.1 1.7 2 1.7 2.1 1.9 2 2 2.1 2.2 2.1 2.3 2 2.4 2.1 2.4 2.1 2.6 2 2.7 2.1 2.7 2.1 2.5 2 2.5 2.1 2.2 2.1 2.1 2 1.8 2.1 1.8 2 1.4 2.1 .8 2.1 .3 2 0 2.1-.2 2.1 0 2 .5 2.1 2.1 2.1 3.1 2 4.3 2.1 5 2 5.7 2.1 6.1 2.1 6.5 2 6.1 2.1 5.3 2.1 4.4" stroke="#4DBEEE"/>
<path d="M396.6 205.9l2.1 .1 2-1.6 2.1 3 2.1 1.3 2 .6 2.1 .6 2 .7 2.1 .5 2.1 .3 2 .1 2.1 0 2.1-.1 2-.1 2.1 .1 2.1 .2 2 .3 2.1 .1 2.1 .1 2 .2 2.1 .3 2 .3 2.1 .3 2.1 .3 2 .4 2.1 .3 2.1 .3 2 .4 2.1 .5 2.1 .6 2 .7 2.1 .6 2 .6 2.1 .4 2.1-.3 2-1 2.1-1.7 2.1-2 2-2.3 2.1-2.4 2.1-2.5 2-2.5 2.1-2.2 2.1-1.6 2-1.1 2.1-.6 2 0 2.1 0 2.1-.1 2-.3 2.1-.2 2.1 .1 2 .5 2.1 .8 2.1 .9 2 .9 2.1 .7 2 .7 2.1 .7 2.1 .7 2 .6 2.1 .6 2.1 .5 2 .5 2.1 .5 2.1 .4 2 .4 2.1 .2 2.1 0 2-.3 2.1-.6 2-.9 2.1-1.1 2.1-1.6 2-2.1 2.1-3.1 2.1-4.9 2-4.6 2.1-2.4 2.1-1.5 2-1.2 2.1-1.7 2-3.2 2.1-7.5 2.1-9.2 2-8.8 2.1-9.4 2.1-10.2 2-11.6 2.1-10.8 2.1-11.6 2-10.9 2.1-6 2.1-.4 2 .1 2.1 .6 2 .8 2.1 1 2.1 1.6 2 2.2 2.1 2.4 2.1 2.4 2 2.4 2.1 2.2 2.1 2 2 2.1 2.1 2.1 2 2.3 2.1 2.3 2.1 2.4 2 2.3 2.1 2.2 2.1 2.2 2 2.4 2.1 2.4 2.1 2.4 2 2.5 2.1 2.6 2.1 2.7 2 2.4 2.1 2.6 2 2.1 2.1 1.3 2.1 .8 2 .1 2.1-.1 2.1-.2 2 .1 2.1 1.7 2.1 2.6 2 4 2.1 4.7 2 5.7 2.1 6.2 2.1 6.7 2 6.4 2.1 5.6 2.1 4.9" stroke="#77AC30"/>
<path d="M396.6 186.6l2.1-.1 2-1.6 2.1 2.4 2.1 1 2 .3 2.1 .3 2 .2 2.1 0 2.1-.1 2-.3 2.1-.3 2.1-.2 2-.1 2.1 .3 2.1 .6 2 .7 2.1 .6 2.1 .5 2 .4 2.1 .5 2 .5 2.1 .5 2.1 .5 2 .5 2.1 .5 2.1 .4 2 .4 2.1 .3 2.1 .4 2 .5 2.1 .4 2 .3 2.1 .1 2.1-.1 2-.4 2.1-.7 2.1-.8 2-1.3 2.1-1.9 2.1-2.2 2-2.5 2.1-2.6 2.1-2.3 2-2.1 2.1-1.5 2-1 2.1-1 2.1-.8 2-.7 2.1-.5 2.1 0 2 .5 2.1 .9 2.1 1.3 2 1.3 2.1 1.2 2 .8 2.1 .7 2.1 .6 2 .6 2.1 .6 2.1 .5 2 .4 2.1 .3 2.1 .2 2-.1 2.1-.3 2.1-.5 2-.9 2.1-1.2 2-1.3 2.1-1.5 2.1-1.5 2-1.6 2.1-3 2.1-6.1 2-5.9 2.1-2.8 2.1-1.8 2-2.1 2.1-2.5 2-3.4 2.1-8.6 2.1-11.5 2-11.4 2.1-11.4 2.1-9.8 2-9.4 2.1-8 2.1-8.3 2-7.6 2.1-3.9 2.1 .4 2 1 2.1 1.6 2 1.7 2.1 1.9 2.1 2.5 2 2.9 2.1 2.9 2.1 2.9 2 2.8 2.1 2 2.1 1.2 2 .8 2.1 .6 2 .6 2.1 1 2.1 1.3 2 1.7 2.1 1.8 2.1 2 2 2.1 2.1 2.2 2.1 2.5 2 2.9 2.1 3.2 2.1 3.1 2 2.9 2.1 3.2 2 2.4 2.1 .5 2.1-.2 2-.6 2.1-.6 2.1-.5 2 .3 2.1 1.2 2.1 2.4 2 3.6 2.1 4.5 2 5.6 2.1 6.7 2.1 7.5 2 7.4 2.1 6.8 2.1 5.7" stroke="#0072BD"/>
<path d="M396.6 197.2l2.1 .6 2-.8 2.1 2.6 2.1 1.3 2 .6 2.1 .4 2 .4 2.1 0 2.1-.1 2-.2 2.1-.3 2.1-.1 2 .2 2.1 .5 2.1 .7 2 .8 2.1 .7 2.1 .5 2 .6 2.1 .6 2 .7 2.1 .8 2.1 .8 2 .7 2.1 .7 2.1 .5 2 .4 2.1-.1 2.1-.4 2-.7 2.1-.8 2-.7 2.1-.7 2.1-.7 2-.6 2.1-.7 2.1-.7 2-.8 2.1-1 2.1-1.5 2-1.7 2.1-2 2.1-1.9 2-1.7 2.1-1.1 2-.8 2.1-.7 2.1-.7 2-.5 2.1-.4 2.1-.3 2 0 2.1 .2 2.1 .4 2 .5 2.1 .5 2 .7 2.1 .7 2.1 .8 2 .9 2.1 .8 2.1 .7 2 .7 2.1 .7 2.1 .5 2 .5 2.1 .3 2.1 .1 2-.3 2.1-.6 2-.9 2.1-1.1 2.1-1.4 2-1.8 2.1-2.9 2.1-5.1 2-4.7 2.1-2.4 2.1-1.5 2-1.7 2.1-1.9 2-2.3 2.1-5.8 2.1-6.2 2-4.3 2.1-3.5 2.1-4.9 2-7.1 2.1-8.1 2.1-11.2 2-11.5 2.1-6 2.1 0 2 .2 2.1 .1 2 .2 2.1 .1 2.1 .7 2 1.2 2.1 1.7 2.1 1.9 2 2.1 2.1 2.2 2.1 2 2 2.3 2.1 2.6 2 2.7 2.1 2.8 2.1 2.7 2 2.6 2.1 2.4 2.1 2.4 2 2.3 2.1 2.3 2.1 2.2 2 1.9 2.1 1.8 2.1 1.8 2 1.7 2.1 1.5 2 1.4 2.1 1.3 2.1 1 2 .4 2.1 .1 2.1 .1 2 .4 2.1 2.1 2.1 3.1 2 4.2 2.1 4.9 2 5.6 2.1 5.7 2.1 5.9 2 5.3 2.1 4.4 2.1 3.7" stroke="#EDB120"/>
<path d="M396.6 184.4l2.1 .4 2-.7 2.1 2 2.1 .9 2 .4 2.1 .2 2 0 2.1-.2 2.1-.2 2-.3 2.1-.3 2.1-.1 2 .1 2.1 .6 2.1 .9 2 .9 2.1 .9 2.1 .7 2 .6 2.1 .4 2 .2 2.1 0 2.1 0 2 0 2.1 0 2.1 .1 2 .4 2.1 .5 2.1 .7 2 .9 2.1 .8 2 .7 2.1 .5 2.1 .1 2-.3 2.1-.4 2.1-.6 2-1.2 2.1-1.7 2.1-2.1 2-2.5 2.1-2.4 2.1-2.4 2-2 2.1-1.5 2-1.1 2.1-.9 2.1-.9 2-.7 2.1-.6 2.1-.3 2-.1 2.1 .5 2.1 .7 2 .9 2.1 .8 2 .6 2.1 .5 2.1 .7 2 .6 2.1 .6 2.1 .5 2 .6 2.1 .5 2.1 .4 2 .2 2.1 .1 2.1-.1 2-.6 2.1-.9 2-1.1 2.1-1.5 2.1-1.7 2-2 2.1-3.3 2.1-6.8 2-6.4 2.1-3 2.1-1.9 2-2 2.1-2.5 2-3.6 2.1-9.1 2.1-12.4 2-12.9 2.1-13.1 2.1-11 2-10.4 2.1-8.4 2.1-8.1 2-7.2 2.1-3.6 2.1 .1 2 1 2.1 1.6 2 1.9 2.1 1.9 2.1 2.5 2 3 2.1 3 2.1 2.9 2 2.9 2.1 2.6 2.1 1.9 2 1.6 2.1 1.5 2 1.4 2.1 1.4 2.1 1.5 2 1.5 2.1 1.6 2.1 1.7 2 1.8 2.1 2.1 2.1 2.3 2 3 2.1 3.4 2.1 3.3 2 2.9 2.1 3.2 2 2.2 2.1 .1 2.1-.7 2-.9 2.1-.7 2.1-.3 2 .7 2.1 1.6 2.1 2.8 2 4.1 2.1 4.9 2 6 2.1 7.2 2.1 8.1 2 8.2 2.1 7.7 2.1 6.5" stroke="#4DBEEE"/>
<path d="M396.6 210.8l2.1 .3 2-.9 2.1 2 2.1 .9 2 .1 2.1 0 2-.3 2.1-.6 2.1-.8 2-.9 2.1-.9 2.1-.8 2-.6 2.1-.5 2.1-.3 2-.3 2.1-.2 2.1-.2 2 .1 2.1 .3 2 .3 2.1 .4 2.1 .3 2 .3 2.1 .3 2.1 .2 2 .3 2.1 .5 2.1 .8 2 1 2.1 1 2 .9 2.1 .5 2.1-.1 2-.9 2.1-1.6 2.1-1.9 2-2.3 2.1-2.5 2.1-2.7 2-2.6 2.1-2.2 2.1-1.7 2-1.2 2.1-.5 2 0 2.1-.1 2.1-.1 2-.3 2.1-.4 2.1-.6 2-.4 2.1-.2 2.1-.1 2 .1 2.1 .3 2 .6 2.1 .8 2.1 1 2 1.1 2.1 1.1 2.1 1.1 2 1 2.1 .9 2.1 .8 2 .7 2.1 .6 2.1 .3 2-.1 2.1-.5 2-.8 2.1-1.2 2.1-1.7 2-2.4 2.1-3.6 2.1-5.7 2-5.3 2.1-2.9 2.1-1.7 2-1.3 2.1-1.1 2-1.8 2.1-5.7 2.1-7.1 2-6.3 2.1-6.5 2.1-7.4 2-9.1 2.1-9 2.1-11.1 2-10.9 2.1-5.7 2.1-.1 2 .3 2.1 .4 2 .4 2.1 .5 2.1 1.1 2 1.6 2.1 1.9 2.1 2.1 2 2.2 2.1 2 2.1 1.6 2 1.7 2.1 1.9 2 2 2.1 2.2 2.1 2.4 2 2.3 2.1 2.3 2.1 2.3 2 2.4 2.1 2.3 2.1 2.3 2 2.2 2.1 2.1 2.1 2 2 1.9 2.1 1.9 2 1.5 2.1 1 2.1 .7 2 .2 2.1 0 2.1 .2 2 .7 2.1 2.3 2.1 3.3 2 4.4 2.1 5.1 2 5.7 2.1 6 2.1 6.1 2 5.6 2.1 4.7 2.1 3.8" stroke="#77AC30"/>
<path d="M396.6 197l2.1-.6 2-1.8 2.1 2 2.1 .7 2 .3 2.1 .2 2 0 2.1-.2 2.1-.4 2-.4 2.1-.4 2.1-.1 2 .3 2.1 .8 2.1 1.2 2 1.5 2.1 1.4 2.1 1.3 2 1.3 2.1 1.3 2 1.7 2.1 1.7 2.1 1.8 2 1.6 2.1 1.4 2.1 1 2 .4 2.1 .1 2.1-.2 2-.3 2.1-.4 2-.5 2.1-.6 2.1-1 2-1.3 2.1-1.6 2.1-1.8 2-2 2.1-2.3 2.1-2.4 2-2.5 2.1-2.3 2.1-1.9 2-1.5 2.1-1 2-.5 2.1-.5 2.1-.4 2-.5 2.1-.5 2.1-.6 2-.5 2.1-.2 2.1-.1 2 .1 2.1 .3 2 .6 2.1 1.5 2.1 2.2 2 2.5 2.1 2.6 2.1 2.4 2 1.9 2.1 1.1 2.1 .2 2-.6 2.1-1 2.1-1.5 2-1.8 2.1-2 2-1.7 2.1-1.4 2.1-1.2 2-1.2 2.1-2.2 2.1-4.4 2-4.2 2.1-1.9 2.1-1.3 2-1.8 2.1-2.6 2-4.1 2.1-8.4 2.1-10.1 2-9.2 2.1-8.8 2.1-8.5 2-9.3 2.1-8.5 2.1-9.8 2-9.4 2.1-4.6 2.1 .4 2 .6 2.1 .6 2 .4 2.1 .3 2.1 .8 2 1.3 2.1 1.7 2.1 2 2 2.3 2.1 2.4 2.1 2.5 2 2.6 2.1 2.8 2 2.9 2.1 2.9 2.1 2.7 2 2.5 2.1 2.4 2.1 2.3 2 2.4 2.1 2.4 2.1 2.3 2 2.4 2.1 2.4 2.1 2.4 2 2.1 2.1 2.1 2 1.7 2.1 .8 2.1 .3 2-.1 2.1-.3 2.1-.1 2 .5 2.1 1.9 2.1 3 2 4.1 2.1 4.9 2 5.8 2.1 6.3 2.1 6.8 2 6.5 2.1 5.7 2.1 4.9" stroke="#0072BD"/>
<path d="M396.6 207.6l2.1 .4 2-1 2.1 2.8 2.1 1.3 2 .7 2.1 .7 2 .5 2.1 .3 2.1 0 2-.1 2.1-.2 2.1-.2 2-.1 2.1 .1 2.1 .3 2 .3 2.1 .2 2.1 .2 2 .3 2.1 .4 2 .5 2.1 .5 2.1 .6 2 .5 2.1 .5 2.1 .3 2 .2 2.1-.1 2.1-.5 2-.6 2.1-.7 2-.7 2.1-.5 2.1-.8 2-.7 2.1-.9 2.1-.9 2-.9 2.1-1.1 2.1-1.5 2-1.9 2.1-2 2.1-2 2-1.8 2.1-1.3 2-.9 2.1-.9 2.1-.7 2-.5 2.1-.3 2.1 .3 2 .7 2.1 1.1 2.1 1.2 2 1.2 2.1 1.1 2 1 2.1 1.1 2.1 1.2 2 1.2 2.1 1.2 2.1 .9 2 .9 2.1 .6 2.1 .2 2 0 2.1-.3 2.1-.6 2-.9 2.1-1.2 2-1.2 2.1-1.2 2.1-1.4 2-1.7 2.1-2.6 2.1-4.4 2-4.2 2.1-2.1 2.1-1.3 2-1.4 2.1-1.9 2-3.3 2.1-7.5 2.1-8.6 2-7.8 2.1-7.7 2.1-8.6 2-10 2.1-9.7 2.1-11.3 2-10.8 2.1-5.7 2.1 0 2 .3 2.1 .4 2 .5 2.1 .5 2.1 1.2 2 1.7 2.1 2 2.1 2.1 2 2.2 2.1 2.1 2.1 1.9 2 2.1 2.1 2.2 2 2.3 2.1 2.4 2.1 2.3 2 2.2 2.1 2 2.1 1.8 2 1.9 2.1 1.8 2.1 1.9 2 1.9 2.1 2.1 2.1 2.3 2 2.3 2.1 2.3 2 2.2 2.1 1.6 2.1 1 2 .4 2.1 0 2.1 .1 2 .6 2.1 2.3 2.1 3.2 2 4.4 2.1 5 2 5.7 2.1 6 2.1 6.2 2 5.8 2.1 4.9 2.1 4.1" stroke="#0072BD"/>
<path d="M396.6 184.9l2.1 .6 2 .1 2.1 1 2.1 .4 2 .2 2.1-.1 2-.2 2.1-.5 2.1-.6 2-.6 2.1-.5 2.1-.3 2 .3 2.1 .9 2.1 1.4 2 1.5 2.1 1.4 2.1 1 2 .8 2.1 .4 2 .2 2.1 .1 2.1 .1 2 0 2.1 .1 2.1 .2 2 .3 2.1 .4 2.1 .4 2 .5 2.1 .4 2 .3 2.1 .2 2.1-.1 2-.4 2.1-.5 2.1-.7 2-1.2 2.1-1.8 2.1-2.2 2-2.4 2.1-2.5 2.1-2.3 2-2.1 2.1-1.5 2-.9 2.1-.9 2.1-.9 2-.6 2.1-.5 2.1-.3 2 .2 2.1 .6 2.1 1 2 1 2.1 1 2 .8 2.1 .6 2.1 .6 2 .5 2.1 .5 2.1 .5 2 .4 2.1 .5 2.1 .5 2 .5 2.1 .4 2.1 .2 2-.2 2.1-.6 2-1.1 2.1-1.4 2.1-1.8 2-2.1 2.1-3.6 2.1-7 2-6.7 2.1-3.4 2.1-2.1 2-2.2 2.1-2.8 2-4.1 2.1-9.7 2.1-13.1 2-13.7 2.1-13.9 2.1-11.7 2-10.7 2.1-8.5 2.1-7.8 2-6.8 2.1-3.4 2.1 .3 2 1.1 2.1 1.7 2 2 2.1 2 2.1 2.6 2 3.1 2.1 3.1 2.1 2.9 2 3 2.1 2.6 2.1 1.9 2 1.5 2.1 1.3 2 1.3 2.1 1.4 2.1 1.4 2 1.4 2.1 1.3 2.1 1.5 2 1.6 2.1 1.8 2.1 2.2 2 2.9 2.1 3.6 2.1 3.5 2 3.2 2.1 3.7 2 2.7 2.1 .5 2.1-.4 2-.7 2.1-.6 2.1-.2 2 .9 2.1 1.7 2.1 2.9 2 4.2 2.1 4.9 2 6.1 2.1 7.4 2.1 8.2 2 8.4 2.1 7.9 2.1 6.6" stroke="#0072BD"/>
<path d="M396.6 214.2l2.1 0 2-1.4 2.1 2.3 2.1 .9 2 .4 2.1 .4 2 .3 2.1 .1 2.1-.2 2-.2 2.1-.2 2.1-.1 2 .2 2.1 .5 2.1 .7 2 .8 2.1 .7 2.1 .5 2 .4 2.1 .4 2 .2 2.1 .2 2.1 .1 2 .1 2.1 0 2.1 .1 2 .1 2.1 .1 2.1 .1 2 0 2.1 0 2 0 2.1-.1 2.1-.5 2-.9 2.1-1 2.1-.9 2-1 2.1-1 2.1-1.3 2-1.7 2.1-2 2.1-2.2 2-2.1 2.1-2 2-1.5 2.1-1.5 2.1-1.1 2-.7 2.1-.2 2.1 .4 2 .9 2.1 1.3 2.1 1.3 2 1.1 2.1 .9 2 .8 2.1 .7 2.1 .7 2 .6 2.1 .6 2.1 .5 2 .4 2.1 .4 2.1 .3 2 .1 2.1-.1 2.1-.4 2-.7 2.1-.9 2-1.1 2.1-1 2.1-1.3 2-1.7 2.1-2.4 2.1-3.8 2-3.5 2.1-1.7 2.1-1 2-1 2.1-1.7 2-3.7 2.1-8.4 2.1-10.2 2-10.2 2.1-11.3 2.1-12.3 2-13.5 2.1-12.4 2.1-12.4 2-11.3 2.1-6.4 2.1-.9 2 0 2.1 .9 2 1.7 2.1 2.1 2.1 2.9 2 3.5 2.1 3.4 2.1 3.1 2 2.6 2.1 2.1 2.1 1.7 2 1.7 2.1 1.7 2 1.7 2.1 1.8 2.1 1.9 2 1.8 2.1 1.6 2.1 1.6 2 1.7 2.1 1.7 2.1 1.9 2 2.1 2.1 2.5 2.1 2.8 2 2.9 2.1 3.1 2 2.8 2.1 1.8 2.1 1 2 .3 2.1-.2 2.1-.2 2 .3 2.1 1.8 2.1 2.7 2 3.9 2.1 4.6 2 5.6 2.1 6.1 2.1 6.6 2 6.2 2.1 5.6 2.1 4.6" stroke="#A2142F"/>
<path d="M396.6 196.1l2.1 .5 2 .1 2.1 .9 2.1 .4 2 .2 2.1 0 2-.3 2.1-.4 2.1-.6 2-.5 2.1-.4 2.1-.2 2 .2 2.1 .7 2.1 .9 2 1.1 2.1 1.1 2.1 .9 2 .9 2.1 .9 2 1.2 2.1 1.2 2.1 1.2 2 1.2 2.1 1 2.1 .8 2 .5 2.1-.1 2.1-.4 2-.7 2.1-.7 2-.8 2.1-.6 2.1-.7 2-.6 2.1-.7 2.1-.9 2-1.1 2.1-1.5 2.1-1.8 2-2.1 2.1-2.3 2.1-2.2 2-2 2.1-1.5 2-1.1 2.1-1 2.1-1 2-.8 2.1-.6 2.1-.3 2-.1 2.1 .3 2.1 .6 2 .6 2.1 .7 2 .7 2.1 .7 2.1 .8 2 .8 2.1 .7 2.1 .7 2 .6 2.1 .6 2.1 .5 2 .5 2.1 .5 2.1 .2 2-.2 2.1-.5 2-.8 2.1-1.2 2.1-1.5 2-1.9 2.1-3.1 2.1-5.6 2-5.3 2.1-2.7 2.1-1.5 2-1.6 2.1-1.4 2-2.2 2.1-6.6 2.1-8.6 2-8.4 2.1-8.8 2.1-8.9 2-9.9 2.1-9.3 2.1-10.5 2-10 2.1-5.5 2.1-.4 2 .2 2.1 .6 2 .7 2.1 .7 2.1 1.4 2 1.8 2.1 2.1 2.1 2.3 2 2.5 2.1 2.4 2.1 2.3 2 2.3 2.1 2.4 2 2.5 2.1 2.4 2.1 2.2 2 2 2.1 1.8 2.1 1.6 2 1.7 2.1 1.8 2.1 1.9 2 2.2 2.1 2.6 2.1 2.7 2 2.7 2.1 3 2 2.5 2.1 1.3 2.1 .7 2 .1 2.1-.4 2.1-.7 2-.4 2.1 .9 2.1 1.8 2 3.1 2.1 4.1 2 5.3 2.1 6.1 2.1 6.6 2 6.4 2.1 5.6 2.1 4.8" stroke="#D95319"/>
<path d="M396.6 197.1l2.1 1.1 2 .7 2.1 .9 2.1 .6 2 .3 2.1-.3 2-.7 2.1-1 2.1-1.2 2-1.2 2.1-.8 2.1-.3 2 .3 2.1 .8 2.1 1.1 2 1.3 2.1 1.2 2.1 .9 2 .9 2.1 .7 2 .6 2.1 .7 2.1 .6 2 .5 2.1 .6 2.1 .5 2 .5 2.1 .5 2.1 .5 2 .5 2.1 .4 2 .3 2.1 .2 2.1-.3 2-.7 2.1-1 2.1-1.2 2-1.6 2.1-1.9 2.1-2.2 2-2.3 2.1-2.3 2.1-1.8 2-1.3 2.1-.7 2-.1 2.1-.1 2.1-.3 2-.3 2.1-.6 2.1-.7 2-.6 2.1-.4 2.1-.1 2 0 2.1 .2 2 .7 2.1 1.1 2.1 1.4 2 1.6 2.1 1.6 2.1 1.4 2 1.2 2.1 .8 2.1 .3 2-.2 2.1-.6 2.1-1 2-1.3 2.1-1.5 2-1.5 2.1-1.4 2.1-1.4 2-1.8 2.1-2.8 2.1-5.3 2-4.9 2.1-2.5 2.1-1.5 2-1.8 2.1-2.4 2-3.6 2.1-8.1 2.1-9.9 2-9.1 2.1-9 2.1-8.5 2-9.1 2.1-8.3 2.1-9.6 2-9.1 2.1-4.5 2.1 .5 2 .6 2.1 .6 2 .5 2.1 .4 2.1 .9 2 1.4 2.1 1.7 2.1 2 2 2.4 2.1 2.7 2.1 2.7 2 3 2.1 3.1 2 3.1 2.1 2.9 2.1 2.6 2 1.9 2.1 1.5 2.1 1.3 2 1.2 2.1 1.3 2.1 1.4 2 1.9 2.1 2.5 2.1 2.6 2 2.6 2.1 2.8 2 2.3 2.1 1.3 2.1 .7 2 0 2.1-.1 2.1-.1 2 .5 2.1 1.8 2.1 2.9 2 4.2 2.1 4.8 2 5.8 2.1 6.4 2.1 6.9 2 6.5 2.1 5.9 2.1 4.9" stroke="#4DBEEE"/>
<path d="M396.6 189.8l2.1 .1 2 0 2.1 .6 2.1 .4 2 .4 2.1 .4 2 .4 2.1 .3 2.1 .1 2-.1 2.1-.2 2.1-.3 2-.4 2.1-.3 2.1-.1 2-.1 2.1 0 2.1-.1 2 .2 2.1 .6 2 .9 2.1 1.1 2.1 1.2 2 1.1 2.1 1 2.1 .7 2 .3 2.1 .2 2.1 .3 2 .2 2.1 .2 2 .1 2.1 0 2.1-.3 2-.4 2.1-.5 2.1-.6 2-1.1 2.1-1.6 2.1-2.1 2-2.3 2.1-2.5 2.1-2.6 2-2.6 2.1-2.2 2-1.7 2.1-1.6 2.1-1.4 2-.9 2.1-.4 2.1 .2 2 .8 2.1 1.3 2.1 1.6 2 1.5 2.1 1.3 2 .9 2.1 .6 2.1 .5 2 .5 2.1 .4 2.1 .4 2 .4 2.1 .5 2.1 .5 2 .3 2.1 .2 2.1 0 2-.4 2.1-.7 2-1 2.1-1.3 2.1-1.6 2-1.7 2.1-3.2 2.1-6.5 2-6.1 2.1-3 2.1-1.9 2-2.2 2.1-2.4 2-3.1 2.1-8.1 2.1-10.6 2-10.4 2.1-10.2 2.1-8.8 2-9.1 2.1-8.3 2.1-9.3 2-8.9 2.1-4.8 2.1-.1 2 .6 2.1 1.2 2 1.6 2.1 1.8 2.1 2.4 2 2.9 2.1 2.9 2.1 2.9 2 2.7 2.1 2.2 2.1 1.5 2 1.3 2.1 1.2 2 1.2 2.1 1.4 2.1 1.7 2 1.9 2.1 2.1 2.1 2.4 2 2.5 2.1 2.6 2.1 2.7 2 3 2.1 3 2.1 2.9 2 2.5 2.1 2.8 2 2 2.1 .5 2.1-.1 2-.4 2.1-.3 2.1 .1 2 .9 2.1 2.2 2.1 3.2 2 4.4 2.1 5.1 2 5.9 2.1 6.7 2.1 7.3 2 7 2.1 6.3 2.1 5.2" stroke="#4DBEEE"/>
<path d="M396.6 217.4l2.1 .4 2 .2 2.1 .6 2.1 .3 2 .1 2.1 .2 2 0 2.1-.2 2.1-.4 2-.5 2.1-.5 2.1-.3 2 0 2.1 .3 2.1 .5 2 .5 2.1 .5 2.1 .3 2 .2 2.1 .1 2 0 2.1-.2 2.1-.4 2-.3 2.1-.3 2.1-.2 2 0 2.1 .2 2.1 .5 2 .7 2.1 .7 2 .7 2.1 .3 2.1-.3 2-.9 2.1-1.2 2.1-1.4 2-1.4 2.1-1.6 2.1-1.8 2-2 2.1-2.1 2.1-2.1 2-1.8 2.1-1.4 2-1 2.1-.9 2.1-.8 2-.6 2.1-.2 2.1 .3 2 .6 2.1 1 2.1 1 2 .9 2.1 .8 2 .7 2.1 .4 2.1 .3 2 .1 2.1-.1 2.1 0 2 0 2.1 .3 2.1 .5 2 .9 2.1 1 2.1 .9 2 .5 2.1 .1 2-.4 2.1-.9 2.1-1.7 2-2.2 2.1-3.2 2.1-4.9 2-4.4 2.1-2.6 2.1-1.5 2-1.2 2.1-1.5 2-2.7 2.1-6.5 2.1-7.6 2-6.5 2.1-6.7 2.1-8.1 2-9.9 2.1-9.7 2.1-11.4 2-11.1 2.1-5.8 2.1 .2 2 .2 2.1 .1 2 .1 2.1 .1 2.1 .7 2 1.2 2.1 1.5 2.1 1.9 2 1.9 2.1 2 2.1 1.8 2 1.9 2.1 2.2 2 2.4 2.1 2.4 2.1 2.4 2 2.4 2.1 2.2 2.1 2.1 2 2.2 2.1 2.2 2.1 2 2 2 2.1 1.9 2.1 2 2 2 2.1 2.1 2 1.8 2.1 1.7 2.1 1.2 2 .6 2.1 .2 2.1 .3 2 .8 2.1 2.4 2.1 3.4 2 4.5 2.1 5 2 5.7 2.1 5.8 2.1 5.8 2 5.2 2.1 4.2 2.1 3.4" stroke="#77AC30"/>
<path d="M396.6 211.7l2.1 1.4 2 1.1 2.1 .9 2.1 .6 2 0 2.1-.7 2-1.2 2.1-1.7 2.1-1.8 2-1.6 2.1-.9 2.1-.2 2 .6 2.1 1.2 2.1 1.4 2 1.6 2.1 1.3 2.1 1.1 2 .7 2.1 .5 2 .3 2.1 .1 2.1 .1 2 .1 2.1 .1 2.1 .3 2 .3 2.1 .5 2.1 .4 2 .4 2.1 .4 2 .3 2.1 .2 2.1-.3 2-.8 2.1-1.1 2.1-1.3 2-1.3 2.1-1.5 2.1-1.7 2-2 2.1-2 2.1-1.9 2-1.7 2.1-1.2 2-.8 2.1-.8 2.1-.6 2-.5 2.1-.3 2.1-.2 2 .1 2.1 .4 2.1 .4 2 .5 2.1 .4 2 .7 2.1 .7 2.1 .6 2 .7 2.1 .5 2.1 .5 2 .5 2.1 .4 2.1 .6 2 .8 2.1 .9 2.1 .9 2 .4 2.1 0 2-.4 2.1-1 2.1-1.4 2-2 2.1-2.9 2.1-4.5 2-4.2 2.1-2.4 2.1-1.5 2-1.6 2.1-2 2-3.3 2.1-7.1 2.1-8.1 2-7.1 2.1-7.1 2.1-8.3 2-9.9 2.1-9.6 2.1-11.4 2-10.9 2.1-5.6 2.1 .2 2 .4 2.1 .4 2 .4 2.1 .4 2.1 .9 2 1.5 2.1 1.8 2.1 2 2 2.1 2.1 2 2.1 1.7 2 1.9 2.1 2 2 2.2 2.1 2.4 2.1 2.5 2 2.5 2.1 2.4 2.1 2.4 2 2.4 2.1 2.3 2.1 2.3 2 2 2.1 2 2.1 1.9 2 1.7 2.1 1.6 2 1.4 2.1 1.1 2.1 .7 2 .3 2.1 .1 2.1 .2 2 .7 2.1 2.4 2.1 3.3 2 4.5 2.1 5.1 2 5.7 2.1 5.9 2.1 6 2 5.6 2.1 4.7 2.1 4" stroke="#7E2F8E"/>
<path d="M396.6 219.8l2.1 .2 2-.6 2.1 1.3 2.1 .4 2 0 2.1-.1 2-.3 2.1-.5 2.1-.8 2-.8 2.1-.8 2.1-.5 2-.2 2.1 .1 2.1 .4 2 .4 2.1 .4 2.1 .1 2 .1 2.1 .1 2-.1 2.1-.2 2.1-.3 2-.3 2.1-.2 2.1-.3 2 0 2.1-.1 2.1 .3 2 .3 2.1 .3 2 .3 2.1 .2 2.1-.3 2-.8 2.1-1.1 2.1-1.2 2-1.3 2.1-1.4 2.1-1.7 2-2 2.1-2 2.1-2 2-1.8 2.1-1.5 2-1 2.1-.9 2.1-.8 2-.6 2.1-.2 2.1 .2 2 .6 2.1 .9 2.1 1 2 .9 2.1 .7 2 .7 2.1 .6 2.1 .6 2 .4 2.1 .4 2.1 .3 2 .3 2.1 .4 2.1 .4 2 .3 2.1 .3 2.1 0 2-.3 2.1-.6 2-.9 2.1-1 2.1-1.6 2-2.1 2.1-3 2.1-4.7 2-4.3 2.1-2.3 2.1-1.4 2-1.2 2.1-1.5 2-2.9 2.1-6.9 2.1-8.3 2-7.5 2.1-7.9 2.1-9.1 2-10.5 2.1-9.9 2.1-11.2 2-10.6 2.1-5.5 2.1 .1 2 .4 2.1 .4 2 .4 2.1 .5 2.1 1 2 1.6 2.1 1.9 2.1 2.1 2 2.1 2.1 2 2.1 1.8 2 1.8 2.1 1.9 2 2.1 2.1 2.3 2.1 2.4 2 2.4 2.1 2.2 2.1 2.4 2 2.3 2.1 2.3 2.1 2.3 2 2.2 2.1 2.2 2.1 2.1 2 2 2.1 1.9 2 1.6 2.1 1.2 2.1 .7 2 .3 2.1 .2 2.1 .3 2 .9 2.1 2.6 2.1 3.4 2 4.7 2.1 5.2 2 5.8 2.1 6.1 2.1 6.4 2 5.9 2.1 5.1 2.1 4.3" stroke="#A2142F"/>
<path d="M396.6 159.9l2.1 .6 2-2.8 2.1 4.6 2.1 .6 2 .2 2.1 .3 2 .3 2.1 .3 2.1 .4 2 .4 2.1 .4 2.1 .4 2 .4 2.1 .4 2.1 .5 2 .4 2.1 .4 2.1 .5 2 .4 2.1 .4 2 .4 2.1 .5 2.1 .4 2 .4 2.1 .4 2.1 .4 2 .4 2.1 .4 2.1 .4 2 .4 2.1 .5 2 .4 2.1 .4 2.1 .3 2 .2 2.1 0 2.1-.4 2-.7 2.1-1.1 2.1-1.2 2-1.4 2.1-1.4 2.1-1.5 2-1.3 2.1-1.2 2-1.1 2.1-1.1 2.1-1.3 2-1.1 2.1-.9 2.1-.5 2 .1 2.1 .5 2.1 1 2 1 2.1 1 2 .8 2.1 .8 2.1 .9 2 .8 2.1 .9 2.1 .8 2 .7 2.1 .6 2.1 .5 2 .4 2.1 .1 2.1-.1 2-.3 2.1-.5 2-.6 2.1-.8 2.1-1.7 2-2.4 2.1-2.9 2.1-3.9 2-4.4 2.1-4.5 2.1-4 2-3.4 2.1-3.4 2-3.9 2.1-3.9 2.1-4.5 2-5.8 2.1-9.4 2.1-18.1 2-19.6 2.1-15.1 2.1-13.6 2-7.8 2.1-4 2.1-2.3 2 .2 2.1 1.4 2 1.8 2.1 2.5 2.1 3.1 2 3.3 2.1 3.9 2.1 4.4 2 4.1 2.1 3.5 2.1 2.2 2 1.8 2.1 1.4 2 1.3 2.1 1.3 2.1 1.4 2 1.3 2.1 1.1 2.1 1.2 2 1.4 2.1 1.7 2.1 2.2 2 3.8 2.1 4.8 2.1 4.5 2 3.6 2.1 3.5 2 2.5 2.1 .3 2.1-.4 2-.6 2.1-.6 2.1-.3 2 .3 2.1 1.5 2.1 2.1 2 3.3 2.1 4 2 5.3 2.1 7.4 2.1 9.4 2 8.8 2.1 8.1 2.1 6.9" stroke="#4DBEEE"/>
<path d="M396.6 165.6l2.1 1.6 2 1.4 2.1 1.1 2.1 1 2 .8 2.1 .8 2 .7 2.1 .7 2.1 .7 2 .7 2.1 .7 2.1 .7 2 .8 2.1 .9 2.1 .8 2 .9 2.1 .9 2.1 .9 2 .8 2.1 .9 2 .9 2.1 .8 2.1 .8 2 .7 2.1 .7 2.1 .6 2 .6 2.1 .5 2.1 .6 2 .5 2.1 .5 2 .5 2.1 .3 2.1 .3 2 .2 2.1 0 2.1-.4 2-.8 2.1-1.2 2.1-1.4 2-1.6 2.1-1.7 2.1-1.6 2-1.6 2.1-1.4 2-1.3 2.1-1.5 2.1-1.6 2-1.4 2.1-1.2 2.1-.6 2-.1 2.1 .2 2.1 .4 2 .6 2.1 .7 2 .9 2.1 .8 2.1 1 2 .9 2.1 .9 2.1 .8 2 .7 2.1 .6 2.1 .5 2 .2 2.1 .1 2.1-.5 2-1 2.1-1.5 2-1.8 2.1-2.1 2.1-2.3 2-2.5 2.1-2.5 2.1-2.8 2-3.4 2.1-4 2.1-4.5 2-5.1 2.1-5.6 2-6.2 2.1-6.6 2.1-8.1 2-11.7 2.1-14 2.1-14.9 2-14.3 2.1-12.1 2.1-8.4 2-6 2.1-4.9 2.1-2 2 .4 2.1 1.1 2 1.6 2.1 2.1 2.1 2.2 2 2.4 2.1 3.7 2.1 4.5 2 4.6 2.1 3.5 2.1 1.8 2 1.1 2.1 .8 2 .7 2.1 .7 2.1 .8 2 1.2 2.1 1.9 2.1 2.5 2 3.1 2.1 3.5 2.1 3.7 2 3.7 2.1 3.6 2.1 3.3 2 3 2.1 3.5 2 3.2 2.1 2 2.1 .3 2-.5 2.1-.6 2.1-.5 2 .4 2.1 1.7 2.1 2.4 2 3.1 2.1 4.8 2 5.7 2.1 6.1 2.1 7 2 8 2.1 8.8 2.1 9.6" stroke="#D95319"/>
<path d="M396.6 172.9l2.1 .4 2 .5 2.1 .5 2.1 .5 2 .5 2.1 .5 2 .5 2.1 .5 2.1 .6 2 .5 2.1 .5 2.1 .6 2 .5 2.1 .6 2.1 .6 2 .6 2.1 .6 2.1 .6 2 .7 2.1 .6 2 .6 2.1 .6 2.1 .6 2 .6 2.1 .5 2.1 .5 2 .5 2.1 .5 2.1 .5 2 .5 2.1 .5 2 .5 2.1 .4 2.1 .3 2 .2 2.1 0 2.1-.4 2-.9 2.1-1.2 2.1-1.5 2-1.6 2.1-1.7 2.1-1.7 2-1.5 2.1-1.3 2-1.1 2.1-1.2 2.1-1.2 2-1.1 2.1-.9 2.1-.5 2 0 2.1 .2 2.1 .5 2 .6 2.1 .7 2 .9 2.1 .9 2.1 1 2 .9 2.1 .9 2.1 .9 2 .8 2.1 .6 2.1 .5 2 .3 2.1 0 2.1-.4 2-.8 2.1-1.1 2-1.5 2.1-1.6 2.1-1.9 2-2 2.1-2 2.1-2.4 2-3 2.1-3.5 2.1-4.1 2-4.6 2.1-5.1 2-5.6 2.1-6.1 2.1-7.4 2-10.6 2.1-13 2.1-13.8 2-13.6 2.1-11.8 2.1-9 2-7.3 2.1-6.3 2.1-2.6 2 .2 2.1 .4 2 .7 2.1 .9 2.1 1.1 2 1.3 2.1 3.3 2.1 4.7 2 4.8 2.1 3.8 2.1 1.8 2 1.1 2.1 .9 2 .6 2.1 .7 2.1 .9 2 1.2 2.1 1.7 2.1 2.3 2 2.7 2.1 3.1 2.1 3.3 2 3.3 2.1 3.3 2.1 3.1 2 3.1 2.1 3.7 2 3.5 2.1 2.2 2.1 .3 2-.3 2.1-.5 2.1-.3 2 .4 2.1 1.8 2.1 2.6 2 3.4 2.1 5 2 5.9 2.1 6.4 2.1 7.1 2 7.9 2.1 8.8 2.1 9.4" stroke="#77AC30"/>
<path d="M396.6 227.2l2.1 .1 2 .1 2.1 .1 2.1 .1 2 .1 2.1 .1 2 0 2.1 .1 2.1 .1 2 .1 2.1 0 2.1 .1 2 0 2.1 .1 2.1 .1 2 0 2.1 0 2.1 .1 2 0 2.1 .1 2 0 2.1 0 2.1 .1 2 0 2.1 0 2.1 .1 2 0 2.1 0 2.1 0 2 0 2.1 0 2-.2 2.1-.6 2.1-.8 2-.9 2.1-1.2 2.1-1.2 2-1.2 2.1-1.3 2.1-2 2-2.3 2.1-2.5 2.1-2.2 2-1.7 2.1-.9 2 0 2.1 0 2.1 0 2 0 2.1 0 2.1 0 2 0 2.1 .3 2.1 .5 2 .7 2.1 .7 2 .7 2.1 .6 2.1 .4 2 .5 2.1 .6 2.1 .5 2 .5 2.1 .5 2.1 .5 2 .4 2.1 .3 2.1 .2 2 .2 2.1-.1 2-.4 2.1-.8 2.1-1.1 2-1.3 2.1-1.5 2.1-1.5 2-1.5 2.1-1.8 2.1-2.1 2-2.5 2.1-2.9 2-3.5 2.1-5.2 2.1-5.9 2-6.4 2.1-7.2 2.1-8.1 2-9 2.1-9.4 2.1-10.8 2-9.7 2.1-6 2.1-4 2-.2 2.1 .5 2 .8 2.1 1.1 2.1 1.2 2 1.2 2.1 1.2 2.1 1 2 1.1 2.1 1 2.1 1.1 2 1.2 2.1 1.2 2 1.3 2.1 1.4 2.1 1.6 2 1.7 2.1 1.9 2.1 2.7 2 3.4 2.1 3.6 2.1 3.2 2 2.5 2.1 2.1 2.1 1.9 2 1.7 2.1 1.5 2 1.1 2.1 .9 2.1 .8 2 .8 2.1 .7 2.1 .9 2 .8 2.1 1 2.1 1.7 2 2.7 2.1 3.4 2 4.4 2.1 4.9 2.1 4.7 2 4.6 2.1 4.7 2.1 4.7" stroke="#77AC30"/>
<path d="M396.6 225.2l2.1 .1 2 0 2.1 .1 2.1 .1 2 .1 2.1 .1 2 0 2.1 .1 2.1 .1 2 0 2.1 .1 2.1 .1 2 .1 2.1 0 2.1 .1 2 .1 2.1 0 2.1 .1 2 .1 2.1 0 2 .1 2.1 .1 2.1 .1 2 0 2.1 .1 2.1 .1 2 0 2.1 .1 2.1 0 2 0 2.1 0 2-.3 2.1-.5 2.1-.9 2-1.1 2.1-1.2 2.1-1.2 2-1.3 2.1-1.4 2.1-1.9 2-2.3 2.1-2.3 2.1-2.1 2-1.6 2.1-.9 2 0 2.1 0 2.1 0 2 0 2.1 0 2.1 0 2 0 2.1 .2 2.1 .5 2 .5 2.1 .7 2 .6 2.1 .5 2.1 .5 2 .5 2.1 .6 2.1 .6 2 .6 2.1 .5 2.1 .5 2 .5 2.1 .3 2.1 .3 2 .1 2.1 0 2-.5 2.1-.8 2.1-1.2 2-1.3 2.1-1.6 2.1-1.6 2-1.6 2.1-1.9 2.1-2.3 2-2.7 2.1-3 2-3.6 2.1-4.7 2.1-5.6 2-7.1 2.1-8.3 2.1-8.5 2-8.9 2.1-9.3 2.1-10.8 2-9.7 2.1-6 2.1-4 2-.3 2.1 .5 2 .9 2.1 1.1 2.1 1.2 2 1.2 2.1 1.1 2.1 1.1 2 1 2.1 1.1 2.1 1.1 2 1.2 2.1 1.2 2 1.3 2.1 1.4 2.1 1.6 2 1.7 2.1 1.8 2.1 2.6 2 3.2 2.1 3.4 2.1 3.1 2 2.3 2.1 1.9 2.1 1.8 2 1.6 2.1 1.4 2 1.3 2.1 1.2 2.1 1.1 2 1 2.1 1 2.1 1 2 .8 2.1 1 2.1 1.8 2 3.1 2.1 3.8 2 4.9 2.1 5.4 2.1 4.9 2 4.8 2.1 4.8 2.1 4.6" stroke="#77AC30"/>
<path d="M396.6 222.3l2.1 .2 2 .1 2.1 .2 2.1 .1 2 .1 2.1 .1 2 .2 2.1 .1 2.1 .1 2 .1 2.1 .2 2.1 .1 2 .1 2.1 .1 2.1 .1 2 .1 2.1 .1 2.1 .1 2 .1 2.1 .1 2 .2 2.1 .1 2.1 .1 2 .1 2.1 .1 2.1 .1 2 0 2.1 .1 2.1 .1 2 0 2.1 0 2-.3 2.1-.6 2.1-1 2-1.1 2.1-1.3 2.1-1.3 2-1.3 2.1-1.4 2.1-1.8 2-2.1 2.1-2.2 2.1-2 2-1.6 2.1-.9 2-.3 2.1-.2 2.1-.2 2-.1 2.1-.1 2.1-.1 2 .1 2.1 .2 2.1 .5 2 .7 2.1 .7 2 .7 2.1 .6 2.1 .5 2 .5 2.1 .6 2.1 .6 2 .6 2.1 .5 2.1 .5 2 .5 2.1 .3 2.1 .3 2 .1 2.1 0 2-.7 2.1-1.1 2.1-1.4 2-1.8 2.1-1.9 2.1-1.9 2-1.9 2.1-2 2.1-2.3 2-2.6 2.1-3 2-3.6 2.1-4.6 2.1-5.6 2-7.1 2.1-8.3 2.1-9 2-9.9 2.1-10 2.1-10.8 2-9.6 2.1-6.2 2.1-4.2 2-.2 2.1 .5 2 .9 2.1 1.1 2.1 1.3 2 1.3 2.1 1.2 2.1 1.2 2 1.2 2.1 1.3 2.1 1.4 2 1.4 2.1 1.5 2 1.5 2.1 1.6 2.1 1.8 2 1.8 2.1 1.9 2.1 2.2 2 2.6 2.1 2.8 2.1 2.6 2 2.4 2.1 2.3 2.1 2.3 2 2.1 2.1 1.9 2 1.4 2.1 1.3 2.1 1 2 1 2.1 1 2.1 .9 2 .8 2.1 1 2.1 2 2 3.7 2.1 4.4 2 5.2 2.1 5.7 2.1 5.2 2 5 2.1 5 2.1 4.8" stroke="#4DBEEE"/>
<path d="M396.6 220.3l2.1 .1 2 .1 2.1 .2 2.1 .1 2 .1 2.1 .1 2 .1 2.1 .1 2.1 .2 2 .1 2.1 .1 2.1 .1 2 .2 2.1 .1 2.1 .1 2 .2 2.1 .1 2.1 .1 2 .2 2.1 .2 2 .2 2.1 .2 2.1 .2 2 .1 2.1 .2 2.1 .2 2 .1 2.1 .1 2.1 .1 2 .1 2.1 0 2-.4 2.1-.7 2.1-1 2-1.3 2.1-1.4 2.1-1.5 2-1.4 2.1-1.4 2.1-1.9 2-2 2.1-2.1 2.1-1.9 2-1.5 2.1-.9 2-.2 2.1-.3 2.1-.1 2-.2 2.1-.1 2.1 0 2 0 2.1 .4 2.1 .6 2 .7 2.1 .8 2 .8 2.1 .6 2.1 .5 2 .4 2.1 .5 2.1 .5 2 .5 2.1 .5 2.1 .4 2 .3 2.1 .3 2.1 .2 2 .1 2.1-.1 2-.6 2.1-1 2.1-1.5 2-1.7 2.1-1.9 2.1-2 2-2 2.1-2.3 2.1-2.8 2-3.1 2.1-3.5 2-3.8 2.1-4.6 2.1-5.6 2-6.9 2.1-8.4 2.1-9.5 2-10.9 2.1-10.6 2.1-10.8 2-9.5 2.1-6.6 2.1-4.6 2-.3 2.1 .6 2 1 2.1 1.3 2.1 1.4 2 1.5 2.1 1.3 2.1 1.4 2 1.4 2.1 1.5 2.1 1.5 2 1.6 2.1 1.7 2 1.8 2.1 1.8 2.1 1.9 2 2 2.1 2 2.1 2.4 2 2.6 2.1 2.7 2.1 2.6 2 2.3 2.1 2.3 2.1 2.3 2 2.1 2.1 1.9 2 1.6 2.1 1.3 2.1 1.3 2 1.2 2.1 1.1 2.1 1.1 2 .9 2.1 1.1 2.1 2.1 2 3.7 2.1 4.4 2 5.6 2.1 6 2.1 5.3 2 5.1 2.1 5 2.1 4.7" stroke="#EDB120"/>
</g>
</g>
<rect x="41.1" y="5.4" width="306.5" height="241.9" fill="none" stroke="#444" stroke-width="1.4"/>
<g stroke="#444" stroke-width="1"><line x1="41.1" y1="247" x2="41.1" y2="244.5"/>
<line x1="41.1" y1="5.4" x2="41.1" y2="8"/>
<line x1="78.5" y1="247" x2="78.5" y2="244.5"/>
<line x1="78.5" y1="5.4" x2="78.5" y2="8"/>
<line x1="115.9" y1="247" x2="115.9" y2="244.5"/>
<line x1="115.9" y1="5.4" x2="115.9" y2="8"/>
<line x1="153.3" y1="247" x2="153.3" y2="244.5"/>
<line x1="153.3" y1="5.4" x2="153.3" y2="8"/>
<line x1="190.7" y1="247" x2="190.7" y2="244.5"/>
<line x1="190.7" y1="5.4" x2="190.7" y2="8"/>
<line x1="228.1" y1="247" x2="228.1" y2="244.5"/>
<line x1="228.1" y1="5.4" x2="228.1" y2="8"/>
<line x1="265.5" y1="247" x2="265.5" y2="244.5"/>
<line x1="265.5" y1="5.4" x2="265.5" y2="8"/>
<line x1="302.9" y1="247" x2="302.9" y2="244.5"/>
<line x1="302.9" y1="5.4" x2="302.9" y2="8"/>
<line x1="340.3" y1="247" x2="340.3" y2="244.5"/>
<line x1="340.3" y1="5.4" x2="340.3" y2="8"/>
<line x1="41.1" y1="247.0" x2="43.8" y2="247.0"/>
<line x1="347.6" y1="247.0" x2="345" y2="247.0"/>
<line x1="41.1" y1="206.7" x2="43.8" y2="206.7"/>
<line x1="347.6" y1="206.7" x2="345" y2="206.7"/>
<line x1="41.1" y1="166.5" x2="43.8" y2="166.5"/>
<line x1="347.6" y1="166.5" x2="345" y2="166.5"/>
<line x1="41.1" y1="126.2" x2="43.8" y2="126.2"/>
<line x1="347.6" y1="126.2" x2="345" y2="126.2"/>
<line x1="41.1" y1="85.9" x2="43.8" y2="85.9"/>
<line x1="347.6" y1="85.9" x2="345" y2="85.9"/>
<line x1="41.1" y1="45.7" x2="43.8" y2="45.7"/>
<line x1="347.6" y1="45.7" x2="345" y2="45.7"/>
<line x1="41.1" y1="5.4" x2="43.8" y2="5.4"/>
<line x1="347.6" y1="5.4" x2="345" y2="5.4"/></g>
<rect x="393.6" y="5.6" width="287.8" height="243.6" fill="none" stroke="#777" stroke-width="1"/>
<g stroke="#777" stroke-width="0.9"><line x1="396.6" y1="249.2" x2="396.6" y2="246.6"/>
<line x1="396.6" y1="5.6" x2="396.6" y2="8.2"/>
<line x1="431.0" y1="249.2" x2="431.0" y2="246.6"/>
<line x1="431.0" y1="5.6" x2="431.0" y2="8.2"/>
<line x1="465.4" y1="249.2" x2="465.4" y2="246.6"/>
<line x1="465.4" y1="5.6" x2="465.4" y2="8.2"/>
<line x1="499.7" y1="249.2" x2="499.7" y2="246.6"/>
<line x1="499.7" y1="5.6" x2="499.7" y2="8.2"/>
<line x1="534.1" y1="249.2" x2="534.1" y2="246.6"/>
<line x1="534.1" y1="5.6" x2="534.1" y2="8.2"/>
<line x1="568.5" y1="249.2" x2="568.5" y2="246.6"/>
<line x1="568.5" y1="5.6" x2="568.5" y2="8.2"/>
<line x1="602.9" y1="249.2" x2="602.9" y2="246.6"/>
<line x1="602.9" y1="5.6" x2="602.9" y2="8.2"/>
<line x1="637.3" y1="249.2" x2="637.3" y2="246.6"/>
<line x1="637.3" y1="5.6" x2="637.3" y2="8.2"/>
<line x1="671.6" y1="249.2" x2="671.6" y2="246.6"/>
<line x1="671.6" y1="5.6" x2="671.6" y2="8.2"/>
<line x1="393.6" y1="208.1" x2="396.2" y2="208.1"/>
<line x1="681.4" y1="208.1" x2="678.8" y2="208.1"/>
<line x1="393.6" y1="167.6" x2="396.2" y2="167.6"/>
<line x1="681.4" y1="167.6" x2="678.8" y2="167.6"/>
<line x1="393.6" y1="127.0" x2="396.2" y2="127.0"/>
<line x1="681.4" y1="127.0" x2="678.8" y2="127.0"/>
<line x1="393.6" y1="86.5" x2="396.2" y2="86.5"/>
<line x1="681.4" y1="86.5" x2="678.8" y2="86.5"/>
<line x1="393.6" y1="45.9" x2="396.2" y2="45.9"/>
<line x1="681.4" y1="45.9" x2="678.8" y2="45.9"/>
<line x1="393.6" y1="5.4" x2="396.2" y2="5.4"/>
<line x1="681.4" y1="5.4" x2="678.8" y2="5.4"/></g>
<g class="sans" font-size="9.2" fill="#222"><text x="41.1" y="260.8" text-anchor="middle">900</text>
<text x="78.5" y="260.8" text-anchor="middle">1000</text>
<text x="115.9" y="260.8" text-anchor="middle">1100</text>
<text x="153.3" y="260.8" text-anchor="middle">1200</text>
<text x="190.7" y="260.8" text-anchor="middle">1300</text>
<text x="228.1" y="260.8" text-anchor="middle">1400</text>
<text x="265.5" y="260.8" text-anchor="middle">1500</text>
<text x="302.9" y="260.8" text-anchor="middle">1600</text>
<text x="340.3" y="260.8" text-anchor="middle">1700</text>
<text x="37.6" y="250.6" text-anchor="end" letter-spacing="0.6">0</text>
<text x="37.6" y="210.3" text-anchor="end" letter-spacing="0.6">0.1</text>
<text x="37.6" y="170.1" text-anchor="end" letter-spacing="0.6">0.2</text>
<text x="37.6" y="129.8" text-anchor="end" letter-spacing="0.6">0.3</text>
<text x="37.6" y="89.5" text-anchor="end" letter-spacing="0.6">0.4</text>
<text x="37.6" y="49.3" text-anchor="end" letter-spacing="0.6">0.5</text>
<text x="37.6" y="9.0" text-anchor="end" letter-spacing="0.6">0.6</text></g>
<g class="sans" font-size="8.8" fill="#222"><text x="396.6" y="263.4" text-anchor="middle">900</text>
<text x="431.0" y="263.4" text-anchor="middle">1000</text>
<text x="465.4" y="263.4" text-anchor="middle">1100</text>
<text x="499.7" y="263.4" text-anchor="middle">1200</text>
<text x="534.1" y="263.4" text-anchor="middle">1300</text>
<text x="568.5" y="263.4" text-anchor="middle">1400</text>
<text x="602.9" y="263.4" text-anchor="middle">1500</text>
<text x="637.3" y="263.4" text-anchor="middle">1600</text>
<text x="671.6" y="263.4" text-anchor="middle">1700</text>
<text x="390.2" y="252.0" text-anchor="end">0</text>
<text x="390.2" y="211.4" text-anchor="end">0.1</text>
<text x="390.2" y="170.9" text-anchor="end">0.2</text>
<text x="390.2" y="130.3" text-anchor="end">0.3</text>
<text x="390.2" y="89.8" text-anchor="end">0.4</text>
<text x="390.2" y="49.2" text-anchor="end">0.5</text>
<text x="390.2" y="8.7" text-anchor="end">0.6</text></g>
<text class="serif" font-weight="bold" font-size="12" fill="#111" transform="translate(10.2,127.2) rotate(-90)" text-anchor="middle">Absorption</text>
<text class="serif" font-size="11.5" fill="#222" stroke="#222" stroke-width="0.3" transform="translate(371.8,125.4) rotate(-90)" text-anchor="middle">Absorption</text>
<g class="serif" fill="#111">
<text font-weight="bold" font-size="12.4" x="145.5" y="278.4" textLength="62.4" lengthAdjust="spacingAndGlyphs">Wavelength</text>
<text font-size="13.8" x="215.7" y="276.9" stroke="#111" stroke-width="0.25">(</text>
<text font-weight="bold" font-size="12" x="220.7" y="278.2" textLength="15" lengthAdjust="spacingAndGlyphs">nm</text>
<text font-size="13.8" x="236.3" y="276.9" stroke="#111" stroke-width="0.25">)</text>
<text font-size="14" x="183.2" y="295.6" stroke="#111" stroke-width="0.3">(<tspan font-weight="bold" stroke="none">a</tspan>)</text>
<text font-size="14" x="530.4" y="295.6" stroke="#111" stroke-width="0.3">(<tspan font-weight="bold" stroke="none">b</tspan>)</text>
</g>
<g class="serif" fill="#1a1a1a" stroke="#1a1a1a" stroke-width="0.3">
<text font-size="12.4" x="507.3" y="276.7" textLength="55.2" lengthAdjust="spacingAndGlyphs">Wavelength</text>
<text font-size="12.8" x="569.1" y="275.6">(</text>
<text font-size="12.2" x="573.8" y="276.7" textLength="14.4" lengthAdjust="spacingAndGlyphs">nm</text>
<text font-size="12.8" x="588.2" y="275.6">)</text>
</g>
</svg>
</body></html>
